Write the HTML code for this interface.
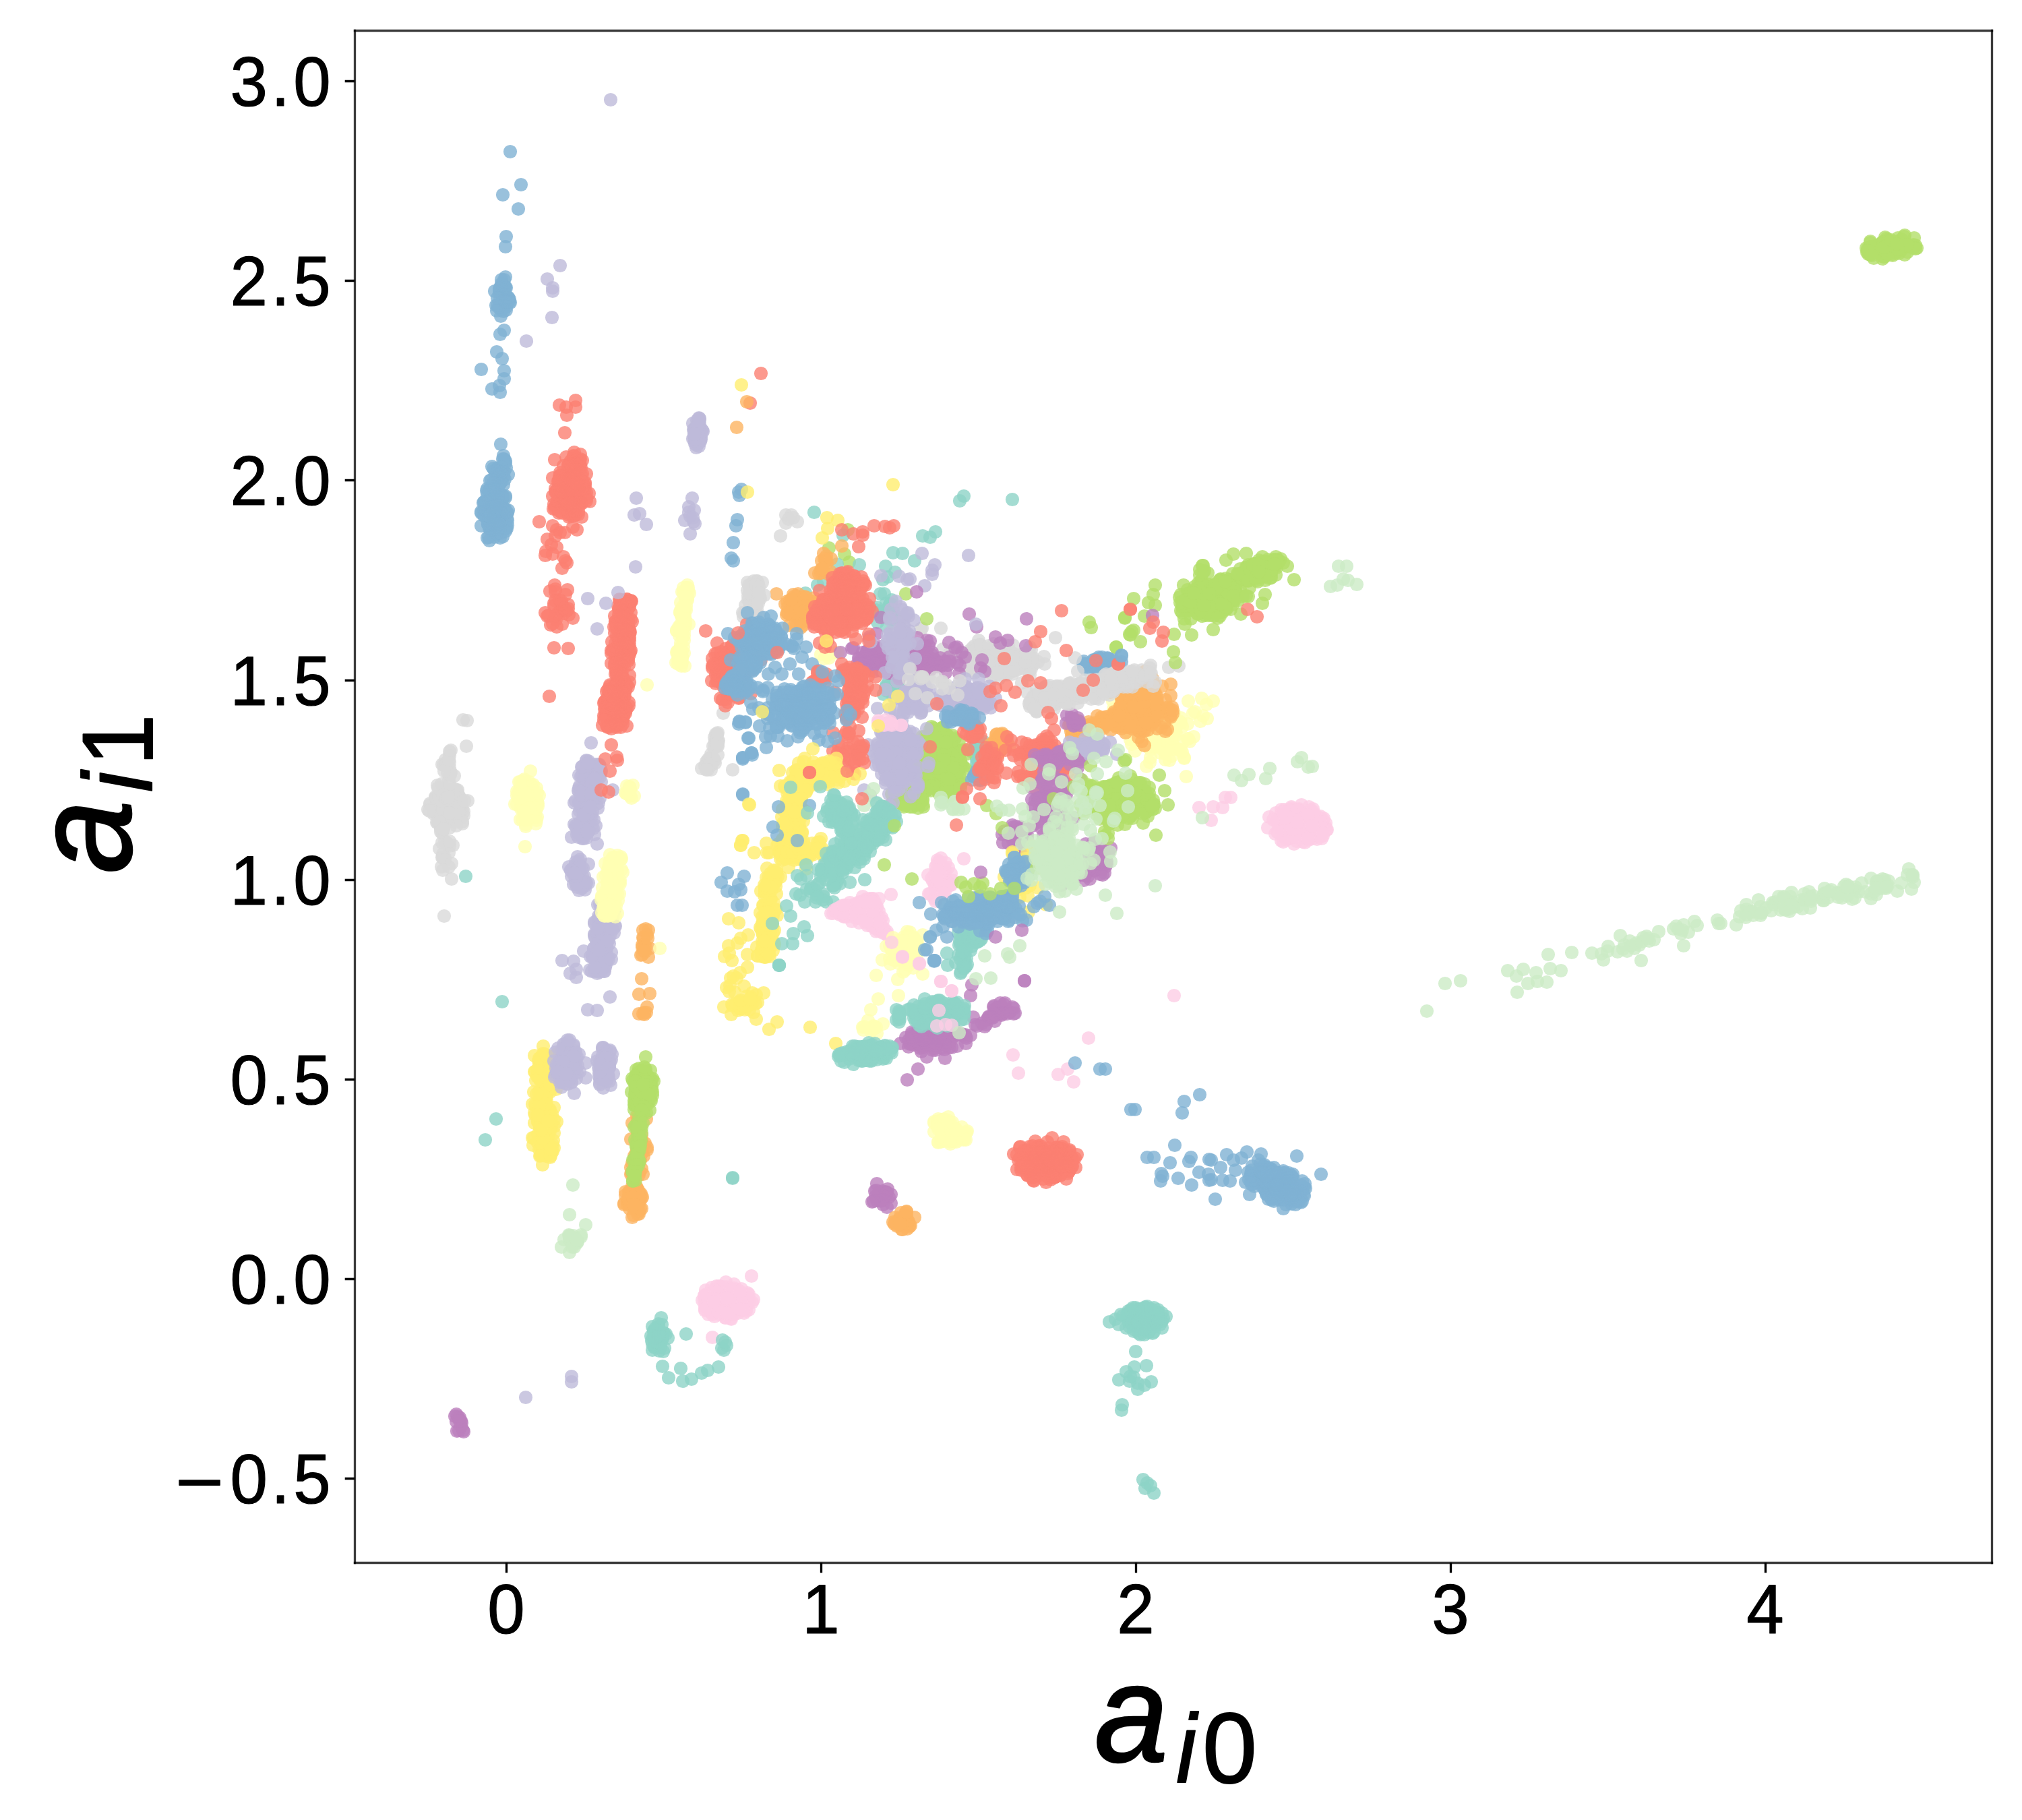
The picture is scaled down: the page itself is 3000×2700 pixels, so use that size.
<!DOCTYPE html>
<html lang="en"><head><meta charset="utf-8"><title>a_i0 vs a_i1 scatter</title>
<style>
html,body{margin:0;padding:0;background:#fff}
svg{display:block}
circle{r:10.1px}
text{font-family:"Liberation Sans",sans-serif;fill:#000}
.i{font-style:italic}
</style></head><body>
<svg width="3000" height="2700" viewBox="0 0 3000 2700">
<rect width="3000" height="2700" fill="#fff"/>
<g fill-opacity="0.8">
<g fill="#80b1d3"><circle cx="757" cy="225" r="10"/><circle cx="773" cy="274" r="10"/><circle cx="746" cy="289" r="10"/><circle cx="769" cy="310" r="10"/><circle cx="751" cy="351" r="10"/><circle cx="750" cy="366" r="10"/></g>
<g fill="#80b1d3"><circle cx="745" cy="447" r="10"/><circle cx="746" cy="432" r="10"/><circle cx="741" cy="434" r="10"/><circle cx="754" cy="446" r="10"/><circle cx="754" cy="442" r="10"/><circle cx="750" cy="441" r="10"/><circle cx="736" cy="453" r="10"/><circle cx="750" cy="447" r="10"/><circle cx="741" cy="430" r="10"/><circle cx="749" cy="437" r="10"/><circle cx="750" cy="426" r="10"/><circle cx="749" cy="445" r="10"/><circle cx="743" cy="469" r="10"/><circle cx="751" cy="460" r="10"/><circle cx="743" cy="425" r="10"/><circle cx="745" cy="436" r="10"/><circle cx="751" cy="442" r="10"/><circle cx="744" cy="421" r="10"/><circle cx="744" cy="460" r="10"/><circle cx="742" cy="442" r="10"/><circle cx="750" cy="411" r="10"/><circle cx="747" cy="462" r="10"/><circle cx="734" cy="432" r="10"/><circle cx="746" cy="423" r="10"/><circle cx="750" cy="437" r="10"/><circle cx="738" cy="453" r="10"/><circle cx="751" cy="455" r="10"/><circle cx="756" cy="444" r="10"/><circle cx="748" cy="415" r="10"/><circle cx="751" cy="427" r="10"/><circle cx="744" cy="415" r="10"/><circle cx="741" cy="428" r="10"/><circle cx="738" cy="442" r="10"/><circle cx="756" cy="448" r="10"/><circle cx="749" cy="425" r="10"/><circle cx="740" cy="456" r="10"/><circle cx="754" cy="441" r="10"/><circle cx="749" cy="446" r="10"/><circle cx="757" cy="449" r="10"/><circle cx="750" cy="448" r="10"/><circle cx="737" cy="461" r="10"/><circle cx="753" cy="448" r="10"/></g>
<g fill="#80b1d3"><circle cx="748" cy="490" r="10"/><circle cx="742" cy="496" r="10"/><circle cx="737" cy="522" r="10"/><circle cx="745" cy="532" r="10"/><circle cx="714" cy="548" r="10"/><circle cx="748" cy="550" r="10"/><circle cx="748" cy="562" r="10"/><circle cx="741" cy="572" r="10"/><circle cx="730" cy="577" r="10"/><circle cx="742" cy="582" r="10"/></g>
<g fill="#bebada"><circle cx="906" cy="148" r="10"/><circle cx="831" cy="394" r="10"/><circle cx="812" cy="414" r="10"/><circle cx="820" cy="427" r="10"/><circle cx="820" cy="432" r="10"/><circle cx="819" cy="471" r="10"/><circle cx="781" cy="506" r="10"/></g>
<g fill="#80b1d3"><circle cx="743" cy="659" r="10"/></g>
<g fill="#80b1d3"><circle cx="730" cy="692" r="10"/><circle cx="747" cy="676" r="10"/><circle cx="741" cy="713" r="10"/><circle cx="734" cy="721" r="10"/><circle cx="745" cy="698" r="10"/><circle cx="744" cy="708" r="10"/><circle cx="743" cy="715" r="10"/><circle cx="738" cy="695" r="10"/><circle cx="748" cy="700" r="10"/><circle cx="737" cy="712" r="10"/><circle cx="751" cy="694" r="10"/><circle cx="734" cy="698" r="10"/><circle cx="741" cy="696" r="10"/><circle cx="750" cy="687" r="10"/><circle cx="750" cy="684" r="10"/><circle cx="737" cy="708" r="10"/><circle cx="749" cy="711" r="10"/><circle cx="744" cy="702" r="10"/><circle cx="743" cy="708" r="10"/><circle cx="741" cy="704" r="10"/><circle cx="745" cy="700" r="10"/><circle cx="747" cy="707" r="10"/><circle cx="754" cy="704" r="10"/><circle cx="739" cy="695" r="10"/><circle cx="742" cy="712" r="10"/><circle cx="740" cy="705" r="10"/><circle cx="735" cy="703" r="10"/><circle cx="744" cy="703" r="10"/><circle cx="739" cy="708" r="10"/><circle cx="744" cy="693" r="10"/><circle cx="739" cy="699" r="10"/><circle cx="741" cy="699" r="10"/><circle cx="748" cy="685" r="10"/><circle cx="742" cy="712" r="10"/><circle cx="747" cy="719" r="10"/><circle cx="732" cy="695" r="10"/><circle cx="740" cy="708" r="10"/><circle cx="748" cy="681" r="10"/><circle cx="746" cy="681" r="10"/><circle cx="743" cy="716" r="10"/></g>
<g fill="#80b1d3"><circle cx="732" cy="765" r="10"/><circle cx="742" cy="763" r="10"/><circle cx="733" cy="797" r="10"/><circle cx="745" cy="753" r="10"/><circle cx="744" cy="754" r="10"/><circle cx="735" cy="777" r="10"/><circle cx="736" cy="775" r="10"/><circle cx="740" cy="737" r="10"/><circle cx="723" cy="725" r="10"/><circle cx="747" cy="778" r="10"/><circle cx="750" cy="738" r="10"/><circle cx="734" cy="733" r="10"/><circle cx="742" cy="798" r="10"/><circle cx="725" cy="797" r="10"/><circle cx="744" cy="756" r="10"/><circle cx="733" cy="746" r="10"/><circle cx="738" cy="770" r="10"/><circle cx="750" cy="736" r="10"/><circle cx="746" cy="796" r="10"/><circle cx="749" cy="756" r="10"/><circle cx="726" cy="784" r="10"/><circle cx="735" cy="763" r="10"/><circle cx="749" cy="754" r="10"/><circle cx="714" cy="780" r="10"/><circle cx="737" cy="745" r="10"/><circle cx="734" cy="780" r="10"/><circle cx="735" cy="792" r="10"/><circle cx="733" cy="785" r="10"/><circle cx="727" cy="781" r="10"/><circle cx="721" cy="760" r="10"/><circle cx="732" cy="759" r="10"/><circle cx="728" cy="766" r="10"/><circle cx="753" cy="761" r="10"/><circle cx="740" cy="784" r="10"/><circle cx="732" cy="730" r="10"/><circle cx="728" cy="786" r="10"/><circle cx="717" cy="746" r="10"/><circle cx="745" cy="779" r="10"/><circle cx="734" cy="779" r="10"/><circle cx="736" cy="732" r="10"/><circle cx="718" cy="745" r="10"/><circle cx="744" cy="746" r="10"/><circle cx="724" cy="742" r="10"/><circle cx="718" cy="757" r="10"/><circle cx="722" cy="769" r="10"/><circle cx="727" cy="713" r="10"/><circle cx="742" cy="753" r="10"/><circle cx="737" cy="749" r="10"/><circle cx="742" cy="778" r="10"/><circle cx="741" cy="768" r="10"/><circle cx="748" cy="776" r="10"/><circle cx="743" cy="791" r="10"/><circle cx="731" cy="749" r="10"/><circle cx="724" cy="777" r="10"/><circle cx="754" cy="757" r="10"/><circle cx="740" cy="782" r="10"/><circle cx="724" cy="758" r="10"/><circle cx="737" cy="780" r="10"/><circle cx="734" cy="755" r="10"/><circle cx="723" cy="751" r="10"/><circle cx="743" cy="762" r="10"/><circle cx="725" cy="740" r="10"/><circle cx="740" cy="772" r="10"/><circle cx="752" cy="770" r="10"/><circle cx="733" cy="772" r="10"/><circle cx="737" cy="743" r="10"/><circle cx="719" cy="744" r="10"/><circle cx="737" cy="764" r="10"/><circle cx="730" cy="737" r="10"/><circle cx="722" cy="728" r="10"/><circle cx="752" cy="784" r="10"/><circle cx="753" cy="779" r="10"/><circle cx="725" cy="766" r="10"/><circle cx="733" cy="772" r="10"/><circle cx="726" cy="757" r="10"/><circle cx="739" cy="769" r="10"/><circle cx="741" cy="765" r="10"/><circle cx="731" cy="779" r="10"/><circle cx="734" cy="740" r="10"/><circle cx="727" cy="760" r="10"/><circle cx="733" cy="764" r="10"/><circle cx="734" cy="764" r="10"/><circle cx="733" cy="730" r="10"/><circle cx="738" cy="785" r="10"/><circle cx="739" cy="756" r="10"/><circle cx="739" cy="737" r="10"/><circle cx="714" cy="761" r="10"/><circle cx="724" cy="778" r="10"/><circle cx="723" cy="798" r="10"/><circle cx="730" cy="727" r="10"/><circle cx="726" cy="772" r="10"/><circle cx="739" cy="764" r="10"/><circle cx="750" cy="777" r="10"/><circle cx="734" cy="774" r="10"/><circle cx="751" cy="783" r="10"/><circle cx="745" cy="734" r="10"/><circle cx="732" cy="778" r="10"/><circle cx="731" cy="786" r="10"/><circle cx="740" cy="782" r="10"/><circle cx="747" cy="755" r="10"/><circle cx="730" cy="781" r="10"/><circle cx="744" cy="760" r="10"/><circle cx="722" cy="764" r="10"/><circle cx="738" cy="787" r="10"/><circle cx="742" cy="761" r="10"/><circle cx="743" cy="773" r="10"/><circle cx="736" cy="761" r="10"/><circle cx="731" cy="776" r="10"/><circle cx="723" cy="745" r="10"/><circle cx="734" cy="725" r="10"/><circle cx="729" cy="712" r="10"/><circle cx="727" cy="774" r="10"/><circle cx="740" cy="759" r="10"/><circle cx="732" cy="726" r="10"/><circle cx="753" cy="772" r="10"/><circle cx="746" cy="739" r="10"/><circle cx="732" cy="716" r="10"/><circle cx="742" cy="782" r="10"/><circle cx="714" cy="759" r="10"/><circle cx="741" cy="718" r="10"/><circle cx="727" cy="726" r="10"/><circle cx="734" cy="766" r="10"/><circle cx="741" cy="777" r="10"/><circle cx="750" cy="788" r="10"/><circle cx="720" cy="748" r="10"/><circle cx="723" cy="734" r="10"/><circle cx="733" cy="760" r="10"/><circle cx="739" cy="722" r="10"/><circle cx="721" cy="759" r="10"/><circle cx="732" cy="752" r="10"/><circle cx="733" cy="742" r="10"/><circle cx="741" cy="768" r="10"/><circle cx="733" cy="744" r="10"/><circle cx="724" cy="761" r="10"/><circle cx="718" cy="765" r="10"/><circle cx="736" cy="727" r="10"/><circle cx="731" cy="752" r="10"/><circle cx="739" cy="775" r="10"/><circle cx="734" cy="740" r="10"/><circle cx="732" cy="758" r="10"/><circle cx="742" cy="767" r="10"/><circle cx="726" cy="728" r="10"/><circle cx="730" cy="742" r="10"/><circle cx="722" cy="757" r="10"/><circle cx="729" cy="762" r="10"/><circle cx="740" cy="750" r="10"/><circle cx="746" cy="763" r="10"/><circle cx="726" cy="766" r="10"/><circle cx="737" cy="791" r="10"/><circle cx="742" cy="783" r="10"/><circle cx="739" cy="756" r="10"/><circle cx="739" cy="734" r="10"/><circle cx="746" cy="736" r="10"/><circle cx="732" cy="760" r="10"/><circle cx="746" cy="761" r="10"/><circle cx="726" cy="766" r="10"/><circle cx="740" cy="777" r="10"/><circle cx="726" cy="802" r="10"/><circle cx="752" cy="760" r="10"/><circle cx="737" cy="750" r="10"/></g>
<g fill="#fb8072"><circle cx="830" cy="601" r="10"/><circle cx="840" cy="604" r="10"/><circle cx="854" cy="594" r="10"/><circle cx="854" cy="604" r="10"/><circle cx="841" cy="616" r="10"/><circle cx="838" cy="642" r="10"/></g>
<g fill="#fb8072"><circle cx="861" cy="681" r="10"/><circle cx="856" cy="684" r="10"/><circle cx="848" cy="699" r="10"/><circle cx="861" cy="690" r="10"/><circle cx="848" cy="700" r="10"/><circle cx="852" cy="694" r="10"/><circle cx="862" cy="705" r="10"/><circle cx="852" cy="700" r="10"/><circle cx="848" cy="689" r="10"/><circle cx="861" cy="674" r="10"/><circle cx="860" cy="684" r="10"/><circle cx="852" cy="686" r="10"/><circle cx="851" cy="676" r="10"/><circle cx="852" cy="671" r="10"/><circle cx="852" cy="694" r="10"/><circle cx="855" cy="687" r="10"/><circle cx="846" cy="692" r="10"/><circle cx="849" cy="710" r="10"/><circle cx="857" cy="688" r="10"/><circle cx="849" cy="681" r="10"/><circle cx="846" cy="685" r="10"/><circle cx="854" cy="697" r="10"/><circle cx="847" cy="690" r="10"/><circle cx="849" cy="692" r="10"/><circle cx="853" cy="695" r="10"/><circle cx="850" cy="695" r="10"/><circle cx="852" cy="700" r="10"/><circle cx="840" cy="678" r="10"/><circle cx="852" cy="677" r="10"/><circle cx="845" cy="698" r="10"/><circle cx="848" cy="698" r="10"/><circle cx="857" cy="694" r="10"/><circle cx="855" cy="689" r="10"/><circle cx="843" cy="690" r="10"/><circle cx="855" cy="683" r="10"/><circle cx="851" cy="700" r="10"/><circle cx="846" cy="698" r="10"/><circle cx="864" cy="683" r="10"/><circle cx="853" cy="688" r="10"/><circle cx="862" cy="694" r="10"/></g>
<g fill="#fb8072"><circle cx="859" cy="715" r="10"/><circle cx="846" cy="730" r="10"/><circle cx="859" cy="692" r="10"/><circle cx="857" cy="727" r="10"/><circle cx="852" cy="738" r="10"/><circle cx="824" cy="725" r="10"/><circle cx="868" cy="718" r="10"/><circle cx="831" cy="701" r="10"/><circle cx="828" cy="737" r="10"/><circle cx="870" cy="739" r="10"/><circle cx="838" cy="716" r="10"/><circle cx="854" cy="742" r="10"/><circle cx="831" cy="705" r="10"/><circle cx="850" cy="735" r="10"/><circle cx="827" cy="726" r="10"/><circle cx="838" cy="740" r="10"/><circle cx="844" cy="728" r="10"/><circle cx="841" cy="753" r="10"/><circle cx="866" cy="722" r="10"/><circle cx="858" cy="714" r="10"/><circle cx="847" cy="746" r="10"/><circle cx="868" cy="722" r="10"/><circle cx="845" cy="734" r="10"/><circle cx="824" cy="730" r="10"/><circle cx="836" cy="738" r="10"/><circle cx="847" cy="736" r="10"/><circle cx="838" cy="749" r="10"/><circle cx="842" cy="717" r="10"/><circle cx="853" cy="696" r="10"/><circle cx="836" cy="730" r="10"/><circle cx="858" cy="726" r="10"/><circle cx="850" cy="716" r="10"/><circle cx="850" cy="766" r="10"/><circle cx="837" cy="730" r="10"/><circle cx="848" cy="752" r="10"/><circle cx="855" cy="747" r="10"/><circle cx="849" cy="736" r="10"/><circle cx="860" cy="738" r="10"/><circle cx="870" cy="703" r="10"/><circle cx="858" cy="722" r="10"/><circle cx="846" cy="724" r="10"/><circle cx="839" cy="712" r="10"/><circle cx="837" cy="744" r="10"/><circle cx="846" cy="731" r="10"/><circle cx="844" cy="750" r="10"/><circle cx="853" cy="727" r="10"/><circle cx="856" cy="727" r="10"/><circle cx="829" cy="761" r="10"/><circle cx="853" cy="709" r="10"/><circle cx="862" cy="737" r="10"/><circle cx="851" cy="749" r="10"/><circle cx="849" cy="727" r="10"/><circle cx="824" cy="751" r="10"/><circle cx="846" cy="724" r="10"/><circle cx="851" cy="732" r="10"/><circle cx="856" cy="722" r="10"/><circle cx="840" cy="744" r="10"/><circle cx="865" cy="722" r="10"/><circle cx="844" cy="764" r="10"/><circle cx="841" cy="746" r="10"/><circle cx="870" cy="731" r="10"/><circle cx="864" cy="715" r="10"/><circle cx="849" cy="728" r="10"/><circle cx="848" cy="754" r="10"/><circle cx="838" cy="741" r="10"/><circle cx="831" cy="741" r="10"/><circle cx="854" cy="724" r="10"/><circle cx="854" cy="697" r="10"/><circle cx="857" cy="697" r="10"/><circle cx="836" cy="718" r="10"/><circle cx="840" cy="748" r="10"/><circle cx="847" cy="722" r="10"/><circle cx="854" cy="764" r="10"/><circle cx="846" cy="738" r="10"/><circle cx="864" cy="736" r="10"/><circle cx="845" cy="739" r="10"/><circle cx="860" cy="744" r="10"/><circle cx="842" cy="707" r="10"/><circle cx="848" cy="752" r="10"/><circle cx="830" cy="708" r="10"/><circle cx="846" cy="688" r="10"/><circle cx="842" cy="721" r="10"/><circle cx="852" cy="715" r="10"/><circle cx="833" cy="722" r="10"/><circle cx="845" cy="716" r="10"/><circle cx="846" cy="746" r="10"/><circle cx="863" cy="767" r="10"/><circle cx="835" cy="721" r="10"/><circle cx="836" cy="729" r="10"/><circle cx="854" cy="701" r="10"/><circle cx="853" cy="729" r="10"/><circle cx="820" cy="736" r="10"/><circle cx="858" cy="734" r="10"/><circle cx="853" cy="740" r="10"/><circle cx="865" cy="725" r="10"/><circle cx="859" cy="721" r="10"/><circle cx="857" cy="712" r="10"/><circle cx="844" cy="767" r="10"/><circle cx="852" cy="727" r="10"/><circle cx="829" cy="713" r="10"/><circle cx="849" cy="750" r="10"/><circle cx="852" cy="741" r="10"/><circle cx="845" cy="759" r="10"/><circle cx="840" cy="718" r="10"/><circle cx="859" cy="731" r="10"/><circle cx="842" cy="718" r="10"/><circle cx="842" cy="743" r="10"/><circle cx="851" cy="704" r="10"/><circle cx="852" cy="734" r="10"/><circle cx="832" cy="747" r="10"/><circle cx="842" cy="723" r="10"/><circle cx="858" cy="758" r="10"/><circle cx="836" cy="739" r="10"/><circle cx="839" cy="756" r="10"/><circle cx="837" cy="747" r="10"/><circle cx="840" cy="741" r="10"/><circle cx="845" cy="716" r="10"/><circle cx="822" cy="748" r="10"/><circle cx="821" cy="755" r="10"/><circle cx="838" cy="733" r="10"/><circle cx="864" cy="732" r="10"/><circle cx="863" cy="746" r="10"/><circle cx="834" cy="748" r="10"/><circle cx="853" cy="744" r="10"/><circle cx="859" cy="746" r="10"/><circle cx="848" cy="741" r="10"/><circle cx="841" cy="731" r="10"/><circle cx="859" cy="720" r="10"/><circle cx="863" cy="713" r="10"/><circle cx="850" cy="719" r="10"/><circle cx="848" cy="715" r="10"/><circle cx="823" cy="754" r="10"/><circle cx="850" cy="718" r="10"/><circle cx="849" cy="751" r="10"/><circle cx="832" cy="728" r="10"/><circle cx="854" cy="741" r="10"/><circle cx="864" cy="737" r="10"/><circle cx="846" cy="724" r="10"/><circle cx="850" cy="721" r="10"/><circle cx="831" cy="714" r="10"/><circle cx="837" cy="717" r="10"/><circle cx="829" cy="744" r="10"/><circle cx="827" cy="744" r="10"/><circle cx="831" cy="738" r="10"/><circle cx="866" cy="734" r="10"/><circle cx="835" cy="731" r="10"/><circle cx="848" cy="693" r="10"/><circle cx="837" cy="734" r="10"/><circle cx="839" cy="732" r="10"/><circle cx="857" cy="746" r="10"/><circle cx="859" cy="743" r="10"/><circle cx="842" cy="730" r="10"/><circle cx="842" cy="723" r="10"/><circle cx="843" cy="693" r="10"/><circle cx="841" cy="730" r="10"/><circle cx="832" cy="730" r="10"/><circle cx="854" cy="726" r="10"/><circle cx="843" cy="691" r="10"/><circle cx="854" cy="724" r="10"/><circle cx="858" cy="738" r="10"/><circle cx="846" cy="717" r="10"/><circle cx="855" cy="720" r="10"/><circle cx="849" cy="719" r="10"/><circle cx="849" cy="746" r="10"/><circle cx="833" cy="729" r="10"/><circle cx="855" cy="733" r="10"/><circle cx="858" cy="763" r="10"/><circle cx="859" cy="748" r="10"/><circle cx="837" cy="715" r="10"/><circle cx="859" cy="710" r="10"/><circle cx="820" cy="709" r="10"/><circle cx="836" cy="714" r="10"/><circle cx="849" cy="714" r="10"/><circle cx="865" cy="728" r="10"/><circle cx="830" cy="758" r="10"/><circle cx="838" cy="735" r="10"/><circle cx="846" cy="723" r="10"/><circle cx="851" cy="715" r="10"/><circle cx="828" cy="714" r="10"/><circle cx="846" cy="731" r="10"/><circle cx="854" cy="733" r="10"/><circle cx="834" cy="715" r="10"/><circle cx="853" cy="741" r="10"/><circle cx="844" cy="726" r="10"/><circle cx="860" cy="730" r="10"/><circle cx="857" cy="742" r="10"/><circle cx="849" cy="758" r="10"/><circle cx="838" cy="722" r="10"/><circle cx="834" cy="713" r="10"/><circle cx="846" cy="742" r="10"/><circle cx="863" cy="747" r="10"/><circle cx="864" cy="703" r="10"/><circle cx="837" cy="740" r="10"/><circle cx="867" cy="732" r="10"/><circle cx="834" cy="722" r="10"/><circle cx="836" cy="712" r="10"/><circle cx="868" cy="716" r="10"/><circle cx="863" cy="737" r="10"/><circle cx="837" cy="739" r="10"/><circle cx="870" cy="743" r="10"/><circle cx="864" cy="732" r="10"/><circle cx="854" cy="726" r="10"/><circle cx="852" cy="758" r="10"/><circle cx="825" cy="729" r="10"/><circle cx="850" cy="718" r="10"/><circle cx="842" cy="747" r="10"/><circle cx="875" cy="744" r="10"/><circle cx="851" cy="697" r="10"/><circle cx="874" cy="732" r="10"/><circle cx="846" cy="706" r="10"/><circle cx="845" cy="706" r="10"/><circle cx="847" cy="740" r="10"/><circle cx="846" cy="736" r="10"/><circle cx="834" cy="761" r="10"/><circle cx="836" cy="691" r="10"/><circle cx="843" cy="714" r="10"/><circle cx="831" cy="722" r="10"/><circle cx="850" cy="705" r="10"/><circle cx="844" cy="761" r="10"/><circle cx="856" cy="727" r="10"/><circle cx="848" cy="727" r="10"/><circle cx="845" cy="746" r="10"/><circle cx="846" cy="711" r="10"/><circle cx="855" cy="717" r="10"/><circle cx="831" cy="706" r="10"/></g>
<g fill="#fb8072"><circle cx="823" cy="682" r="10"/><circle cx="800" cy="774" r="10"/><circle cx="820" cy="780" r="10"/><circle cx="826" cy="786" r="10"/><circle cx="838" cy="790" r="10"/><circle cx="850" cy="782" r="10"/><circle cx="856" cy="786" r="10"/><circle cx="812" cy="800" r="10"/><circle cx="824" cy="795" r="10"/><circle cx="831" cy="790" r="10"/><circle cx="818" cy="808" r="10"/><circle cx="826" cy="812" r="10"/><circle cx="810" cy="818" r="10"/><circle cx="820" cy="822" r="10"/><circle cx="809" cy="824" r="10"/><circle cx="836" cy="826" r="10"/><circle cx="839" cy="832" r="10"/><circle cx="834" cy="843" r="10"/><circle cx="841" cy="835" r="10"/><circle cx="822" cy="961" r="10"/><circle cx="843" cy="962" r="10"/><circle cx="815" cy="1033" r="10"/></g>
<g fill="#fb8072"><circle cx="809" cy="909" r="10"/><circle cx="823" cy="868" r="10"/><circle cx="814" cy="913" r="10"/><circle cx="822" cy="895" r="10"/><circle cx="834" cy="926" r="10"/><circle cx="832" cy="905" r="10"/><circle cx="827" cy="910" r="10"/><circle cx="833" cy="903" r="10"/><circle cx="824" cy="878" r="10"/><circle cx="824" cy="874" r="10"/><circle cx="844" cy="912" r="10"/><circle cx="817" cy="927" r="10"/><circle cx="850" cy="917" r="10"/><circle cx="836" cy="910" r="10"/><circle cx="832" cy="905" r="10"/><circle cx="842" cy="875" r="10"/><circle cx="816" cy="877" r="10"/><circle cx="824" cy="891" r="10"/><circle cx="834" cy="907" r="10"/><circle cx="830" cy="890" r="10"/><circle cx="825" cy="919" r="10"/><circle cx="838" cy="904" r="10"/><circle cx="826" cy="930" r="10"/><circle cx="824" cy="914" r="10"/><circle cx="843" cy="897" r="10"/><circle cx="839" cy="882" r="10"/><circle cx="841" cy="906" r="10"/><circle cx="812" cy="914" r="10"/><circle cx="820" cy="925" r="10"/><circle cx="822" cy="899" r="10"/><circle cx="833" cy="896" r="10"/><circle cx="833" cy="892" r="10"/><circle cx="837" cy="902" r="10"/><circle cx="843" cy="903" r="10"/></g>
<g fill="#fb8072"><circle cx="919" cy="983" r="10"/><circle cx="925" cy="984" r="10"/><circle cx="920" cy="955" r="10"/><circle cx="919" cy="1072" r="10"/><circle cx="921" cy="943" r="10"/><circle cx="907" cy="984" r="10"/><circle cx="929" cy="910" r="10"/><circle cx="918" cy="1041" r="10"/><circle cx="914" cy="1023" r="10"/><circle cx="934" cy="958" r="10"/><circle cx="935" cy="967" r="10"/><circle cx="918" cy="904" r="10"/><circle cx="907" cy="1060" r="10"/><circle cx="923" cy="939" r="10"/><circle cx="922" cy="1064" r="10"/><circle cx="913" cy="1060" r="10"/><circle cx="934" cy="934" r="10"/><circle cx="913" cy="1034" r="10"/><circle cx="921" cy="1035" r="10"/><circle cx="929" cy="952" r="10"/><circle cx="920" cy="918" r="10"/><circle cx="927" cy="1033" r="10"/><circle cx="938" cy="922" r="10"/><circle cx="913" cy="1000" r="10"/><circle cx="921" cy="934" r="10"/><circle cx="929" cy="926" r="10"/><circle cx="900" cy="1050" r="10"/><circle cx="923" cy="918" r="10"/><circle cx="918" cy="951" r="10"/><circle cx="916" cy="989" r="10"/><circle cx="920" cy="924" r="10"/><circle cx="912" cy="1077" r="10"/><circle cx="916" cy="1075" r="10"/><circle cx="897" cy="1041" r="10"/><circle cx="921" cy="1031" r="10"/><circle cx="915" cy="1012" r="10"/><circle cx="925" cy="909" r="10"/><circle cx="922" cy="894" r="10"/><circle cx="919" cy="965" r="10"/><circle cx="933" cy="986" r="10"/><circle cx="922" cy="1011" r="10"/><circle cx="917" cy="1005" r="10"/><circle cx="923" cy="967" r="10"/><circle cx="919" cy="999" r="10"/><circle cx="933" cy="933" r="10"/><circle cx="904" cy="1027" r="10"/><circle cx="927" cy="1025" r="10"/><circle cx="920" cy="1054" r="10"/><circle cx="932" cy="977" r="10"/><circle cx="926" cy="949" r="10"/><circle cx="924" cy="970" r="10"/><circle cx="918" cy="1040" r="10"/><circle cx="935" cy="938" r="10"/><circle cx="932" cy="971" r="10"/><circle cx="918" cy="967" r="10"/><circle cx="912" cy="1018" r="10"/><circle cx="920" cy="1015" r="10"/><circle cx="923" cy="1040" r="10"/><circle cx="904" cy="1076" r="10"/><circle cx="932" cy="896" r="10"/><circle cx="916" cy="1040" r="10"/><circle cx="917" cy="1071" r="10"/><circle cx="919" cy="1000" r="10"/><circle cx="921" cy="993" r="10"/><circle cx="928" cy="1013" r="10"/><circle cx="924" cy="1050" r="10"/><circle cx="913" cy="1072" r="10"/><circle cx="928" cy="929" r="10"/><circle cx="924" cy="1037" r="10"/><circle cx="920" cy="911" r="10"/><circle cx="929" cy="899" r="10"/><circle cx="925" cy="941" r="10"/><circle cx="921" cy="969" r="10"/><circle cx="924" cy="970" r="10"/><circle cx="931" cy="940" r="10"/><circle cx="926" cy="932" r="10"/><circle cx="923" cy="930" r="10"/><circle cx="932" cy="930" r="10"/><circle cx="924" cy="913" r="10"/><circle cx="934" cy="1012" r="10"/><circle cx="926" cy="980" r="10"/><circle cx="914" cy="1075" r="10"/><circle cx="932" cy="957" r="10"/><circle cx="928" cy="1048" r="10"/><circle cx="924" cy="979" r="10"/><circle cx="918" cy="912" r="10"/><circle cx="925" cy="1051" r="10"/><circle cx="912" cy="939" r="10"/><circle cx="922" cy="961" r="10"/><circle cx="918" cy="923" r="10"/><circle cx="930" cy="889" r="10"/><circle cx="931" cy="936" r="10"/><circle cx="932" cy="947" r="10"/><circle cx="916" cy="1012" r="10"/><circle cx="930" cy="1017" r="10"/><circle cx="897" cy="1052" r="10"/><circle cx="921" cy="898" r="10"/><circle cx="933" cy="1042" r="10"/><circle cx="921" cy="915" r="10"/><circle cx="937" cy="892" r="10"/><circle cx="919" cy="889" r="10"/><circle cx="928" cy="937" r="10"/><circle cx="924" cy="907" r="10"/><circle cx="910" cy="1038" r="10"/><circle cx="913" cy="954" r="10"/><circle cx="898" cy="1040" r="10"/><circle cx="918" cy="920" r="10"/><circle cx="923" cy="1040" r="10"/><circle cx="905" cy="1016" r="10"/><circle cx="924" cy="1052" r="10"/><circle cx="929" cy="927" r="10"/><circle cx="926" cy="1033" r="10"/><circle cx="913" cy="972" r="10"/><circle cx="931" cy="940" r="10"/><circle cx="919" cy="933" r="10"/><circle cx="922" cy="899" r="10"/><circle cx="915" cy="978" r="10"/><circle cx="912" cy="984" r="10"/><circle cx="919" cy="993" r="10"/><circle cx="915" cy="1051" r="10"/><circle cx="932" cy="980" r="10"/><circle cx="919" cy="1052" r="10"/><circle cx="919" cy="902" r="10"/><circle cx="919" cy="1012" r="10"/><circle cx="920" cy="1006" r="10"/><circle cx="909" cy="1020" r="10"/><circle cx="915" cy="1079" r="10"/><circle cx="927" cy="894" r="10"/><circle cx="922" cy="1028" r="10"/><circle cx="920" cy="1056" r="10"/><circle cx="932" cy="960" r="10"/><circle cx="913" cy="1037" r="10"/><circle cx="932" cy="930" r="10"/><circle cx="915" cy="995" r="10"/><circle cx="919" cy="1049" r="10"/><circle cx="907" cy="965" r="10"/><circle cx="921" cy="986" r="10"/><circle cx="900" cy="1076" r="10"/><circle cx="915" cy="1015" r="10"/><circle cx="930" cy="950" r="10"/><circle cx="933" cy="947" r="10"/><circle cx="922" cy="1041" r="10"/><circle cx="931" cy="896" r="10"/><circle cx="928" cy="898" r="10"/><circle cx="925" cy="925" r="10"/><circle cx="924" cy="1068" r="10"/><circle cx="923" cy="1042" r="10"/><circle cx="923" cy="1066" r="10"/><circle cx="926" cy="1010" r="10"/><circle cx="928" cy="1024" r="10"/><circle cx="932" cy="930" r="10"/><circle cx="932" cy="1019" r="10"/><circle cx="924" cy="907" r="10"/><circle cx="913" cy="922" r="10"/><circle cx="909" cy="1065" r="10"/><circle cx="928" cy="1016" r="10"/><circle cx="902" cy="1039" r="10"/><circle cx="919" cy="997" r="10"/><circle cx="914" cy="969" r="10"/><circle cx="934" cy="951" r="10"/><circle cx="906" cy="1069" r="10"/><circle cx="930" cy="899" r="10"/><circle cx="928" cy="911" r="10"/><circle cx="933" cy="1047" r="10"/><circle cx="929" cy="975" r="10"/><circle cx="936" cy="891" r="10"/><circle cx="904" cy="1069" r="10"/><circle cx="921" cy="1079" r="10"/><circle cx="926" cy="908" r="10"/><circle cx="916" cy="1013" r="10"/><circle cx="925" cy="891" r="10"/><circle cx="930" cy="889" r="10"/><circle cx="916" cy="1076" r="10"/><circle cx="925" cy="905" r="10"/><circle cx="931" cy="892" r="10"/><circle cx="915" cy="1028" r="10"/><circle cx="913" cy="923" r="10"/><circle cx="926" cy="898" r="10"/><circle cx="928" cy="1055" r="10"/><circle cx="905" cy="1028" r="10"/><circle cx="910" cy="1025" r="10"/><circle cx="915" cy="977" r="10"/><circle cx="915" cy="1075" r="10"/><circle cx="914" cy="1027" r="10"/><circle cx="917" cy="1014" r="10"/><circle cx="907" cy="1046" r="10"/><circle cx="912" cy="1029" r="10"/><circle cx="920" cy="920" r="10"/><circle cx="934" cy="900" r="10"/><circle cx="930" cy="960" r="10"/><circle cx="921" cy="1020" r="10"/><circle cx="924" cy="916" r="10"/><circle cx="926" cy="1014" r="10"/><circle cx="925" cy="1011" r="10"/><circle cx="910" cy="1040" r="10"/><circle cx="909" cy="1071" r="10"/><circle cx="934" cy="946" r="10"/><circle cx="917" cy="899" r="10"/><circle cx="916" cy="1049" r="10"/><circle cx="930" cy="1051" r="10"/><circle cx="922" cy="1005" r="10"/><circle cx="904" cy="1059" r="10"/><circle cx="927" cy="962" r="10"/><circle cx="925" cy="1063" r="10"/><circle cx="915" cy="1045" r="10"/><circle cx="924" cy="939" r="10"/><circle cx="934" cy="971" r="10"/><circle cx="922" cy="1061" r="10"/><circle cx="922" cy="896" r="10"/><circle cx="928" cy="1058" r="10"/><circle cx="921" cy="999" r="10"/><circle cx="896" cy="1043" r="10"/><circle cx="910" cy="1020" r="10"/><circle cx="931" cy="905" r="10"/><circle cx="917" cy="995" r="10"/><circle cx="921" cy="1034" r="10"/><circle cx="911" cy="1069" r="10"/><circle cx="905" cy="1018" r="10"/><circle cx="919" cy="978" r="10"/><circle cx="909" cy="1033" r="10"/><circle cx="919" cy="1042" r="10"/><circle cx="914" cy="1044" r="10"/><circle cx="914" cy="1038" r="10"/><circle cx="900" cy="1061" r="10"/><circle cx="924" cy="1061" r="10"/><circle cx="920" cy="1002" r="10"/><circle cx="924" cy="924" r="10"/><circle cx="911" cy="1024" r="10"/><circle cx="930" cy="959" r="10"/><circle cx="923" cy="989" r="10"/><circle cx="915" cy="960" r="10"/><circle cx="936" cy="909" r="10"/><circle cx="936" cy="919" r="10"/><circle cx="924" cy="1004" r="10"/><circle cx="922" cy="891" r="10"/><circle cx="921" cy="982" r="10"/><circle cx="920" cy="998" r="10"/><circle cx="907" cy="969" r="10"/><circle cx="910" cy="1071" r="10"/><circle cx="930" cy="1077" r="10"/><circle cx="919" cy="937" r="10"/><circle cx="925" cy="923" r="10"/><circle cx="919" cy="903" r="10"/><circle cx="910" cy="1057" r="10"/><circle cx="933" cy="901" r="10"/><circle cx="922" cy="1004" r="10"/><circle cx="909" cy="1074" r="10"/><circle cx="934" cy="939" r="10"/><circle cx="917" cy="1074" r="10"/><circle cx="925" cy="1019" r="10"/><circle cx="921" cy="918" r="10"/><circle cx="905" cy="1075" r="10"/><circle cx="929" cy="896" r="10"/><circle cx="934" cy="939" r="10"/><circle cx="896" cy="1062" r="10"/><circle cx="898" cy="1049" r="10"/><circle cx="912" cy="1025" r="10"/><circle cx="914" cy="1013" r="10"/><circle cx="927" cy="916" r="10"/><circle cx="902" cy="1033" r="10"/><circle cx="928" cy="946" r="10"/><circle cx="918" cy="1003" r="10"/><circle cx="927" cy="951" r="10"/><circle cx="918" cy="937" r="10"/><circle cx="920" cy="920" r="10"/><circle cx="918" cy="934" r="10"/><circle cx="920" cy="890" r="10"/><circle cx="915" cy="1027" r="10"/><circle cx="910" cy="1068" r="10"/><circle cx="911" cy="930" r="10"/><circle cx="921" cy="1061" r="10"/><circle cx="930" cy="915" r="10"/><circle cx="911" cy="1068" r="10"/><circle cx="921" cy="1052" r="10"/><circle cx="929" cy="954" r="10"/><circle cx="927" cy="1049" r="10"/><circle cx="925" cy="916" r="10"/><circle cx="914" cy="930" r="10"/><circle cx="914" cy="995" r="10"/><circle cx="922" cy="916" r="10"/><circle cx="926" cy="968" r="10"/><circle cx="928" cy="918" r="10"/><circle cx="908" cy="952" r="10"/><circle cx="932" cy="921" r="10"/><circle cx="912" cy="1063" r="10"/><circle cx="924" cy="910" r="10"/><circle cx="913" cy="1062" r="10"/><circle cx="914" cy="1017" r="10"/><circle cx="915" cy="943" r="10"/><circle cx="922" cy="938" r="10"/><circle cx="902" cy="1079" r="10"/><circle cx="907" cy="1081" r="10"/><circle cx="925" cy="944" r="10"/><circle cx="898" cy="1060" r="10"/><circle cx="919" cy="944" r="10"/><circle cx="894" cy="1076" r="10"/><circle cx="921" cy="954" r="10"/><circle cx="912" cy="914" r="10"/><circle cx="919" cy="990" r="10"/><circle cx="918" cy="930" r="10"/><circle cx="915" cy="998" r="10"/><circle cx="911" cy="1037" r="10"/><circle cx="915" cy="1026" r="10"/><circle cx="925" cy="905" r="10"/><circle cx="925" cy="1007" r="10"/><circle cx="925" cy="928" r="10"/><circle cx="922" cy="1007" r="10"/><circle cx="934" cy="1002" r="10"/><circle cx="914" cy="926" r="10"/><circle cx="916" cy="967" r="10"/><circle cx="900" cy="1026" r="10"/><circle cx="918" cy="953" r="10"/><circle cx="907" cy="1051" r="10"/><circle cx="935" cy="892" r="10"/><circle cx="922" cy="939" r="10"/><circle cx="922" cy="924" r="10"/><circle cx="932" cy="920" r="10"/><circle cx="923" cy="960" r="10"/><circle cx="920" cy="989" r="10"/><circle cx="925" cy="975" r="10"/><circle cx="917" cy="1027" r="10"/><circle cx="909" cy="1046" r="10"/><circle cx="922" cy="1026" r="10"/><circle cx="922" cy="962" r="10"/><circle cx="917" cy="1058" r="10"/><circle cx="924" cy="1074" r="10"/><circle cx="919" cy="991" r="10"/><circle cx="922" cy="931" r="10"/><circle cx="921" cy="923" r="10"/><circle cx="910" cy="1046" r="10"/><circle cx="920" cy="893" r="10"/><circle cx="919" cy="925" r="10"/><circle cx="936" cy="892" r="10"/><circle cx="926" cy="990" r="10"/><circle cx="902" cy="1023" r="10"/><circle cx="905" cy="1026" r="10"/><circle cx="922" cy="896" r="10"/><circle cx="913" cy="984" r="10"/><circle cx="918" cy="942" r="10"/><circle cx="921" cy="914" r="10"/><circle cx="915" cy="1002" r="10"/><circle cx="922" cy="1000" r="10"/><circle cx="907" cy="1032" r="10"/><circle cx="896" cy="1068" r="10"/><circle cx="936" cy="965" r="10"/><circle cx="912" cy="989" r="10"/><circle cx="909" cy="964" r="10"/><circle cx="928" cy="954" r="10"/><circle cx="929" cy="935" r="10"/><circle cx="902" cy="1078" r="10"/></g>
<g fill="#bebada"><circle cx="1038" cy="623" r="10"/><circle cx="1040" cy="649" r="10"/><circle cx="1035" cy="657" r="10"/><circle cx="1032" cy="636" r="10"/><circle cx="1033" cy="643" r="10"/><circle cx="1030" cy="650" r="10"/><circle cx="1037" cy="645" r="10"/><circle cx="1043" cy="640" r="10"/><circle cx="1041" cy="637" r="10"/><circle cx="1038" cy="621" r="10"/><circle cx="1036" cy="642" r="10"/><circle cx="1033" cy="637" r="10"/><circle cx="1033" cy="635" r="10"/><circle cx="1032" cy="638" r="10"/><circle cx="1030" cy="642" r="10"/><circle cx="1038" cy="641" r="10"/><circle cx="1033" cy="660" r="10"/><circle cx="1039" cy="655" r="10"/><circle cx="1040" cy="640" r="10"/><circle cx="1034" cy="657" r="10"/><circle cx="1032" cy="643" r="10"/><circle cx="1037" cy="648" r="10"/><circle cx="1034" cy="656" r="10"/><circle cx="1034" cy="653" r="10"/><circle cx="1040" cy="652" r="10"/><circle cx="1038" cy="630" r="10"/><circle cx="1029" cy="637" r="10"/><circle cx="1037" cy="662" r="10"/><circle cx="1030" cy="648" r="10"/><circle cx="1031" cy="635" r="10"/><circle cx="1034" cy="652" r="10"/><circle cx="1036" cy="658" r="10"/><circle cx="1031" cy="655" r="10"/><circle cx="1039" cy="645" r="10"/><circle cx="1037" cy="637" r="10"/><circle cx="1030" cy="639" r="10"/><circle cx="1033" cy="664" r="10"/><circle cx="1036" cy="648" r="10"/><circle cx="1038" cy="635" r="10"/><circle cx="1039" cy="648" r="10"/><circle cx="1028" cy="651" r="10"/><circle cx="1038" cy="649" r="10"/><circle cx="1042" cy="639" r="10"/><circle cx="1037" cy="653" r="10"/><circle cx="1031" cy="658" r="10"/><circle cx="1028" cy="628" r="10"/><circle cx="1037" cy="631" r="10"/><circle cx="1034" cy="624" r="10"/><circle cx="1035" cy="630" r="10"/><circle cx="1036" cy="626" r="10"/><circle cx="1037" cy="641" r="10"/><circle cx="1035" cy="643" r="10"/><circle cx="1036" cy="628" r="10"/><circle cx="1031" cy="638" r="10"/><circle cx="1037" cy="620" r="10"/><circle cx="1032" cy="637" r="10"/><circle cx="1030" cy="648" r="10"/><circle cx="1034" cy="634" r="10"/><circle cx="1031" cy="654" r="10"/><circle cx="1032" cy="651" r="10"/><circle cx="1037" cy="621" r="10"/><circle cx="1030" cy="644" r="10"/></g>
<g fill="#bebada"><circle cx="944" cy="739" r="10"/><circle cx="941" cy="764" r="10"/><circle cx="949" cy="762" r="10"/><circle cx="959" cy="778" r="10"/><circle cx="943" cy="841" r="10"/></g>
<g fill="#bebada"><circle cx="1027" cy="739" r="10"/><circle cx="1022" cy="752" r="10"/><circle cx="1030" cy="757" r="10"/><circle cx="1024" cy="766" r="10"/><circle cx="1016" cy="772" r="10"/><circle cx="1029" cy="774" r="10"/><circle cx="1031" cy="777" r="10"/><circle cx="1024" cy="792" r="10"/><circle cx="1022" cy="760" r="10"/><circle cx="1028" cy="768" r="10"/></g>
<g fill="#bebada"><circle cx="872" cy="888" r="10"/><circle cx="899" cy="895" r="10"/><circle cx="917" cy="879" r="10"/><circle cx="886" cy="933" r="10"/></g>
<g fill="#ffffb3"><circle cx="1018" cy="888" r="10"/><circle cx="1010" cy="936" r="10"/><circle cx="1004" cy="936" r="10"/><circle cx="1010" cy="905" r="10"/><circle cx="1004" cy="968" r="10"/><circle cx="1014" cy="918" r="10"/><circle cx="1019" cy="872" r="10"/><circle cx="1010" cy="960" r="10"/><circle cx="1008" cy="931" r="10"/><circle cx="1013" cy="929" r="10"/><circle cx="1015" cy="950" r="10"/><circle cx="1010" cy="938" r="10"/><circle cx="1009" cy="908" r="10"/><circle cx="1015" cy="930" r="10"/><circle cx="1021" cy="878" r="10"/><circle cx="1010" cy="934" r="10"/><circle cx="1004" cy="935" r="10"/><circle cx="1022" cy="926" r="10"/><circle cx="1012" cy="931" r="10"/><circle cx="1018" cy="905" r="10"/><circle cx="1006" cy="985" r="10"/><circle cx="1023" cy="880" r="10"/><circle cx="1012" cy="975" r="10"/><circle cx="1016" cy="988" r="10"/><circle cx="1012" cy="975" r="10"/><circle cx="1015" cy="901" r="10"/><circle cx="1016" cy="929" r="10"/><circle cx="1017" cy="888" r="10"/><circle cx="1015" cy="943" r="10"/><circle cx="1011" cy="988" r="10"/><circle cx="1008" cy="943" r="10"/><circle cx="1009" cy="962" r="10"/><circle cx="1016" cy="903" r="10"/><circle cx="1016" cy="903" r="10"/><circle cx="1015" cy="969" r="10"/><circle cx="1020" cy="890" r="10"/><circle cx="1017" cy="927" r="10"/><circle cx="1013" cy="945" r="10"/><circle cx="1007" cy="930" r="10"/><circle cx="1015" cy="916" r="10"/><circle cx="1014" cy="880" r="10"/><circle cx="1012" cy="878" r="10"/><circle cx="1015" cy="878" r="10"/><circle cx="1005" cy="966" r="10"/><circle cx="1012" cy="941" r="10"/><circle cx="1020" cy="868" r="10"/><circle cx="1014" cy="960" r="10"/><circle cx="1009" cy="909" r="10"/><circle cx="1017" cy="887" r="10"/><circle cx="1007" cy="976" r="10"/><circle cx="1015" cy="937" r="10"/><circle cx="1011" cy="913" r="10"/><circle cx="1014" cy="872" r="10"/><circle cx="1012" cy="983" r="10"/><circle cx="1017" cy="920" r="10"/><circle cx="1021" cy="872" r="10"/><circle cx="1006" cy="979" r="10"/><circle cx="1012" cy="976" r="10"/><circle cx="1012" cy="966" r="10"/><circle cx="1003" cy="983" r="10"/><circle cx="1010" cy="926" r="10"/><circle cx="1016" cy="914" r="10"/><circle cx="1010" cy="954" r="10"/><circle cx="1006" cy="972" r="10"/><circle cx="1013" cy="925" r="10"/><circle cx="1020" cy="888" r="10"/><circle cx="1010" cy="909" r="10"/><circle cx="1009" cy="934" r="10"/><circle cx="1011" cy="913" r="10"/><circle cx="1012" cy="915" r="10"/><circle cx="1009" cy="967" r="10"/><circle cx="1015" cy="909" r="10"/><circle cx="1013" cy="900" r="10"/><circle cx="1010" cy="894" r="10"/><circle cx="1014" cy="908" r="10"/><circle cx="1018" cy="885" r="10"/><circle cx="1018" cy="899" r="10"/><circle cx="1006" cy="968" r="10"/><circle cx="1006" cy="968" r="10"/><circle cx="1008" cy="964" r="10"/></g>
<g fill="#ffffb3"><circle cx="960" cy="1016" r="10"/></g>
<g fill="#d9d9d9"><circle cx="679" cy="1192" r="10"/><circle cx="652" cy="1207" r="10"/><circle cx="664" cy="1215" r="10"/><circle cx="661" cy="1198" r="10"/><circle cx="684" cy="1214" r="10"/><circle cx="685" cy="1192" r="10"/><circle cx="659" cy="1196" r="10"/><circle cx="688" cy="1204" r="10"/><circle cx="680" cy="1181" r="10"/><circle cx="664" cy="1197" r="10"/><circle cx="652" cy="1182" r="10"/><circle cx="650" cy="1188" r="10"/><circle cx="681" cy="1205" r="10"/><circle cx="672" cy="1204" r="10"/><circle cx="656" cy="1190" r="10"/><circle cx="661" cy="1179" r="10"/><circle cx="661" cy="1180" r="10"/><circle cx="667" cy="1209" r="10"/><circle cx="672" cy="1196" r="10"/><circle cx="675" cy="1192" r="10"/><circle cx="655" cy="1163" r="10"/><circle cx="686" cy="1201" r="10"/><circle cx="635" cy="1201" r="10"/><circle cx="661" cy="1194" r="10"/><circle cx="671" cy="1184" r="10"/><circle cx="646" cy="1184" r="10"/><circle cx="680" cy="1180" r="10"/><circle cx="647" cy="1195" r="10"/><circle cx="684" cy="1199" r="10"/><circle cx="674" cy="1220" r="10"/><circle cx="654" cy="1194" r="10"/><circle cx="663" cy="1205" r="10"/><circle cx="669" cy="1200" r="10"/><circle cx="680" cy="1191" r="10"/><circle cx="670" cy="1185" r="10"/><circle cx="688" cy="1210" r="10"/><circle cx="656" cy="1194" r="10"/><circle cx="684" cy="1188" r="10"/><circle cx="654" cy="1229" r="10"/><circle cx="667" cy="1197" r="10"/><circle cx="654" cy="1229" r="10"/><circle cx="675" cy="1191" r="10"/><circle cx="664" cy="1195" r="10"/><circle cx="674" cy="1198" r="10"/><circle cx="657" cy="1221" r="10"/><circle cx="654" cy="1219" r="10"/><circle cx="679" cy="1172" r="10"/><circle cx="683" cy="1202" r="10"/><circle cx="683" cy="1184" r="10"/><circle cx="643" cy="1207" r="10"/><circle cx="648" cy="1189" r="10"/><circle cx="668" cy="1189" r="10"/><circle cx="664" cy="1216" r="10"/><circle cx="686" cy="1222" r="10"/><circle cx="674" cy="1200" r="10"/><circle cx="655" cy="1180" r="10"/><circle cx="652" cy="1195" r="10"/><circle cx="672" cy="1183" r="10"/><circle cx="679" cy="1200" r="10"/><circle cx="680" cy="1213" r="10"/><circle cx="685" cy="1189" r="10"/><circle cx="657" cy="1196" r="10"/><circle cx="679" cy="1186" r="10"/><circle cx="678" cy="1202" r="10"/><circle cx="661" cy="1180" r="10"/><circle cx="662" cy="1204" r="10"/><circle cx="649" cy="1196" r="10"/><circle cx="658" cy="1183" r="10"/><circle cx="649" cy="1165" r="10"/><circle cx="673" cy="1199" r="10"/><circle cx="660" cy="1191" r="10"/><circle cx="681" cy="1197" r="10"/><circle cx="672" cy="1193" r="10"/><circle cx="677" cy="1189" r="10"/><circle cx="651" cy="1207" r="10"/><circle cx="676" cy="1178" r="10"/><circle cx="670" cy="1198" r="10"/><circle cx="670" cy="1195" r="10"/><circle cx="660" cy="1185" r="10"/><circle cx="664" cy="1176" r="10"/><circle cx="668" cy="1203" r="10"/><circle cx="669" cy="1179" r="10"/><circle cx="650" cy="1219" r="10"/><circle cx="658" cy="1195" r="10"/><circle cx="679" cy="1198" r="10"/><circle cx="670" cy="1200" r="10"/><circle cx="638" cy="1192" r="10"/><circle cx="676" cy="1172" r="10"/><circle cx="644" cy="1205" r="10"/><circle cx="663" cy="1202" r="10"/><circle cx="638" cy="1194" r="10"/><circle cx="653" cy="1208" r="10"/><circle cx="694" cy="1188" r="10"/><circle cx="680" cy="1179" r="10"/><circle cx="662" cy="1202" r="10"/><circle cx="657" cy="1218" r="10"/><circle cx="672" cy="1172" r="10"/><circle cx="646" cy="1184" r="10"/><circle cx="661" cy="1184" r="10"/><circle cx="667" cy="1188" r="10"/><circle cx="686" cy="1219" r="10"/><circle cx="678" cy="1205" r="10"/><circle cx="681" cy="1203" r="10"/><circle cx="666" cy="1214" r="10"/><circle cx="671" cy="1206" r="10"/><circle cx="668" cy="1214" r="10"/><circle cx="646" cy="1182" r="10"/><circle cx="673" cy="1184" r="10"/><circle cx="651" cy="1181" r="10"/><circle cx="674" cy="1170" r="10"/><circle cx="676" cy="1213" r="10"/><circle cx="637" cy="1203" r="10"/><circle cx="678" cy="1173" r="10"/><circle cx="674" cy="1188" r="10"/><circle cx="675" cy="1209" r="10"/><circle cx="677" cy="1225" r="10"/><circle cx="661" cy="1171" r="10"/><circle cx="648" cy="1220" r="10"/><circle cx="676" cy="1183" r="10"/><circle cx="650" cy="1169" r="10"/><circle cx="670" cy="1190" r="10"/><circle cx="680" cy="1198" r="10"/><circle cx="665" cy="1205" r="10"/><circle cx="689" cy="1188" r="10"/><circle cx="669" cy="1186" r="10"/></g>
<g fill="#d9d9d9"><circle cx="667" cy="1228" r="10"/><circle cx="670" cy="1195" r="10"/><circle cx="664" cy="1191" r="10"/><circle cx="658" cy="1135" r="10"/><circle cx="650" cy="1221" r="10"/><circle cx="661" cy="1134" r="10"/><circle cx="667" cy="1131" r="10"/><circle cx="662" cy="1218" r="10"/><circle cx="655" cy="1223" r="10"/><circle cx="666" cy="1157" r="10"/><circle cx="663" cy="1215" r="10"/><circle cx="656" cy="1230" r="10"/><circle cx="661" cy="1127" r="10"/><circle cx="657" cy="1200" r="10"/><circle cx="667" cy="1255" r="10"/><circle cx="661" cy="1132" r="10"/><circle cx="669" cy="1146" r="10"/><circle cx="670" cy="1304" r="10"/><circle cx="667" cy="1139" r="10"/><circle cx="657" cy="1267" r="10"/><circle cx="661" cy="1186" r="10"/><circle cx="667" cy="1115" r="10"/><circle cx="665" cy="1172" r="10"/><circle cx="672" cy="1254" r="10"/><circle cx="656" cy="1236" r="10"/><circle cx="666" cy="1286" r="10"/><circle cx="664" cy="1146" r="10"/><circle cx="666" cy="1265" r="10"/><circle cx="660" cy="1248" r="10"/><circle cx="665" cy="1187" r="10"/><circle cx="652" cy="1259" r="10"/><circle cx="667" cy="1121" r="10"/><circle cx="656" cy="1233" r="10"/><circle cx="656" cy="1272" r="10"/><circle cx="656" cy="1134" r="10"/><circle cx="667" cy="1163" r="10"/><circle cx="674" cy="1151" r="10"/><circle cx="658" cy="1228" r="10"/><circle cx="661" cy="1135" r="10"/><circle cx="660" cy="1272" r="10"/><circle cx="668" cy="1149" r="10"/><circle cx="663" cy="1250" r="10"/><circle cx="655" cy="1188" r="10"/><circle cx="652" cy="1220" r="10"/><circle cx="656" cy="1250" r="10"/><circle cx="658" cy="1180" r="10"/><circle cx="655" cy="1286" r="10"/><circle cx="657" cy="1272" r="10"/><circle cx="660" cy="1276" r="10"/><circle cx="667" cy="1248" r="10"/><circle cx="659" cy="1144" r="10"/><circle cx="670" cy="1281" r="10"/><circle cx="654" cy="1234" r="10"/><circle cx="666" cy="1127" r="10"/><circle cx="657" cy="1291" r="10"/><circle cx="658" cy="1230" r="10"/><circle cx="662" cy="1184" r="10"/><circle cx="667" cy="1206" r="10"/><circle cx="665" cy="1183" r="10"/><circle cx="669" cy="1113" r="10"/></g>
<g fill="#d9d9d9"><circle cx="687" cy="1068" r="10"/><circle cx="693" cy="1069" r="10"/><circle cx="692" cy="1107" r="10"/><circle cx="659" cy="1359" r="10"/></g>
<g fill="#8dd3c7"><circle cx="691" cy="1300" r="10"/><circle cx="745" cy="1486" r="10"/><circle cx="736" cy="1660" r="10"/><circle cx="720" cy="1691" r="10"/><circle cx="1087" cy="1748" r="10"/></g>
<g fill="#ffffb3"><circle cx="779" cy="1212" r="10"/><circle cx="784" cy="1195" r="10"/><circle cx="782" cy="1208" r="10"/><circle cx="793" cy="1186" r="10"/><circle cx="790" cy="1171" r="10"/><circle cx="783" cy="1164" r="10"/><circle cx="775" cy="1216" r="10"/><circle cx="785" cy="1194" r="10"/><circle cx="764" cy="1193" r="10"/><circle cx="770" cy="1174" r="10"/><circle cx="776" cy="1180" r="10"/><circle cx="767" cy="1180" r="10"/><circle cx="776" cy="1191" r="10"/><circle cx="782" cy="1172" r="10"/><circle cx="792" cy="1182" r="10"/><circle cx="784" cy="1178" r="10"/><circle cx="789" cy="1213" r="10"/><circle cx="782" cy="1177" r="10"/><circle cx="788" cy="1190" r="10"/><circle cx="791" cy="1190" r="10"/><circle cx="783" cy="1205" r="10"/><circle cx="775" cy="1161" r="10"/><circle cx="786" cy="1184" r="10"/><circle cx="788" cy="1205" r="10"/><circle cx="786" cy="1175" r="10"/><circle cx="776" cy="1161" r="10"/><circle cx="800" cy="1180" r="10"/><circle cx="781" cy="1201" r="10"/><circle cx="793" cy="1209" r="10"/><circle cx="782" cy="1192" r="10"/><circle cx="773" cy="1194" r="10"/><circle cx="784" cy="1185" r="10"/><circle cx="790" cy="1201" r="10"/><circle cx="783" cy="1184" r="10"/><circle cx="797" cy="1192" r="10"/><circle cx="792" cy="1197" r="10"/><circle cx="794" cy="1209" r="10"/><circle cx="773" cy="1200" r="10"/><circle cx="796" cy="1217" r="10"/><circle cx="780" cy="1223" r="10"/><circle cx="790" cy="1202" r="10"/><circle cx="777" cy="1197" r="10"/><circle cx="787" cy="1144" r="10"/><circle cx="778" cy="1156" r="10"/><circle cx="767" cy="1193" r="10"/><circle cx="790" cy="1188" r="10"/><circle cx="770" cy="1160" r="10"/><circle cx="790" cy="1184" r="10"/><circle cx="785" cy="1182" r="10"/><circle cx="784" cy="1174" r="10"/><circle cx="777" cy="1158" r="10"/><circle cx="783" cy="1187" r="10"/><circle cx="772" cy="1216" r="10"/><circle cx="787" cy="1185" r="10"/><circle cx="775" cy="1199" r="10"/><circle cx="786" cy="1212" r="10"/><circle cx="795" cy="1222" r="10"/><circle cx="791" cy="1164" r="10"/><circle cx="788" cy="1164" r="10"/><circle cx="777" cy="1172" r="10"/><circle cx="772" cy="1170" r="10"/><circle cx="796" cy="1186" r="10"/><circle cx="797" cy="1191" r="10"/><circle cx="767" cy="1174" r="10"/><circle cx="797" cy="1212" r="10"/><circle cx="781" cy="1183" r="10"/><circle cx="793" cy="1199" r="10"/><circle cx="781" cy="1213" r="10"/><circle cx="783" cy="1167" r="10"/><circle cx="798" cy="1192" r="10"/><circle cx="784" cy="1193" r="10"/><circle cx="785" cy="1160" r="10"/><circle cx="782" cy="1210" r="10"/><circle cx="786" cy="1204" r="10"/><circle cx="796" cy="1200" r="10"/><circle cx="780" cy="1226" r="10"/><circle cx="785" cy="1191" r="10"/><circle cx="783" cy="1166" r="10"/><circle cx="796" cy="1169" r="10"/><circle cx="785" cy="1197" r="10"/><circle cx="780" cy="1187" r="10"/><circle cx="779" cy="1174" r="10"/><circle cx="775" cy="1193" r="10"/><circle cx="780" cy="1167" r="10"/><circle cx="772" cy="1177" r="10"/><circle cx="778" cy="1188" r="10"/><circle cx="790" cy="1173" r="10"/><circle cx="785" cy="1199" r="10"/><circle cx="797" cy="1176" r="10"/><circle cx="777" cy="1203" r="10"/><circle cx="782" cy="1176" r="10"/><circle cx="780" cy="1217" r="10"/><circle cx="769" cy="1184" r="10"/><circle cx="798" cy="1196" r="10"/><circle cx="776" cy="1176" r="10"/><circle cx="792" cy="1198" r="10"/><circle cx="779" cy="1176" r="10"/><circle cx="772" cy="1160" r="10"/><circle cx="786" cy="1199" r="10"/><circle cx="778" cy="1204" r="10"/></g>
<g fill="#ffffb3"><circle cx="779" cy="1256" r="10"/></g>
<g fill="#bebada"><circle cx="874" cy="1220" r="10"/><circle cx="859" cy="1228" r="10"/><circle cx="848" cy="1242" r="10"/><circle cx="870" cy="1162" r="10"/><circle cx="865" cy="1242" r="10"/><circle cx="873" cy="1129" r="10"/><circle cx="871" cy="1214" r="10"/><circle cx="870" cy="1139" r="10"/><circle cx="864" cy="1137" r="10"/><circle cx="860" cy="1166" r="10"/><circle cx="874" cy="1232" r="10"/><circle cx="858" cy="1242" r="10"/><circle cx="866" cy="1220" r="10"/><circle cx="858" cy="1208" r="10"/><circle cx="872" cy="1155" r="10"/><circle cx="871" cy="1178" r="10"/><circle cx="864" cy="1244" r="10"/><circle cx="870" cy="1165" r="10"/><circle cx="875" cy="1185" r="10"/><circle cx="882" cy="1144" r="10"/><circle cx="866" cy="1208" r="10"/><circle cx="877" cy="1145" r="10"/><circle cx="888" cy="1142" r="10"/><circle cx="873" cy="1169" r="10"/><circle cx="872" cy="1214" r="10"/><circle cx="871" cy="1160" r="10"/><circle cx="870" cy="1135" r="10"/><circle cx="887" cy="1134" r="10"/><circle cx="871" cy="1193" r="10"/><circle cx="859" cy="1169" r="10"/><circle cx="869" cy="1204" r="10"/><circle cx="885" cy="1193" r="10"/><circle cx="870" cy="1243" r="10"/><circle cx="869" cy="1230" r="10"/><circle cx="883" cy="1166" r="10"/><circle cx="863" cy="1176" r="10"/><circle cx="875" cy="1173" r="10"/><circle cx="864" cy="1198" r="10"/><circle cx="873" cy="1200" r="10"/><circle cx="873" cy="1172" r="10"/><circle cx="870" cy="1141" r="10"/><circle cx="863" cy="1226" r="10"/><circle cx="875" cy="1210" r="10"/><circle cx="859" cy="1191" r="10"/><circle cx="874" cy="1165" r="10"/><circle cx="868" cy="1215" r="10"/><circle cx="880" cy="1229" r="10"/><circle cx="866" cy="1244" r="10"/><circle cx="886" cy="1157" r="10"/><circle cx="884" cy="1174" r="10"/><circle cx="878" cy="1212" r="10"/><circle cx="863" cy="1199" r="10"/><circle cx="875" cy="1208" r="10"/><circle cx="859" cy="1190" r="10"/><circle cx="881" cy="1155" r="10"/><circle cx="871" cy="1235" r="10"/><circle cx="874" cy="1184" r="10"/><circle cx="883" cy="1185" r="10"/><circle cx="862" cy="1152" r="10"/><circle cx="854" cy="1188" r="10"/><circle cx="888" cy="1191" r="10"/><circle cx="878" cy="1156" r="10"/><circle cx="871" cy="1148" r="10"/><circle cx="879" cy="1204" r="10"/><circle cx="852" cy="1223" r="10"/><circle cx="889" cy="1134" r="10"/><circle cx="864" cy="1172" r="10"/><circle cx="892" cy="1144" r="10"/><circle cx="876" cy="1146" r="10"/><circle cx="869" cy="1169" r="10"/><circle cx="878" cy="1223" r="10"/><circle cx="878" cy="1138" r="10"/><circle cx="858" cy="1173" r="10"/><circle cx="872" cy="1181" r="10"/><circle cx="867" cy="1183" r="10"/><circle cx="891" cy="1147" r="10"/><circle cx="877" cy="1208" r="10"/><circle cx="866" cy="1155" r="10"/><circle cx="878" cy="1172" r="10"/><circle cx="870" cy="1129" r="10"/><circle cx="878" cy="1152" r="10"/><circle cx="877" cy="1149" r="10"/><circle cx="870" cy="1212" r="10"/><circle cx="867" cy="1155" r="10"/><circle cx="856" cy="1224" r="10"/><circle cx="860" cy="1228" r="10"/><circle cx="890" cy="1153" r="10"/><circle cx="862" cy="1199" r="10"/><circle cx="863" cy="1170" r="10"/><circle cx="870" cy="1171" r="10"/><circle cx="871" cy="1212" r="10"/><circle cx="860" cy="1203" r="10"/><circle cx="873" cy="1224" r="10"/><circle cx="863" cy="1195" r="10"/><circle cx="857" cy="1235" r="10"/><circle cx="877" cy="1172" r="10"/><circle cx="884" cy="1137" r="10"/><circle cx="876" cy="1217" r="10"/><circle cx="864" cy="1185" r="10"/><circle cx="866" cy="1233" r="10"/><circle cx="872" cy="1198" r="10"/><circle cx="890" cy="1184" r="10"/><circle cx="868" cy="1176" r="10"/><circle cx="864" cy="1182" r="10"/><circle cx="878" cy="1186" r="10"/><circle cx="865" cy="1187" r="10"/><circle cx="881" cy="1216" r="10"/><circle cx="859" cy="1174" r="10"/><circle cx="867" cy="1192" r="10"/><circle cx="867" cy="1218" r="10"/><circle cx="880" cy="1154" r="10"/><circle cx="875" cy="1137" r="10"/><circle cx="881" cy="1139" r="10"/><circle cx="871" cy="1216" r="10"/><circle cx="870" cy="1208" r="10"/><circle cx="872" cy="1212" r="10"/><circle cx="869" cy="1209" r="10"/><circle cx="884" cy="1225" r="10"/><circle cx="862" cy="1229" r="10"/><circle cx="864" cy="1188" r="10"/><circle cx="870" cy="1128" r="10"/><circle cx="875" cy="1159" r="10"/><circle cx="874" cy="1165" r="10"/><circle cx="852" cy="1191" r="10"/><circle cx="874" cy="1188" r="10"/><circle cx="873" cy="1164" r="10"/><circle cx="861" cy="1229" r="10"/><circle cx="892" cy="1160" r="10"/><circle cx="864" cy="1150" r="10"/><circle cx="869" cy="1171" r="10"/><circle cx="884" cy="1184" r="10"/><circle cx="872" cy="1171" r="10"/><circle cx="861" cy="1221" r="10"/><circle cx="882" cy="1134" r="10"/><circle cx="862" cy="1175" r="10"/><circle cx="874" cy="1194" r="10"/><circle cx="861" cy="1220" r="10"/><circle cx="878" cy="1163" r="10"/><circle cx="887" cy="1199" r="10"/><circle cx="863" cy="1180" r="10"/><circle cx="871" cy="1231" r="10"/><circle cx="890" cy="1136" r="10"/><circle cx="872" cy="1133" r="10"/><circle cx="855" cy="1228" r="10"/><circle cx="870" cy="1148" r="10"/><circle cx="882" cy="1238" r="10"/><circle cx="878" cy="1187" r="10"/><circle cx="873" cy="1207" r="10"/><circle cx="882" cy="1154" r="10"/><circle cx="854" cy="1225" r="10"/><circle cx="859" cy="1150" r="10"/><circle cx="863" cy="1138" r="10"/><circle cx="856" cy="1238" r="10"/><circle cx="877" cy="1177" r="10"/><circle cx="872" cy="1235" r="10"/><circle cx="867" cy="1208" r="10"/><circle cx="866" cy="1209" r="10"/><circle cx="873" cy="1132" r="10"/><circle cx="882" cy="1156" r="10"/><circle cx="876" cy="1197" r="10"/></g>
<g fill="#bebada"><circle cx="877" cy="1102" r="10"/><circle cx="886" cy="1252" r="10"/><circle cx="909" cy="1172" r="10"/></g>
<g fill="#bebada"><circle cx="868" cy="1314" r="10"/><circle cx="873" cy="1282" r="10"/><circle cx="873" cy="1310" r="10"/><circle cx="870" cy="1310" r="10"/><circle cx="857" cy="1309" r="10"/><circle cx="860" cy="1288" r="10"/><circle cx="853" cy="1289" r="10"/><circle cx="857" cy="1271" r="10"/><circle cx="861" cy="1275" r="10"/><circle cx="864" cy="1316" r="10"/><circle cx="868" cy="1320" r="10"/><circle cx="858" cy="1283" r="10"/><circle cx="857" cy="1281" r="10"/><circle cx="858" cy="1309" r="10"/><circle cx="863" cy="1308" r="10"/><circle cx="849" cy="1289" r="10"/><circle cx="857" cy="1303" r="10"/><circle cx="863" cy="1318" r="10"/><circle cx="848" cy="1300" r="10"/><circle cx="860" cy="1308" r="10"/><circle cx="856" cy="1316" r="10"/><circle cx="854" cy="1308" r="10"/><circle cx="860" cy="1284" r="10"/><circle cx="860" cy="1294" r="10"/><circle cx="853" cy="1298" r="10"/><circle cx="851" cy="1312" r="10"/><circle cx="863" cy="1311" r="10"/><circle cx="864" cy="1300" r="10"/><circle cx="847" cy="1291" r="10"/><circle cx="858" cy="1288" r="10"/><circle cx="858" cy="1290" r="10"/><circle cx="854" cy="1283" r="10"/><circle cx="854" cy="1279" r="10"/><circle cx="867" cy="1300" r="10"/><circle cx="862" cy="1308" r="10"/><circle cx="855" cy="1312" r="10"/><circle cx="844" cy="1286" r="10"/><circle cx="859" cy="1321" r="10"/><circle cx="868" cy="1308" r="10"/><circle cx="865" cy="1288" r="10"/><circle cx="857" cy="1286" r="10"/><circle cx="859" cy="1278" r="10"/><circle cx="856" cy="1288" r="10"/><circle cx="862" cy="1287" r="10"/><circle cx="861" cy="1303" r="10"/><circle cx="862" cy="1307" r="10"/><circle cx="851" cy="1297" r="10"/><circle cx="857" cy="1311" r="10"/><circle cx="855" cy="1300" r="10"/><circle cx="847" cy="1291" r="10"/><circle cx="852" cy="1295" r="10"/><circle cx="853" cy="1295" r="10"/></g>
<g fill="#bebada"><circle cx="893" cy="1382" r="10"/><circle cx="898" cy="1395" r="10"/><circle cx="892" cy="1401" r="10"/><circle cx="880" cy="1421" r="10"/><circle cx="886" cy="1414" r="10"/><circle cx="891" cy="1403" r="10"/><circle cx="878" cy="1441" r="10"/><circle cx="889" cy="1412" r="10"/><circle cx="899" cy="1426" r="10"/><circle cx="882" cy="1388" r="10"/><circle cx="894" cy="1384" r="10"/><circle cx="890" cy="1383" r="10"/><circle cx="888" cy="1416" r="10"/><circle cx="888" cy="1411" r="10"/><circle cx="891" cy="1356" r="10"/><circle cx="896" cy="1362" r="10"/><circle cx="882" cy="1441" r="10"/><circle cx="886" cy="1444" r="10"/><circle cx="903" cy="1394" r="10"/><circle cx="879" cy="1420" r="10"/><circle cx="900" cy="1408" r="10"/><circle cx="909" cy="1363" r="10"/><circle cx="903" cy="1423" r="10"/><circle cx="900" cy="1352" r="10"/><circle cx="905" cy="1359" r="10"/><circle cx="896" cy="1441" r="10"/><circle cx="910" cy="1357" r="10"/><circle cx="899" cy="1419" r="10"/><circle cx="887" cy="1427" r="10"/><circle cx="905" cy="1388" r="10"/><circle cx="887" cy="1426" r="10"/><circle cx="913" cy="1374" r="10"/><circle cx="902" cy="1354" r="10"/><circle cx="888" cy="1441" r="10"/><circle cx="897" cy="1428" r="10"/><circle cx="894" cy="1365" r="10"/><circle cx="888" cy="1365" r="10"/><circle cx="883" cy="1391" r="10"/><circle cx="899" cy="1415" r="10"/><circle cx="892" cy="1382" r="10"/><circle cx="907" cy="1413" r="10"/><circle cx="886" cy="1438" r="10"/><circle cx="906" cy="1352" r="10"/><circle cx="888" cy="1408" r="10"/><circle cx="900" cy="1403" r="10"/><circle cx="890" cy="1427" r="10"/><circle cx="895" cy="1392" r="10"/><circle cx="887" cy="1342" r="10"/><circle cx="885" cy="1384" r="10"/><circle cx="900" cy="1404" r="10"/><circle cx="895" cy="1364" r="10"/><circle cx="889" cy="1377" r="10"/><circle cx="906" cy="1373" r="10"/><circle cx="900" cy="1351" r="10"/><circle cx="882" cy="1386" r="10"/><circle cx="891" cy="1409" r="10"/><circle cx="896" cy="1412" r="10"/><circle cx="896" cy="1346" r="10"/><circle cx="901" cy="1370" r="10"/><circle cx="893" cy="1440" r="10"/><circle cx="886" cy="1432" r="10"/><circle cx="886" cy="1404" r="10"/><circle cx="899" cy="1394" r="10"/><circle cx="898" cy="1361" r="10"/><circle cx="885" cy="1426" r="10"/><circle cx="890" cy="1341" r="10"/><circle cx="888" cy="1359" r="10"/><circle cx="894" cy="1425" r="10"/><circle cx="899" cy="1368" r="10"/><circle cx="890" cy="1398" r="10"/><circle cx="899" cy="1431" r="10"/><circle cx="890" cy="1437" r="10"/><circle cx="892" cy="1433" r="10"/><circle cx="896" cy="1406" r="10"/><circle cx="887" cy="1386" r="10"/><circle cx="894" cy="1410" r="10"/><circle cx="900" cy="1407" r="10"/><circle cx="885" cy="1410" r="10"/><circle cx="898" cy="1435" r="10"/><circle cx="889" cy="1442" r="10"/><circle cx="892" cy="1347" r="10"/><circle cx="904" cy="1400" r="10"/><circle cx="894" cy="1388" r="10"/><circle cx="884" cy="1418" r="10"/><circle cx="896" cy="1356" r="10"/><circle cx="886" cy="1439" r="10"/><circle cx="896" cy="1402" r="10"/><circle cx="885" cy="1400" r="10"/><circle cx="889" cy="1418" r="10"/><circle cx="895" cy="1408" r="10"/><circle cx="882" cy="1370" r="10"/><circle cx="881" cy="1407" r="10"/><circle cx="895" cy="1424" r="10"/><circle cx="897" cy="1441" r="10"/><circle cx="894" cy="1415" r="10"/><circle cx="904" cy="1359" r="10"/><circle cx="886" cy="1400" r="10"/><circle cx="909" cy="1379" r="10"/><circle cx="899" cy="1359" r="10"/><circle cx="888" cy="1417" r="10"/><circle cx="892" cy="1347" r="10"/><circle cx="912" cy="1374" r="10"/><circle cx="875" cy="1439" r="10"/><circle cx="904" cy="1362" r="10"/><circle cx="900" cy="1375" r="10"/><circle cx="895" cy="1368" r="10"/><circle cx="911" cy="1384" r="10"/><circle cx="882" cy="1368" r="10"/><circle cx="889" cy="1362" r="10"/><circle cx="896" cy="1428" r="10"/><circle cx="891" cy="1407" r="10"/><circle cx="905" cy="1358" r="10"/><circle cx="902" cy="1420" r="10"/><circle cx="890" cy="1410" r="10"/><circle cx="893" cy="1419" r="10"/><circle cx="882" cy="1435" r="10"/><circle cx="897" cy="1396" r="10"/><circle cx="885" cy="1367" r="10"/><circle cx="876" cy="1419" r="10"/><circle cx="889" cy="1399" r="10"/><circle cx="889" cy="1378" r="10"/><circle cx="899" cy="1367" r="10"/><circle cx="912" cy="1350" r="10"/><circle cx="896" cy="1412" r="10"/><circle cx="893" cy="1384" r="10"/><circle cx="900" cy="1374" r="10"/><circle cx="881" cy="1407" r="10"/><circle cx="894" cy="1413" r="10"/><circle cx="907" cy="1423" r="10"/><circle cx="879" cy="1416" r="10"/><circle cx="908" cy="1378" r="10"/><circle cx="886" cy="1377" r="10"/><circle cx="890" cy="1360" r="10"/><circle cx="901" cy="1396" r="10"/><circle cx="889" cy="1410" r="10"/></g>
<g fill="#bebada"><circle cx="834" cy="1425" r="10"/><circle cx="851" cy="1426" r="10"/><circle cx="855" cy="1438" r="10"/><circle cx="846" cy="1444" r="10"/><circle cx="855" cy="1450" r="10"/><circle cx="866" cy="1411" r="10"/><circle cx="905" cy="1479" r="10"/><circle cx="872" cy="1498" r="10"/><circle cx="886" cy="1499" r="10"/></g>
<g fill="#fb8072"><circle cx="907" cy="1105" r="10"/><circle cx="898" cy="1126" r="10"/><circle cx="915" cy="1123" r="10"/><circle cx="916" cy="1128" r="10"/><circle cx="905" cy="1144" r="10"/><circle cx="892" cy="1172" r="10"/><circle cx="903" cy="1175" r="10"/></g>
<g fill="#ffffb3"><circle cx="935" cy="1172" r="10"/><circle cx="939" cy="1165" r="10"/><circle cx="941" cy="1181" r="10"/><circle cx="930" cy="1166" r="10"/><circle cx="934" cy="1168" r="10"/><circle cx="935" cy="1181" r="10"/><circle cx="928" cy="1176" r="10"/><circle cx="934" cy="1167" r="10"/><circle cx="937" cy="1184" r="10"/><circle cx="931" cy="1178" r="10"/><circle cx="929" cy="1177" r="10"/><circle cx="935" cy="1170" r="10"/></g>
<g fill="#ffffb3"><circle cx="919" cy="1326" r="10"/><circle cx="901" cy="1292" r="10"/><circle cx="901" cy="1343" r="10"/><circle cx="909" cy="1293" r="10"/><circle cx="907" cy="1276" r="10"/><circle cx="893" cy="1329" r="10"/><circle cx="912" cy="1301" r="10"/><circle cx="893" cy="1331" r="10"/><circle cx="903" cy="1297" r="10"/><circle cx="916" cy="1269" r="10"/><circle cx="914" cy="1294" r="10"/><circle cx="922" cy="1274" r="10"/><circle cx="902" cy="1342" r="10"/><circle cx="911" cy="1272" r="10"/><circle cx="914" cy="1289" r="10"/><circle cx="911" cy="1326" r="10"/><circle cx="902" cy="1320" r="10"/><circle cx="910" cy="1288" r="10"/><circle cx="911" cy="1346" r="10"/><circle cx="908" cy="1343" r="10"/><circle cx="906" cy="1340" r="10"/><circle cx="921" cy="1271" r="10"/><circle cx="913" cy="1274" r="10"/><circle cx="909" cy="1326" r="10"/><circle cx="920" cy="1306" r="10"/><circle cx="913" cy="1316" r="10"/><circle cx="908" cy="1348" r="10"/><circle cx="897" cy="1359" r="10"/><circle cx="896" cy="1358" r="10"/><circle cx="908" cy="1280" r="10"/><circle cx="914" cy="1310" r="10"/><circle cx="920" cy="1311" r="10"/><circle cx="907" cy="1299" r="10"/><circle cx="903" cy="1293" r="10"/><circle cx="912" cy="1286" r="10"/><circle cx="919" cy="1309" r="10"/><circle cx="913" cy="1286" r="10"/><circle cx="916" cy="1293" r="10"/><circle cx="914" cy="1320" r="10"/><circle cx="893" cy="1354" r="10"/><circle cx="913" cy="1335" r="10"/><circle cx="912" cy="1274" r="10"/><circle cx="904" cy="1347" r="10"/><circle cx="911" cy="1335" r="10"/><circle cx="914" cy="1301" r="10"/><circle cx="909" cy="1272" r="10"/><circle cx="898" cy="1350" r="10"/><circle cx="909" cy="1342" r="10"/><circle cx="911" cy="1278" r="10"/><circle cx="910" cy="1282" r="10"/><circle cx="913" cy="1360" r="10"/><circle cx="902" cy="1352" r="10"/><circle cx="914" cy="1344" r="10"/><circle cx="904" cy="1279" r="10"/><circle cx="902" cy="1314" r="10"/><circle cx="911" cy="1287" r="10"/><circle cx="903" cy="1352" r="10"/><circle cx="917" cy="1309" r="10"/><circle cx="917" cy="1336" r="10"/><circle cx="896" cy="1344" r="10"/><circle cx="906" cy="1280" r="10"/><circle cx="907" cy="1322" r="10"/><circle cx="895" cy="1301" r="10"/><circle cx="905" cy="1340" r="10"/><circle cx="904" cy="1317" r="10"/><circle cx="917" cy="1275" r="10"/><circle cx="895" cy="1348" r="10"/><circle cx="912" cy="1313" r="10"/><circle cx="915" cy="1291" r="10"/><circle cx="908" cy="1352" r="10"/><circle cx="905" cy="1322" r="10"/><circle cx="909" cy="1279" r="10"/><circle cx="899" cy="1321" r="10"/><circle cx="910" cy="1327" r="10"/><circle cx="921" cy="1275" r="10"/><circle cx="898" cy="1334" r="10"/><circle cx="906" cy="1304" r="10"/><circle cx="908" cy="1330" r="10"/><circle cx="913" cy="1328" r="10"/><circle cx="911" cy="1332" r="10"/><circle cx="904" cy="1352" r="10"/><circle cx="902" cy="1323" r="10"/><circle cx="902" cy="1359" r="10"/><circle cx="922" cy="1290" r="10"/><circle cx="897" cy="1343" r="10"/><circle cx="907" cy="1326" r="10"/><circle cx="914" cy="1277" r="10"/><circle cx="904" cy="1358" r="10"/><circle cx="915" cy="1273" r="10"/><circle cx="906" cy="1290" r="10"/><circle cx="909" cy="1330" r="10"/><circle cx="916" cy="1355" r="10"/><circle cx="924" cy="1294" r="10"/><circle cx="898" cy="1281" r="10"/><circle cx="910" cy="1277" r="10"/><circle cx="906" cy="1358" r="10"/><circle cx="911" cy="1343" r="10"/><circle cx="915" cy="1283" r="10"/><circle cx="906" cy="1340" r="10"/><circle cx="904" cy="1350" r="10"/><circle cx="906" cy="1346" r="10"/><circle cx="904" cy="1319" r="10"/><circle cx="916" cy="1326" r="10"/><circle cx="907" cy="1323" r="10"/><circle cx="916" cy="1273" r="10"/><circle cx="910" cy="1318" r="10"/><circle cx="905" cy="1268" r="10"/><circle cx="892" cy="1335" r="10"/><circle cx="903" cy="1342" r="10"/><circle cx="901" cy="1309" r="10"/><circle cx="903" cy="1286" r="10"/><circle cx="894" cy="1317" r="10"/><circle cx="899" cy="1299" r="10"/><circle cx="898" cy="1346" r="10"/><circle cx="899" cy="1345" r="10"/></g>
<g fill="#fdb462"><circle cx="960" cy="1387" r="10"/><circle cx="964" cy="1407" r="10"/><circle cx="962" cy="1420" r="10"/><circle cx="956" cy="1401" r="10"/><circle cx="957" cy="1412" r="10"/><circle cx="962" cy="1380" r="10"/><circle cx="954" cy="1380" r="10"/><circle cx="958" cy="1378" r="10"/><circle cx="953" cy="1416" r="10"/><circle cx="953" cy="1405" r="10"/><circle cx="951" cy="1417" r="10"/><circle cx="958" cy="1404" r="10"/><circle cx="953" cy="1402" r="10"/><circle cx="955" cy="1410" r="10"/><circle cx="955" cy="1392" r="10"/><circle cx="954" cy="1391" r="10"/><circle cx="961" cy="1392" r="10"/></g>
<g fill="#fdb462"><circle cx="952" cy="1452" r="10"/><circle cx="948" cy="1475" r="10"/><circle cx="964" cy="1474" r="10"/></g>
<g fill="#fdb462"><circle cx="960" cy="1494" r="10"/><circle cx="948" cy="1504" r="10"/><circle cx="956" cy="1502" r="10"/><circle cx="959" cy="1502" r="10"/><circle cx="956" cy="1505" r="10"/><circle cx="954" cy="1504" r="10"/></g>
<g fill="#ffffb3"><circle cx="979" cy="1407" r="10"/></g>
<g fill="#ffed6f"><circle cx="806" cy="1552" r="10"/><circle cx="805" cy="1728" r="10"/></g>
<g fill="#ffed6f"><circle cx="822" cy="1703" r="10"/><circle cx="812" cy="1688" r="10"/><circle cx="808" cy="1692" r="10"/><circle cx="816" cy="1612" r="10"/><circle cx="815" cy="1647" r="10"/><circle cx="802" cy="1714" r="10"/><circle cx="798" cy="1664" r="10"/><circle cx="799" cy="1647" r="10"/><circle cx="811" cy="1706" r="10"/><circle cx="804" cy="1671" r="10"/><circle cx="810" cy="1596" r="10"/><circle cx="808" cy="1607" r="10"/><circle cx="810" cy="1603" r="10"/><circle cx="802" cy="1675" r="10"/><circle cx="809" cy="1631" r="10"/><circle cx="813" cy="1671" r="10"/><circle cx="822" cy="1681" r="10"/><circle cx="809" cy="1601" r="10"/><circle cx="806" cy="1671" r="10"/><circle cx="811" cy="1595" r="10"/><circle cx="815" cy="1656" r="10"/><circle cx="818" cy="1672" r="10"/><circle cx="806" cy="1610" r="10"/><circle cx="808" cy="1564" r="10"/><circle cx="806" cy="1619" r="10"/><circle cx="805" cy="1640" r="10"/><circle cx="810" cy="1715" r="10"/><circle cx="814" cy="1684" r="10"/><circle cx="802" cy="1590" r="10"/><circle cx="804" cy="1626" r="10"/><circle cx="822" cy="1671" r="10"/><circle cx="804" cy="1577" r="10"/><circle cx="816" cy="1710" r="10"/><circle cx="793" cy="1566" r="10"/><circle cx="805" cy="1693" r="10"/><circle cx="790" cy="1688" r="10"/><circle cx="808" cy="1668" r="10"/><circle cx="808" cy="1592" r="10"/><circle cx="800" cy="1705" r="10"/><circle cx="797" cy="1654" r="10"/><circle cx="806" cy="1666" r="10"/><circle cx="804" cy="1577" r="10"/><circle cx="816" cy="1717" r="10"/><circle cx="799" cy="1652" r="10"/><circle cx="808" cy="1597" r="10"/><circle cx="807" cy="1697" r="10"/><circle cx="800" cy="1582" r="10"/><circle cx="810" cy="1676" r="10"/><circle cx="808" cy="1584" r="10"/><circle cx="816" cy="1620" r="10"/><circle cx="803" cy="1644" r="10"/><circle cx="803" cy="1688" r="10"/><circle cx="822" cy="1607" r="10"/><circle cx="797" cy="1597" r="10"/><circle cx="807" cy="1593" r="10"/><circle cx="799" cy="1620" r="10"/><circle cx="826" cy="1664" r="10"/><circle cx="806" cy="1570" r="10"/><circle cx="804" cy="1667" r="10"/><circle cx="817" cy="1567" r="10"/><circle cx="801" cy="1631" r="10"/><circle cx="801" cy="1674" r="10"/><circle cx="801" cy="1577" r="10"/><circle cx="801" cy="1589" r="10"/><circle cx="814" cy="1598" r="10"/><circle cx="808" cy="1573" r="10"/><circle cx="804" cy="1650" r="10"/><circle cx="807" cy="1573" r="10"/><circle cx="793" cy="1651" r="10"/><circle cx="791" cy="1699" r="10"/><circle cx="815" cy="1580" r="10"/><circle cx="813" cy="1711" r="10"/><circle cx="811" cy="1589" r="10"/><circle cx="807" cy="1699" r="10"/><circle cx="805" cy="1604" r="10"/><circle cx="820" cy="1708" r="10"/><circle cx="806" cy="1574" r="10"/><circle cx="811" cy="1634" r="10"/><circle cx="802" cy="1667" r="10"/><circle cx="790" cy="1638" r="10"/><circle cx="794" cy="1590" r="10"/><circle cx="808" cy="1643" r="10"/><circle cx="828" cy="1566" r="10"/><circle cx="806" cy="1647" r="10"/><circle cx="823" cy="1599" r="10"/><circle cx="808" cy="1665" r="10"/><circle cx="801" cy="1585" r="10"/><circle cx="820" cy="1698" r="10"/><circle cx="793" cy="1590" r="10"/><circle cx="828" cy="1598" r="10"/><circle cx="823" cy="1575" r="10"/><circle cx="798" cy="1596" r="10"/><circle cx="807" cy="1584" r="10"/><circle cx="810" cy="1592" r="10"/><circle cx="818" cy="1711" r="10"/><circle cx="810" cy="1626" r="10"/><circle cx="808" cy="1712" r="10"/><circle cx="822" cy="1599" r="10"/><circle cx="806" cy="1712" r="10"/><circle cx="795" cy="1640" r="10"/><circle cx="810" cy="1596" r="10"/><circle cx="797" cy="1694" r="10"/><circle cx="800" cy="1598" r="10"/><circle cx="811" cy="1626" r="10"/><circle cx="810" cy="1616" r="10"/><circle cx="811" cy="1621" r="10"/><circle cx="809" cy="1588" r="10"/><circle cx="808" cy="1658" r="10"/><circle cx="822" cy="1603" r="10"/><circle cx="805" cy="1674" r="10"/><circle cx="809" cy="1584" r="10"/><circle cx="803" cy="1714" r="10"/><circle cx="801" cy="1585" r="10"/><circle cx="800" cy="1654" r="10"/><circle cx="802" cy="1702" r="10"/><circle cx="807" cy="1588" r="10"/><circle cx="817" cy="1655" r="10"/><circle cx="805" cy="1702" r="10"/><circle cx="793" cy="1666" r="10"/><circle cx="829" cy="1605" r="10"/><circle cx="810" cy="1711" r="10"/><circle cx="806" cy="1706" r="10"/><circle cx="801" cy="1578" r="10"/><circle cx="808" cy="1608" r="10"/><circle cx="801" cy="1715" r="10"/><circle cx="816" cy="1646" r="10"/><circle cx="803" cy="1696" r="10"/><circle cx="822" cy="1643" r="10"/><circle cx="809" cy="1580" r="10"/><circle cx="794" cy="1654" r="10"/><circle cx="825" cy="1593" r="10"/><circle cx="799" cy="1574" r="10"/><circle cx="818" cy="1591" r="10"/><circle cx="808" cy="1671" r="10"/><circle cx="802" cy="1620" r="10"/><circle cx="810" cy="1645" r="10"/><circle cx="811" cy="1679" r="10"/><circle cx="822" cy="1661" r="10"/><circle cx="805" cy="1688" r="10"/><circle cx="826" cy="1564" r="10"/><circle cx="806" cy="1674" r="10"/><circle cx="798" cy="1664" r="10"/><circle cx="798" cy="1594" r="10"/><circle cx="815" cy="1599" r="10"/><circle cx="816" cy="1678" r="10"/><circle cx="798" cy="1683" r="10"/><circle cx="808" cy="1582" r="10"/><circle cx="802" cy="1604" r="10"/><circle cx="803" cy="1568" r="10"/><circle cx="801" cy="1628" r="10"/><circle cx="819" cy="1653" r="10"/><circle cx="812" cy="1618" r="10"/><circle cx="820" cy="1590" r="10"/><circle cx="794" cy="1638" r="10"/><circle cx="808" cy="1587" r="10"/><circle cx="792" cy="1620" r="10"/><circle cx="811" cy="1694" r="10"/><circle cx="818" cy="1664" r="10"/><circle cx="817" cy="1715" r="10"/><circle cx="808" cy="1593" r="10"/><circle cx="818" cy="1603" r="10"/><circle cx="821" cy="1692" r="10"/><circle cx="817" cy="1700" r="10"/><circle cx="808" cy="1655" r="10"/><circle cx="807" cy="1646" r="10"/><circle cx="808" cy="1677" r="10"/><circle cx="806" cy="1563" r="10"/><circle cx="810" cy="1589" r="10"/><circle cx="810" cy="1598" r="10"/><circle cx="816" cy="1604" r="10"/><circle cx="821" cy="1586" r="10"/><circle cx="818" cy="1615" r="10"/><circle cx="810" cy="1628" r="10"/><circle cx="809" cy="1638" r="10"/><circle cx="806" cy="1575" r="10"/><circle cx="797" cy="1587" r="10"/><circle cx="801" cy="1672" r="10"/><circle cx="805" cy="1604" r="10"/><circle cx="825" cy="1616" r="10"/><circle cx="800" cy="1640" r="10"/><circle cx="800" cy="1570" r="10"/><circle cx="796" cy="1623" r="10"/><circle cx="806" cy="1675" r="10"/><circle cx="792" cy="1688" r="10"/><circle cx="816" cy="1577" r="10"/><circle cx="811" cy="1674" r="10"/><circle cx="806" cy="1689" r="10"/><circle cx="817" cy="1577" r="10"/><circle cx="813" cy="1667" r="10"/><circle cx="812" cy="1592" r="10"/><circle cx="798" cy="1654" r="10"/><circle cx="800" cy="1600" r="10"/><circle cx="820" cy="1603" r="10"/><circle cx="803" cy="1676" r="10"/><circle cx="811" cy="1567" r="10"/><circle cx="816" cy="1608" r="10"/><circle cx="813" cy="1663" r="10"/><circle cx="818" cy="1705" r="10"/><circle cx="815" cy="1594" r="10"/><circle cx="795" cy="1603" r="10"/></g>
<g fill="#bebada"><circle cx="844" cy="1590" r="10"/><circle cx="843" cy="1546" r="10"/><circle cx="843" cy="1564" r="10"/><circle cx="834" cy="1605" r="10"/><circle cx="853" cy="1588" r="10"/><circle cx="843" cy="1582" r="10"/><circle cx="835" cy="1578" r="10"/><circle cx="859" cy="1564" r="10"/><circle cx="834" cy="1582" r="10"/><circle cx="849" cy="1594" r="10"/><circle cx="831" cy="1577" r="10"/><circle cx="838" cy="1557" r="10"/><circle cx="841" cy="1571" r="10"/><circle cx="850" cy="1587" r="10"/><circle cx="833" cy="1580" r="10"/><circle cx="837" cy="1568" r="10"/><circle cx="836" cy="1598" r="10"/><circle cx="836" cy="1549" r="10"/><circle cx="833" cy="1593" r="10"/><circle cx="837" cy="1573" r="10"/><circle cx="827" cy="1586" r="10"/><circle cx="840" cy="1584" r="10"/><circle cx="848" cy="1594" r="10"/><circle cx="834" cy="1569" r="10"/><circle cx="856" cy="1592" r="10"/><circle cx="842" cy="1560" r="10"/><circle cx="849" cy="1588" r="10"/><circle cx="848" cy="1584" r="10"/><circle cx="841" cy="1569" r="10"/><circle cx="844" cy="1583" r="10"/><circle cx="847" cy="1598" r="10"/><circle cx="844" cy="1570" r="10"/><circle cx="848" cy="1606" r="10"/><circle cx="832" cy="1586" r="10"/><circle cx="846" cy="1588" r="10"/><circle cx="845" cy="1577" r="10"/><circle cx="840" cy="1608" r="10"/><circle cx="834" cy="1570" r="10"/><circle cx="825" cy="1585" r="10"/><circle cx="840" cy="1570" r="10"/><circle cx="855" cy="1600" r="10"/><circle cx="836" cy="1590" r="10"/><circle cx="840" cy="1599" r="10"/><circle cx="846" cy="1578" r="10"/><circle cx="846" cy="1566" r="10"/><circle cx="848" cy="1605" r="10"/><circle cx="837" cy="1589" r="10"/><circle cx="824" cy="1595" r="10"/><circle cx="849" cy="1561" r="10"/><circle cx="857" cy="1581" r="10"/><circle cx="849" cy="1574" r="10"/><circle cx="851" cy="1552" r="10"/><circle cx="840" cy="1596" r="10"/><circle cx="834" cy="1591" r="10"/><circle cx="837" cy="1585" r="10"/><circle cx="828" cy="1593" r="10"/><circle cx="853" cy="1559" r="10"/><circle cx="838" cy="1549" r="10"/><circle cx="843" cy="1566" r="10"/><circle cx="835" cy="1564" r="10"/><circle cx="843" cy="1571" r="10"/><circle cx="832" cy="1575" r="10"/><circle cx="844" cy="1564" r="10"/><circle cx="851" cy="1550" r="10"/><circle cx="844" cy="1572" r="10"/><circle cx="856" cy="1568" r="10"/><circle cx="834" cy="1556" r="10"/><circle cx="860" cy="1590" r="10"/><circle cx="830" cy="1573" r="10"/><circle cx="831" cy="1606" r="10"/><circle cx="845" cy="1543" r="10"/><circle cx="842" cy="1595" r="10"/><circle cx="840" cy="1587" r="10"/><circle cx="839" cy="1583" r="10"/><circle cx="843" cy="1567" r="10"/><circle cx="844" cy="1582" r="10"/><circle cx="840" cy="1567" r="10"/><circle cx="831" cy="1583" r="10"/><circle cx="835" cy="1603" r="10"/><circle cx="849" cy="1566" r="10"/><circle cx="854" cy="1562" r="10"/><circle cx="833" cy="1613" r="10"/><circle cx="836" cy="1575" r="10"/><circle cx="824" cy="1561" r="10"/><circle cx="829" cy="1577" r="10"/><circle cx="823" cy="1598" r="10"/><circle cx="837" cy="1568" r="10"/><circle cx="834" cy="1592" r="10"/><circle cx="855" cy="1572" r="10"/><circle cx="854" cy="1584" r="10"/><circle cx="826" cy="1591" r="10"/><circle cx="836" cy="1582" r="10"/><circle cx="822" cy="1574" r="10"/><circle cx="843" cy="1563" r="10"/><circle cx="843" cy="1608" r="10"/><circle cx="843" cy="1567" r="10"/><circle cx="832" cy="1586" r="10"/><circle cx="843" cy="1594" r="10"/><circle cx="833" cy="1605" r="10"/><circle cx="845" cy="1600" r="10"/><circle cx="826" cy="1579" r="10"/><circle cx="853" cy="1579" r="10"/><circle cx="842" cy="1568" r="10"/><circle cx="851" cy="1567" r="10"/><circle cx="842" cy="1543" r="10"/><circle cx="841" cy="1583" r="10"/><circle cx="835" cy="1575" r="10"/><circle cx="828" cy="1555" r="10"/><circle cx="828" cy="1590" r="10"/><circle cx="840" cy="1593" r="10"/></g>
<g fill="#bebada"><circle cx="852" cy="1622" r="10"/><circle cx="869" cy="1577" r="10"/><circle cx="869" cy="1599" r="10"/></g>
<g fill="#bebada"><circle cx="889" cy="1592" r="10"/><circle cx="894" cy="1584" r="10"/><circle cx="904" cy="1583" r="10"/><circle cx="894" cy="1554" r="10"/><circle cx="898" cy="1595" r="10"/><circle cx="892" cy="1581" r="10"/><circle cx="900" cy="1604" r="10"/><circle cx="895" cy="1554" r="10"/><circle cx="894" cy="1556" r="10"/><circle cx="895" cy="1614" r="10"/><circle cx="899" cy="1580" r="10"/><circle cx="905" cy="1576" r="10"/><circle cx="900" cy="1585" r="10"/><circle cx="900" cy="1558" r="10"/><circle cx="903" cy="1597" r="10"/><circle cx="890" cy="1607" r="10"/><circle cx="897" cy="1593" r="10"/><circle cx="901" cy="1597" r="10"/><circle cx="892" cy="1572" r="10"/><circle cx="900" cy="1592" r="10"/><circle cx="902" cy="1588" r="10"/><circle cx="893" cy="1600" r="10"/><circle cx="901" cy="1600" r="10"/><circle cx="892" cy="1584" r="10"/><circle cx="893" cy="1577" r="10"/><circle cx="898" cy="1588" r="10"/><circle cx="891" cy="1591" r="10"/><circle cx="890" cy="1589" r="10"/><circle cx="894" cy="1566" r="10"/><circle cx="906" cy="1610" r="10"/><circle cx="896" cy="1581" r="10"/><circle cx="905" cy="1560" r="10"/><circle cx="890" cy="1601" r="10"/><circle cx="904" cy="1574" r="10"/><circle cx="891" cy="1588" r="10"/><circle cx="886" cy="1574" r="10"/><circle cx="902" cy="1595" r="10"/><circle cx="905" cy="1558" r="10"/><circle cx="887" cy="1568" r="10"/><circle cx="889" cy="1577" r="10"/><circle cx="899" cy="1590" r="10"/><circle cx="908" cy="1564" r="10"/><circle cx="904" cy="1584" r="10"/><circle cx="888" cy="1584" r="10"/><circle cx="891" cy="1599" r="10"/><circle cx="907" cy="1572" r="10"/><circle cx="890" cy="1584" r="10"/><circle cx="889" cy="1597" r="10"/><circle cx="898" cy="1569" r="10"/><circle cx="892" cy="1594" r="10"/><circle cx="891" cy="1579" r="10"/><circle cx="890" cy="1609" r="10"/><circle cx="904" cy="1604" r="10"/><circle cx="902" cy="1584" r="10"/><circle cx="910" cy="1593" r="10"/></g>
<g fill="#fdb462"><circle cx="948" cy="1668" r="10"/><circle cx="946" cy="1679" r="10"/><circle cx="950" cy="1721" r="10"/><circle cx="945" cy="1704" r="10"/><circle cx="949" cy="1738" r="10"/><circle cx="944" cy="1694" r="10"/><circle cx="936" cy="1732" r="10"/><circle cx="936" cy="1690" r="10"/><circle cx="940" cy="1723" r="10"/><circle cx="946" cy="1709" r="10"/><circle cx="949" cy="1660" r="10"/><circle cx="938" cy="1666" r="10"/><circle cx="946" cy="1712" r="10"/><circle cx="946" cy="1665" r="10"/><circle cx="944" cy="1710" r="10"/><circle cx="941" cy="1715" r="10"/><circle cx="948" cy="1743" r="10"/><circle cx="952" cy="1694" r="10"/><circle cx="945" cy="1676" r="10"/><circle cx="936" cy="1742" r="10"/><circle cx="949" cy="1671" r="10"/><circle cx="945" cy="1671" r="10"/><circle cx="942" cy="1721" r="10"/><circle cx="959" cy="1660" r="10"/><circle cx="951" cy="1658" r="10"/><circle cx="946" cy="1694" r="10"/><circle cx="957" cy="1696" r="10"/><circle cx="952" cy="1734" r="10"/><circle cx="952" cy="1691" r="10"/><circle cx="937" cy="1740" r="10"/><circle cx="960" cy="1706" r="10"/><circle cx="946" cy="1668" r="10"/><circle cx="942" cy="1717" r="10"/><circle cx="945" cy="1655" r="10"/><circle cx="960" cy="1702" r="10"/><circle cx="947" cy="1656" r="10"/><circle cx="955" cy="1715" r="10"/><circle cx="949" cy="1706" r="10"/><circle cx="954" cy="1742" r="10"/><circle cx="938" cy="1741" r="10"/><circle cx="952" cy="1684" r="10"/><circle cx="950" cy="1689" r="10"/><circle cx="938" cy="1726" r="10"/><circle cx="948" cy="1684" r="10"/><circle cx="953" cy="1710" r="10"/></g>
<g fill="#fdb462"><circle cx="948" cy="1801" r="10"/><circle cx="934" cy="1781" r="10"/><circle cx="943" cy="1778" r="10"/><circle cx="951" cy="1771" r="10"/><circle cx="948" cy="1797" r="10"/><circle cx="933" cy="1773" r="10"/><circle cx="943" cy="1778" r="10"/><circle cx="941" cy="1774" r="10"/><circle cx="939" cy="1786" r="10"/><circle cx="946" cy="1770" r="10"/><circle cx="939" cy="1770" r="10"/><circle cx="939" cy="1762" r="10"/><circle cx="947" cy="1788" r="10"/><circle cx="939" cy="1771" r="10"/><circle cx="937" cy="1772" r="10"/><circle cx="931" cy="1787" r="10"/><circle cx="944" cy="1760" r="10"/><circle cx="926" cy="1787" r="10"/><circle cx="936" cy="1781" r="10"/><circle cx="940" cy="1773" r="10"/><circle cx="939" cy="1776" r="10"/><circle cx="949" cy="1779" r="10"/><circle cx="940" cy="1773" r="10"/><circle cx="935" cy="1771" r="10"/><circle cx="940" cy="1803" r="10"/><circle cx="948" cy="1783" r="10"/><circle cx="952" cy="1793" r="10"/><circle cx="942" cy="1778" r="10"/><circle cx="932" cy="1783" r="10"/><circle cx="938" cy="1760" r="10"/><circle cx="942" cy="1786" r="10"/><circle cx="942" cy="1774" r="10"/><circle cx="944" cy="1794" r="10"/><circle cx="938" cy="1786" r="10"/><circle cx="948" cy="1774" r="10"/><circle cx="941" cy="1771" r="10"/><circle cx="944" cy="1775" r="10"/><circle cx="949" cy="1770" r="10"/><circle cx="953" cy="1776" r="10"/><circle cx="934" cy="1769" r="10"/><circle cx="945" cy="1769" r="10"/><circle cx="944" cy="1762" r="10"/><circle cx="940" cy="1771" r="10"/><circle cx="926" cy="1785" r="10"/><circle cx="946" cy="1796" r="10"/><circle cx="933" cy="1776" r="10"/><circle cx="942" cy="1786" r="10"/><circle cx="931" cy="1783" r="10"/><circle cx="939" cy="1792" r="10"/><circle cx="928" cy="1773" r="10"/><circle cx="936" cy="1776" r="10"/><circle cx="945" cy="1772" r="10"/><circle cx="946" cy="1793" r="10"/><circle cx="947" cy="1777" r="10"/><circle cx="934" cy="1777" r="10"/><circle cx="945" cy="1782" r="10"/><circle cx="944" cy="1787" r="10"/><circle cx="933" cy="1768" r="10"/><circle cx="951" cy="1774" r="10"/><circle cx="934" cy="1768" r="10"/><circle cx="947" cy="1766" r="10"/><circle cx="934" cy="1793" r="10"/><circle cx="941" cy="1781" r="10"/><circle cx="935" cy="1777" r="10"/><circle cx="936" cy="1780" r="10"/><circle cx="946" cy="1764" r="10"/><circle cx="951" cy="1779" r="10"/><circle cx="940" cy="1779" r="10"/><circle cx="948" cy="1784" r="10"/><circle cx="946" cy="1778" r="10"/><circle cx="939" cy="1779" r="10"/><circle cx="928" cy="1768" r="10"/><circle cx="945" cy="1781" r="10"/><circle cx="946" cy="1801" r="10"/><circle cx="938" cy="1806" r="10"/><circle cx="933" cy="1779" r="10"/><circle cx="948" cy="1777" r="10"/><circle cx="939" cy="1776" r="10"/><circle cx="950" cy="1793" r="10"/><circle cx="940" cy="1787" r="10"/></g>
<g fill="#b3de69"><circle cx="958" cy="1568" r="10"/></g>
<g fill="#b3de69"><circle cx="943" cy="1637" r="10"/><circle cx="967" cy="1616" r="10"/><circle cx="950" cy="1608" r="10"/><circle cx="951" cy="1594" r="10"/><circle cx="953" cy="1627" r="10"/><circle cx="956" cy="1626" r="10"/><circle cx="938" cy="1600" r="10"/><circle cx="959" cy="1635" r="10"/><circle cx="942" cy="1607" r="10"/><circle cx="942" cy="1629" r="10"/><circle cx="956" cy="1618" r="10"/><circle cx="946" cy="1623" r="10"/><circle cx="953" cy="1604" r="10"/><circle cx="956" cy="1605" r="10"/><circle cx="962" cy="1628" r="10"/><circle cx="946" cy="1628" r="10"/><circle cx="954" cy="1604" r="10"/><circle cx="944" cy="1587" r="10"/><circle cx="942" cy="1623" r="10"/><circle cx="965" cy="1606" r="10"/><circle cx="955" cy="1623" r="10"/><circle cx="961" cy="1625" r="10"/><circle cx="965" cy="1631" r="10"/><circle cx="945" cy="1624" r="10"/><circle cx="953" cy="1627" r="10"/><circle cx="950" cy="1632" r="10"/><circle cx="966" cy="1602" r="10"/><circle cx="948" cy="1622" r="10"/><circle cx="958" cy="1620" r="10"/><circle cx="961" cy="1596" r="10"/><circle cx="961" cy="1638" r="10"/><circle cx="964" cy="1625" r="10"/><circle cx="951" cy="1624" r="10"/><circle cx="952" cy="1588" r="10"/><circle cx="947" cy="1616" r="10"/><circle cx="948" cy="1600" r="10"/><circle cx="951" cy="1610" r="10"/><circle cx="954" cy="1616" r="10"/><circle cx="955" cy="1635" r="10"/><circle cx="954" cy="1624" r="10"/><circle cx="949" cy="1629" r="10"/><circle cx="950" cy="1606" r="10"/><circle cx="941" cy="1633" r="10"/><circle cx="948" cy="1621" r="10"/><circle cx="964" cy="1627" r="10"/><circle cx="963" cy="1630" r="10"/><circle cx="946" cy="1618" r="10"/><circle cx="947" cy="1599" r="10"/><circle cx="956" cy="1603" r="10"/><circle cx="970" cy="1604" r="10"/><circle cx="948" cy="1619" r="10"/><circle cx="948" cy="1618" r="10"/><circle cx="947" cy="1591" r="10"/><circle cx="968" cy="1625" r="10"/><circle cx="954" cy="1609" r="10"/><circle cx="952" cy="1622" r="10"/><circle cx="939" cy="1603" r="10"/><circle cx="944" cy="1640" r="10"/><circle cx="942" cy="1638" r="10"/><circle cx="952" cy="1618" r="10"/><circle cx="966" cy="1633" r="10"/><circle cx="962" cy="1598" r="10"/><circle cx="964" cy="1647" r="10"/><circle cx="952" cy="1608" r="10"/><circle cx="942" cy="1635" r="10"/><circle cx="956" cy="1617" r="10"/><circle cx="941" cy="1646" r="10"/><circle cx="962" cy="1617" r="10"/><circle cx="968" cy="1600" r="10"/><circle cx="962" cy="1599" r="10"/><circle cx="967" cy="1612" r="10"/><circle cx="965" cy="1610" r="10"/><circle cx="957" cy="1638" r="10"/><circle cx="944" cy="1619" r="10"/><circle cx="945" cy="1632" r="10"/><circle cx="947" cy="1610" r="10"/><circle cx="951" cy="1638" r="10"/><circle cx="943" cy="1616" r="10"/><circle cx="950" cy="1607" r="10"/><circle cx="945" cy="1614" r="10"/><circle cx="955" cy="1589" r="10"/><circle cx="955" cy="1596" r="10"/><circle cx="943" cy="1616" r="10"/><circle cx="950" cy="1635" r="10"/><circle cx="948" cy="1585" r="10"/><circle cx="937" cy="1620" r="10"/><circle cx="956" cy="1636" r="10"/><circle cx="948" cy="1629" r="10"/><circle cx="942" cy="1640" r="10"/><circle cx="952" cy="1605" r="10"/><circle cx="955" cy="1648" r="10"/><circle cx="944" cy="1595" r="10"/><circle cx="943" cy="1596" r="10"/><circle cx="952" cy="1623" r="10"/><circle cx="951" cy="1620" r="10"/><circle cx="965" cy="1612" r="10"/><circle cx="955" cy="1605" r="10"/><circle cx="950" cy="1624" r="10"/><circle cx="958" cy="1589" r="10"/><circle cx="943" cy="1618" r="10"/><circle cx="952" cy="1638" r="10"/><circle cx="965" cy="1588" r="10"/><circle cx="943" cy="1624" r="10"/><circle cx="955" cy="1627" r="10"/><circle cx="958" cy="1604" r="10"/><circle cx="947" cy="1622" r="10"/><circle cx="954" cy="1600" r="10"/><circle cx="944" cy="1624" r="10"/><circle cx="947" cy="1609" r="10"/><circle cx="963" cy="1619" r="10"/><circle cx="952" cy="1619" r="10"/><circle cx="941" cy="1639" r="10"/><circle cx="946" cy="1641" r="10"/><circle cx="948" cy="1609" r="10"/><circle cx="968" cy="1620" r="10"/><circle cx="947" cy="1607" r="10"/><circle cx="959" cy="1651" r="10"/><circle cx="959" cy="1610" r="10"/><circle cx="942" cy="1605" r="10"/><circle cx="952" cy="1621" r="10"/><circle cx="946" cy="1640" r="10"/><circle cx="943" cy="1604" r="10"/><circle cx="958" cy="1626" r="10"/><circle cx="949" cy="1634" r="10"/><circle cx="954" cy="1652" r="10"/><circle cx="954" cy="1641" r="10"/><circle cx="951" cy="1620" r="10"/><circle cx="958" cy="1586" r="10"/><circle cx="951" cy="1648" r="10"/><circle cx="962" cy="1623" r="10"/><circle cx="955" cy="1642" r="10"/><circle cx="956" cy="1583" r="10"/><circle cx="944" cy="1612" r="10"/><circle cx="954" cy="1609" r="10"/><circle cx="952" cy="1647" r="10"/></g>
<g fill="#b3de69"><circle cx="944" cy="1699" r="10"/><circle cx="946" cy="1701" r="10"/><circle cx="946" cy="1676" r="10"/><circle cx="949" cy="1664" r="10"/><circle cx="951" cy="1692" r="10"/><circle cx="946" cy="1684" r="10"/><circle cx="950" cy="1672" r="10"/><circle cx="949" cy="1706" r="10"/><circle cx="942" cy="1741" r="10"/><circle cx="946" cy="1676" r="10"/><circle cx="950" cy="1689" r="10"/><circle cx="947" cy="1717" r="10"/><circle cx="950" cy="1664" r="10"/><circle cx="943" cy="1751" r="10"/><circle cx="943" cy="1720" r="10"/><circle cx="947" cy="1708" r="10"/><circle cx="939" cy="1739" r="10"/><circle cx="942" cy="1691" r="10"/><circle cx="944" cy="1695" r="10"/><circle cx="939" cy="1721" r="10"/><circle cx="948" cy="1700" r="10"/><circle cx="941" cy="1734" r="10"/><circle cx="944" cy="1701" r="10"/><circle cx="947" cy="1729" r="10"/><circle cx="948" cy="1658" r="10"/><circle cx="948" cy="1723" r="10"/><circle cx="948" cy="1675" r="10"/><circle cx="952" cy="1673" r="10"/><circle cx="952" cy="1681" r="10"/><circle cx="941" cy="1719" r="10"/><circle cx="944" cy="1672" r="10"/><circle cx="947" cy="1706" r="10"/><circle cx="944" cy="1668" r="10"/><circle cx="947" cy="1704" r="10"/><circle cx="949" cy="1686" r="10"/><circle cx="949" cy="1723" r="10"/><circle cx="944" cy="1733" r="10"/><circle cx="944" cy="1712" r="10"/><circle cx="938" cy="1738" r="10"/><circle cx="945" cy="1712" r="10"/><circle cx="950" cy="1700" r="10"/><circle cx="939" cy="1752" r="10"/><circle cx="954" cy="1666" r="10"/><circle cx="939" cy="1752" r="10"/><circle cx="944" cy="1728" r="10"/><circle cx="941" cy="1672" r="10"/><circle cx="943" cy="1738" r="10"/><circle cx="942" cy="1744" r="10"/></g>
<g fill="#ccebc5"><circle cx="850" cy="1758" r="10"/><circle cx="845" cy="1802" r="10"/><circle cx="869" cy="1817" r="10"/></g>
<g fill="#ccebc5"><circle cx="833" cy="1850" r="10"/><circle cx="844" cy="1832" r="10"/><circle cx="852" cy="1838" r="10"/><circle cx="854" cy="1838" r="10"/><circle cx="856" cy="1844" r="10"/><circle cx="851" cy="1844" r="10"/><circle cx="845" cy="1840" r="10"/><circle cx="852" cy="1850" r="10"/><circle cx="862" cy="1832" r="10"/><circle cx="857" cy="1842" r="10"/><circle cx="850" cy="1836" r="10"/><circle cx="862" cy="1835" r="10"/><circle cx="847" cy="1836" r="10"/><circle cx="837" cy="1839" r="10"/><circle cx="851" cy="1839" r="10"/><circle cx="845" cy="1833" r="10"/><circle cx="850" cy="1833" r="10"/><circle cx="845" cy="1858" r="10"/><circle cx="851" cy="1837" r="10"/><circle cx="845" cy="1834" r="10"/><circle cx="849" cy="1850" r="10"/><circle cx="856" cy="1840" r="10"/></g>
<g fill="#fccde5"><circle cx="1056" cy="1929" r="10"/><circle cx="1109" cy="1934" r="10"/><circle cx="1077" cy="1902" r="10"/><circle cx="1070" cy="1937" r="10"/><circle cx="1060" cy="1948" r="10"/><circle cx="1067" cy="1918" r="10"/><circle cx="1067" cy="1929" r="10"/><circle cx="1097" cy="1922" r="10"/><circle cx="1045" cy="1929" r="10"/><circle cx="1088" cy="1950" r="10"/><circle cx="1057" cy="1950" r="10"/><circle cx="1091" cy="1936" r="10"/><circle cx="1064" cy="1918" r="10"/><circle cx="1060" cy="1942" r="10"/><circle cx="1082" cy="1944" r="10"/><circle cx="1112" cy="1930" r="10"/><circle cx="1077" cy="1955" r="10"/><circle cx="1054" cy="1924" r="10"/><circle cx="1071" cy="1925" r="10"/><circle cx="1081" cy="1919" r="10"/><circle cx="1100" cy="1912" r="10"/><circle cx="1063" cy="1908" r="10"/><circle cx="1052" cy="1938" r="10"/><circle cx="1090" cy="1927" r="10"/><circle cx="1094" cy="1938" r="10"/><circle cx="1067" cy="1930" r="10"/><circle cx="1085" cy="1957" r="10"/><circle cx="1070" cy="1935" r="10"/><circle cx="1088" cy="1946" r="10"/><circle cx="1086" cy="1944" r="10"/><circle cx="1058" cy="1927" r="10"/><circle cx="1042" cy="1929" r="10"/><circle cx="1080" cy="1934" r="10"/><circle cx="1081" cy="1913" r="10"/><circle cx="1065" cy="1928" r="10"/><circle cx="1081" cy="1919" r="10"/><circle cx="1076" cy="1920" r="10"/><circle cx="1053" cy="1921" r="10"/><circle cx="1063" cy="1941" r="10"/><circle cx="1103" cy="1938" r="10"/><circle cx="1074" cy="1923" r="10"/><circle cx="1049" cy="1923" r="10"/><circle cx="1107" cy="1945" r="10"/><circle cx="1082" cy="1927" r="10"/><circle cx="1078" cy="1936" r="10"/><circle cx="1078" cy="1936" r="10"/><circle cx="1064" cy="1931" r="10"/><circle cx="1072" cy="1944" r="10"/><circle cx="1055" cy="1947" r="10"/><circle cx="1076" cy="1924" r="10"/><circle cx="1078" cy="1932" r="10"/><circle cx="1074" cy="1936" r="10"/><circle cx="1067" cy="1908" r="10"/><circle cx="1091" cy="1930" r="10"/><circle cx="1109" cy="1935" r="10"/><circle cx="1065" cy="1937" r="10"/><circle cx="1058" cy="1929" r="10"/><circle cx="1048" cy="1939" r="10"/><circle cx="1088" cy="1917" r="10"/><circle cx="1086" cy="1942" r="10"/><circle cx="1093" cy="1921" r="10"/><circle cx="1065" cy="1915" r="10"/><circle cx="1054" cy="1934" r="10"/><circle cx="1079" cy="1947" r="10"/><circle cx="1083" cy="1926" r="10"/><circle cx="1051" cy="1950" r="10"/><circle cx="1081" cy="1930" r="10"/><circle cx="1059" cy="1916" r="10"/><circle cx="1090" cy="1917" r="10"/><circle cx="1089" cy="1938" r="10"/><circle cx="1071" cy="1909" r="10"/><circle cx="1086" cy="1949" r="10"/><circle cx="1063" cy="1914" r="10"/><circle cx="1098" cy="1932" r="10"/><circle cx="1066" cy="1946" r="10"/><circle cx="1073" cy="1936" r="10"/><circle cx="1070" cy="1920" r="10"/><circle cx="1082" cy="1919" r="10"/><circle cx="1045" cy="1923" r="10"/><circle cx="1101" cy="1944" r="10"/><circle cx="1108" cy="1933" r="10"/><circle cx="1070" cy="1936" r="10"/><circle cx="1060" cy="1940" r="10"/><circle cx="1070" cy="1934" r="10"/><circle cx="1062" cy="1928" r="10"/><circle cx="1096" cy="1927" r="10"/><circle cx="1065" cy="1934" r="10"/><circle cx="1094" cy="1928" r="10"/><circle cx="1056" cy="1910" r="10"/><circle cx="1053" cy="1944" r="10"/><circle cx="1076" cy="1936" r="10"/><circle cx="1098" cy="1934" r="10"/><circle cx="1087" cy="1924" r="10"/><circle cx="1048" cy="1938" r="10"/><circle cx="1076" cy="1938" r="10"/><circle cx="1058" cy="1928" r="10"/><circle cx="1080" cy="1947" r="10"/><circle cx="1074" cy="1932" r="10"/><circle cx="1070" cy="1947" r="10"/><circle cx="1076" cy="1925" r="10"/><circle cx="1086" cy="1927" r="10"/><circle cx="1068" cy="1950" r="10"/><circle cx="1096" cy="1932" r="10"/><circle cx="1093" cy="1941" r="10"/><circle cx="1089" cy="1931" r="10"/><circle cx="1079" cy="1936" r="10"/><circle cx="1088" cy="1935" r="10"/><circle cx="1068" cy="1929" r="10"/><circle cx="1086" cy="1917" r="10"/><circle cx="1078" cy="1940" r="10"/><circle cx="1081" cy="1926" r="10"/><circle cx="1078" cy="1924" r="10"/><circle cx="1096" cy="1925" r="10"/><circle cx="1047" cy="1914" r="10"/><circle cx="1084" cy="1933" r="10"/><circle cx="1069" cy="1913" r="10"/><circle cx="1075" cy="1919" r="10"/><circle cx="1066" cy="1930" r="10"/><circle cx="1064" cy="1934" r="10"/><circle cx="1064" cy="1924" r="10"/><circle cx="1074" cy="1949" r="10"/><circle cx="1107" cy="1942" r="10"/><circle cx="1064" cy="1930" r="10"/><circle cx="1095" cy="1941" r="10"/><circle cx="1048" cy="1930" r="10"/><circle cx="1064" cy="1940" r="10"/><circle cx="1090" cy="1923" r="10"/><circle cx="1076" cy="1955" r="10"/><circle cx="1068" cy="1924" r="10"/><circle cx="1105" cy="1930" r="10"/><circle cx="1087" cy="1914" r="10"/><circle cx="1111" cy="1943" r="10"/><circle cx="1085" cy="1939" r="10"/><circle cx="1069" cy="1924" r="10"/><circle cx="1049" cy="1935" r="10"/><circle cx="1101" cy="1941" r="10"/><circle cx="1095" cy="1939" r="10"/><circle cx="1061" cy="1913" r="10"/><circle cx="1090" cy="1932" r="10"/><circle cx="1096" cy="1927" r="10"/><circle cx="1062" cy="1936" r="10"/><circle cx="1068" cy="1909" r="10"/><circle cx="1067" cy="1919" r="10"/><circle cx="1057" cy="1923" r="10"/><circle cx="1110" cy="1925" r="10"/><circle cx="1099" cy="1929" r="10"/><circle cx="1086" cy="1922" r="10"/><circle cx="1077" cy="1909" r="10"/><circle cx="1111" cy="1920" r="10"/><circle cx="1089" cy="1923" r="10"/><circle cx="1083" cy="1915" r="10"/><circle cx="1071" cy="1942" r="10"/><circle cx="1089" cy="1905" r="10"/><circle cx="1094" cy="1913" r="10"/><circle cx="1083" cy="1937" r="10"/><circle cx="1066" cy="1926" r="10"/><circle cx="1073" cy="1935" r="10"/><circle cx="1095" cy="1948" r="10"/><circle cx="1084" cy="1956" r="10"/><circle cx="1060" cy="1953" r="10"/><circle cx="1073" cy="1940" r="10"/><circle cx="1076" cy="1931" r="10"/><circle cx="1061" cy="1935" r="10"/><circle cx="1116" cy="1932" r="10"/><circle cx="1078" cy="1930" r="10"/><circle cx="1091" cy="1928" r="10"/><circle cx="1078" cy="1933" r="10"/><circle cx="1102" cy="1942" r="10"/><circle cx="1058" cy="1922" r="10"/><circle cx="1078" cy="1941" r="10"/><circle cx="1096" cy="1928" r="10"/><circle cx="1118" cy="1928" r="10"/><circle cx="1104" cy="1948" r="10"/><circle cx="1108" cy="1933" r="10"/><circle cx="1089" cy="1911" r="10"/><circle cx="1045" cy="1922" r="10"/><circle cx="1091" cy="1944" r="10"/><circle cx="1076" cy="1944" r="10"/><circle cx="1089" cy="1950" r="10"/><circle cx="1048" cy="1920" r="10"/><circle cx="1060" cy="1917" r="10"/><circle cx="1109" cy="1918" r="10"/><circle cx="1063" cy="1925" r="10"/><circle cx="1094" cy="1924" r="10"/><circle cx="1092" cy="1937" r="10"/><circle cx="1061" cy="1914" r="10"/><circle cx="1108" cy="1921" r="10"/><circle cx="1058" cy="1935" r="10"/><circle cx="1079" cy="1918" r="10"/><circle cx="1098" cy="1942" r="10"/><circle cx="1083" cy="1920" r="10"/><circle cx="1085" cy="1935" r="10"/><circle cx="1061" cy="1930" r="10"/><circle cx="1046" cy="1938" r="10"/><circle cx="1070" cy="1924" r="10"/><circle cx="1090" cy="1928" r="10"/><circle cx="1096" cy="1937" r="10"/><circle cx="1100" cy="1932" r="10"/><circle cx="1046" cy="1944" r="10"/><circle cx="1083" cy="1912" r="10"/><circle cx="1079" cy="1942" r="10"/><circle cx="1059" cy="1931" r="10"/><circle cx="1064" cy="1917" r="10"/><circle cx="1066" cy="1946" r="10"/><circle cx="1091" cy="1930" r="10"/><circle cx="1076" cy="1932" r="10"/><circle cx="1083" cy="1932" r="10"/><circle cx="1046" cy="1942" r="10"/><circle cx="1091" cy="1915" r="10"/><circle cx="1075" cy="1929" r="10"/><circle cx="1067" cy="1937" r="10"/><circle cx="1073" cy="1927" r="10"/><circle cx="1060" cy="1927" r="10"/><circle cx="1059" cy="1931" r="10"/><circle cx="1103" cy="1943" r="10"/><circle cx="1086" cy="1913" r="10"/><circle cx="1097" cy="1942" r="10"/><circle cx="1078" cy="1926" r="10"/><circle cx="1098" cy="1916" r="10"/><circle cx="1078" cy="1948" r="10"/></g>
<g fill="#fccde5"><circle cx="1057" cy="1984" r="10"/><circle cx="1115" cy="1893" r="10"/></g>
<g fill="#8dd3c7"><circle cx="971" cy="1992" r="10"/><circle cx="977" cy="1968" r="10"/><circle cx="971" cy="1998" r="10"/><circle cx="985" cy="1978" r="10"/><circle cx="984" cy="1977" r="10"/><circle cx="978" cy="1985" r="10"/><circle cx="967" cy="1989" r="10"/><circle cx="970" cy="1975" r="10"/><circle cx="970" cy="1974" r="10"/><circle cx="983" cy="1986" r="10"/><circle cx="978" cy="1982" r="10"/><circle cx="976" cy="1982" r="10"/><circle cx="968" cy="1968" r="10"/><circle cx="976" cy="1997" r="10"/><circle cx="978" cy="2004" r="10"/><circle cx="966" cy="1982" r="10"/><circle cx="971" cy="1999" r="10"/><circle cx="988" cy="1979" r="10"/><circle cx="981" cy="1982" r="10"/><circle cx="969" cy="1984" r="10"/><circle cx="968" cy="2003" r="10"/><circle cx="980" cy="1999" r="10"/><circle cx="982" cy="1986" r="10"/><circle cx="984" cy="2005" r="10"/><circle cx="968" cy="1994" r="10"/><circle cx="978" cy="1983" r="10"/><circle cx="974" cy="1991" r="10"/><circle cx="980" cy="1993" r="10"/><circle cx="973" cy="1970" r="10"/><circle cx="986" cy="2000" r="10"/><circle cx="972" cy="1985" r="10"/><circle cx="982" cy="1965" r="10"/><circle cx="978" cy="1977" r="10"/><circle cx="991" cy="1985" r="10"/><circle cx="978" cy="1980" r="10"/><circle cx="977" cy="1964" r="10"/></g>
<g fill="#8dd3c7"><circle cx="981" cy="1955" r="10"/><circle cx="1018" cy="1979" r="10"/><circle cx="983" cy="2027" r="10"/><circle cx="992" cy="2044" r="10"/><circle cx="1010" cy="2030" r="10"/><circle cx="1013" cy="2049" r="10"/><circle cx="1026" cy="2046" r="10"/><circle cx="1041" cy="2037" r="10"/><circle cx="1050" cy="2033" r="10"/><circle cx="1066" cy="2028" r="10"/><circle cx="1072" cy="1988" r="10"/><circle cx="1078" cy="1996" r="10"/><circle cx="1074" cy="2003" r="10"/><circle cx="1071" cy="2000" r="10"/><circle cx="1076" cy="1991" r="10"/></g>
<g fill="#bebada"><circle cx="848" cy="2042" r="10"/><circle cx="848" cy="2050" r="10"/><circle cx="780" cy="2073" r="10"/></g>
<g fill="#bc80bd"><circle cx="675" cy="2101" r="10"/><circle cx="685" cy="2111" r="10"/><circle cx="678" cy="2123" r="10"/><circle cx="677" cy="2098" r="10"/><circle cx="677" cy="2109" r="10"/><circle cx="681" cy="2122" r="10"/><circle cx="688" cy="2124" r="10"/><circle cx="684" cy="2108" r="10"/><circle cx="679" cy="2101" r="10"/><circle cx="687" cy="2122" r="10"/><circle cx="681" cy="2105" r="10"/><circle cx="684" cy="2116" r="10"/><circle cx="682" cy="2103" r="10"/><circle cx="682" cy="2108" r="10"/></g>
<g fill="#fb8072"><circle cx="1129" cy="554" r="10"/><circle cx="1113" cy="598" r="10"/></g>
<g fill="#ffed6f"><circle cx="1100" cy="571" r="10"/></g>
<g fill="#fdb462"><circle cx="1108" cy="596" r="10"/><circle cx="1093" cy="634" r="10"/></g>
<g fill="#80b1d3"><circle cx="1096" cy="730" r="10"/><circle cx="1100" cy="726" r="10"/><circle cx="1097" cy="735" r="10"/><circle cx="1094" cy="771" r="10"/><circle cx="1092" cy="780" r="10"/><circle cx="1088" cy="805" r="10"/><circle cx="1085" cy="828" r="10"/><circle cx="1088" cy="832" r="10"/></g>
<g fill="#ffed6f"><circle cx="1109" cy="730" r="10"/></g>
<g fill="#d9d9d9"><circle cx="1166" cy="764" r="10"/><circle cx="1174" cy="764" r="10"/><circle cx="1183" cy="774" r="10"/><circle cx="1166" cy="776" r="10"/><circle cx="1158" cy="795" r="10"/><circle cx="1170" cy="770" r="10"/><circle cx="1177" cy="768" r="10"/><circle cx="1073" cy="1058" r="10"/></g>
<g fill="#b3de69"><circle cx="1258" cy="786" r="10"/><circle cx="1230" cy="813" r="10"/><circle cx="1253" cy="822" r="10"/><circle cx="1260" cy="834" r="10"/></g>
<g fill="#8dd3c7"><circle cx="1208" cy="760" r="10"/><circle cx="1430" cy="736" r="10"/><circle cx="1424" cy="743" r="10"/><circle cx="1502" cy="741" r="10"/><circle cx="1369" cy="795" r="10"/><circle cx="1380" cy="797" r="10"/><circle cx="1388" cy="789" r="10"/><circle cx="1325" cy="820" r="10"/><circle cx="1339" cy="821" r="10"/><circle cx="1357" cy="832" r="10"/><circle cx="1314" cy="840" r="10"/><circle cx="1328" cy="849" r="10"/><circle cx="1317" cy="856" r="10"/><circle cx="1310" cy="860" r="10"/><circle cx="1251" cy="794" r="10"/><circle cx="1242" cy="837" r="10"/><circle cx="1275" cy="838" r="10"/></g>
<g fill="#ffed6f"><circle cx="1325" cy="719" r="10"/><circle cx="1227" cy="768" r="10"/><circle cx="1243" cy="772" r="10"/><circle cx="1228" cy="784" r="10"/><circle cx="1220" cy="798" r="10"/></g>
<g fill="#fb8072"><circle cx="1249" cy="786" r="10"/><circle cx="1266" cy="792" r="10"/><circle cx="1280" cy="789" r="10"/><circle cx="1280" cy="794" r="10"/><circle cx="1297" cy="780" r="10"/><circle cx="1313" cy="781" r="10"/><circle cx="1320" cy="783" r="10"/><circle cx="1326" cy="780" r="10"/><circle cx="1274" cy="811" r="10"/></g>
<g fill="#fdb462"><circle cx="1249" cy="810" r="10"/></g>
<g fill="#bebada"><circle cx="1368" cy="821" r="10"/><circle cx="1437" cy="824" r="10"/><circle cx="1387" cy="838" r="10"/><circle cx="1383" cy="846" r="10"/><circle cx="1383" cy="852" r="10"/><circle cx="1346" cy="860" r="10"/><circle cx="1372" cy="869" r="10"/><circle cx="1307" cy="854" r="10"/></g>
<g fill="#b3de69"><circle cx="1344" cy="881" r="10"/></g>
<g fill="#bc80bd"><circle cx="1360" cy="878" r="10"/></g>
<g fill="#8dd3c7"><circle cx="1322" cy="913" r="10"/><circle cx="1319" cy="899" r="10"/><circle cx="1328" cy="915" r="10"/><circle cx="1326" cy="916" r="10"/><circle cx="1321" cy="910" r="10"/><circle cx="1306" cy="881" r="10"/><circle cx="1307" cy="913" r="10"/><circle cx="1323" cy="908" r="10"/><circle cx="1316" cy="930" r="10"/><circle cx="1312" cy="881" r="10"/><circle cx="1301" cy="901" r="10"/><circle cx="1321" cy="915" r="10"/><circle cx="1313" cy="916" r="10"/><circle cx="1315" cy="895" r="10"/><circle cx="1312" cy="915" r="10"/><circle cx="1323" cy="890" r="10"/><circle cx="1306" cy="907" r="10"/><circle cx="1304" cy="911" r="10"/><circle cx="1320" cy="897" r="10"/><circle cx="1315" cy="912" r="10"/><circle cx="1300" cy="905" r="10"/><circle cx="1320" cy="917" r="10"/><circle cx="1325" cy="904" r="10"/><circle cx="1302" cy="923" r="10"/><circle cx="1322" cy="896" r="10"/><circle cx="1324" cy="919" r="10"/></g>
<g fill="#8dd3c7"><circle cx="1213" cy="868" r="10"/><circle cx="1195" cy="880" r="10"/><circle cx="1222" cy="862" r="10"/></g>
<g fill="#8dd3c7"><circle cx="1318" cy="1012" r="10"/><circle cx="1315" cy="1017" r="10"/><circle cx="1314" cy="1021" r="10"/><circle cx="1330" cy="1013" r="10"/><circle cx="1326" cy="1017" r="10"/><circle cx="1332" cy="1012" r="10"/><circle cx="1328" cy="1011" r="10"/><circle cx="1324" cy="1018" r="10"/><circle cx="1330" cy="1004" r="10"/><circle cx="1311" cy="1030" r="10"/><circle cx="1325" cy="1033" r="10"/><circle cx="1314" cy="1020" r="10"/><circle cx="1327" cy="1033" r="10"/><circle cx="1322" cy="1014" r="10"/><circle cx="1328" cy="1017" r="10"/><circle cx="1316" cy="1025" r="10"/><circle cx="1333" cy="1014" r="10"/><circle cx="1320" cy="1021" r="10"/></g>
<g fill="#8dd3c7"><circle cx="1465" cy="1128" r="10"/><circle cx="1446" cy="1111" r="10"/><circle cx="1464" cy="1118" r="10"/><circle cx="1449" cy="1133" r="10"/><circle cx="1446" cy="1109" r="10"/><circle cx="1449" cy="1126" r="10"/><circle cx="1451" cy="1137" r="10"/><circle cx="1449" cy="1116" r="10"/><circle cx="1460" cy="1123" r="10"/><circle cx="1446" cy="1143" r="10"/><circle cx="1460" cy="1112" r="10"/><circle cx="1457" cy="1103" r="10"/><circle cx="1444" cy="1115" r="10"/><circle cx="1458" cy="1122" r="10"/><circle cx="1448" cy="1099" r="10"/><circle cx="1458" cy="1108" r="10"/><circle cx="1465" cy="1128" r="10"/><circle cx="1451" cy="1111" r="10"/><circle cx="1465" cy="1125" r="10"/><circle cx="1469" cy="1126" r="10"/><circle cx="1450" cy="1111" r="10"/><circle cx="1449" cy="1124" r="10"/><circle cx="1457" cy="1129" r="10"/><circle cx="1459" cy="1104" r="10"/><circle cx="1453" cy="1106" r="10"/><circle cx="1459" cy="1100" r="10"/><circle cx="1450" cy="1107" r="10"/><circle cx="1450" cy="1116" r="10"/><circle cx="1468" cy="1116" r="10"/><circle cx="1442" cy="1115" r="10"/></g>
<g fill="#ffffb3"><circle cx="1740" cy="1103" r="10"/><circle cx="1722" cy="1089" r="10"/><circle cx="1752" cy="1065" r="10"/><circle cx="1714" cy="1106" r="10"/><circle cx="1707" cy="1124" r="10"/><circle cx="1722" cy="1065" r="10"/><circle cx="1746" cy="1090" r="10"/><circle cx="1694" cy="1086" r="10"/><circle cx="1713" cy="1105" r="10"/><circle cx="1677" cy="1081" r="10"/><circle cx="1765" cy="1100" r="10"/><circle cx="1719" cy="1092" r="10"/><circle cx="1697" cy="1061" r="10"/><circle cx="1679" cy="1104" r="10"/><circle cx="1729" cy="1117" r="10"/><circle cx="1718" cy="1078" r="10"/><circle cx="1713" cy="1100" r="10"/><circle cx="1716" cy="1065" r="10"/><circle cx="1718" cy="1082" r="10"/><circle cx="1727" cy="1100" r="10"/><circle cx="1699" cy="1090" r="10"/><circle cx="1740" cy="1086" r="10"/><circle cx="1708" cy="1067" r="10"/><circle cx="1708" cy="1108" r="10"/><circle cx="1741" cy="1064" r="10"/><circle cx="1737" cy="1082" r="10"/><circle cx="1754" cy="1116" r="10"/><circle cx="1729" cy="1106" r="10"/><circle cx="1698" cy="1098" r="10"/><circle cx="1726" cy="1059" r="10"/><circle cx="1762" cy="1074" r="10"/><circle cx="1677" cy="1097" r="10"/><circle cx="1770" cy="1058" r="10"/><circle cx="1714" cy="1077" r="10"/><circle cx="1733" cy="1075" r="10"/><circle cx="1711" cy="1080" r="10"/><circle cx="1718" cy="1086" r="10"/><circle cx="1731" cy="1100" r="10"/><circle cx="1760" cy="1152" r="10"/><circle cx="1651" cy="1040" r="10"/><circle cx="1729" cy="1127" r="10"/><circle cx="1742" cy="1084" r="10"/><circle cx="1744" cy="1087" r="10"/><circle cx="1734" cy="1083" r="10"/><circle cx="1733" cy="1088" r="10"/><circle cx="1727" cy="1058" r="10"/><circle cx="1729" cy="1059" r="10"/><circle cx="1709" cy="1072" r="10"/><circle cx="1730" cy="1070" r="10"/><circle cx="1701" cy="1137" r="10"/><circle cx="1709" cy="1093" r="10"/><circle cx="1708" cy="1072" r="10"/><circle cx="1708" cy="1060" r="10"/><circle cx="1679" cy="1070" r="10"/><circle cx="1734" cy="1095" r="10"/><circle cx="1718" cy="1066" r="10"/><circle cx="1752" cy="1073" r="10"/><circle cx="1739" cy="1108" r="10"/><circle cx="1771" cy="1093" r="10"/><circle cx="1733" cy="1092" r="10"/><circle cx="1763" cy="1040" r="10"/><circle cx="1709" cy="1069" r="10"/><circle cx="1740" cy="1112" r="10"/><circle cx="1757" cy="1124" r="10"/><circle cx="1718" cy="1107" r="10"/><circle cx="1699" cy="1070" r="10"/><circle cx="1688" cy="1090" r="10"/><circle cx="1721" cy="1096" r="10"/><circle cx="1715" cy="1102" r="10"/><circle cx="1750" cy="1070" r="10"/><circle cx="1721" cy="1074" r="10"/><circle cx="1729" cy="1118" r="10"/><circle cx="1723" cy="1079" r="10"/><circle cx="1742" cy="1058" r="10"/><circle cx="1745" cy="1110" r="10"/><circle cx="1713" cy="1058" r="10"/><circle cx="1726" cy="1067" r="10"/><circle cx="1754" cy="1078" r="10"/><circle cx="1693" cy="1079" r="10"/><circle cx="1707" cy="1087" r="10"/><circle cx="1695" cy="1103" r="10"/><circle cx="1703" cy="1108" r="10"/><circle cx="1763" cy="1096" r="10"/><circle cx="1686" cy="1101" r="10"/><circle cx="1720" cy="1096" r="10"/><circle cx="1741" cy="1086" r="10"/><circle cx="1716" cy="1098" r="10"/><circle cx="1730" cy="1079" r="10"/><circle cx="1705" cy="1056" r="10"/><circle cx="1705" cy="1102" r="10"/><circle cx="1783" cy="1036" r="10"/><circle cx="1694" cy="1097" r="10"/><circle cx="1719" cy="1084" r="10"/><circle cx="1704" cy="1072" r="10"/><circle cx="1781" cy="1070" r="10"/><circle cx="1696" cy="1080" r="10"/><circle cx="1791" cy="1066" r="10"/><circle cx="1723" cy="1111" r="10"/><circle cx="1707" cy="1112" r="10"/><circle cx="1738" cy="1122" r="10"/><circle cx="1710" cy="1086" r="10"/><circle cx="1692" cy="1071" r="10"/><circle cx="1734" cy="1094" r="10"/><circle cx="1731" cy="1108" r="10"/><circle cx="1746" cy="1077" r="10"/><circle cx="1701" cy="1083" r="10"/><circle cx="1732" cy="1106" r="10"/><circle cx="1734" cy="1085" r="10"/><circle cx="1733" cy="1103" r="10"/><circle cx="1684" cy="1114" r="10"/><circle cx="1693" cy="1095" r="10"/><circle cx="1743" cy="1079" r="10"/><circle cx="1709" cy="1073" r="10"/><circle cx="1757" cy="1125" r="10"/><circle cx="1710" cy="1070" r="10"/><circle cx="1724" cy="1105" r="10"/><circle cx="1695" cy="1049" r="10"/><circle cx="1707" cy="1053" r="10"/><circle cx="1719" cy="1106" r="10"/><circle cx="1697" cy="1086" r="10"/><circle cx="1714" cy="1108" r="10"/><circle cx="1732" cy="1056" r="10"/><circle cx="1773" cy="1056" r="10"/><circle cx="1736" cy="1096" r="10"/><circle cx="1671" cy="1085" r="10"/><circle cx="1702" cy="1099" r="10"/><circle cx="1721" cy="1058" r="10"/><circle cx="1741" cy="1090" r="10"/><circle cx="1749" cy="1112" r="10"/><circle cx="1751" cy="1072" r="10"/><circle cx="1735" cy="1128" r="10"/><circle cx="1694" cy="1067" r="10"/><circle cx="1718" cy="1101" r="10"/><circle cx="1756" cy="1100" r="10"/><circle cx="1731" cy="1113" r="10"/><circle cx="1720" cy="1105" r="10"/><circle cx="1702" cy="1071" r="10"/><circle cx="1729" cy="1085" r="10"/><circle cx="1722" cy="1117" r="10"/><circle cx="1679" cy="1081" r="10"/><circle cx="1712" cy="1093" r="10"/><circle cx="1762" cy="1096" r="10"/><circle cx="1652" cy="1052" r="10"/><circle cx="1706" cy="1131" r="10"/><circle cx="1752" cy="1112" r="10"/><circle cx="1707" cy="1099" r="10"/><circle cx="1714" cy="1102" r="10"/><circle cx="1708" cy="1098" r="10"/><circle cx="1688" cy="1084" r="10"/><circle cx="1724" cy="1083" r="10"/></g>
<g fill="#ffffb3"><circle cx="1790" cy="1045" r="10"/><circle cx="1800" cy="1040" r="10"/><circle cx="1785" cy="1062" r="10"/></g>
<g fill="#ffffb3"><circle cx="1243" cy="968" r="10"/><circle cx="1240" cy="968" r="10"/><circle cx="1218" cy="971" r="10"/><circle cx="1227" cy="972" r="10"/><circle cx="1230" cy="976" r="10"/><circle cx="1234" cy="969" r="10"/><circle cx="1223" cy="977" r="10"/></g>
<g fill="#fdb462"><circle cx="1232" cy="848" r="10"/><circle cx="1226" cy="825" r="10"/><circle cx="1227" cy="835" r="10"/><circle cx="1230" cy="852" r="10"/><circle cx="1219" cy="832" r="10"/><circle cx="1219" cy="844" r="10"/><circle cx="1226" cy="831" r="10"/><circle cx="1225" cy="832" r="10"/><circle cx="1218" cy="850" r="10"/><circle cx="1222" cy="821" r="10"/><circle cx="1215" cy="851" r="10"/><circle cx="1209" cy="850" r="10"/><circle cx="1223" cy="829" r="10"/><circle cx="1218" cy="846" r="10"/><circle cx="1233" cy="829" r="10"/><circle cx="1221" cy="844" r="10"/></g>
<g fill="#fdb462"><circle cx="1195" cy="890" r="10"/><circle cx="1176" cy="902" r="10"/><circle cx="1202" cy="922" r="10"/><circle cx="1196" cy="886" r="10"/><circle cx="1191" cy="907" r="10"/><circle cx="1190" cy="898" r="10"/><circle cx="1190" cy="898" r="10"/><circle cx="1206" cy="892" r="10"/><circle cx="1179" cy="908" r="10"/><circle cx="1193" cy="885" r="10"/><circle cx="1187" cy="890" r="10"/><circle cx="1171" cy="928" r="10"/><circle cx="1173" cy="912" r="10"/><circle cx="1205" cy="893" r="10"/><circle cx="1193" cy="900" r="10"/><circle cx="1184" cy="881" r="10"/><circle cx="1223" cy="905" r="10"/><circle cx="1193" cy="910" r="10"/><circle cx="1185" cy="916" r="10"/><circle cx="1176" cy="900" r="10"/><circle cx="1179" cy="898" r="10"/><circle cx="1209" cy="900" r="10"/><circle cx="1195" cy="909" r="10"/><circle cx="1199" cy="916" r="10"/><circle cx="1190" cy="909" r="10"/><circle cx="1204" cy="912" r="10"/><circle cx="1181" cy="890" r="10"/><circle cx="1182" cy="928" r="10"/><circle cx="1186" cy="891" r="10"/><circle cx="1188" cy="910" r="10"/><circle cx="1183" cy="900" r="10"/><circle cx="1208" cy="887" r="10"/><circle cx="1181" cy="907" r="10"/><circle cx="1201" cy="906" r="10"/><circle cx="1184" cy="902" r="10"/><circle cx="1186" cy="914" r="10"/><circle cx="1152" cy="881" r="10"/><circle cx="1169" cy="900" r="10"/><circle cx="1195" cy="904" r="10"/><circle cx="1205" cy="906" r="10"/><circle cx="1189" cy="909" r="10"/><circle cx="1188" cy="924" r="10"/><circle cx="1196" cy="898" r="10"/><circle cx="1202" cy="908" r="10"/><circle cx="1189" cy="919" r="10"/><circle cx="1191" cy="928" r="10"/><circle cx="1182" cy="884" r="10"/><circle cx="1167" cy="912" r="10"/><circle cx="1203" cy="898" r="10"/><circle cx="1177" cy="882" r="10"/><circle cx="1165" cy="896" r="10"/><circle cx="1191" cy="904" r="10"/><circle cx="1182" cy="902" r="10"/><circle cx="1181" cy="909" r="10"/><circle cx="1168" cy="892" r="10"/><circle cx="1220" cy="928" r="10"/><circle cx="1188" cy="931" r="10"/><circle cx="1200" cy="895" r="10"/><circle cx="1190" cy="887" r="10"/><circle cx="1203" cy="908" r="10"/><circle cx="1221" cy="924" r="10"/><circle cx="1191" cy="921" r="10"/><circle cx="1184" cy="917" r="10"/><circle cx="1196" cy="918" r="10"/><circle cx="1179" cy="928" r="10"/><circle cx="1204" cy="918" r="10"/><circle cx="1194" cy="903" r="10"/><circle cx="1178" cy="885" r="10"/><circle cx="1172" cy="891" r="10"/><circle cx="1170" cy="910" r="10"/><circle cx="1182" cy="910" r="10"/><circle cx="1178" cy="902" r="10"/><circle cx="1174" cy="889" r="10"/><circle cx="1202" cy="900" r="10"/><circle cx="1195" cy="899" r="10"/><circle cx="1194" cy="906" r="10"/><circle cx="1168" cy="909" r="10"/><circle cx="1220" cy="890" r="10"/><circle cx="1192" cy="908" r="10"/><circle cx="1205" cy="909" r="10"/></g>
<g fill="#d9d9d9"><circle cx="1060" cy="1094" r="10"/><circle cx="1055" cy="1142" r="10"/><circle cx="1065" cy="1105" r="10"/><circle cx="1066" cy="1099" r="10"/><circle cx="1050" cy="1129" r="10"/><circle cx="1061" cy="1102" r="10"/><circle cx="1053" cy="1136" r="10"/><circle cx="1061" cy="1100" r="10"/><circle cx="1055" cy="1119" r="10"/><circle cx="1056" cy="1130" r="10"/><circle cx="1065" cy="1107" r="10"/><circle cx="1060" cy="1109" r="10"/><circle cx="1041" cy="1140" r="10"/><circle cx="1060" cy="1128" r="10"/><circle cx="1054" cy="1124" r="10"/><circle cx="1052" cy="1132" r="10"/><circle cx="1058" cy="1124" r="10"/><circle cx="1065" cy="1099" r="10"/><circle cx="1052" cy="1138" r="10"/><circle cx="1061" cy="1103" r="10"/><circle cx="1046" cy="1136" r="10"/><circle cx="1048" cy="1130" r="10"/><circle cx="1064" cy="1089" r="10"/><circle cx="1051" cy="1126" r="10"/><circle cx="1061" cy="1132" r="10"/><circle cx="1062" cy="1089" r="10"/><circle cx="1052" cy="1133" r="10"/><circle cx="1056" cy="1134" r="10"/><circle cx="1053" cy="1134" r="10"/><circle cx="1064" cy="1089" r="10"/><circle cx="1050" cy="1142" r="10"/><circle cx="1058" cy="1107" r="10"/><circle cx="1065" cy="1120" r="10"/><circle cx="1048" cy="1142" r="10"/><circle cx="1065" cy="1087" r="10"/><circle cx="1064" cy="1103" r="10"/></g>
<g fill="#d9d9d9"><circle cx="1087" cy="1142" r="10"/></g>
<g fill="#d9d9d9"><circle cx="1117" cy="882" r="10"/><circle cx="1119" cy="888" r="10"/><circle cx="1114" cy="868" r="10"/><circle cx="1116" cy="904" r="10"/><circle cx="1117" cy="893" r="10"/><circle cx="1125" cy="888" r="10"/><circle cx="1120" cy="907" r="10"/><circle cx="1134" cy="883" r="10"/><circle cx="1115" cy="913" r="10"/><circle cx="1128" cy="888" r="10"/><circle cx="1115" cy="896" r="10"/><circle cx="1118" cy="880" r="10"/><circle cx="1111" cy="868" r="10"/><circle cx="1112" cy="905" r="10"/><circle cx="1114" cy="898" r="10"/><circle cx="1104" cy="910" r="10"/><circle cx="1116" cy="899" r="10"/><circle cx="1110" cy="884" r="10"/><circle cx="1112" cy="877" r="10"/><circle cx="1106" cy="898" r="10"/><circle cx="1111" cy="918" r="10"/><circle cx="1113" cy="892" r="10"/><circle cx="1125" cy="866" r="10"/><circle cx="1110" cy="890" r="10"/><circle cx="1123" cy="918" r="10"/><circle cx="1122" cy="898" r="10"/><circle cx="1115" cy="909" r="10"/><circle cx="1113" cy="921" r="10"/><circle cx="1113" cy="909" r="10"/><circle cx="1118" cy="875" r="10"/><circle cx="1116" cy="901" r="10"/><circle cx="1117" cy="892" r="10"/><circle cx="1123" cy="862" r="10"/><circle cx="1114" cy="873" r="10"/><circle cx="1123" cy="862" r="10"/><circle cx="1115" cy="881" r="10"/><circle cx="1123" cy="888" r="10"/><circle cx="1118" cy="862" r="10"/><circle cx="1115" cy="912" r="10"/><circle cx="1131" cy="864" r="10"/><circle cx="1114" cy="875" r="10"/><circle cx="1125" cy="875" r="10"/><circle cx="1112" cy="911" r="10"/><circle cx="1120" cy="892" r="10"/><circle cx="1113" cy="895" r="10"/><circle cx="1113" cy="898" r="10"/><circle cx="1123" cy="904" r="10"/><circle cx="1126" cy="886" r="10"/><circle cx="1109" cy="864" r="10"/><circle cx="1113" cy="914" r="10"/><circle cx="1103" cy="915" r="10"/><circle cx="1116" cy="871" r="10"/><circle cx="1115" cy="882" r="10"/><circle cx="1102" cy="909" r="10"/><circle cx="1127" cy="914" r="10"/><circle cx="1109" cy="876" r="10"/><circle cx="1120" cy="897" r="10"/><circle cx="1124" cy="886" r="10"/><circle cx="1121" cy="868" r="10"/><circle cx="1126" cy="871" r="10"/><circle cx="1126" cy="880" r="10"/><circle cx="1125" cy="895" r="10"/></g>
<g fill="#fb8072"><circle cx="1095" cy="964" r="10"/><circle cx="1073" cy="993" r="10"/><circle cx="1084" cy="1004" r="10"/><circle cx="1108" cy="955" r="10"/><circle cx="1084" cy="1028" r="10"/><circle cx="1087" cy="998" r="10"/><circle cx="1077" cy="990" r="10"/><circle cx="1082" cy="1028" r="10"/><circle cx="1066" cy="1010" r="10"/><circle cx="1104" cy="993" r="10"/><circle cx="1077" cy="962" r="10"/><circle cx="1103" cy="989" r="10"/><circle cx="1068" cy="985" r="10"/><circle cx="1083" cy="979" r="10"/><circle cx="1067" cy="998" r="10"/><circle cx="1084" cy="978" r="10"/><circle cx="1079" cy="1000" r="10"/><circle cx="1061" cy="988" r="10"/><circle cx="1072" cy="998" r="10"/><circle cx="1069" cy="1004" r="10"/><circle cx="1057" cy="988" r="10"/><circle cx="1098" cy="1000" r="10"/><circle cx="1078" cy="1018" r="10"/><circle cx="1080" cy="968" r="10"/><circle cx="1088" cy="996" r="10"/><circle cx="1072" cy="1014" r="10"/><circle cx="1095" cy="990" r="10"/><circle cx="1100" cy="988" r="10"/><circle cx="1091" cy="962" r="10"/><circle cx="1097" cy="988" r="10"/><circle cx="1101" cy="1012" r="10"/><circle cx="1074" cy="981" r="10"/><circle cx="1074" cy="1010" r="10"/><circle cx="1083" cy="1015" r="10"/><circle cx="1088" cy="995" r="10"/><circle cx="1082" cy="987" r="10"/><circle cx="1085" cy="959" r="10"/><circle cx="1087" cy="971" r="10"/><circle cx="1062" cy="1001" r="10"/><circle cx="1073" cy="996" r="10"/><circle cx="1093" cy="974" r="10"/><circle cx="1090" cy="1018" r="10"/><circle cx="1089" cy="1008" r="10"/><circle cx="1078" cy="968" r="10"/><circle cx="1082" cy="1009" r="10"/><circle cx="1068" cy="983" r="10"/><circle cx="1095" cy="1026" r="10"/><circle cx="1072" cy="1038" r="10"/><circle cx="1070" cy="1013" r="10"/><circle cx="1075" cy="999" r="10"/><circle cx="1057" cy="991" r="10"/><circle cx="1076" cy="989" r="10"/><circle cx="1094" cy="974" r="10"/><circle cx="1086" cy="1001" r="10"/><circle cx="1093" cy="992" r="10"/><circle cx="1097" cy="1002" r="10"/><circle cx="1096" cy="1014" r="10"/><circle cx="1069" cy="1036" r="10"/><circle cx="1089" cy="1010" r="10"/><circle cx="1079" cy="1030" r="10"/><circle cx="1129" cy="979" r="10"/><circle cx="1087" cy="957" r="10"/><circle cx="1114" cy="994" r="10"/><circle cx="1082" cy="1008" r="10"/><circle cx="1047" cy="936" r="10"/><circle cx="1080" cy="994" r="10"/><circle cx="1064" cy="969" r="10"/><circle cx="1088" cy="1007" r="10"/><circle cx="1087" cy="1002" r="10"/><circle cx="1086" cy="967" r="10"/><circle cx="1098" cy="989" r="10"/><circle cx="1057" cy="977" r="10"/><circle cx="1065" cy="1009" r="10"/><circle cx="1076" cy="984" r="10"/><circle cx="1074" cy="1020" r="10"/><circle cx="1097" cy="1000" r="10"/><circle cx="1061" cy="970" r="10"/><circle cx="1073" cy="982" r="10"/><circle cx="1064" cy="994" r="10"/><circle cx="1082" cy="968" r="10"/><circle cx="1080" cy="1042" r="10"/><circle cx="1098" cy="984" r="10"/><circle cx="1079" cy="992" r="10"/><circle cx="1076" cy="976" r="10"/><circle cx="1078" cy="983" r="10"/><circle cx="1086" cy="961" r="10"/><circle cx="1088" cy="1006" r="10"/><circle cx="1100" cy="1003" r="10"/><circle cx="1096" cy="982" r="10"/><circle cx="1065" cy="1002" r="10"/><circle cx="1094" cy="996" r="10"/><circle cx="1070" cy="976" r="10"/><circle cx="1118" cy="964" r="10"/><circle cx="1102" cy="1003" r="10"/><circle cx="1064" cy="954" r="10"/><circle cx="1056" cy="1010" r="10"/><circle cx="1088" cy="999" r="10"/><circle cx="1073" cy="992" r="10"/><circle cx="1105" cy="974" r="10"/><circle cx="1083" cy="986" r="10"/><circle cx="1089" cy="959" r="10"/><circle cx="1106" cy="946" r="10"/><circle cx="1097" cy="1008" r="10"/><circle cx="1073" cy="989" r="10"/><circle cx="1097" cy="1035" r="10"/><circle cx="1070" cy="967" r="10"/><circle cx="1082" cy="986" r="10"/><circle cx="1114" cy="1029" r="10"/><circle cx="1098" cy="993" r="10"/><circle cx="1069" cy="997" r="10"/><circle cx="1077" cy="970" r="10"/><circle cx="1062" cy="1014" r="10"/><circle cx="1090" cy="1019" r="10"/><circle cx="1091" cy="1004" r="10"/><circle cx="1078" cy="1037" r="10"/><circle cx="1094" cy="1010" r="10"/><circle cx="1082" cy="989" r="10"/><circle cx="1070" cy="977" r="10"/><circle cx="1072" cy="994" r="10"/><circle cx="1089" cy="1011" r="10"/><circle cx="1066" cy="984" r="10"/><circle cx="1068" cy="997" r="10"/><circle cx="1103" cy="1002" r="10"/><circle cx="1096" cy="1036" r="10"/><circle cx="1088" cy="963" r="10"/><circle cx="1080" cy="977" r="10"/><circle cx="1059" cy="985" r="10"/><circle cx="1081" cy="1021" r="10"/><circle cx="1105" cy="1019" r="10"/><circle cx="1064" cy="998" r="10"/><circle cx="1092" cy="1006" r="10"/><circle cx="1066" cy="990" r="10"/><circle cx="1084" cy="1031" r="10"/><circle cx="1076" cy="1047" r="10"/><circle cx="1078" cy="1003" r="10"/><circle cx="1103" cy="985" r="10"/><circle cx="1108" cy="926" r="10"/><circle cx="1100" cy="986" r="10"/><circle cx="1064" cy="1011" r="10"/><circle cx="1104" cy="998" r="10"/></g>
<g fill="#80b1d3"><circle cx="1118" cy="942" r="10"/><circle cx="1138" cy="943" r="10"/><circle cx="1136" cy="949" r="10"/><circle cx="1145" cy="956" r="10"/><circle cx="1141" cy="968" r="10"/><circle cx="1139" cy="930" r="10"/><circle cx="1121" cy="934" r="10"/><circle cx="1133" cy="933" r="10"/><circle cx="1132" cy="961" r="10"/><circle cx="1144" cy="932" r="10"/><circle cx="1136" cy="950" r="10"/><circle cx="1122" cy="955" r="10"/><circle cx="1114" cy="960" r="10"/><circle cx="1102" cy="946" r="10"/><circle cx="1090" cy="946" r="10"/><circle cx="1137" cy="962" r="10"/><circle cx="1120" cy="952" r="10"/><circle cx="1119" cy="944" r="10"/><circle cx="1100" cy="960" r="10"/><circle cx="1110" cy="956" r="10"/><circle cx="1139" cy="962" r="10"/><circle cx="1124" cy="946" r="10"/><circle cx="1111" cy="955" r="10"/><circle cx="1120" cy="969" r="10"/><circle cx="1121" cy="940" r="10"/><circle cx="1100" cy="943" r="10"/><circle cx="1113" cy="954" r="10"/><circle cx="1132" cy="957" r="10"/><circle cx="1117" cy="940" r="10"/><circle cx="1126" cy="960" r="10"/><circle cx="1141" cy="966" r="10"/><circle cx="1125" cy="974" r="10"/><circle cx="1104" cy="958" r="10"/><circle cx="1118" cy="952" r="10"/><circle cx="1140" cy="946" r="10"/><circle cx="1150" cy="962" r="10"/><circle cx="1114" cy="959" r="10"/><circle cx="1125" cy="966" r="10"/><circle cx="1117" cy="936" r="10"/><circle cx="1159" cy="944" r="10"/><circle cx="1129" cy="946" r="10"/><circle cx="1159" cy="946" r="10"/><circle cx="1112" cy="940" r="10"/><circle cx="1138" cy="963" r="10"/><circle cx="1150" cy="968" r="10"/><circle cx="1135" cy="942" r="10"/><circle cx="1120" cy="974" r="10"/><circle cx="1112" cy="937" r="10"/><circle cx="1142" cy="957" r="10"/><circle cx="1130" cy="942" r="10"/><circle cx="1114" cy="972" r="10"/><circle cx="1120" cy="946" r="10"/><circle cx="1116" cy="924" r="10"/><circle cx="1108" cy="945" r="10"/><circle cx="1159" cy="957" r="10"/><circle cx="1117" cy="959" r="10"/><circle cx="1155" cy="940" r="10"/><circle cx="1108" cy="940" r="10"/><circle cx="1174" cy="958" r="10"/><circle cx="1120" cy="948" r="10"/><circle cx="1138" cy="966" r="10"/><circle cx="1150" cy="949" r="10"/><circle cx="1128" cy="947" r="10"/><circle cx="1113" cy="951" r="10"/><circle cx="1145" cy="958" r="10"/><circle cx="1122" cy="942" r="10"/><circle cx="1105" cy="936" r="10"/><circle cx="1118" cy="969" r="10"/><circle cx="1150" cy="935" r="10"/><circle cx="1114" cy="944" r="10"/><circle cx="1136" cy="932" r="10"/><circle cx="1131" cy="936" r="10"/><circle cx="1132" cy="932" r="10"/><circle cx="1130" cy="946" r="10"/><circle cx="1118" cy="951" r="10"/><circle cx="1155" cy="964" r="10"/><circle cx="1144" cy="966" r="10"/><circle cx="1106" cy="959" r="10"/><circle cx="1144" cy="945" r="10"/><circle cx="1108" cy="953" r="10"/><circle cx="1145" cy="963" r="10"/><circle cx="1126" cy="934" r="10"/><circle cx="1131" cy="953" r="10"/><circle cx="1150" cy="932" r="10"/><circle cx="1125" cy="926" r="10"/><circle cx="1132" cy="944" r="10"/><circle cx="1098" cy="948" r="10"/><circle cx="1114" cy="975" r="10"/><circle cx="1114" cy="954" r="10"/><circle cx="1121" cy="938" r="10"/><circle cx="1122" cy="950" r="10"/><circle cx="1120" cy="966" r="10"/><circle cx="1127" cy="955" r="10"/><circle cx="1144" cy="971" r="10"/><circle cx="1138" cy="953" r="10"/><circle cx="1132" cy="960" r="10"/><circle cx="1113" cy="953" r="10"/><circle cx="1141" cy="960" r="10"/><circle cx="1143" cy="959" r="10"/><circle cx="1124" cy="932" r="10"/><circle cx="1117" cy="945" r="10"/><circle cx="1109" cy="909" r="10"/><circle cx="1113" cy="955" r="10"/><circle cx="1140" cy="938" r="10"/><circle cx="1126" cy="940" r="10"/><circle cx="1111" cy="960" r="10"/><circle cx="1120" cy="943" r="10"/><circle cx="1133" cy="960" r="10"/><circle cx="1141" cy="949" r="10"/><circle cx="1176" cy="959" r="10"/><circle cx="1125" cy="947" r="10"/><circle cx="1120" cy="954" r="10"/><circle cx="1109" cy="968" r="10"/><circle cx="1182" cy="940" r="10"/><circle cx="1115" cy="949" r="10"/><circle cx="1127" cy="958" r="10"/><circle cx="1112" cy="970" r="10"/><circle cx="1128" cy="945" r="10"/><circle cx="1101" cy="949" r="10"/><circle cx="1119" cy="938" r="10"/><circle cx="1117" cy="946" r="10"/><circle cx="1125" cy="948" r="10"/><circle cx="1099" cy="944" r="10"/><circle cx="1106" cy="952" r="10"/><circle cx="1143" cy="957" r="10"/><circle cx="1114" cy="945" r="10"/><circle cx="1145" cy="936" r="10"/><circle cx="1123" cy="949" r="10"/><circle cx="1119" cy="945" r="10"/><circle cx="1100" cy="951" r="10"/><circle cx="1161" cy="932" r="10"/><circle cx="1140" cy="926" r="10"/><circle cx="1117" cy="925" r="10"/><circle cx="1154" cy="961" r="10"/><circle cx="1133" cy="931" r="10"/><circle cx="1150" cy="936" r="10"/><circle cx="1146" cy="946" r="10"/><circle cx="1117" cy="938" r="10"/><circle cx="1113" cy="950" r="10"/><circle cx="1143" cy="929" r="10"/><circle cx="1117" cy="936" r="10"/><circle cx="1124" cy="949" r="10"/><circle cx="1136" cy="948" r="10"/><circle cx="1136" cy="955" r="10"/><circle cx="1155" cy="955" r="10"/><circle cx="1134" cy="943" r="10"/><circle cx="1112" cy="960" r="10"/><circle cx="1080" cy="940" r="10"/><circle cx="1149" cy="950" r="10"/><circle cx="1131" cy="941" r="10"/><circle cx="1120" cy="942" r="10"/><circle cx="1110" cy="976" r="10"/><circle cx="1140" cy="930" r="10"/><circle cx="1115" cy="930" r="10"/><circle cx="1112" cy="969" r="10"/><circle cx="1133" cy="957" r="10"/><circle cx="1130" cy="950" r="10"/><circle cx="1125" cy="927" r="10"/><circle cx="1139" cy="947" r="10"/><circle cx="1115" cy="967" r="10"/><circle cx="1121" cy="942" r="10"/><circle cx="1122" cy="935" r="10"/><circle cx="1143" cy="961" r="10"/><circle cx="1133" cy="916" r="10"/><circle cx="1112" cy="951" r="10"/><circle cx="1110" cy="959" r="10"/><circle cx="1122" cy="965" r="10"/><circle cx="1137" cy="954" r="10"/><circle cx="1138" cy="951" r="10"/><circle cx="1118" cy="938" r="10"/><circle cx="1118" cy="959" r="10"/><circle cx="1149" cy="964" r="10"/><circle cx="1155" cy="956" r="10"/><circle cx="1117" cy="941" r="10"/><circle cx="1130" cy="952" r="10"/><circle cx="1132" cy="952" r="10"/><circle cx="1140" cy="965" r="10"/><circle cx="1127" cy="965" r="10"/><circle cx="1142" cy="937" r="10"/><circle cx="1121" cy="947" r="10"/><circle cx="1129" cy="935" r="10"/><circle cx="1096" cy="951" r="10"/><circle cx="1121" cy="965" r="10"/><circle cx="1146" cy="950" r="10"/><circle cx="1123" cy="941" r="10"/><circle cx="1106" cy="941" r="10"/><circle cx="1099" cy="949" r="10"/><circle cx="1095" cy="948" r="10"/><circle cx="1135" cy="957" r="10"/><circle cx="1113" cy="962" r="10"/><circle cx="1153" cy="950" r="10"/><circle cx="1147" cy="934" r="10"/><circle cx="1144" cy="969" r="10"/><circle cx="1114" cy="962" r="10"/><circle cx="1138" cy="970" r="10"/><circle cx="1134" cy="970" r="10"/><circle cx="1116" cy="951" r="10"/><circle cx="1114" cy="955" r="10"/><circle cx="1123" cy="952" r="10"/><circle cx="1126" cy="923" r="10"/><circle cx="1121" cy="986" r="10"/><circle cx="1149" cy="946" r="10"/><circle cx="1138" cy="953" r="10"/><circle cx="1134" cy="949" r="10"/><circle cx="1144" cy="914" r="10"/><circle cx="1125" cy="954" r="10"/><circle cx="1142" cy="957" r="10"/><circle cx="1151" cy="939" r="10"/><circle cx="1143" cy="948" r="10"/><circle cx="1084" cy="979" r="10"/></g>
<g fill="#80b1d3"><circle cx="1098" cy="1005" r="10"/><circle cx="1098" cy="1008" r="10"/><circle cx="1099" cy="1017" r="10"/><circle cx="1093" cy="1005" r="10"/><circle cx="1096" cy="1010" r="10"/><circle cx="1094" cy="1022" r="10"/><circle cx="1104" cy="1005" r="10"/><circle cx="1104" cy="1028" r="10"/><circle cx="1106" cy="1018" r="10"/><circle cx="1094" cy="1031" r="10"/><circle cx="1092" cy="1003" r="10"/><circle cx="1096" cy="1018" r="10"/><circle cx="1085" cy="1005" r="10"/><circle cx="1114" cy="1017" r="10"/><circle cx="1103" cy="1011" r="10"/><circle cx="1081" cy="1014" r="10"/><circle cx="1108" cy="1010" r="10"/><circle cx="1078" cy="1014" r="10"/><circle cx="1092" cy="1016" r="10"/><circle cx="1085" cy="1013" r="10"/><circle cx="1090" cy="1024" r="10"/><circle cx="1097" cy="1024" r="10"/><circle cx="1095" cy="997" r="10"/><circle cx="1076" cy="1021" r="10"/><circle cx="1104" cy="1024" r="10"/><circle cx="1094" cy="1000" r="10"/><circle cx="1090" cy="1020" r="10"/><circle cx="1108" cy="1013" r="10"/><circle cx="1090" cy="1009" r="10"/><circle cx="1105" cy="1024" r="10"/><circle cx="1086" cy="1003" r="10"/><circle cx="1080" cy="1010" r="10"/><circle cx="1083" cy="1010" r="10"/><circle cx="1097" cy="1020" r="10"/><circle cx="1090" cy="1002" r="10"/><circle cx="1091" cy="1010" r="10"/><circle cx="1078" cy="1017" r="10"/><circle cx="1110" cy="1024" r="10"/><circle cx="1109" cy="1017" r="10"/><circle cx="1091" cy="1015" r="10"/><circle cx="1082" cy="1022" r="10"/><circle cx="1098" cy="1013" r="10"/><circle cx="1077" cy="1015" r="10"/><circle cx="1104" cy="1013" r="10"/><circle cx="1096" cy="1021" r="10"/><circle cx="1097" cy="1025" r="10"/><circle cx="1082" cy="1022" r="10"/><circle cx="1105" cy="1016" r="10"/><circle cx="1100" cy="1017" r="10"/><circle cx="1097" cy="1012" r="10"/><circle cx="1091" cy="1026" r="10"/><circle cx="1092" cy="1016" r="10"/><circle cx="1107" cy="1025" r="10"/><circle cx="1091" cy="1018" r="10"/><circle cx="1085" cy="1017" r="10"/></g>
<g fill="#80b1d3"><circle cx="1115" cy="985" r="10"/><circle cx="1114" cy="988" r="10"/><circle cx="1113" cy="981" r="10"/><circle cx="1103" cy="983" r="10"/><circle cx="1128" cy="983" r="10"/><circle cx="1106" cy="981" r="10"/><circle cx="1101" cy="989" r="10"/><circle cx="1103" cy="992" r="10"/><circle cx="1121" cy="990" r="10"/><circle cx="1122" cy="984" r="10"/><circle cx="1095" cy="984" r="10"/><circle cx="1118" cy="973" r="10"/><circle cx="1100" cy="994" r="10"/><circle cx="1116" cy="996" r="10"/><circle cx="1118" cy="986" r="10"/><circle cx="1116" cy="992" r="10"/><circle cx="1112" cy="983" r="10"/><circle cx="1115" cy="982" r="10"/><circle cx="1098" cy="975" r="10"/><circle cx="1122" cy="982" r="10"/><circle cx="1114" cy="983" r="10"/><circle cx="1115" cy="974" r="10"/><circle cx="1113" cy="980" r="10"/><circle cx="1122" cy="990" r="10"/><circle cx="1100" cy="977" r="10"/><circle cx="1118" cy="994" r="10"/><circle cx="1120" cy="984" r="10"/><circle cx="1107" cy="977" r="10"/><circle cx="1102" cy="989" r="10"/><circle cx="1115" cy="987" r="10"/></g>
<g fill="#80b1d3"><circle cx="1165" cy="955" r="10"/><circle cx="1178" cy="962" r="10"/><circle cx="1190" cy="975" r="10"/><circle cx="1205" cy="985" r="10"/><circle cx="1215" cy="995" r="10"/><circle cx="1172" cy="985" r="10"/><circle cx="1160" cy="1000" r="10"/><circle cx="1185" cy="1000" r="10"/><circle cx="1140" cy="1000" r="10"/><circle cx="1150" cy="990" r="10"/><circle cx="1196" cy="960" r="10"/><circle cx="1182" cy="948" r="10"/></g>
<g fill="#fb8072"><circle cx="1249" cy="918" r="10"/><circle cx="1225" cy="938" r="10"/><circle cx="1234" cy="916" r="10"/><circle cx="1232" cy="959" r="10"/><circle cx="1233" cy="903" r="10"/><circle cx="1220" cy="914" r="10"/><circle cx="1251" cy="892" r="10"/><circle cx="1274" cy="893" r="10"/><circle cx="1237" cy="910" r="10"/><circle cx="1263" cy="909" r="10"/><circle cx="1242" cy="916" r="10"/><circle cx="1279" cy="908" r="10"/><circle cx="1260" cy="926" r="10"/><circle cx="1285" cy="901" r="10"/><circle cx="1208" cy="922" r="10"/><circle cx="1236" cy="926" r="10"/><circle cx="1269" cy="903" r="10"/><circle cx="1258" cy="883" r="10"/><circle cx="1206" cy="921" r="10"/><circle cx="1250" cy="911" r="10"/><circle cx="1230" cy="924" r="10"/><circle cx="1245" cy="892" r="10"/><circle cx="1253" cy="905" r="10"/><circle cx="1251" cy="934" r="10"/><circle cx="1253" cy="907" r="10"/><circle cx="1240" cy="938" r="10"/><circle cx="1221" cy="890" r="10"/><circle cx="1250" cy="904" r="10"/><circle cx="1253" cy="915" r="10"/><circle cx="1242" cy="892" r="10"/><circle cx="1248" cy="914" r="10"/><circle cx="1246" cy="894" r="10"/><circle cx="1264" cy="904" r="10"/><circle cx="1265" cy="924" r="10"/><circle cx="1210" cy="916" r="10"/><circle cx="1241" cy="931" r="10"/><circle cx="1275" cy="907" r="10"/><circle cx="1245" cy="895" r="10"/><circle cx="1245" cy="916" r="10"/><circle cx="1243" cy="891" r="10"/><circle cx="1284" cy="911" r="10"/><circle cx="1272" cy="916" r="10"/><circle cx="1253" cy="938" r="10"/><circle cx="1242" cy="884" r="10"/><circle cx="1228" cy="919" r="10"/><circle cx="1250" cy="879" r="10"/><circle cx="1238" cy="894" r="10"/><circle cx="1228" cy="892" r="10"/><circle cx="1284" cy="899" r="10"/><circle cx="1245" cy="882" r="10"/><circle cx="1267" cy="896" r="10"/><circle cx="1232" cy="926" r="10"/><circle cx="1248" cy="914" r="10"/><circle cx="1237" cy="890" r="10"/><circle cx="1251" cy="906" r="10"/><circle cx="1278" cy="904" r="10"/><circle cx="1264" cy="937" r="10"/><circle cx="1281" cy="910" r="10"/><circle cx="1206" cy="914" r="10"/><circle cx="1278" cy="893" r="10"/><circle cx="1284" cy="918" r="10"/><circle cx="1280" cy="888" r="10"/><circle cx="1246" cy="895" r="10"/><circle cx="1249" cy="904" r="10"/><circle cx="1214" cy="909" r="10"/><circle cx="1217" cy="903" r="10"/><circle cx="1223" cy="913" r="10"/><circle cx="1250" cy="921" r="10"/><circle cx="1240" cy="905" r="10"/><circle cx="1213" cy="918" r="10"/><circle cx="1271" cy="906" r="10"/><circle cx="1244" cy="911" r="10"/><circle cx="1237" cy="930" r="10"/><circle cx="1232" cy="915" r="10"/><circle cx="1235" cy="897" r="10"/><circle cx="1241" cy="907" r="10"/><circle cx="1212" cy="921" r="10"/><circle cx="1229" cy="937" r="10"/><circle cx="1247" cy="908" r="10"/><circle cx="1227" cy="920" r="10"/><circle cx="1240" cy="919" r="10"/><circle cx="1243" cy="907" r="10"/><circle cx="1264" cy="900" r="10"/><circle cx="1228" cy="908" r="10"/><circle cx="1260" cy="905" r="10"/><circle cx="1264" cy="919" r="10"/><circle cx="1260" cy="907" r="10"/><circle cx="1268" cy="916" r="10"/><circle cx="1224" cy="926" r="10"/><circle cx="1209" cy="900" r="10"/><circle cx="1259" cy="913" r="10"/><circle cx="1216" cy="876" r="10"/><circle cx="1245" cy="908" r="10"/><circle cx="1253" cy="886" r="10"/><circle cx="1238" cy="922" r="10"/><circle cx="1269" cy="901" r="10"/><circle cx="1272" cy="902" r="10"/><circle cx="1241" cy="933" r="10"/><circle cx="1208" cy="926" r="10"/><circle cx="1217" cy="930" r="10"/><circle cx="1244" cy="888" r="10"/><circle cx="1247" cy="911" r="10"/><circle cx="1249" cy="909" r="10"/><circle cx="1229" cy="934" r="10"/><circle cx="1233" cy="898" r="10"/><circle cx="1262" cy="884" r="10"/><circle cx="1209" cy="910" r="10"/><circle cx="1224" cy="918" r="10"/><circle cx="1244" cy="897" r="10"/><circle cx="1229" cy="930" r="10"/><circle cx="1236" cy="922" r="10"/><circle cx="1244" cy="908" r="10"/><circle cx="1256" cy="905" r="10"/><circle cx="1236" cy="889" r="10"/><circle cx="1286" cy="918" r="10"/><circle cx="1244" cy="900" r="10"/><circle cx="1228" cy="914" r="10"/><circle cx="1248" cy="895" r="10"/><circle cx="1213" cy="909" r="10"/><circle cx="1236" cy="900" r="10"/><circle cx="1217" cy="918" r="10"/><circle cx="1249" cy="910" r="10"/><circle cx="1217" cy="914" r="10"/><circle cx="1264" cy="896" r="10"/><circle cx="1225" cy="930" r="10"/><circle cx="1237" cy="924" r="10"/><circle cx="1240" cy="924" r="10"/><circle cx="1217" cy="910" r="10"/><circle cx="1246" cy="880" r="10"/><circle cx="1233" cy="913" r="10"/><circle cx="1264" cy="888" r="10"/><circle cx="1230" cy="901" r="10"/><circle cx="1235" cy="928" r="10"/><circle cx="1229" cy="911" r="10"/><circle cx="1244" cy="897" r="10"/><circle cx="1242" cy="885" r="10"/><circle cx="1261" cy="891" r="10"/><circle cx="1234" cy="896" r="10"/><circle cx="1246" cy="909" r="10"/><circle cx="1227" cy="925" r="10"/><circle cx="1283" cy="920" r="10"/><circle cx="1250" cy="913" r="10"/><circle cx="1250" cy="926" r="10"/><circle cx="1260" cy="916" r="10"/><circle cx="1233" cy="903" r="10"/><circle cx="1254" cy="911" r="10"/><circle cx="1242" cy="897" r="10"/><circle cx="1244" cy="906" r="10"/><circle cx="1242" cy="903" r="10"/><circle cx="1258" cy="909" r="10"/><circle cx="1226" cy="900" r="10"/><circle cx="1231" cy="900" r="10"/><circle cx="1256" cy="897" r="10"/><circle cx="1230" cy="920" r="10"/><circle cx="1230" cy="934" r="10"/><circle cx="1231" cy="915" r="10"/><circle cx="1249" cy="902" r="10"/><circle cx="1266" cy="924" r="10"/><circle cx="1254" cy="918" r="10"/><circle cx="1251" cy="894" r="10"/><circle cx="1260" cy="921" r="10"/><circle cx="1270" cy="911" r="10"/><circle cx="1257" cy="897" r="10"/><circle cx="1283" cy="907" r="10"/><circle cx="1255" cy="886" r="10"/><circle cx="1250" cy="920" r="10"/><circle cx="1211" cy="920" r="10"/><circle cx="1211" cy="911" r="10"/><circle cx="1280" cy="914" r="10"/><circle cx="1251" cy="894" r="10"/><circle cx="1260" cy="897" r="10"/><circle cx="1226" cy="907" r="10"/><circle cx="1231" cy="888" r="10"/><circle cx="1221" cy="916" r="10"/><circle cx="1290" cy="901" r="10"/><circle cx="1279" cy="925" r="10"/><circle cx="1241" cy="887" r="10"/><circle cx="1255" cy="905" r="10"/><circle cx="1270" cy="921" r="10"/><circle cx="1261" cy="907" r="10"/><circle cx="1224" cy="912" r="10"/><circle cx="1276" cy="903" r="10"/><circle cx="1256" cy="910" r="10"/><circle cx="1239" cy="917" r="10"/><circle cx="1273" cy="923" r="10"/><circle cx="1246" cy="915" r="10"/><circle cx="1279" cy="911" r="10"/><circle cx="1260" cy="894" r="10"/><circle cx="1259" cy="895" r="10"/><circle cx="1264" cy="907" r="10"/><circle cx="1265" cy="899" r="10"/><circle cx="1282" cy="897" r="10"/><circle cx="1268" cy="912" r="10"/><circle cx="1270" cy="899" r="10"/><circle cx="1249" cy="913" r="10"/><circle cx="1287" cy="910" r="10"/><circle cx="1247" cy="936" r="10"/><circle cx="1277" cy="900" r="10"/><circle cx="1267" cy="898" r="10"/><circle cx="1232" cy="876" r="10"/><circle cx="1229" cy="892" r="10"/><circle cx="1257" cy="910" r="10"/><circle cx="1287" cy="916" r="10"/><circle cx="1285" cy="899" r="10"/><circle cx="1262" cy="919" r="10"/><circle cx="1282" cy="903" r="10"/><circle cx="1220" cy="896" r="10"/><circle cx="1215" cy="899" r="10"/><circle cx="1278" cy="894" r="10"/><circle cx="1269" cy="922" r="10"/><circle cx="1264" cy="900" r="10"/><circle cx="1273" cy="888" r="10"/><circle cx="1290" cy="888" r="10"/><circle cx="1242" cy="910" r="10"/><circle cx="1241" cy="905" r="10"/><circle cx="1239" cy="923" r="10"/><circle cx="1264" cy="885" r="10"/><circle cx="1241" cy="908" r="10"/><circle cx="1260" cy="908" r="10"/><circle cx="1267" cy="927" r="10"/><circle cx="1209" cy="924" r="10"/><circle cx="1244" cy="904" r="10"/><circle cx="1240" cy="898" r="10"/><circle cx="1238" cy="914" r="10"/><circle cx="1282" cy="914" r="10"/><circle cx="1258" cy="904" r="10"/><circle cx="1238" cy="904" r="10"/><circle cx="1218" cy="911" r="10"/><circle cx="1208" cy="924" r="10"/><circle cx="1253" cy="921" r="10"/><circle cx="1274" cy="908" r="10"/><circle cx="1248" cy="910" r="10"/><circle cx="1259" cy="893" r="10"/><circle cx="1242" cy="912" r="10"/><circle cx="1261" cy="884" r="10"/><circle cx="1247" cy="915" r="10"/><circle cx="1211" cy="916" r="10"/><circle cx="1261" cy="908" r="10"/><circle cx="1219" cy="910" r="10"/><circle cx="1241" cy="923" r="10"/><circle cx="1250" cy="887" r="10"/><circle cx="1235" cy="929" r="10"/><circle cx="1284" cy="903" r="10"/><circle cx="1206" cy="916" r="10"/><circle cx="1231" cy="906" r="10"/><circle cx="1240" cy="897" r="10"/><circle cx="1247" cy="887" r="10"/><circle cx="1228" cy="890" r="10"/><circle cx="1263" cy="898" r="10"/><circle cx="1250" cy="895" r="10"/><circle cx="1211" cy="906" r="10"/><circle cx="1260" cy="900" r="10"/><circle cx="1259" cy="913" r="10"/><circle cx="1278" cy="907" r="10"/><circle cx="1222" cy="932" r="10"/><circle cx="1244" cy="905" r="10"/><circle cx="1262" cy="907" r="10"/><circle cx="1272" cy="917" r="10"/><circle cx="1222" cy="890" r="10"/><circle cx="1286" cy="897" r="10"/><circle cx="1240" cy="927" r="10"/><circle cx="1228" cy="906" r="10"/><circle cx="1223" cy="929" r="10"/><circle cx="1232" cy="885" r="10"/><circle cx="1254" cy="894" r="10"/><circle cx="1273" cy="904" r="10"/><circle cx="1252" cy="909" r="10"/><circle cx="1272" cy="886" r="10"/><circle cx="1232" cy="922" r="10"/><circle cx="1248" cy="923" r="10"/><circle cx="1255" cy="923" r="10"/><circle cx="1241" cy="911" r="10"/><circle cx="1233" cy="909" r="10"/><circle cx="1228" cy="910" r="10"/><circle cx="1254" cy="904" r="10"/><circle cx="1275" cy="912" r="10"/><circle cx="1226" cy="926" r="10"/><circle cx="1247" cy="914" r="10"/><circle cx="1267" cy="890" r="10"/><circle cx="1236" cy="921" r="10"/><circle cx="1235" cy="931" r="10"/><circle cx="1212" cy="924" r="10"/><circle cx="1234" cy="903" r="10"/><circle cx="1247" cy="918" r="10"/><circle cx="1238" cy="890" r="10"/><circle cx="1243" cy="913" r="10"/><circle cx="1253" cy="931" r="10"/><circle cx="1244" cy="912" r="10"/><circle cx="1245" cy="894" r="10"/><circle cx="1254" cy="891" r="10"/><circle cx="1272" cy="903" r="10"/><circle cx="1294" cy="907" r="10"/><circle cx="1232" cy="908" r="10"/><circle cx="1232" cy="916" r="10"/><circle cx="1229" cy="897" r="10"/><circle cx="1259" cy="905" r="10"/><circle cx="1248" cy="923" r="10"/><circle cx="1256" cy="903" r="10"/><circle cx="1235" cy="905" r="10"/><circle cx="1208" cy="930" r="10"/></g>
<g fill="#fb8072"><circle cx="1253" cy="868" r="10"/><circle cx="1242" cy="881" r="10"/><circle cx="1245" cy="871" r="10"/><circle cx="1255" cy="865" r="10"/><circle cx="1245" cy="855" r="10"/><circle cx="1269" cy="873" r="10"/><circle cx="1265" cy="861" r="10"/><circle cx="1245" cy="865" r="10"/><circle cx="1245" cy="864" r="10"/><circle cx="1250" cy="876" r="10"/><circle cx="1239" cy="881" r="10"/><circle cx="1244" cy="878" r="10"/><circle cx="1266" cy="878" r="10"/><circle cx="1246" cy="864" r="10"/><circle cx="1249" cy="850" r="10"/><circle cx="1240" cy="862" r="10"/><circle cx="1275" cy="881" r="10"/><circle cx="1245" cy="856" r="10"/><circle cx="1250" cy="882" r="10"/><circle cx="1246" cy="866" r="10"/><circle cx="1282" cy="866" r="10"/><circle cx="1246" cy="851" r="10"/><circle cx="1253" cy="858" r="10"/><circle cx="1251" cy="858" r="10"/><circle cx="1254" cy="867" r="10"/><circle cx="1278" cy="856" r="10"/><circle cx="1245" cy="861" r="10"/><circle cx="1259" cy="865" r="10"/><circle cx="1249" cy="871" r="10"/><circle cx="1248" cy="861" r="10"/><circle cx="1252" cy="870" r="10"/><circle cx="1284" cy="868" r="10"/><circle cx="1243" cy="869" r="10"/><circle cx="1264" cy="868" r="10"/><circle cx="1270" cy="870" r="10"/><circle cx="1240" cy="869" r="10"/><circle cx="1262" cy="880" r="10"/><circle cx="1268" cy="871" r="10"/><circle cx="1267" cy="872" r="10"/><circle cx="1259" cy="869" r="10"/><circle cx="1262" cy="860" r="10"/><circle cx="1257" cy="850" r="10"/><circle cx="1259" cy="865" r="10"/><circle cx="1235" cy="857" r="10"/><circle cx="1245" cy="857" r="10"/><circle cx="1235" cy="875" r="10"/><circle cx="1245" cy="865" r="10"/><circle cx="1242" cy="867" r="10"/><circle cx="1266" cy="880" r="10"/><circle cx="1268" cy="855" r="10"/><circle cx="1272" cy="868" r="10"/><circle cx="1259" cy="862" r="10"/><circle cx="1237" cy="866" r="10"/><circle cx="1246" cy="865" r="10"/><circle cx="1280" cy="869" r="10"/><circle cx="1268" cy="878" r="10"/><circle cx="1236" cy="865" r="10"/><circle cx="1258" cy="848" r="10"/><circle cx="1267" cy="881" r="10"/><circle cx="1242" cy="877" r="10"/><circle cx="1253" cy="858" r="10"/><circle cx="1272" cy="864" r="10"/><circle cx="1236" cy="870" r="10"/><circle cx="1244" cy="884" r="10"/><circle cx="1262" cy="871" r="10"/><circle cx="1249" cy="863" r="10"/><circle cx="1249" cy="869" r="10"/><circle cx="1254" cy="852" r="10"/><circle cx="1255" cy="862" r="10"/><circle cx="1276" cy="871" r="10"/><circle cx="1277" cy="874" r="10"/><circle cx="1266" cy="854" r="10"/><circle cx="1266" cy="857" r="10"/><circle cx="1257" cy="870" r="10"/><circle cx="1252" cy="854" r="10"/><circle cx="1247" cy="859" r="10"/><circle cx="1252" cy="871" r="10"/><circle cx="1281" cy="862" r="10"/><circle cx="1250" cy="869" r="10"/><circle cx="1242" cy="868" r="10"/><circle cx="1239" cy="878" r="10"/><circle cx="1261" cy="874" r="10"/><circle cx="1263" cy="861" r="10"/><circle cx="1256" cy="860" r="10"/><circle cx="1245" cy="873" r="10"/><circle cx="1259" cy="885" r="10"/><circle cx="1260" cy="869" r="10"/><circle cx="1237" cy="873" r="10"/><circle cx="1279" cy="866" r="10"/><circle cx="1257" cy="877" r="10"/></g>
<g fill="#fb8072"><circle cx="1224" cy="960" r="10"/><circle cx="1216" cy="954" r="10"/><circle cx="1228" cy="950" r="10"/></g>
<g fill="#80b1d3"><circle cx="1648" cy="988" r="10"/><circle cx="1633" cy="978" r="10"/><circle cx="1641" cy="994" r="10"/><circle cx="1651" cy="978" r="10"/><circle cx="1646" cy="990" r="10"/><circle cx="1637" cy="1000" r="10"/><circle cx="1618" cy="989" r="10"/><circle cx="1643" cy="980" r="10"/><circle cx="1626" cy="994" r="10"/><circle cx="1624" cy="979" r="10"/><circle cx="1622" cy="979" r="10"/><circle cx="1643" cy="976" r="10"/><circle cx="1630" cy="975" r="10"/><circle cx="1628" cy="978" r="10"/><circle cx="1642" cy="991" r="10"/><circle cx="1632" cy="986" r="10"/><circle cx="1635" cy="975" r="10"/><circle cx="1608" cy="987" r="10"/><circle cx="1641" cy="987" r="10"/><circle cx="1632" cy="983" r="10"/><circle cx="1646" cy="978" r="10"/><circle cx="1664" cy="982" r="10"/><circle cx="1621" cy="989" r="10"/><circle cx="1608" cy="990" r="10"/><circle cx="1608" cy="988" r="10"/><circle cx="1660" cy="984" r="10"/><circle cx="1607" cy="984" r="10"/><circle cx="1612" cy="985" r="10"/><circle cx="1654" cy="984" r="10"/><circle cx="1626" cy="984" r="10"/><circle cx="1634" cy="999" r="10"/><circle cx="1632" cy="998" r="10"/><circle cx="1629" cy="996" r="10"/><circle cx="1634" cy="983" r="10"/><circle cx="1644" cy="977" r="10"/><circle cx="1634" cy="992" r="10"/><circle cx="1608" cy="981" r="10"/><circle cx="1636" cy="988" r="10"/><circle cx="1636" cy="996" r="10"/><circle cx="1611" cy="993" r="10"/><circle cx="1631" cy="977" r="10"/><circle cx="1625" cy="983" r="10"/></g>
<g fill="#fdb462"><circle cx="1674" cy="1032" r="10"/><circle cx="1687" cy="1040" r="10"/><circle cx="1696" cy="1076" r="10"/><circle cx="1674" cy="1067" r="10"/><circle cx="1686" cy="1037" r="10"/><circle cx="1704" cy="1038" r="10"/><circle cx="1705" cy="1047" r="10"/><circle cx="1692" cy="1086" r="10"/><circle cx="1694" cy="1100" r="10"/><circle cx="1679" cy="1036" r="10"/><circle cx="1690" cy="1068" r="10"/><circle cx="1721" cy="1052" r="10"/><circle cx="1683" cy="1046" r="10"/><circle cx="1711" cy="1024" r="10"/><circle cx="1708" cy="1036" r="10"/><circle cx="1706" cy="1067" r="10"/><circle cx="1675" cy="1069" r="10"/><circle cx="1669" cy="1027" r="10"/><circle cx="1692" cy="1037" r="10"/><circle cx="1692" cy="1029" r="10"/><circle cx="1693" cy="1058" r="10"/><circle cx="1678" cy="1065" r="10"/><circle cx="1690" cy="1059" r="10"/><circle cx="1683" cy="1052" r="10"/><circle cx="1702" cy="1067" r="10"/><circle cx="1647" cy="1027" r="10"/><circle cx="1712" cy="1035" r="10"/><circle cx="1666" cy="1064" r="10"/><circle cx="1689" cy="1084" r="10"/><circle cx="1714" cy="1028" r="10"/><circle cx="1701" cy="1063" r="10"/><circle cx="1683" cy="1070" r="10"/><circle cx="1672" cy="1043" r="10"/><circle cx="1689" cy="1094" r="10"/><circle cx="1698" cy="1012" r="10"/><circle cx="1704" cy="1065" r="10"/><circle cx="1710" cy="1065" r="10"/><circle cx="1690" cy="1061" r="10"/><circle cx="1703" cy="1040" r="10"/><circle cx="1694" cy="1068" r="10"/><circle cx="1684" cy="1071" r="10"/><circle cx="1698" cy="1050" r="10"/><circle cx="1702" cy="1066" r="10"/><circle cx="1669" cy="1022" r="10"/><circle cx="1692" cy="1039" r="10"/><circle cx="1709" cy="1038" r="10"/><circle cx="1664" cy="1037" r="10"/><circle cx="1668" cy="1052" r="10"/><circle cx="1705" cy="1034" r="10"/><circle cx="1689" cy="1050" r="10"/><circle cx="1666" cy="1040" r="10"/><circle cx="1715" cy="1053" r="10"/><circle cx="1712" cy="1014" r="10"/><circle cx="1665" cy="1044" r="10"/><circle cx="1700" cy="1045" r="10"/><circle cx="1672" cy="1033" r="10"/><circle cx="1707" cy="1038" r="10"/><circle cx="1677" cy="1044" r="10"/><circle cx="1666" cy="1071" r="10"/><circle cx="1684" cy="1026" r="10"/><circle cx="1701" cy="1041" r="10"/><circle cx="1699" cy="1074" r="10"/><circle cx="1686" cy="1055" r="10"/><circle cx="1681" cy="1067" r="10"/><circle cx="1696" cy="1048" r="10"/><circle cx="1695" cy="1042" r="10"/><circle cx="1666" cy="1063" r="10"/><circle cx="1697" cy="1046" r="10"/><circle cx="1710" cy="1057" r="10"/><circle cx="1671" cy="1068" r="10"/><circle cx="1705" cy="1038" r="10"/><circle cx="1697" cy="1060" r="10"/><circle cx="1670" cy="1036" r="10"/><circle cx="1712" cy="1071" r="10"/><circle cx="1703" cy="1045" r="10"/><circle cx="1678" cy="1054" r="10"/><circle cx="1701" cy="1023" r="10"/><circle cx="1698" cy="1055" r="10"/><circle cx="1698" cy="1070" r="10"/><circle cx="1698" cy="1084" r="10"/><circle cx="1693" cy="1048" r="10"/><circle cx="1725" cy="1056" r="10"/><circle cx="1671" cy="1053" r="10"/><circle cx="1697" cy="1082" r="10"/><circle cx="1678" cy="1065" r="10"/><circle cx="1693" cy="1037" r="10"/><circle cx="1673" cy="1055" r="10"/><circle cx="1690" cy="1049" r="10"/><circle cx="1696" cy="1042" r="10"/><circle cx="1668" cy="1028" r="10"/><circle cx="1678" cy="1042" r="10"/><circle cx="1688" cy="1021" r="10"/><circle cx="1673" cy="1067" r="10"/><circle cx="1692" cy="1056" r="10"/><circle cx="1697" cy="1061" r="10"/><circle cx="1680" cy="1062" r="10"/><circle cx="1672" cy="1044" r="10"/><circle cx="1665" cy="1038" r="10"/><circle cx="1677" cy="1047" r="10"/><circle cx="1692" cy="1056" r="10"/><circle cx="1706" cy="1053" r="10"/><circle cx="1710" cy="1068" r="10"/><circle cx="1680" cy="1035" r="10"/><circle cx="1688" cy="1040" r="10"/><circle cx="1689" cy="1078" r="10"/><circle cx="1692" cy="1053" r="10"/><circle cx="1699" cy="1057" r="10"/><circle cx="1706" cy="1054" r="10"/><circle cx="1680" cy="1020" r="10"/><circle cx="1688" cy="1055" r="10"/><circle cx="1703" cy="1048" r="10"/><circle cx="1696" cy="1043" r="10"/><circle cx="1706" cy="1033" r="10"/><circle cx="1696" cy="1051" r="10"/><circle cx="1687" cy="1044" r="10"/><circle cx="1691" cy="1047" r="10"/><circle cx="1673" cy="1061" r="10"/><circle cx="1684" cy="1031" r="10"/><circle cx="1679" cy="1034" r="10"/><circle cx="1671" cy="1044" r="10"/><circle cx="1674" cy="1050" r="10"/><circle cx="1669" cy="1039" r="10"/><circle cx="1677" cy="1058" r="10"/><circle cx="1690" cy="1069" r="10"/><circle cx="1709" cy="1064" r="10"/><circle cx="1698" cy="1071" r="10"/><circle cx="1669" cy="1053" r="10"/><circle cx="1660" cy="1025" r="10"/><circle cx="1708" cy="1055" r="10"/><circle cx="1687" cy="1029" r="10"/><circle cx="1706" cy="1067" r="10"/><circle cx="1686" cy="1053" r="10"/><circle cx="1684" cy="1018" r="10"/><circle cx="1711" cy="1027" r="10"/><circle cx="1702" cy="1056" r="10"/><circle cx="1688" cy="1048" r="10"/><circle cx="1670" cy="1043" r="10"/><circle cx="1710" cy="1020" r="10"/><circle cx="1703" cy="1054" r="10"/><circle cx="1675" cy="1059" r="10"/><circle cx="1706" cy="1028" r="10"/><circle cx="1684" cy="1038" r="10"/><circle cx="1678" cy="1047" r="10"/><circle cx="1706" cy="1037" r="10"/><circle cx="1704" cy="1038" r="10"/><circle cx="1695" cy="1034" r="10"/><circle cx="1688" cy="1038" r="10"/><circle cx="1694" cy="1056" r="10"/><circle cx="1719" cy="1048" r="10"/><circle cx="1690" cy="1021" r="10"/><circle cx="1683" cy="1047" r="10"/><circle cx="1683" cy="1062" r="10"/><circle cx="1692" cy="1061" r="10"/><circle cx="1697" cy="1068" r="10"/><circle cx="1695" cy="1036" r="10"/><circle cx="1689" cy="1047" r="10"/><circle cx="1690" cy="1021" r="10"/><circle cx="1674" cy="1038" r="10"/><circle cx="1712" cy="1063" r="10"/><circle cx="1667" cy="1060" r="10"/><circle cx="1681" cy="1018" r="10"/><circle cx="1699" cy="996" r="10"/><circle cx="1686" cy="1044" r="10"/><circle cx="1683" cy="1063" r="10"/><circle cx="1699" cy="1024" r="10"/><circle cx="1690" cy="1036" r="10"/><circle cx="1671" cy="1029" r="10"/><circle cx="1714" cy="1046" r="10"/><circle cx="1675" cy="1036" r="10"/><circle cx="1682" cy="1078" r="10"/><circle cx="1713" cy="1042" r="10"/><circle cx="1672" cy="1065" r="10"/><circle cx="1714" cy="1038" r="10"/><circle cx="1690" cy="1053" r="10"/><circle cx="1667" cy="1062" r="10"/><circle cx="1690" cy="1018" r="10"/><circle cx="1682" cy="1040" r="10"/><circle cx="1670" cy="1087" r="10"/><circle cx="1703" cy="1083" r="10"/><circle cx="1694" cy="1036" r="10"/><circle cx="1693" cy="1080" r="10"/><circle cx="1679" cy="1059" r="10"/><circle cx="1697" cy="1075" r="10"/><circle cx="1703" cy="1059" r="10"/><circle cx="1706" cy="1047" r="10"/><circle cx="1715" cy="1043" r="10"/><circle cx="1676" cy="1062" r="10"/><circle cx="1653" cy="1056" r="10"/><circle cx="1682" cy="1050" r="10"/><circle cx="1679" cy="1070" r="10"/><circle cx="1669" cy="1066" r="10"/><circle cx="1696" cy="1072" r="10"/><circle cx="1679" cy="1065" r="10"/><circle cx="1684" cy="1063" r="10"/><circle cx="1675" cy="1050" r="10"/><circle cx="1704" cy="1062" r="10"/><circle cx="1700" cy="1067" r="10"/><circle cx="1674" cy="1045" r="10"/><circle cx="1710" cy="1049" r="10"/><circle cx="1680" cy="1060" r="10"/><circle cx="1692" cy="1080" r="10"/><circle cx="1688" cy="1071" r="10"/><circle cx="1708" cy="1070" r="10"/><circle cx="1690" cy="1057" r="10"/><circle cx="1723" cy="1079" r="10"/><circle cx="1688" cy="1038" r="10"/><circle cx="1703" cy="1032" r="10"/><circle cx="1717" cy="1042" r="10"/><circle cx="1687" cy="1031" r="10"/><circle cx="1687" cy="1060" r="10"/><circle cx="1690" cy="1060" r="10"/><circle cx="1677" cy="1064" r="10"/><circle cx="1687" cy="1038" r="10"/><circle cx="1717" cy="1034" r="10"/><circle cx="1710" cy="1007" r="10"/><circle cx="1674" cy="1067" r="10"/><circle cx="1716" cy="1038" r="10"/><circle cx="1705" cy="1046" r="10"/><circle cx="1739" cy="1049" r="10"/><circle cx="1662" cy="1048" r="10"/><circle cx="1674" cy="1024" r="10"/><circle cx="1692" cy="1079" r="10"/><circle cx="1704" cy="1050" r="10"/><circle cx="1689" cy="1063" r="10"/><circle cx="1712" cy="1027" r="10"/><circle cx="1688" cy="1041" r="10"/><circle cx="1664" cy="1081" r="10"/><circle cx="1719" cy="1057" r="10"/><circle cx="1702" cy="1053" r="10"/><circle cx="1687" cy="1071" r="10"/><circle cx="1687" cy="1069" r="10"/><circle cx="1685" cy="1044" r="10"/><circle cx="1682" cy="1044" r="10"/><circle cx="1689" cy="1074" r="10"/><circle cx="1678" cy="1043" r="10"/><circle cx="1691" cy="1032" r="10"/><circle cx="1689" cy="1076" r="10"/><circle cx="1680" cy="1081" r="10"/><circle cx="1659" cy="1077" r="10"/><circle cx="1700" cy="1043" r="10"/><circle cx="1673" cy="1058" r="10"/><circle cx="1706" cy="1059" r="10"/><circle cx="1697" cy="1020" r="10"/><circle cx="1702" cy="1061" r="10"/><circle cx="1736" cy="1062" r="10"/><circle cx="1671" cy="1038" r="10"/><circle cx="1711" cy="1041" r="10"/><circle cx="1676" cy="1034" r="10"/><circle cx="1704" cy="1055" r="10"/><circle cx="1679" cy="1038" r="10"/><circle cx="1692" cy="1062" r="10"/><circle cx="1688" cy="1029" r="10"/><circle cx="1690" cy="1038" r="10"/><circle cx="1698" cy="1106" r="10"/><circle cx="1737" cy="1015" r="10"/><circle cx="1684" cy="1079" r="10"/><circle cx="1691" cy="1076" r="10"/><circle cx="1709" cy="1075" r="10"/><circle cx="1692" cy="1067" r="10"/><circle cx="1683" cy="1058" r="10"/><circle cx="1697" cy="1046" r="10"/><circle cx="1730" cy="1050" r="10"/><circle cx="1693" cy="1057" r="10"/><circle cx="1724" cy="1018" r="10"/><circle cx="1701" cy="1040" r="10"/><circle cx="1682" cy="1047" r="10"/><circle cx="1692" cy="1025" r="10"/><circle cx="1689" cy="1024" r="10"/><circle cx="1682" cy="1065" r="10"/><circle cx="1690" cy="1065" r="10"/><circle cx="1672" cy="1018" r="10"/><circle cx="1692" cy="1029" r="10"/><circle cx="1685" cy="1054" r="10"/><circle cx="1699" cy="1064" r="10"/><circle cx="1716" cy="1048" r="10"/><circle cx="1697" cy="1061" r="10"/><circle cx="1718" cy="1063" r="10"/><circle cx="1694" cy="1055" r="10"/><circle cx="1672" cy="1079" r="10"/><circle cx="1671" cy="1078" r="10"/><circle cx="1662" cy="1048" r="10"/><circle cx="1717" cy="1081" r="10"/><circle cx="1692" cy="1050" r="10"/><circle cx="1701" cy="1072" r="10"/><circle cx="1698" cy="1042" r="10"/><circle cx="1697" cy="1030" r="10"/><circle cx="1677" cy="1077" r="10"/><circle cx="1728" cy="1072" r="10"/><circle cx="1682" cy="1049" r="10"/><circle cx="1677" cy="1024" r="10"/></g>
<g fill="#fdb462"><circle cx="1630" cy="1078" r="10"/><circle cx="1635" cy="1073" r="10"/><circle cx="1659" cy="1057" r="10"/><circle cx="1661" cy="1066" r="10"/><circle cx="1594" cy="1067" r="10"/><circle cx="1606" cy="1076" r="10"/><circle cx="1652" cy="1059" r="10"/><circle cx="1646" cy="1068" r="10"/><circle cx="1638" cy="1075" r="10"/><circle cx="1593" cy="1075" r="10"/><circle cx="1617" cy="1076" r="10"/><circle cx="1636" cy="1065" r="10"/><circle cx="1588" cy="1074" r="10"/><circle cx="1656" cy="1064" r="10"/><circle cx="1638" cy="1080" r="10"/><circle cx="1634" cy="1064" r="10"/><circle cx="1590" cy="1092" r="10"/><circle cx="1653" cy="1070" r="10"/><circle cx="1616" cy="1078" r="10"/><circle cx="1654" cy="1076" r="10"/><circle cx="1646" cy="1073" r="10"/><circle cx="1602" cy="1082" r="10"/><circle cx="1645" cy="1070" r="10"/><circle cx="1600" cy="1076" r="10"/><circle cx="1656" cy="1070" r="10"/><circle cx="1586" cy="1076" r="10"/><circle cx="1589" cy="1085" r="10"/><circle cx="1606" cy="1092" r="10"/><circle cx="1618" cy="1074" r="10"/><circle cx="1657" cy="1079" r="10"/><circle cx="1642" cy="1063" r="10"/><circle cx="1628" cy="1062" r="10"/><circle cx="1633" cy="1072" r="10"/><circle cx="1664" cy="1073" r="10"/><circle cx="1648" cy="1083" r="10"/><circle cx="1621" cy="1078" r="10"/><circle cx="1615" cy="1071" r="10"/><circle cx="1632" cy="1078" r="10"/><circle cx="1653" cy="1068" r="10"/><circle cx="1639" cy="1077" r="10"/><circle cx="1638" cy="1069" r="10"/><circle cx="1658" cy="1076" r="10"/><circle cx="1651" cy="1062" r="10"/><circle cx="1635" cy="1068" r="10"/><circle cx="1626" cy="1072" r="10"/><circle cx="1664" cy="1068" r="10"/><circle cx="1609" cy="1076" r="10"/><circle cx="1605" cy="1080" r="10"/><circle cx="1646" cy="1066" r="10"/><circle cx="1599" cy="1069" r="10"/><circle cx="1631" cy="1071" r="10"/><circle cx="1593" cy="1092" r="10"/><circle cx="1639" cy="1070" r="10"/><circle cx="1636" cy="1075" r="10"/><circle cx="1658" cy="1067" r="10"/><circle cx="1644" cy="1068" r="10"/><circle cx="1616" cy="1080" r="10"/><circle cx="1615" cy="1085" r="10"/><circle cx="1591" cy="1085" r="10"/><circle cx="1605" cy="1082" r="10"/><circle cx="1645" cy="1071" r="10"/><circle cx="1608" cy="1083" r="10"/><circle cx="1649" cy="1069" r="10"/><circle cx="1643" cy="1064" r="10"/><circle cx="1595" cy="1072" r="10"/><circle cx="1653" cy="1076" r="10"/><circle cx="1599" cy="1075" r="10"/><circle cx="1592" cy="1080" r="10"/><circle cx="1607" cy="1076" r="10"/><circle cx="1648" cy="1069" r="10"/><circle cx="1647" cy="1069" r="10"/><circle cx="1657" cy="1069" r="10"/><circle cx="1650" cy="1070" r="10"/><circle cx="1660" cy="1062" r="10"/><circle cx="1642" cy="1075" r="10"/></g>
<g fill="#fdb462"><circle cx="1729" cy="1038" r="10"/><circle cx="1740" cy="1059" r="10"/><circle cx="1736" cy="1052" r="10"/><circle cx="1737" cy="1064" r="10"/><circle cx="1733" cy="1050" r="10"/><circle cx="1737" cy="1032" r="10"/><circle cx="1740" cy="1054" r="10"/><circle cx="1729" cy="1085" r="10"/><circle cx="1732" cy="1082" r="10"/></g>
<g fill="#bc80bd"><circle cx="1594" cy="1076" r="10"/><circle cx="1592" cy="1073" r="10"/><circle cx="1590" cy="1059" r="10"/><circle cx="1601" cy="1070" r="10"/><circle cx="1602" cy="1076" r="10"/><circle cx="1583" cy="1061" r="10"/><circle cx="1599" cy="1065" r="10"/><circle cx="1593" cy="1068" r="10"/><circle cx="1582" cy="1073" r="10"/><circle cx="1593" cy="1077" r="10"/><circle cx="1599" cy="1073" r="10"/><circle cx="1590" cy="1065" r="10"/></g>
<g fill="#d9d9d9"><circle cx="1443" cy="961" r="10"/><circle cx="1520" cy="993" r="10"/><circle cx="1446" cy="958" r="10"/><circle cx="1491" cy="957" r="10"/><circle cx="1456" cy="980" r="10"/><circle cx="1493" cy="984" r="10"/><circle cx="1466" cy="997" r="10"/><circle cx="1496" cy="997" r="10"/><circle cx="1502" cy="985" r="10"/><circle cx="1486" cy="981" r="10"/><circle cx="1566" cy="946" r="10"/><circle cx="1550" cy="985" r="10"/><circle cx="1446" cy="998" r="10"/><circle cx="1460" cy="993" r="10"/><circle cx="1486" cy="997" r="10"/><circle cx="1434" cy="982" r="10"/><circle cx="1507" cy="990" r="10"/><circle cx="1508" cy="993" r="10"/><circle cx="1447" cy="976" r="10"/><circle cx="1438" cy="982" r="10"/><circle cx="1444" cy="970" r="10"/><circle cx="1526" cy="967" r="10"/><circle cx="1500" cy="997" r="10"/><circle cx="1525" cy="979" r="10"/><circle cx="1435" cy="986" r="10"/><circle cx="1508" cy="972" r="10"/><circle cx="1474" cy="955" r="10"/><circle cx="1439" cy="983" r="10"/><circle cx="1456" cy="985" r="10"/><circle cx="1468" cy="990" r="10"/><circle cx="1448" cy="996" r="10"/><circle cx="1527" cy="996" r="10"/><circle cx="1452" cy="950" r="10"/><circle cx="1408" cy="981" r="10"/><circle cx="1399" cy="963" r="10"/><circle cx="1599" cy="996" r="10"/><circle cx="1477" cy="994" r="10"/><circle cx="1454" cy="956" r="10"/><circle cx="1471" cy="998" r="10"/><circle cx="1470" cy="986" r="10"/><circle cx="1409" cy="969" r="10"/><circle cx="1502" cy="976" r="10"/><circle cx="1493" cy="999" r="10"/><circle cx="1448" cy="979" r="10"/><circle cx="1468" cy="965" r="10"/><circle cx="1441" cy="980" r="10"/><circle cx="1451" cy="991" r="10"/><circle cx="1470" cy="963" r="10"/><circle cx="1449" cy="969" r="10"/><circle cx="1517" cy="973" r="10"/><circle cx="1476" cy="994" r="10"/><circle cx="1378" cy="1004" r="10"/><circle cx="1454" cy="975" r="10"/><circle cx="1466" cy="993" r="10"/><circle cx="1367" cy="1006" r="10"/><circle cx="1502" cy="970" r="10"/><circle cx="1456" cy="987" r="10"/><circle cx="1439" cy="965" r="10"/><circle cx="1512" cy="979" r="10"/><circle cx="1530" cy="964" r="10"/><circle cx="1443" cy="986" r="10"/><circle cx="1490" cy="994" r="10"/><circle cx="1466" cy="994" r="10"/><circle cx="1468" cy="982" r="10"/><circle cx="1466" cy="981" r="10"/><circle cx="1523" cy="970" r="10"/><circle cx="1528" cy="960" r="10"/><circle cx="1523" cy="987" r="10"/><circle cx="1468" cy="987" r="10"/><circle cx="1405" cy="975" r="10"/><circle cx="1432" cy="975" r="10"/><circle cx="1490" cy="978" r="10"/><circle cx="1461" cy="993" r="10"/><circle cx="1503" cy="957" r="10"/><circle cx="1441" cy="983" r="10"/><circle cx="1512" cy="985" r="10"/><circle cx="1498" cy="981" r="10"/><circle cx="1532" cy="975" r="10"/><circle cx="1498" cy="983" r="10"/><circle cx="1449" cy="964" r="10"/><circle cx="1524" cy="981" r="10"/><circle cx="1502" cy="1000" r="10"/><circle cx="1492" cy="998" r="10"/><circle cx="1485" cy="990" r="10"/><circle cx="1482" cy="1000" r="10"/><circle cx="1471" cy="1005" r="10"/><circle cx="1506" cy="984" r="10"/><circle cx="1473" cy="977" r="10"/><circle cx="1517" cy="970" r="10"/><circle cx="1446" cy="989" r="10"/><circle cx="1515" cy="986" r="10"/><circle cx="1494" cy="1001" r="10"/><circle cx="1460" cy="975" r="10"/><circle cx="1463" cy="967" r="10"/><circle cx="1486" cy="967" r="10"/><circle cx="1533" cy="986" r="10"/><circle cx="1474" cy="986" r="10"/><circle cx="1510" cy="972" r="10"/><circle cx="1494" cy="973" r="10"/><circle cx="1499" cy="975" r="10"/><circle cx="1516" cy="975" r="10"/><circle cx="1549" cy="974" r="10"/><circle cx="1465" cy="965" r="10"/><circle cx="1530" cy="978" r="10"/><circle cx="1452" cy="993" r="10"/><circle cx="1483" cy="996" r="10"/><circle cx="1421" cy="964" r="10"/><circle cx="1496" cy="958" r="10"/><circle cx="1457" cy="962" r="10"/><circle cx="1411" cy="978" r="10"/><circle cx="1513" cy="980" r="10"/><circle cx="1409" cy="973" r="10"/><circle cx="1450" cy="983" r="10"/><circle cx="1476" cy="978" r="10"/><circle cx="1509" cy="994" r="10"/><circle cx="1470" cy="985" r="10"/><circle cx="1448" cy="972" r="10"/><circle cx="1463" cy="989" r="10"/><circle cx="1435" cy="995" r="10"/><circle cx="1482" cy="991" r="10"/><circle cx="1477" cy="987" r="10"/><circle cx="1434" cy="994" r="10"/><circle cx="1460" cy="977" r="10"/><circle cx="1497" cy="989" r="10"/><circle cx="1455" cy="981" r="10"/><circle cx="1520" cy="970" r="10"/><circle cx="1464" cy="991" r="10"/><circle cx="1532" cy="983" r="10"/><circle cx="1464" cy="976" r="10"/><circle cx="1483" cy="973" r="10"/><circle cx="1446" cy="965" r="10"/><circle cx="1433" cy="993" r="10"/><circle cx="1505" cy="978" r="10"/><circle cx="1483" cy="987" r="10"/><circle cx="1507" cy="977" r="10"/><circle cx="1404" cy="1016" r="10"/><circle cx="1491" cy="981" r="10"/><circle cx="1482" cy="1007" r="10"/><circle cx="1503" cy="969" r="10"/><circle cx="1472" cy="984" r="10"/><circle cx="1511" cy="989" r="10"/><circle cx="1486" cy="985" r="10"/><circle cx="1530" cy="992" r="10"/><circle cx="1490" cy="981" r="10"/><circle cx="1489" cy="967" r="10"/><circle cx="1595" cy="976" r="10"/><circle cx="1516" cy="1013" r="10"/><circle cx="1443" cy="986" r="10"/><circle cx="1432" cy="983" r="10"/><circle cx="1540" cy="982" r="10"/><circle cx="1457" cy="978" r="10"/><circle cx="1531" cy="977" r="10"/><circle cx="1458" cy="976" r="10"/><circle cx="1494" cy="980" r="10"/><circle cx="1464" cy="988" r="10"/><circle cx="1491" cy="975" r="10"/><circle cx="1453" cy="981" r="10"/><circle cx="1486" cy="981" r="10"/><circle cx="1485" cy="988" r="10"/><circle cx="1517" cy="976" r="10"/><circle cx="1455" cy="957" r="10"/><circle cx="1466" cy="988" r="10"/><circle cx="1486" cy="970" r="10"/><circle cx="1503" cy="990" r="10"/><circle cx="1444" cy="975" r="10"/><circle cx="1478" cy="982" r="10"/><circle cx="1467" cy="958" r="10"/><circle cx="1442" cy="986" r="10"/><circle cx="1440" cy="990" r="10"/><circle cx="1468" cy="994" r="10"/><circle cx="1453" cy="984" r="10"/><circle cx="1528" cy="1001" r="10"/><circle cx="1406" cy="987" r="10"/><circle cx="1503" cy="994" r="10"/><circle cx="1474" cy="985" r="10"/><circle cx="1468" cy="986" r="10"/><circle cx="1486" cy="997" r="10"/><circle cx="1521" cy="982" r="10"/><circle cx="1523" cy="969" r="10"/><circle cx="1464" cy="973" r="10"/><circle cx="1480" cy="966" r="10"/><circle cx="1363" cy="970" r="10"/><circle cx="1466" cy="981" r="10"/><circle cx="1503" cy="978" r="10"/><circle cx="1496" cy="973" r="10"/><circle cx="1479" cy="998" r="10"/><circle cx="1434" cy="973" r="10"/><circle cx="1491" cy="980" r="10"/><circle cx="1430" cy="973" r="10"/><circle cx="1503" cy="974" r="10"/></g>
<g fill="#d9d9d9"><circle cx="1552" cy="1025" r="10"/><circle cx="1705" cy="1001" r="10"/><circle cx="1524" cy="1027" r="10"/><circle cx="1548" cy="1047" r="10"/><circle cx="1628" cy="1026" r="10"/><circle cx="1641" cy="1020" r="10"/><circle cx="1532" cy="1046" r="10"/><circle cx="1617" cy="1021" r="10"/><circle cx="1562" cy="1027" r="10"/><circle cx="1654" cy="1014" r="10"/><circle cx="1593" cy="1031" r="10"/><circle cx="1672" cy="1000" r="10"/><circle cx="1566" cy="1045" r="10"/><circle cx="1582" cy="1022" r="10"/><circle cx="1658" cy="1013" r="10"/><circle cx="1561" cy="1046" r="10"/><circle cx="1538" cy="1048" r="10"/><circle cx="1575" cy="1035" r="10"/><circle cx="1630" cy="1023" r="10"/><circle cx="1611" cy="1019" r="10"/><circle cx="1593" cy="1017" r="10"/><circle cx="1562" cy="1041" r="10"/><circle cx="1621" cy="1011" r="10"/><circle cx="1531" cy="1040" r="10"/><circle cx="1586" cy="1014" r="10"/><circle cx="1590" cy="1029" r="10"/><circle cx="1645" cy="1026" r="10"/><circle cx="1638" cy="1020" r="10"/><circle cx="1567" cy="1030" r="10"/><circle cx="1621" cy="1010" r="10"/><circle cx="1646" cy="1031" r="10"/><circle cx="1612" cy="1022" r="10"/><circle cx="1656" cy="1010" r="10"/><circle cx="1639" cy="1020" r="10"/><circle cx="1669" cy="1013" r="10"/><circle cx="1551" cy="1048" r="10"/><circle cx="1573" cy="1031" r="10"/><circle cx="1644" cy="1006" r="10"/><circle cx="1652" cy="1023" r="10"/><circle cx="1652" cy="1005" r="10"/><circle cx="1545" cy="1041" r="10"/><circle cx="1585" cy="1020" r="10"/><circle cx="1542" cy="1033" r="10"/><circle cx="1543" cy="1028" r="10"/><circle cx="1650" cy="1012" r="10"/><circle cx="1574" cy="1037" r="10"/><circle cx="1530" cy="1041" r="10"/><circle cx="1626" cy="1023" r="10"/><circle cx="1693" cy="1004" r="10"/><circle cx="1653" cy="998" r="10"/><circle cx="1580" cy="1042" r="10"/><circle cx="1537" cy="1032" r="10"/><circle cx="1624" cy="1018" r="10"/><circle cx="1582" cy="1035" r="10"/><circle cx="1551" cy="1045" r="10"/><circle cx="1574" cy="1018" r="10"/><circle cx="1537" cy="1037" r="10"/><circle cx="1550" cy="1033" r="10"/><circle cx="1590" cy="1029" r="10"/><circle cx="1674" cy="1000" r="10"/><circle cx="1630" cy="1037" r="10"/><circle cx="1650" cy="1024" r="10"/><circle cx="1646" cy="1022" r="10"/><circle cx="1646" cy="1022" r="10"/><circle cx="1592" cy="1028" r="10"/><circle cx="1542" cy="1043" r="10"/><circle cx="1656" cy="1017" r="10"/><circle cx="1599" cy="1043" r="10"/><circle cx="1567" cy="1025" r="10"/><circle cx="1572" cy="1029" r="10"/><circle cx="1644" cy="1002" r="10"/><circle cx="1636" cy="1019" r="10"/><circle cx="1628" cy="1008" r="10"/><circle cx="1530" cy="1041" r="10"/><circle cx="1614" cy="1017" r="10"/><circle cx="1575" cy="1032" r="10"/><circle cx="1694" cy="994" r="10"/><circle cx="1533" cy="1033" r="10"/><circle cx="1624" cy="1016" r="10"/><circle cx="1639" cy="1014" r="10"/><circle cx="1564" cy="1051" r="10"/><circle cx="1638" cy="1008" r="10"/><circle cx="1654" cy="998" r="10"/><circle cx="1633" cy="1012" r="10"/><circle cx="1595" cy="1020" r="10"/><circle cx="1605" cy="1015" r="10"/><circle cx="1580" cy="1034" r="10"/><circle cx="1645" cy="1010" r="10"/><circle cx="1644" cy="1014" r="10"/><circle cx="1592" cy="1027" r="10"/><circle cx="1641" cy="1008" r="10"/><circle cx="1587" cy="1015" r="10"/><circle cx="1546" cy="1026" r="10"/><circle cx="1654" cy="1013" r="10"/><circle cx="1714" cy="1012" r="10"/><circle cx="1568" cy="1037" r="10"/><circle cx="1579" cy="1030" r="10"/><circle cx="1551" cy="1042" r="10"/><circle cx="1545" cy="1040" r="10"/><circle cx="1605" cy="1020" r="10"/><circle cx="1633" cy="1022" r="10"/><circle cx="1689" cy="1000" r="10"/><circle cx="1592" cy="1027" r="10"/><circle cx="1581" cy="1033" r="10"/><circle cx="1676" cy="996" r="10"/><circle cx="1554" cy="1034" r="10"/><circle cx="1565" cy="1042" r="10"/><circle cx="1586" cy="1045" r="10"/><circle cx="1554" cy="1040" r="10"/><circle cx="1599" cy="1031" r="10"/><circle cx="1539" cy="1044" r="10"/><circle cx="1556" cy="1028" r="10"/><circle cx="1598" cy="1019" r="10"/><circle cx="1584" cy="1030" r="10"/><circle cx="1573" cy="1038" r="10"/><circle cx="1663" cy="1016" r="10"/><circle cx="1648" cy="1019" r="10"/><circle cx="1711" cy="1018" r="10"/><circle cx="1680" cy="1019" r="10"/><circle cx="1543" cy="1043" r="10"/><circle cx="1684" cy="1013" r="10"/><circle cx="1667" cy="1019" r="10"/><circle cx="1656" cy="1008" r="10"/><circle cx="1540" cy="1042" r="10"/><circle cx="1583" cy="1041" r="10"/><circle cx="1618" cy="1012" r="10"/><circle cx="1584" cy="1018" r="10"/><circle cx="1607" cy="1020" r="10"/><circle cx="1687" cy="1012" r="10"/><circle cx="1619" cy="1024" r="10"/><circle cx="1673" cy="1019" r="10"/><circle cx="1587" cy="1031" r="10"/><circle cx="1625" cy="1036" r="10"/><circle cx="1630" cy="1013" r="10"/><circle cx="1550" cy="1027" r="10"/><circle cx="1547" cy="1033" r="10"/><circle cx="1557" cy="1017" r="10"/><circle cx="1616" cy="1026" r="10"/><circle cx="1619" cy="1026" r="10"/><circle cx="1605" cy="1027" r="10"/><circle cx="1647" cy="1014" r="10"/><circle cx="1706" cy="997" r="10"/><circle cx="1560" cy="1020" r="10"/><circle cx="1603" cy="1021" r="10"/><circle cx="1658" cy="1014" r="10"/><circle cx="1625" cy="1014" r="10"/><circle cx="1543" cy="1036" r="10"/><circle cx="1537" cy="1040" r="10"/><circle cx="1559" cy="1028" r="10"/><circle cx="1660" cy="1017" r="10"/><circle cx="1702" cy="1012" r="10"/><circle cx="1657" cy="1020" r="10"/><circle cx="1569" cy="1024" r="10"/><circle cx="1544" cy="1036" r="10"/><circle cx="1556" cy="1037" r="10"/><circle cx="1556" cy="1047" r="10"/><circle cx="1538" cy="1056" r="10"/><circle cx="1626" cy="1025" r="10"/><circle cx="1675" cy="1005" r="10"/><circle cx="1614" cy="1030" r="10"/><circle cx="1554" cy="1026" r="10"/><circle cx="1659" cy="1016" r="10"/><circle cx="1566" cy="1034" r="10"/><circle cx="1594" cy="1030" r="10"/><circle cx="1608" cy="1028" r="10"/><circle cx="1662" cy="1003" r="10"/><circle cx="1626" cy="1015" r="10"/><circle cx="1554" cy="1041" r="10"/><circle cx="1538" cy="1022" r="10"/><circle cx="1639" cy="1010" r="10"/><circle cx="1614" cy="1024" r="10"/><circle cx="1594" cy="1019" r="10"/><circle cx="1638" cy="1030" r="10"/><circle cx="1618" cy="1009" r="10"/><circle cx="1641" cy="1000" r="10"/><circle cx="1532" cy="1044" r="10"/><circle cx="1582" cy="1044" r="10"/><circle cx="1646" cy="1008" r="10"/><circle cx="1570" cy="1025" r="10"/><circle cx="1643" cy="1014" r="10"/><circle cx="1534" cy="1035" r="10"/><circle cx="1561" cy="1028" r="10"/><circle cx="1606" cy="1035" r="10"/><circle cx="1538" cy="1032" r="10"/><circle cx="1550" cy="1042" r="10"/><circle cx="1609" cy="1009" r="10"/><circle cx="1615" cy="1017" r="10"/><circle cx="1597" cy="1016" r="10"/><circle cx="1574" cy="1023" r="10"/><circle cx="1603" cy="1014" r="10"/><circle cx="1618" cy="1019" r="10"/><circle cx="1652" cy="1026" r="10"/><circle cx="1569" cy="1018" r="10"/><circle cx="1567" cy="1018" r="10"/><circle cx="1683" cy="994" r="10"/><circle cx="1528" cy="1041" r="10"/><circle cx="1562" cy="1034" r="10"/><circle cx="1554" cy="1030" r="10"/><circle cx="1552" cy="1018" r="10"/><circle cx="1660" cy="1001" r="10"/><circle cx="1531" cy="1037" r="10"/><circle cx="1625" cy="1030" r="10"/><circle cx="1633" cy="1024" r="10"/><circle cx="1541" cy="1028" r="10"/><circle cx="1559" cy="1030" r="10"/><circle cx="1551" cy="1019" r="10"/><circle cx="1559" cy="1033" r="10"/><circle cx="1648" cy="1018" r="10"/><circle cx="1551" cy="1039" r="10"/><circle cx="1665" cy="1010" r="10"/><circle cx="1538" cy="1054" r="10"/><circle cx="1695" cy="1006" r="10"/><circle cx="1551" cy="1028" r="10"/><circle cx="1561" cy="1038" r="10"/><circle cx="1546" cy="1045" r="10"/><circle cx="1551" cy="1046" r="10"/><circle cx="1707" cy="987" r="10"/><circle cx="1547" cy="1040" r="10"/><circle cx="1650" cy="1000" r="10"/><circle cx="1538" cy="1050" r="10"/><circle cx="1626" cy="1020" r="10"/><circle cx="1594" cy="1018" r="10"/><circle cx="1598" cy="1036" r="10"/><circle cx="1550" cy="1035" r="10"/><circle cx="1528" cy="1048" r="10"/><circle cx="1637" cy="1026" r="10"/><circle cx="1651" cy="1015" r="10"/><circle cx="1603" cy="1031" r="10"/><circle cx="1575" cy="1033" r="10"/><circle cx="1527" cy="1044" r="10"/><circle cx="1632" cy="1012" r="10"/><circle cx="1563" cy="1030" r="10"/><circle cx="1602" cy="1033" r="10"/><circle cx="1663" cy="1005" r="10"/><circle cx="1617" cy="1023" r="10"/><circle cx="1598" cy="1031" r="10"/><circle cx="1699" cy="1002" r="10"/><circle cx="1594" cy="1029" r="10"/><circle cx="1624" cy="1009" r="10"/><circle cx="1602" cy="1014" r="10"/><circle cx="1609" cy="1025" r="10"/><circle cx="1538" cy="1055" r="10"/><circle cx="1639" cy="1002" r="10"/><circle cx="1604" cy="1027" r="10"/><circle cx="1534" cy="1051" r="10"/><circle cx="1588" cy="1025" r="10"/><circle cx="1603" cy="1028" r="10"/><circle cx="1648" cy="1008" r="10"/><circle cx="1588" cy="1013" r="10"/><circle cx="1619" cy="1037" r="10"/></g>
<g fill="#d9d9d9"><circle cx="1706" cy="991" r="10"/><circle cx="1708" cy="999" r="10"/><circle cx="1680" cy="996" r="10"/><circle cx="1734" cy="990" r="10"/><circle cx="1749" cy="988" r="10"/><circle cx="1396" cy="932" r="10"/><circle cx="1368" cy="932" r="10"/><circle cx="1366" cy="933" r="10"/></g>
<g fill="#bc80bd"><circle cx="1377" cy="992" r="10"/><circle cx="1378" cy="958" r="10"/><circle cx="1329" cy="983" r="10"/><circle cx="1348" cy="964" r="10"/><circle cx="1380" cy="951" r="10"/><circle cx="1295" cy="958" r="10"/><circle cx="1292" cy="984" r="10"/><circle cx="1343" cy="994" r="10"/><circle cx="1372" cy="988" r="10"/><circle cx="1354" cy="979" r="10"/><circle cx="1329" cy="971" r="10"/><circle cx="1295" cy="964" r="10"/><circle cx="1346" cy="971" r="10"/><circle cx="1302" cy="968" r="10"/><circle cx="1317" cy="983" r="10"/><circle cx="1370" cy="965" r="10"/><circle cx="1359" cy="975" r="10"/><circle cx="1375" cy="950" r="10"/><circle cx="1274" cy="976" r="10"/><circle cx="1292" cy="973" r="10"/><circle cx="1298" cy="986" r="10"/><circle cx="1400" cy="985" r="10"/><circle cx="1316" cy="998" r="10"/><circle cx="1341" cy="984" r="10"/><circle cx="1318" cy="979" r="10"/><circle cx="1358" cy="989" r="10"/><circle cx="1325" cy="972" r="10"/><circle cx="1338" cy="975" r="10"/><circle cx="1391" cy="987" r="10"/><circle cx="1282" cy="978" r="10"/><circle cx="1344" cy="978" r="10"/><circle cx="1380" cy="982" r="10"/><circle cx="1345" cy="957" r="10"/><circle cx="1266" cy="1000" r="10"/><circle cx="1323" cy="965" r="10"/><circle cx="1343" cy="965" r="10"/><circle cx="1264" cy="962" r="10"/><circle cx="1339" cy="986" r="10"/><circle cx="1375" cy="969" r="10"/><circle cx="1323" cy="972" r="10"/><circle cx="1287" cy="968" r="10"/><circle cx="1325" cy="967" r="10"/><circle cx="1352" cy="987" r="10"/><circle cx="1331" cy="966" r="10"/><circle cx="1333" cy="980" r="10"/><circle cx="1291" cy="992" r="10"/><circle cx="1290" cy="983" r="10"/><circle cx="1325" cy="984" r="10"/><circle cx="1318" cy="974" r="10"/><circle cx="1322" cy="979" r="10"/><circle cx="1313" cy="983" r="10"/><circle cx="1334" cy="973" r="10"/><circle cx="1380" cy="976" r="10"/><circle cx="1338" cy="985" r="10"/><circle cx="1337" cy="984" r="10"/><circle cx="1275" cy="977" r="10"/><circle cx="1390" cy="982" r="10"/><circle cx="1335" cy="978" r="10"/><circle cx="1352" cy="984" r="10"/><circle cx="1372" cy="959" r="10"/><circle cx="1376" cy="982" r="10"/><circle cx="1348" cy="981" r="10"/><circle cx="1361" cy="980" r="10"/><circle cx="1337" cy="991" r="10"/><circle cx="1388" cy="979" r="10"/><circle cx="1308" cy="966" r="10"/><circle cx="1320" cy="960" r="10"/><circle cx="1377" cy="980" r="10"/><circle cx="1298" cy="996" r="10"/><circle cx="1373" cy="989" r="10"/><circle cx="1328" cy="974" r="10"/><circle cx="1324" cy="989" r="10"/><circle cx="1403" cy="998" r="10"/><circle cx="1334" cy="1004" r="10"/><circle cx="1306" cy="995" r="10"/><circle cx="1321" cy="982" r="10"/><circle cx="1344" cy="974" r="10"/><circle cx="1286" cy="972" r="10"/><circle cx="1355" cy="963" r="10"/><circle cx="1382" cy="971" r="10"/><circle cx="1327" cy="986" r="10"/><circle cx="1352" cy="963" r="10"/><circle cx="1368" cy="969" r="10"/><circle cx="1304" cy="962" r="10"/><circle cx="1373" cy="976" r="10"/><circle cx="1276" cy="991" r="10"/><circle cx="1312" cy="986" r="10"/><circle cx="1347" cy="983" r="10"/><circle cx="1277" cy="985" r="10"/><circle cx="1311" cy="988" r="10"/><circle cx="1349" cy="977" r="10"/><circle cx="1350" cy="972" r="10"/><circle cx="1287" cy="971" r="10"/><circle cx="1315" cy="995" r="10"/><circle cx="1344" cy="966" r="10"/><circle cx="1353" cy="1000" r="10"/><circle cx="1328" cy="982" r="10"/><circle cx="1283" cy="974" r="10"/><circle cx="1343" cy="974" r="10"/><circle cx="1332" cy="981" r="10"/><circle cx="1288" cy="983" r="10"/><circle cx="1314" cy="980" r="10"/><circle cx="1357" cy="973" r="10"/><circle cx="1287" cy="994" r="10"/><circle cx="1336" cy="986" r="10"/><circle cx="1344" cy="968" r="10"/><circle cx="1286" cy="966" r="10"/><circle cx="1283" cy="978" r="10"/><circle cx="1291" cy="969" r="10"/><circle cx="1356" cy="978" r="10"/><circle cx="1389" cy="986" r="10"/><circle cx="1300" cy="964" r="10"/><circle cx="1322" cy="956" r="10"/><circle cx="1348" cy="962" r="10"/><circle cx="1314" cy="991" r="10"/><circle cx="1341" cy="945" r="10"/><circle cx="1351" cy="985" r="10"/><circle cx="1420" cy="983" r="10"/><circle cx="1344" cy="986" r="10"/><circle cx="1391" cy="989" r="10"/><circle cx="1417" cy="961" r="10"/><circle cx="1320" cy="983" r="10"/><circle cx="1320" cy="999" r="10"/><circle cx="1284" cy="992" r="10"/><circle cx="1332" cy="966" r="10"/><circle cx="1338" cy="967" r="10"/><circle cx="1351" cy="981" r="10"/><circle cx="1316" cy="994" r="10"/><circle cx="1323" cy="960" r="10"/><circle cx="1322" cy="969" r="10"/><circle cx="1297" cy="980" r="10"/><circle cx="1324" cy="965" r="10"/><circle cx="1321" cy="973" r="10"/><circle cx="1345" cy="997" r="10"/><circle cx="1337" cy="969" r="10"/><circle cx="1324" cy="958" r="10"/><circle cx="1335" cy="980" r="10"/><circle cx="1375" cy="978" r="10"/><circle cx="1358" cy="986" r="10"/><circle cx="1348" cy="983" r="10"/><circle cx="1344" cy="983" r="10"/><circle cx="1280" cy="968" r="10"/><circle cx="1334" cy="1007" r="10"/><circle cx="1361" cy="975" r="10"/><circle cx="1366" cy="973" r="10"/><circle cx="1307" cy="979" r="10"/><circle cx="1366" cy="980" r="10"/><circle cx="1324" cy="979" r="10"/><circle cx="1340" cy="988" r="10"/><circle cx="1290" cy="948" r="10"/><circle cx="1372" cy="994" r="10"/><circle cx="1340" cy="970" r="10"/><circle cx="1379" cy="985" r="10"/><circle cx="1369" cy="958" r="10"/><circle cx="1308" cy="964" r="10"/><circle cx="1328" cy="971" r="10"/><circle cx="1348" cy="980" r="10"/><circle cx="1315" cy="980" r="10"/><circle cx="1325" cy="991" r="10"/><circle cx="1357" cy="971" r="10"/><circle cx="1349" cy="984" r="10"/><circle cx="1332" cy="974" r="10"/><circle cx="1276" cy="1003" r="10"/><circle cx="1290" cy="988" r="10"/><circle cx="1317" cy="978" r="10"/><circle cx="1395" cy="976" r="10"/><circle cx="1270" cy="998" r="10"/><circle cx="1353" cy="989" r="10"/><circle cx="1303" cy="966" r="10"/><circle cx="1361" cy="968" r="10"/><circle cx="1287" cy="966" r="10"/><circle cx="1393" cy="983" r="10"/><circle cx="1335" cy="956" r="10"/><circle cx="1369" cy="966" r="10"/><circle cx="1356" cy="990" r="10"/><circle cx="1325" cy="980" r="10"/><circle cx="1397" cy="988" r="10"/><circle cx="1323" cy="962" r="10"/><circle cx="1323" cy="984" r="10"/><circle cx="1328" cy="991" r="10"/><circle cx="1372" cy="989" r="10"/><circle cx="1367" cy="973" r="10"/><circle cx="1332" cy="967" r="10"/><circle cx="1330" cy="982" r="10"/><circle cx="1290" cy="973" r="10"/><circle cx="1306" cy="983" r="10"/><circle cx="1350" cy="990" r="10"/><circle cx="1402" cy="981" r="10"/><circle cx="1312" cy="978" r="10"/><circle cx="1299" cy="985" r="10"/><circle cx="1321" cy="977" r="10"/><circle cx="1309" cy="982" r="10"/><circle cx="1319" cy="997" r="10"/><circle cx="1367" cy="987" r="10"/><circle cx="1276" cy="981" r="10"/><circle cx="1329" cy="983" r="10"/><circle cx="1355" cy="995" r="10"/><circle cx="1346" cy="997" r="10"/><circle cx="1372" cy="978" r="10"/><circle cx="1370" cy="970" r="10"/><circle cx="1366" cy="994" r="10"/><circle cx="1424" cy="987" r="10"/><circle cx="1341" cy="989" r="10"/><circle cx="1335" cy="978" r="10"/><circle cx="1329" cy="971" r="10"/><circle cx="1247" cy="968" r="10"/><circle cx="1316" cy="968" r="10"/><circle cx="1330" cy="981" r="10"/><circle cx="1335" cy="975" r="10"/><circle cx="1409" cy="981" r="10"/><circle cx="1363" cy="974" r="10"/><circle cx="1327" cy="985" r="10"/><circle cx="1290" cy="994" r="10"/><circle cx="1381" cy="993" r="10"/><circle cx="1358" cy="988" r="10"/><circle cx="1340" cy="984" r="10"/><circle cx="1299" cy="981" r="10"/><circle cx="1341" cy="980" r="10"/><circle cx="1361" cy="946" r="10"/><circle cx="1321" cy="986" r="10"/><circle cx="1255" cy="994" r="10"/><circle cx="1358" cy="979" r="10"/><circle cx="1272" cy="985" r="10"/><circle cx="1346" cy="974" r="10"/><circle cx="1363" cy="990" r="10"/><circle cx="1346" cy="980" r="10"/><circle cx="1311" cy="969" r="10"/><circle cx="1301" cy="964" r="10"/><circle cx="1318" cy="981" r="10"/><circle cx="1357" cy="979" r="10"/><circle cx="1266" cy="961" r="10"/><circle cx="1292" cy="976" r="10"/><circle cx="1383" cy="985" r="10"/><circle cx="1322" cy="981" r="10"/><circle cx="1290" cy="963" r="10"/><circle cx="1381" cy="990" r="10"/><circle cx="1423" cy="999" r="10"/><circle cx="1328" cy="979" r="10"/><circle cx="1344" cy="977" r="10"/><circle cx="1360" cy="976" r="10"/><circle cx="1307" cy="959" r="10"/><circle cx="1367" cy="977" r="10"/><circle cx="1370" cy="974" r="10"/><circle cx="1276" cy="996" r="10"/><circle cx="1386" cy="978" r="10"/><circle cx="1343" cy="954" r="10"/><circle cx="1357" cy="974" r="10"/><circle cx="1308" cy="985" r="10"/><circle cx="1383" cy="968" r="10"/><circle cx="1339" cy="986" r="10"/></g>
<g fill="#bc80bd"><circle cx="1438" cy="911" r="10"/><circle cx="1449" cy="930" r="10"/><circle cx="1523" cy="918" r="10"/><circle cx="1477" cy="945" r="10"/><circle cx="1495" cy="950" r="10"/><circle cx="1484" cy="954" r="10"/><circle cx="1522" cy="958" r="10"/><circle cx="1457" cy="979" r="10"/><circle cx="1455" cy="991" r="10"/><circle cx="1461" cy="996" r="10"/><circle cx="1427" cy="968" r="10"/><circle cx="1408" cy="953" r="10"/><circle cx="1408" cy="975" r="10"/><circle cx="1406" cy="987" r="10"/><circle cx="1307" cy="916" r="10"/><circle cx="1290" cy="945" r="10"/><circle cx="1300" cy="940" r="10"/><circle cx="1420" cy="960" r="10"/><circle cx="1432" cy="975" r="10"/></g>
<g fill="#bebada"><circle cx="1322" cy="904" r="10"/><circle cx="1342" cy="954" r="10"/><circle cx="1349" cy="936" r="10"/><circle cx="1342" cy="917" r="10"/><circle cx="1338" cy="904" r="10"/><circle cx="1348" cy="914" r="10"/><circle cx="1341" cy="928" r="10"/><circle cx="1292" cy="952" r="10"/><circle cx="1336" cy="933" r="10"/><circle cx="1315" cy="955" r="10"/><circle cx="1347" cy="909" r="10"/><circle cx="1322" cy="941" r="10"/><circle cx="1330" cy="976" r="10"/><circle cx="1335" cy="998" r="10"/><circle cx="1335" cy="975" r="10"/><circle cx="1344" cy="940" r="10"/><circle cx="1338" cy="943" r="10"/><circle cx="1356" cy="920" r="10"/><circle cx="1340" cy="963" r="10"/><circle cx="1341" cy="930" r="10"/><circle cx="1320" cy="916" r="10"/><circle cx="1339" cy="935" r="10"/><circle cx="1323" cy="963" r="10"/><circle cx="1334" cy="855" r="10"/><circle cx="1350" cy="859" r="10"/><circle cx="1338" cy="991" r="10"/><circle cx="1334" cy="999" r="10"/><circle cx="1338" cy="982" r="10"/><circle cx="1334" cy="916" r="10"/><circle cx="1336" cy="900" r="10"/><circle cx="1333" cy="923" r="10"/><circle cx="1340" cy="970" r="10"/><circle cx="1344" cy="958" r="10"/><circle cx="1328" cy="976" r="10"/><circle cx="1346" cy="910" r="10"/><circle cx="1358" cy="977" r="10"/><circle cx="1338" cy="956" r="10"/><circle cx="1336" cy="933" r="10"/><circle cx="1343" cy="955" r="10"/><circle cx="1336" cy="964" r="10"/><circle cx="1336" cy="946" r="10"/><circle cx="1321" cy="938" r="10"/><circle cx="1325" cy="947" r="10"/><circle cx="1336" cy="972" r="10"/><circle cx="1318" cy="962" r="10"/><circle cx="1361" cy="955" r="10"/><circle cx="1348" cy="941" r="10"/><circle cx="1338" cy="970" r="10"/><circle cx="1323" cy="990" r="10"/><circle cx="1336" cy="978" r="10"/><circle cx="1340" cy="975" r="10"/><circle cx="1327" cy="952" r="10"/><circle cx="1344" cy="999" r="10"/><circle cx="1317" cy="942" r="10"/><circle cx="1320" cy="919" r="10"/><circle cx="1324" cy="947" r="10"/><circle cx="1350" cy="955" r="10"/><circle cx="1345" cy="940" r="10"/><circle cx="1317" cy="950" r="10"/><circle cx="1340" cy="954" r="10"/><circle cx="1336" cy="938" r="10"/><circle cx="1329" cy="892" r="10"/></g>
<g fill="#bebada"><circle cx="1448" cy="926" r="10"/></g>
<g fill="#b3de69"><circle cx="1424" cy="1151" r="10"/><circle cx="1371" cy="1129" r="10"/><circle cx="1382" cy="1089" r="10"/><circle cx="1380" cy="1146" r="10"/><circle cx="1402" cy="1126" r="10"/><circle cx="1398" cy="1101" r="10"/><circle cx="1381" cy="1127" r="10"/><circle cx="1410" cy="1123" r="10"/><circle cx="1392" cy="1140" r="10"/><circle cx="1423" cy="1099" r="10"/><circle cx="1405" cy="1136" r="10"/><circle cx="1394" cy="1137" r="10"/><circle cx="1358" cy="1132" r="10"/><circle cx="1391" cy="1100" r="10"/><circle cx="1411" cy="1128" r="10"/><circle cx="1389" cy="1150" r="10"/><circle cx="1378" cy="1113" r="10"/><circle cx="1411" cy="1153" r="10"/><circle cx="1433" cy="1119" r="10"/><circle cx="1368" cy="1093" r="10"/><circle cx="1373" cy="1134" r="10"/><circle cx="1391" cy="1114" r="10"/><circle cx="1376" cy="1113" r="10"/><circle cx="1388" cy="1161" r="10"/><circle cx="1407" cy="1166" r="10"/><circle cx="1410" cy="1150" r="10"/><circle cx="1417" cy="1142" r="10"/><circle cx="1424" cy="1160" r="10"/><circle cx="1429" cy="1137" r="10"/><circle cx="1390" cy="1144" r="10"/><circle cx="1388" cy="1113" r="10"/><circle cx="1403" cy="1103" r="10"/><circle cx="1392" cy="1167" r="10"/><circle cx="1398" cy="1152" r="10"/><circle cx="1407" cy="1141" r="10"/><circle cx="1397" cy="1147" r="10"/><circle cx="1377" cy="1146" r="10"/><circle cx="1375" cy="1112" r="10"/><circle cx="1384" cy="1097" r="10"/><circle cx="1358" cy="1141" r="10"/><circle cx="1405" cy="1148" r="10"/><circle cx="1409" cy="1112" r="10"/><circle cx="1408" cy="1102" r="10"/><circle cx="1388" cy="1150" r="10"/><circle cx="1377" cy="1136" r="10"/><circle cx="1414" cy="1135" r="10"/><circle cx="1413" cy="1118" r="10"/><circle cx="1424" cy="1114" r="10"/><circle cx="1379" cy="1132" r="10"/><circle cx="1427" cy="1113" r="10"/><circle cx="1395" cy="1122" r="10"/><circle cx="1378" cy="1098" r="10"/><circle cx="1406" cy="1149" r="10"/><circle cx="1381" cy="1137" r="10"/><circle cx="1404" cy="1141" r="10"/><circle cx="1392" cy="1132" r="10"/><circle cx="1400" cy="1104" r="10"/><circle cx="1392" cy="1151" r="10"/><circle cx="1385" cy="1164" r="10"/><circle cx="1391" cy="1103" r="10"/><circle cx="1390" cy="1097" r="10"/><circle cx="1406" cy="1091" r="10"/><circle cx="1395" cy="1125" r="10"/><circle cx="1389" cy="1142" r="10"/><circle cx="1400" cy="1117" r="10"/><circle cx="1410" cy="1120" r="10"/><circle cx="1412" cy="1165" r="10"/><circle cx="1402" cy="1155" r="10"/><circle cx="1370" cy="1145" r="10"/><circle cx="1367" cy="1127" r="10"/><circle cx="1380" cy="1111" r="10"/><circle cx="1377" cy="1132" r="10"/><circle cx="1407" cy="1102" r="10"/><circle cx="1383" cy="1084" r="10"/><circle cx="1382" cy="1078" r="10"/><circle cx="1367" cy="1143" r="10"/><circle cx="1412" cy="1110" r="10"/><circle cx="1402" cy="1111" r="10"/><circle cx="1415" cy="1176" r="10"/><circle cx="1383" cy="1119" r="10"/><circle cx="1395" cy="1147" r="10"/><circle cx="1365" cy="1124" r="10"/><circle cx="1390" cy="1127" r="10"/><circle cx="1401" cy="1091" r="10"/><circle cx="1363" cy="1132" r="10"/><circle cx="1409" cy="1144" r="10"/><circle cx="1396" cy="1090" r="10"/><circle cx="1386" cy="1091" r="10"/><circle cx="1432" cy="1140" r="10"/><circle cx="1409" cy="1136" r="10"/><circle cx="1388" cy="1161" r="10"/><circle cx="1412" cy="1147" r="10"/><circle cx="1406" cy="1150" r="10"/><circle cx="1390" cy="1142" r="10"/><circle cx="1396" cy="1125" r="10"/><circle cx="1387" cy="1162" r="10"/><circle cx="1376" cy="1126" r="10"/><circle cx="1414" cy="1129" r="10"/><circle cx="1402" cy="1100" r="10"/><circle cx="1374" cy="1173" r="10"/><circle cx="1398" cy="1129" r="10"/><circle cx="1369" cy="1105" r="10"/><circle cx="1376" cy="1130" r="10"/><circle cx="1393" cy="1116" r="10"/><circle cx="1382" cy="1134" r="10"/><circle cx="1417" cy="1095" r="10"/><circle cx="1368" cy="1160" r="10"/><circle cx="1368" cy="1121" r="10"/><circle cx="1397" cy="1177" r="10"/><circle cx="1394" cy="1158" r="10"/><circle cx="1398" cy="1110" r="10"/><circle cx="1399" cy="1079" r="10"/><circle cx="1410" cy="1169" r="10"/><circle cx="1391" cy="1152" r="10"/><circle cx="1375" cy="1169" r="10"/><circle cx="1383" cy="1111" r="10"/><circle cx="1381" cy="1086" r="10"/><circle cx="1408" cy="1182" r="10"/><circle cx="1368" cy="1126" r="10"/><circle cx="1403" cy="1117" r="10"/><circle cx="1366" cy="1140" r="10"/><circle cx="1414" cy="1134" r="10"/><circle cx="1375" cy="1123" r="10"/><circle cx="1359" cy="1130" r="10"/><circle cx="1418" cy="1159" r="10"/><circle cx="1393" cy="1142" r="10"/><circle cx="1385" cy="1134" r="10"/><circle cx="1384" cy="1135" r="10"/><circle cx="1385" cy="1136" r="10"/><circle cx="1408" cy="1130" r="10"/><circle cx="1371" cy="1144" r="10"/><circle cx="1390" cy="1118" r="10"/><circle cx="1406" cy="1110" r="10"/><circle cx="1412" cy="1145" r="10"/><circle cx="1382" cy="1113" r="10"/><circle cx="1393" cy="1108" r="10"/><circle cx="1398" cy="1122" r="10"/><circle cx="1374" cy="1147" r="10"/><circle cx="1386" cy="1143" r="10"/><circle cx="1387" cy="1124" r="10"/><circle cx="1405" cy="1155" r="10"/><circle cx="1414" cy="1130" r="10"/><circle cx="1423" cy="1122" r="10"/><circle cx="1368" cy="1109" r="10"/><circle cx="1362" cy="1139" r="10"/><circle cx="1396" cy="1130" r="10"/><circle cx="1400" cy="1128" r="10"/><circle cx="1390" cy="1123" r="10"/><circle cx="1396" cy="1102" r="10"/><circle cx="1419" cy="1170" r="10"/><circle cx="1377" cy="1154" r="10"/><circle cx="1365" cy="1146" r="10"/><circle cx="1381" cy="1157" r="10"/><circle cx="1397" cy="1155" r="10"/><circle cx="1406" cy="1144" r="10"/><circle cx="1390" cy="1172" r="10"/><circle cx="1402" cy="1143" r="10"/><circle cx="1422" cy="1124" r="10"/><circle cx="1428" cy="1159" r="10"/><circle cx="1396" cy="1094" r="10"/><circle cx="1418" cy="1123" r="10"/><circle cx="1397" cy="1134" r="10"/><circle cx="1413" cy="1147" r="10"/><circle cx="1361" cy="1114" r="10"/><circle cx="1402" cy="1135" r="10"/><circle cx="1410" cy="1146" r="10"/><circle cx="1426" cy="1113" r="10"/><circle cx="1420" cy="1141" r="10"/><circle cx="1401" cy="1148" r="10"/><circle cx="1389" cy="1149" r="10"/><circle cx="1391" cy="1149" r="10"/><circle cx="1381" cy="1161" r="10"/><circle cx="1367" cy="1114" r="10"/><circle cx="1394" cy="1137" r="10"/><circle cx="1380" cy="1121" r="10"/><circle cx="1400" cy="1158" r="10"/><circle cx="1419" cy="1119" r="10"/><circle cx="1394" cy="1123" r="10"/><circle cx="1367" cy="1120" r="10"/><circle cx="1416" cy="1097" r="10"/><circle cx="1427" cy="1136" r="10"/><circle cx="1425" cy="1116" r="10"/><circle cx="1419" cy="1150" r="10"/><circle cx="1410" cy="1150" r="10"/><circle cx="1406" cy="1148" r="10"/><circle cx="1417" cy="1142" r="10"/><circle cx="1407" cy="1142" r="10"/><circle cx="1398" cy="1109" r="10"/><circle cx="1362" cy="1105" r="10"/><circle cx="1372" cy="1093" r="10"/><circle cx="1408" cy="1123" r="10"/><circle cx="1410" cy="1119" r="10"/><circle cx="1402" cy="1126" r="10"/><circle cx="1400" cy="1184" r="10"/><circle cx="1425" cy="1164" r="10"/><circle cx="1400" cy="1177" r="10"/><circle cx="1411" cy="1154" r="10"/><circle cx="1373" cy="1115" r="10"/><circle cx="1398" cy="1126" r="10"/><circle cx="1385" cy="1080" r="10"/><circle cx="1381" cy="1128" r="10"/><circle cx="1401" cy="1104" r="10"/><circle cx="1393" cy="1177" r="10"/><circle cx="1398" cy="1081" r="10"/><circle cx="1392" cy="1131" r="10"/><circle cx="1419" cy="1136" r="10"/><circle cx="1421" cy="1140" r="10"/><circle cx="1417" cy="1166" r="10"/><circle cx="1424" cy="1136" r="10"/><circle cx="1372" cy="1136" r="10"/><circle cx="1404" cy="1113" r="10"/><circle cx="1411" cy="1127" r="10"/><circle cx="1410" cy="1136" r="10"/><circle cx="1378" cy="1158" r="10"/><circle cx="1400" cy="1087" r="10"/><circle cx="1401" cy="1130" r="10"/><circle cx="1380" cy="1082" r="10"/><circle cx="1404" cy="1156" r="10"/><circle cx="1360" cy="1140" r="10"/><circle cx="1395" cy="1168" r="10"/><circle cx="1395" cy="1106" r="10"/><circle cx="1394" cy="1142" r="10"/><circle cx="1382" cy="1111" r="10"/><circle cx="1400" cy="1154" r="10"/><circle cx="1391" cy="1144" r="10"/><circle cx="1386" cy="1122" r="10"/><circle cx="1399" cy="1156" r="10"/><circle cx="1425" cy="1128" r="10"/><circle cx="1404" cy="1182" r="10"/><circle cx="1411" cy="1122" r="10"/><circle cx="1403" cy="1095" r="10"/><circle cx="1382" cy="1097" r="10"/><circle cx="1414" cy="1120" r="10"/><circle cx="1397" cy="1133" r="10"/><circle cx="1391" cy="1101" r="10"/><circle cx="1395" cy="1149" r="10"/><circle cx="1392" cy="1128" r="10"/><circle cx="1401" cy="1137" r="10"/><circle cx="1389" cy="1159" r="10"/><circle cx="1405" cy="1170" r="10"/><circle cx="1397" cy="1080" r="10"/><circle cx="1364" cy="1118" r="10"/><circle cx="1404" cy="1089" r="10"/><circle cx="1385" cy="1163" r="10"/><circle cx="1402" cy="1113" r="10"/><circle cx="1393" cy="1134" r="10"/><circle cx="1388" cy="1123" r="10"/><circle cx="1384" cy="1137" r="10"/><circle cx="1425" cy="1169" r="10"/><circle cx="1393" cy="1095" r="10"/><circle cx="1368" cy="1135" r="10"/><circle cx="1400" cy="1115" r="10"/><circle cx="1380" cy="1126" r="10"/><circle cx="1400" cy="1148" r="10"/><circle cx="1384" cy="1138" r="10"/><circle cx="1402" cy="1152" r="10"/><circle cx="1368" cy="1172" r="10"/><circle cx="1373" cy="1126" r="10"/><circle cx="1387" cy="1119" r="10"/><circle cx="1381" cy="1152" r="10"/><circle cx="1410" cy="1140" r="10"/><circle cx="1372" cy="1115" r="10"/><circle cx="1394" cy="1141" r="10"/><circle cx="1385" cy="1124" r="10"/><circle cx="1381" cy="1173" r="10"/><circle cx="1411" cy="1100" r="10"/><circle cx="1410" cy="1136" r="10"/><circle cx="1381" cy="1152" r="10"/><circle cx="1384" cy="1123" r="10"/><circle cx="1396" cy="1137" r="10"/><circle cx="1387" cy="1139" r="10"/><circle cx="1395" cy="1136" r="10"/><circle cx="1402" cy="1115" r="10"/><circle cx="1370" cy="1129" r="10"/><circle cx="1418" cy="1140" r="10"/><circle cx="1400" cy="1112" r="10"/><circle cx="1374" cy="1099" r="10"/><circle cx="1378" cy="1122" r="10"/><circle cx="1367" cy="1128" r="10"/><circle cx="1366" cy="1148" r="10"/><circle cx="1395" cy="1086" r="10"/><circle cx="1385" cy="1137" r="10"/><circle cx="1402" cy="1151" r="10"/><circle cx="1389" cy="1127" r="10"/><circle cx="1391" cy="1145" r="10"/><circle cx="1383" cy="1127" r="10"/><circle cx="1398" cy="1122" r="10"/><circle cx="1375" cy="1166" r="10"/><circle cx="1404" cy="1108" r="10"/><circle cx="1432" cy="1112" r="10"/><circle cx="1379" cy="1122" r="10"/><circle cx="1405" cy="1170" r="10"/><circle cx="1421" cy="1145" r="10"/><circle cx="1397" cy="1148" r="10"/><circle cx="1381" cy="1113" r="10"/><circle cx="1405" cy="1136" r="10"/><circle cx="1400" cy="1105" r="10"/><circle cx="1400" cy="1094" r="10"/><circle cx="1412" cy="1132" r="10"/><circle cx="1384" cy="1119" r="10"/><circle cx="1382" cy="1166" r="10"/><circle cx="1396" cy="1138" r="10"/><circle cx="1378" cy="1098" r="10"/><circle cx="1400" cy="1120" r="10"/><circle cx="1405" cy="1158" r="10"/><circle cx="1393" cy="1145" r="10"/><circle cx="1399" cy="1137" r="10"/><circle cx="1386" cy="1137" r="10"/><circle cx="1403" cy="1133" r="10"/><circle cx="1387" cy="1094" r="10"/><circle cx="1376" cy="1171" r="10"/><circle cx="1414" cy="1139" r="10"/><circle cx="1401" cy="1127" r="10"/><circle cx="1408" cy="1156" r="10"/><circle cx="1391" cy="1139" r="10"/><circle cx="1413" cy="1091" r="10"/><circle cx="1378" cy="1116" r="10"/><circle cx="1374" cy="1120" r="10"/><circle cx="1380" cy="1121" r="10"/><circle cx="1404" cy="1101" r="10"/></g>
<g fill="#b3de69"><circle cx="1354" cy="1197" r="10"/><circle cx="1355" cy="1177" r="10"/><circle cx="1343" cy="1195" r="10"/><circle cx="1348" cy="1181" r="10"/><circle cx="1364" cy="1181" r="10"/><circle cx="1335" cy="1191" r="10"/><circle cx="1353" cy="1181" r="10"/><circle cx="1360" cy="1194" r="10"/><circle cx="1369" cy="1187" r="10"/><circle cx="1359" cy="1190" r="10"/><circle cx="1342" cy="1182" r="10"/><circle cx="1340" cy="1179" r="10"/><circle cx="1369" cy="1186" r="10"/><circle cx="1343" cy="1172" r="10"/><circle cx="1355" cy="1186" r="10"/><circle cx="1336" cy="1185" r="10"/><circle cx="1324" cy="1191" r="10"/><circle cx="1334" cy="1190" r="10"/><circle cx="1354" cy="1170" r="10"/><circle cx="1335" cy="1181" r="10"/><circle cx="1364" cy="1191" r="10"/><circle cx="1362" cy="1199" r="10"/><circle cx="1348" cy="1182" r="10"/><circle cx="1323" cy="1178" r="10"/><circle cx="1361" cy="1180" r="10"/><circle cx="1339" cy="1193" r="10"/><circle cx="1360" cy="1186" r="10"/><circle cx="1366" cy="1184" r="10"/><circle cx="1350" cy="1197" r="10"/><circle cx="1343" cy="1189" r="10"/><circle cx="1362" cy="1185" r="10"/><circle cx="1366" cy="1190" r="10"/><circle cx="1365" cy="1173" r="10"/><circle cx="1336" cy="1188" r="10"/><circle cx="1370" cy="1197" r="10"/><circle cx="1352" cy="1180" r="10"/><circle cx="1345" cy="1190" r="10"/><circle cx="1351" cy="1175" r="10"/><circle cx="1351" cy="1186" r="10"/><circle cx="1341" cy="1197" r="10"/><circle cx="1359" cy="1194" r="10"/><circle cx="1354" cy="1179" r="10"/><circle cx="1369" cy="1194" r="10"/><circle cx="1343" cy="1176" r="10"/><circle cx="1365" cy="1182" r="10"/></g>
<g fill="#bebada"><circle cx="1345" cy="1035" r="10"/><circle cx="1365" cy="1027" r="10"/><circle cx="1359" cy="1048" r="10"/><circle cx="1367" cy="1017" r="10"/><circle cx="1366" cy="1058" r="10"/><circle cx="1369" cy="1035" r="10"/><circle cx="1362" cy="1017" r="10"/><circle cx="1352" cy="1030" r="10"/><circle cx="1382" cy="1036" r="10"/><circle cx="1347" cy="1057" r="10"/><circle cx="1372" cy="1016" r="10"/><circle cx="1356" cy="1015" r="10"/><circle cx="1380" cy="1023" r="10"/><circle cx="1364" cy="1040" r="10"/><circle cx="1368" cy="1024" r="10"/><circle cx="1368" cy="1033" r="10"/><circle cx="1364" cy="1039" r="10"/><circle cx="1374" cy="1020" r="10"/><circle cx="1342" cy="1044" r="10"/><circle cx="1356" cy="1044" r="10"/><circle cx="1344" cy="1037" r="10"/><circle cx="1339" cy="1038" r="10"/><circle cx="1367" cy="1057" r="10"/><circle cx="1352" cy="1048" r="10"/><circle cx="1374" cy="1023" r="10"/><circle cx="1355" cy="1013" r="10"/><circle cx="1348" cy="1042" r="10"/><circle cx="1335" cy="1032" r="10"/><circle cx="1367" cy="1054" r="10"/><circle cx="1347" cy="1044" r="10"/><circle cx="1358" cy="1045" r="10"/><circle cx="1355" cy="1044" r="10"/><circle cx="1347" cy="1024" r="10"/><circle cx="1356" cy="1014" r="10"/><circle cx="1372" cy="1033" r="10"/><circle cx="1347" cy="1025" r="10"/><circle cx="1347" cy="1038" r="10"/><circle cx="1354" cy="1047" r="10"/><circle cx="1345" cy="1035" r="10"/><circle cx="1341" cy="1030" r="10"/><circle cx="1374" cy="1035" r="10"/><circle cx="1368" cy="1035" r="10"/><circle cx="1346" cy="1025" r="10"/><circle cx="1345" cy="1040" r="10"/><circle cx="1377" cy="1047" r="10"/><circle cx="1347" cy="1038" r="10"/><circle cx="1350" cy="1051" r="10"/><circle cx="1343" cy="1046" r="10"/><circle cx="1344" cy="1030" r="10"/><circle cx="1360" cy="1038" r="10"/></g>
<g fill="#bebada"><circle cx="1328" cy="1119" r="10"/><circle cx="1324" cy="1160" r="10"/><circle cx="1338" cy="1124" r="10"/><circle cx="1313" cy="1089" r="10"/><circle cx="1365" cy="1104" r="10"/><circle cx="1321" cy="1100" r="10"/><circle cx="1337" cy="1142" r="10"/><circle cx="1306" cy="1119" r="10"/><circle cx="1321" cy="1135" r="10"/><circle cx="1322" cy="1147" r="10"/><circle cx="1333" cy="1145" r="10"/><circle cx="1335" cy="1108" r="10"/><circle cx="1332" cy="1163" r="10"/><circle cx="1344" cy="1158" r="10"/><circle cx="1335" cy="1099" r="10"/><circle cx="1318" cy="1133" r="10"/><circle cx="1331" cy="1089" r="10"/><circle cx="1319" cy="1178" r="10"/><circle cx="1308" cy="1128" r="10"/><circle cx="1339" cy="1112" r="10"/><circle cx="1319" cy="1081" r="10"/><circle cx="1362" cy="1168" r="10"/><circle cx="1330" cy="1116" r="10"/><circle cx="1337" cy="1093" r="10"/><circle cx="1334" cy="1083" r="10"/><circle cx="1342" cy="1132" r="10"/><circle cx="1317" cy="1085" r="10"/><circle cx="1317" cy="1136" r="10"/><circle cx="1345" cy="1113" r="10"/><circle cx="1334" cy="1150" r="10"/><circle cx="1320" cy="1052" r="10"/><circle cx="1334" cy="1116" r="10"/><circle cx="1308" cy="1106" r="10"/><circle cx="1336" cy="1079" r="10"/><circle cx="1344" cy="1109" r="10"/><circle cx="1331" cy="1144" r="10"/><circle cx="1345" cy="1125" r="10"/><circle cx="1295" cy="1114" r="10"/><circle cx="1349" cy="1102" r="10"/><circle cx="1326" cy="1146" r="10"/><circle cx="1312" cy="1134" r="10"/><circle cx="1282" cy="1172" r="10"/><circle cx="1327" cy="1108" r="10"/><circle cx="1358" cy="1146" r="10"/><circle cx="1338" cy="1069" r="10"/><circle cx="1326" cy="1117" r="10"/><circle cx="1328" cy="1118" r="10"/><circle cx="1335" cy="1121" r="10"/><circle cx="1332" cy="1080" r="10"/><circle cx="1327" cy="1138" r="10"/><circle cx="1332" cy="1155" r="10"/><circle cx="1343" cy="1132" r="10"/><circle cx="1333" cy="1102" r="10"/><circle cx="1315" cy="1078" r="10"/><circle cx="1321" cy="1117" r="10"/><circle cx="1338" cy="1113" r="10"/><circle cx="1333" cy="1130" r="10"/><circle cx="1320" cy="1139" r="10"/><circle cx="1323" cy="1146" r="10"/><circle cx="1328" cy="1133" r="10"/><circle cx="1328" cy="1118" r="10"/><circle cx="1342" cy="1092" r="10"/><circle cx="1340" cy="1118" r="10"/><circle cx="1346" cy="1094" r="10"/><circle cx="1326" cy="1101" r="10"/><circle cx="1309" cy="1089" r="10"/><circle cx="1330" cy="1089" r="10"/><circle cx="1359" cy="1151" r="10"/><circle cx="1309" cy="1088" r="10"/><circle cx="1308" cy="1134" r="10"/><circle cx="1360" cy="1114" r="10"/><circle cx="1326" cy="1127" r="10"/><circle cx="1333" cy="1158" r="10"/><circle cx="1333" cy="1113" r="10"/><circle cx="1321" cy="1139" r="10"/><circle cx="1338" cy="1096" r="10"/><circle cx="1344" cy="1142" r="10"/><circle cx="1340" cy="1136" r="10"/><circle cx="1323" cy="1117" r="10"/><circle cx="1313" cy="1145" r="10"/><circle cx="1311" cy="1120" r="10"/><circle cx="1328" cy="1100" r="10"/><circle cx="1324" cy="1124" r="10"/><circle cx="1347" cy="1144" r="10"/><circle cx="1324" cy="1136" r="10"/><circle cx="1333" cy="1172" r="10"/><circle cx="1315" cy="1114" r="10"/><circle cx="1321" cy="1111" r="10"/><circle cx="1333" cy="1146" r="10"/><circle cx="1333" cy="1077" r="10"/><circle cx="1337" cy="1154" r="10"/><circle cx="1332" cy="1127" r="10"/><circle cx="1342" cy="1109" r="10"/><circle cx="1356" cy="1151" r="10"/><circle cx="1321" cy="1158" r="10"/><circle cx="1327" cy="1132" r="10"/><circle cx="1328" cy="1102" r="10"/><circle cx="1308" cy="1118" r="10"/><circle cx="1310" cy="1107" r="10"/><circle cx="1322" cy="1131" r="10"/><circle cx="1334" cy="1104" r="10"/><circle cx="1314" cy="1138" r="10"/><circle cx="1377" cy="1137" r="10"/><circle cx="1325" cy="1149" r="10"/><circle cx="1313" cy="1106" r="10"/><circle cx="1319" cy="1088" r="10"/><circle cx="1314" cy="1157" r="10"/><circle cx="1325" cy="1117" r="10"/><circle cx="1321" cy="1126" r="10"/><circle cx="1333" cy="1109" r="10"/><circle cx="1330" cy="1150" r="10"/><circle cx="1327" cy="1148" r="10"/><circle cx="1360" cy="1103" r="10"/><circle cx="1328" cy="1105" r="10"/><circle cx="1328" cy="1076" r="10"/><circle cx="1317" cy="1136" r="10"/><circle cx="1343" cy="1109" r="10"/><circle cx="1336" cy="1083" r="10"/><circle cx="1327" cy="1140" r="10"/><circle cx="1308" cy="1127" r="10"/><circle cx="1336" cy="1093" r="10"/><circle cx="1324" cy="1118" r="10"/><circle cx="1338" cy="1167" r="10"/><circle cx="1296" cy="1122" r="10"/><circle cx="1302" cy="1103" r="10"/><circle cx="1308" cy="1080" r="10"/><circle cx="1322" cy="1125" r="10"/><circle cx="1355" cy="1118" r="10"/><circle cx="1324" cy="1136" r="10"/><circle cx="1324" cy="1148" r="10"/><circle cx="1311" cy="1139" r="10"/><circle cx="1310" cy="1120" r="10"/><circle cx="1346" cy="1100" r="10"/><circle cx="1326" cy="1134" r="10"/><circle cx="1347" cy="1153" r="10"/><circle cx="1316" cy="1095" r="10"/><circle cx="1334" cy="1062" r="10"/><circle cx="1357" cy="1118" r="10"/><circle cx="1358" cy="1115" r="10"/><circle cx="1338" cy="1115" r="10"/><circle cx="1288" cy="1105" r="10"/><circle cx="1325" cy="1163" r="10"/><circle cx="1338" cy="1111" r="10"/><circle cx="1313" cy="1081" r="10"/><circle cx="1362" cy="1166" r="10"/><circle cx="1327" cy="1128" r="10"/><circle cx="1346" cy="1146" r="10"/><circle cx="1334" cy="1099" r="10"/><circle cx="1334" cy="1127" r="10"/><circle cx="1272" cy="1119" r="10"/><circle cx="1334" cy="1137" r="10"/><circle cx="1340" cy="1087" r="10"/><circle cx="1308" cy="1148" r="10"/><circle cx="1351" cy="1147" r="10"/><circle cx="1318" cy="1125" r="10"/><circle cx="1336" cy="1127" r="10"/><circle cx="1328" cy="1133" r="10"/><circle cx="1335" cy="1104" r="10"/><circle cx="1343" cy="1160" r="10"/><circle cx="1314" cy="1140" r="10"/><circle cx="1308" cy="1124" r="10"/><circle cx="1378" cy="1132" r="10"/><circle cx="1331" cy="1118" r="10"/><circle cx="1328" cy="1158" r="10"/><circle cx="1328" cy="1074" r="10"/><circle cx="1338" cy="1132" r="10"/><circle cx="1344" cy="1109" r="10"/><circle cx="1303" cy="1114" r="10"/><circle cx="1335" cy="1094" r="10"/><circle cx="1350" cy="1145" r="10"/><circle cx="1339" cy="1098" r="10"/><circle cx="1346" cy="1128" r="10"/><circle cx="1326" cy="1102" r="10"/><circle cx="1320" cy="1146" r="10"/><circle cx="1323" cy="1133" r="10"/><circle cx="1336" cy="1132" r="10"/><circle cx="1344" cy="1125" r="10"/><circle cx="1314" cy="1162" r="10"/><circle cx="1354" cy="1120" r="10"/><circle cx="1331" cy="1080" r="10"/><circle cx="1291" cy="1180" r="10"/><circle cx="1324" cy="1082" r="10"/><circle cx="1315" cy="1102" r="10"/><circle cx="1307" cy="1125" r="10"/><circle cx="1318" cy="1147" r="10"/><circle cx="1351" cy="1182" r="10"/><circle cx="1336" cy="1110" r="10"/><circle cx="1328" cy="1093" r="10"/><circle cx="1351" cy="1143" r="10"/><circle cx="1334" cy="1096" r="10"/><circle cx="1332" cy="1139" r="10"/><circle cx="1325" cy="1097" r="10"/><circle cx="1354" cy="1102" r="10"/><circle cx="1339" cy="1141" r="10"/><circle cx="1356" cy="1100" r="10"/><circle cx="1325" cy="1191" r="10"/><circle cx="1326" cy="1121" r="10"/><circle cx="1335" cy="1144" r="10"/><circle cx="1314" cy="1074" r="10"/><circle cx="1324" cy="1141" r="10"/><circle cx="1328" cy="1168" r="10"/><circle cx="1317" cy="1089" r="10"/><circle cx="1320" cy="1195" r="10"/><circle cx="1338" cy="1119" r="10"/><circle cx="1362" cy="1100" r="10"/><circle cx="1318" cy="1115" r="10"/><circle cx="1307" cy="1086" r="10"/><circle cx="1345" cy="1092" r="10"/><circle cx="1350" cy="1085" r="10"/><circle cx="1334" cy="1154" r="10"/><circle cx="1312" cy="1134" r="10"/><circle cx="1310" cy="1137" r="10"/><circle cx="1327" cy="1109" r="10"/><circle cx="1301" cy="1125" r="10"/><circle cx="1328" cy="1102" r="10"/><circle cx="1335" cy="1107" r="10"/><circle cx="1325" cy="1118" r="10"/><circle cx="1321" cy="1117" r="10"/><circle cx="1310" cy="1123" r="10"/><circle cx="1329" cy="1106" r="10"/><circle cx="1328" cy="1036" r="10"/><circle cx="1329" cy="1106" r="10"/><circle cx="1309" cy="1203" r="10"/><circle cx="1349" cy="1117" r="10"/><circle cx="1354" cy="1098" r="10"/><circle cx="1318" cy="1128" r="10"/><circle cx="1345" cy="1087" r="10"/><circle cx="1346" cy="1131" r="10"/><circle cx="1305" cy="1112" r="10"/><circle cx="1343" cy="1120" r="10"/><circle cx="1317" cy="1130" r="10"/><circle cx="1332" cy="1149" r="10"/><circle cx="1356" cy="1088" r="10"/><circle cx="1338" cy="1112" r="10"/><circle cx="1323" cy="1132" r="10"/><circle cx="1319" cy="1101" r="10"/><circle cx="1360" cy="1052" r="10"/><circle cx="1329" cy="1122" r="10"/><circle cx="1338" cy="1119" r="10"/><circle cx="1304" cy="1135" r="10"/><circle cx="1328" cy="1108" r="10"/><circle cx="1332" cy="1099" r="10"/><circle cx="1340" cy="1080" r="10"/><circle cx="1350" cy="1105" r="10"/><circle cx="1347" cy="1127" r="10"/><circle cx="1315" cy="1129" r="10"/><circle cx="1324" cy="1128" r="10"/><circle cx="1339" cy="1094" r="10"/><circle cx="1346" cy="1150" r="10"/><circle cx="1347" cy="1092" r="10"/><circle cx="1310" cy="1081" r="10"/><circle cx="1337" cy="1145" r="10"/><circle cx="1310" cy="1131" r="10"/><circle cx="1311" cy="1138" r="10"/><circle cx="1324" cy="1145" r="10"/><circle cx="1340" cy="1143" r="10"/><circle cx="1331" cy="1119" r="10"/><circle cx="1354" cy="1111" r="10"/><circle cx="1326" cy="1067" r="10"/><circle cx="1333" cy="1125" r="10"/><circle cx="1306" cy="1108" r="10"/><circle cx="1335" cy="1098" r="10"/><circle cx="1331" cy="1138" r="10"/><circle cx="1318" cy="1132" r="10"/><circle cx="1343" cy="1125" r="10"/><circle cx="1337" cy="1078" r="10"/><circle cx="1326" cy="1116" r="10"/><circle cx="1302" cy="1051" r="10"/><circle cx="1317" cy="1131" r="10"/><circle cx="1330" cy="1105" r="10"/><circle cx="1331" cy="1133" r="10"/><circle cx="1351" cy="1098" r="10"/><circle cx="1356" cy="1177" r="10"/><circle cx="1327" cy="1130" r="10"/><circle cx="1361" cy="1118" r="10"/><circle cx="1315" cy="1092" r="10"/><circle cx="1362" cy="1163" r="10"/><circle cx="1327" cy="1175" r="10"/><circle cx="1300" cy="1135" r="10"/><circle cx="1338" cy="1140" r="10"/><circle cx="1316" cy="1154" r="10"/><circle cx="1317" cy="1097" r="10"/><circle cx="1314" cy="1112" r="10"/><circle cx="1313" cy="1130" r="10"/><circle cx="1362" cy="1138" r="10"/><circle cx="1375" cy="1081" r="10"/><circle cx="1335" cy="1156" r="10"/><circle cx="1315" cy="1134" r="10"/><circle cx="1321" cy="1128" r="10"/><circle cx="1329" cy="1126" r="10"/><circle cx="1334" cy="1142" r="10"/><circle cx="1355" cy="1118" r="10"/><circle cx="1303" cy="1105" r="10"/><circle cx="1357" cy="1122" r="10"/><circle cx="1323" cy="1098" r="10"/><circle cx="1339" cy="1138" r="10"/><circle cx="1338" cy="1156" r="10"/><circle cx="1329" cy="1117" r="10"/><circle cx="1341" cy="1053" r="10"/><circle cx="1328" cy="1130" r="10"/><circle cx="1319" cy="1102" r="10"/><circle cx="1316" cy="1120" r="10"/><circle cx="1355" cy="1122" r="10"/><circle cx="1338" cy="1143" r="10"/><circle cx="1318" cy="1081" r="10"/><circle cx="1329" cy="1096" r="10"/><circle cx="1308" cy="1118" r="10"/><circle cx="1338" cy="1146" r="10"/><circle cx="1356" cy="1136" r="10"/><circle cx="1334" cy="1132" r="10"/></g>
<g fill="#bebada"><circle cx="1427" cy="1030" r="10"/><circle cx="1407" cy="1060" r="10"/><circle cx="1424" cy="1024" r="10"/><circle cx="1411" cy="1027" r="10"/><circle cx="1436" cy="1030" r="10"/><circle cx="1400" cy="1045" r="10"/><circle cx="1453" cy="1040" r="10"/><circle cx="1444" cy="1054" r="10"/><circle cx="1401" cy="1035" r="10"/><circle cx="1442" cy="1052" r="10"/><circle cx="1448" cy="1042" r="10"/><circle cx="1399" cy="1044" r="10"/><circle cx="1420" cy="1036" r="10"/><circle cx="1432" cy="1021" r="10"/><circle cx="1454" cy="1037" r="10"/><circle cx="1408" cy="1027" r="10"/><circle cx="1461" cy="1032" r="10"/><circle cx="1448" cy="1041" r="10"/><circle cx="1450" cy="1047" r="10"/><circle cx="1439" cy="1054" r="10"/><circle cx="1457" cy="1024" r="10"/><circle cx="1434" cy="1054" r="10"/><circle cx="1434" cy="1045" r="10"/><circle cx="1455" cy="1041" r="10"/><circle cx="1430" cy="1039" r="10"/><circle cx="1432" cy="1007" r="10"/><circle cx="1394" cy="1046" r="10"/><circle cx="1443" cy="1048" r="10"/><circle cx="1448" cy="1037" r="10"/><circle cx="1470" cy="1043" r="10"/><circle cx="1447" cy="1044" r="10"/><circle cx="1420" cy="1034" r="10"/><circle cx="1421" cy="1017" r="10"/><circle cx="1460" cy="1051" r="10"/><circle cx="1468" cy="1018" r="10"/><circle cx="1447" cy="1030" r="10"/><circle cx="1453" cy="1033" r="10"/><circle cx="1396" cy="1046" r="10"/><circle cx="1424" cy="1045" r="10"/><circle cx="1419" cy="1035" r="10"/><circle cx="1451" cy="1033" r="10"/><circle cx="1438" cy="1058" r="10"/><circle cx="1436" cy="1059" r="10"/><circle cx="1442" cy="1033" r="10"/><circle cx="1449" cy="1049" r="10"/><circle cx="1421" cy="1064" r="10"/><circle cx="1404" cy="1043" r="10"/><circle cx="1449" cy="1036" r="10"/><circle cx="1434" cy="1019" r="10"/><circle cx="1428" cy="1064" r="10"/><circle cx="1418" cy="1034" r="10"/><circle cx="1460" cy="1048" r="10"/><circle cx="1434" cy="1024" r="10"/><circle cx="1416" cy="1063" r="10"/><circle cx="1430" cy="1057" r="10"/><circle cx="1452" cy="1033" r="10"/><circle cx="1439" cy="1049" r="10"/><circle cx="1443" cy="1048" r="10"/><circle cx="1422" cy="1044" r="10"/><circle cx="1405" cy="1046" r="10"/><circle cx="1426" cy="1017" r="10"/><circle cx="1396" cy="1032" r="10"/><circle cx="1441" cy="1029" r="10"/><circle cx="1448" cy="1021" r="10"/><circle cx="1417" cy="1042" r="10"/><circle cx="1418" cy="1025" r="10"/><circle cx="1465" cy="1044" r="10"/><circle cx="1436" cy="1043" r="10"/><circle cx="1430" cy="1055" r="10"/><circle cx="1446" cy="1064" r="10"/><circle cx="1458" cy="1023" r="10"/><circle cx="1435" cy="1033" r="10"/><circle cx="1452" cy="1007" r="10"/><circle cx="1424" cy="1057" r="10"/><circle cx="1403" cy="1041" r="10"/><circle cx="1418" cy="1035" r="10"/><circle cx="1449" cy="1029" r="10"/><circle cx="1427" cy="1050" r="10"/><circle cx="1443" cy="1051" r="10"/><circle cx="1407" cy="1053" r="10"/><circle cx="1444" cy="1033" r="10"/><circle cx="1450" cy="1036" r="10"/><circle cx="1426" cy="1035" r="10"/><circle cx="1406" cy="1045" r="10"/><circle cx="1429" cy="1017" r="10"/><circle cx="1423" cy="1039" r="10"/><circle cx="1400" cy="1029" r="10"/><circle cx="1441" cy="1023" r="10"/><circle cx="1470" cy="1050" r="10"/><circle cx="1436" cy="1022" r="10"/><circle cx="1439" cy="1060" r="10"/><circle cx="1442" cy="1033" r="10"/><circle cx="1417" cy="1053" r="10"/><circle cx="1427" cy="1037" r="10"/><circle cx="1417" cy="1053" r="10"/><circle cx="1430" cy="1028" r="10"/><circle cx="1423" cy="1050" r="10"/><circle cx="1398" cy="1041" r="10"/><circle cx="1406" cy="1052" r="10"/><circle cx="1467" cy="1045" r="10"/><circle cx="1418" cy="1029" r="10"/><circle cx="1477" cy="1036" r="10"/><circle cx="1419" cy="1039" r="10"/><circle cx="1413" cy="1031" r="10"/><circle cx="1403" cy="1041" r="10"/><circle cx="1421" cy="1051" r="10"/><circle cx="1450" cy="1037" r="10"/><circle cx="1423" cy="1039" r="10"/><circle cx="1420" cy="1052" r="10"/><circle cx="1431" cy="1047" r="10"/><circle cx="1458" cy="1046" r="10"/><circle cx="1452" cy="1028" r="10"/><circle cx="1420" cy="1056" r="10"/><circle cx="1451" cy="1020" r="10"/><circle cx="1414" cy="1039" r="10"/></g>
<g fill="#fb8072"><circle cx="1443" cy="1087" r="10"/><circle cx="1434" cy="1077" r="10"/><circle cx="1430" cy="1086" r="10"/><circle cx="1434" cy="1089" r="10"/><circle cx="1435" cy="1075" r="10"/><circle cx="1454" cy="1081" r="10"/><circle cx="1445" cy="1081" r="10"/><circle cx="1451" cy="1088" r="10"/><circle cx="1443" cy="1094" r="10"/><circle cx="1455" cy="1093" r="10"/><circle cx="1451" cy="1083" r="10"/><circle cx="1447" cy="1076" r="10"/><circle cx="1444" cy="1093" r="10"/><circle cx="1448" cy="1089" r="10"/><circle cx="1448" cy="1087" r="10"/><circle cx="1450" cy="1080" r="10"/><circle cx="1449" cy="1079" r="10"/><circle cx="1440" cy="1093" r="10"/><circle cx="1448" cy="1086" r="10"/><circle cx="1445" cy="1093" r="10"/></g>
<g fill="#80b1d3"><circle cx="1423" cy="1066" r="10"/><circle cx="1407" cy="1056" r="10"/><circle cx="1417" cy="1062" r="10"/><circle cx="1418" cy="1064" r="10"/><circle cx="1439" cy="1065" r="10"/><circle cx="1411" cy="1071" r="10"/><circle cx="1406" cy="1071" r="10"/><circle cx="1436" cy="1068" r="10"/><circle cx="1438" cy="1074" r="10"/><circle cx="1436" cy="1071" r="10"/><circle cx="1407" cy="1064" r="10"/><circle cx="1417" cy="1063" r="10"/><circle cx="1442" cy="1062" r="10"/><circle cx="1436" cy="1070" r="10"/><circle cx="1422" cy="1064" r="10"/><circle cx="1443" cy="1066" r="10"/><circle cx="1426" cy="1058" r="10"/><circle cx="1422" cy="1060" r="10"/><circle cx="1425" cy="1053" r="10"/><circle cx="1417" cy="1067" r="10"/><circle cx="1441" cy="1064" r="10"/><circle cx="1430" cy="1054" r="10"/><circle cx="1415" cy="1067" r="10"/><circle cx="1425" cy="1063" r="10"/><circle cx="1403" cy="1062" r="10"/><circle cx="1432" cy="1066" r="10"/><circle cx="1410" cy="1064" r="10"/><circle cx="1418" cy="1068" r="10"/><circle cx="1436" cy="1064" r="10"/><circle cx="1424" cy="1068" r="10"/><circle cx="1443" cy="1059" r="10"/><circle cx="1423" cy="1063" r="10"/><circle cx="1429" cy="1069" r="10"/><circle cx="1453" cy="1065" r="10"/><circle cx="1429" cy="1068" r="10"/><circle cx="1441" cy="1058" r="10"/><circle cx="1419" cy="1066" r="10"/><circle cx="1440" cy="1062" r="10"/><circle cx="1427" cy="1055" r="10"/><circle cx="1419" cy="1066" r="10"/><circle cx="1428" cy="1066" r="10"/><circle cx="1426" cy="1058" r="10"/></g>
<g fill="#bebada"><circle cx="1327" cy="1053" r="10"/><circle cx="1347" cy="998" r="10"/><circle cx="1339" cy="1032" r="10"/><circle cx="1348" cy="992" r="10"/><circle cx="1325" cy="986" r="10"/><circle cx="1347" cy="989" r="10"/><circle cx="1368" cy="1020" r="10"/><circle cx="1341" cy="1058" r="10"/><circle cx="1313" cy="998" r="10"/><circle cx="1324" cy="975" r="10"/><circle cx="1346" cy="1000" r="10"/><circle cx="1338" cy="994" r="10"/><circle cx="1340" cy="987" r="10"/><circle cx="1331" cy="1011" r="10"/><circle cx="1343" cy="1026" r="10"/><circle cx="1372" cy="1041" r="10"/><circle cx="1355" cy="1004" r="10"/><circle cx="1314" cy="1023" r="10"/></g>
<g fill="#d9d9d9"><circle cx="1389" cy="1005" r="10"/><circle cx="1398" cy="1011" r="10"/><circle cx="1421" cy="1031" r="10"/><circle cx="1376" cy="1035" r="10"/><circle cx="1366" cy="1004" r="10"/><circle cx="1348" cy="1008" r="10"/><circle cx="1358" cy="1029" r="10"/><circle cx="1350" cy="992" r="10"/><circle cx="1408" cy="1021" r="10"/><circle cx="1398" cy="1013" r="10"/><circle cx="1366" cy="1007" r="10"/><circle cx="1398" cy="1022" r="10"/><circle cx="1369" cy="1005" r="10"/><circle cx="1369" cy="1004" r="10"/><circle cx="1383" cy="1012" r="10"/><circle cx="1424" cy="1010" r="10"/></g>
<g fill="#fb8072"><circle cx="1260" cy="1048" r="10"/><circle cx="1257" cy="1064" r="10"/><circle cx="1261" cy="1078" r="10"/><circle cx="1267" cy="993" r="10"/><circle cx="1251" cy="994" r="10"/><circle cx="1288" cy="1003" r="10"/><circle cx="1274" cy="1084" r="10"/><circle cx="1287" cy="1018" r="10"/><circle cx="1238" cy="1027" r="10"/><circle cx="1267" cy="1057" r="10"/><circle cx="1261" cy="1048" r="10"/><circle cx="1259" cy="993" r="10"/><circle cx="1236" cy="1087" r="10"/><circle cx="1256" cy="1066" r="10"/><circle cx="1264" cy="1022" r="10"/><circle cx="1259" cy="1036" r="10"/><circle cx="1249" cy="998" r="10"/><circle cx="1258" cy="1093" r="10"/><circle cx="1259" cy="1088" r="10"/><circle cx="1254" cy="998" r="10"/><circle cx="1260" cy="1065" r="10"/><circle cx="1272" cy="1043" r="10"/></g>
<g fill="#fccde5"><circle cx="1322" cy="1074" r="10"/><circle cx="1323" cy="1076" r="10"/><circle cx="1314" cy="1068" r="10"/><circle cx="1303" cy="1072" r="10"/><circle cx="1337" cy="1076" r="10"/><circle cx="1323" cy="1074" r="10"/><circle cx="1311" cy="1075" r="10"/><circle cx="1312" cy="1076" r="10"/><circle cx="1321" cy="1070" r="10"/><circle cx="1303" cy="1069" r="10"/><circle cx="1304" cy="1072" r="10"/><circle cx="1337" cy="1076" r="10"/></g>
<g fill="#fb8072"><circle cx="1270" cy="948" r="10"/><circle cx="1289" cy="941" r="10"/><circle cx="1289" cy="951" r="10"/><circle cx="1249" cy="985" r="10"/><circle cx="1299" cy="1004" r="10"/><circle cx="1299" cy="1024" r="10"/></g>
<g fill="#fb8072"><circle cx="1279" cy="1064" r="10"/><circle cx="1259" cy="1058" r="10"/><circle cx="1269" cy="1014" r="10"/><circle cx="1280" cy="1042" r="10"/><circle cx="1264" cy="1007" r="10"/><circle cx="1268" cy="1010" r="10"/><circle cx="1273" cy="1030" r="10"/><circle cx="1264" cy="1014" r="10"/><circle cx="1272" cy="1001" r="10"/><circle cx="1259" cy="1011" r="10"/><circle cx="1261" cy="1058" r="10"/><circle cx="1275" cy="1013" r="10"/><circle cx="1258" cy="1039" r="10"/><circle cx="1278" cy="1007" r="10"/><circle cx="1265" cy="1011" r="10"/><circle cx="1268" cy="1020" r="10"/><circle cx="1273" cy="1045" r="10"/><circle cx="1272" cy="991" r="10"/><circle cx="1266" cy="1052" r="10"/><circle cx="1265" cy="1011" r="10"/><circle cx="1281" cy="999" r="10"/><circle cx="1267" cy="1013" r="10"/><circle cx="1279" cy="1023" r="10"/><circle cx="1267" cy="1000" r="10"/><circle cx="1263" cy="1027" r="10"/><circle cx="1260" cy="1039" r="10"/><circle cx="1276" cy="1033" r="10"/><circle cx="1270" cy="1030" r="10"/><circle cx="1272" cy="993" r="10"/><circle cx="1281" cy="1032" r="10"/><circle cx="1264" cy="1007" r="10"/><circle cx="1269" cy="1016" r="10"/><circle cx="1257" cy="1050" r="10"/><circle cx="1278" cy="998" r="10"/><circle cx="1260" cy="1046" r="10"/><circle cx="1261" cy="1048" r="10"/><circle cx="1259" cy="1024" r="10"/><circle cx="1262" cy="1057" r="10"/><circle cx="1254" cy="1059" r="10"/><circle cx="1265" cy="1036" r="10"/><circle cx="1264" cy="1018" r="10"/><circle cx="1263" cy="1057" r="10"/><circle cx="1263" cy="1018" r="10"/><circle cx="1269" cy="1030" r="10"/><circle cx="1272" cy="1008" r="10"/><circle cx="1281" cy="997" r="10"/><circle cx="1267" cy="1050" r="10"/><circle cx="1256" cy="1044" r="10"/><circle cx="1277" cy="1005" r="10"/><circle cx="1276" cy="1020" r="10"/><circle cx="1273" cy="1042" r="10"/><circle cx="1268" cy="1014" r="10"/><circle cx="1260" cy="1022" r="10"/><circle cx="1263" cy="1002" r="10"/><circle cx="1257" cy="1033" r="10"/><circle cx="1273" cy="1052" r="10"/><circle cx="1270" cy="1004" r="10"/><circle cx="1271" cy="1007" r="10"/><circle cx="1278" cy="1012" r="10"/><circle cx="1271" cy="1028" r="10"/><circle cx="1260" cy="990" r="10"/><circle cx="1268" cy="1059" r="10"/><circle cx="1263" cy="1052" r="10"/><circle cx="1264" cy="1045" r="10"/><circle cx="1283" cy="1025" r="10"/><circle cx="1267" cy="1022" r="10"/><circle cx="1278" cy="1009" r="10"/><circle cx="1279" cy="1037" r="10"/><circle cx="1262" cy="1056" r="10"/><circle cx="1259" cy="1050" r="10"/><circle cx="1265" cy="1024" r="10"/><circle cx="1271" cy="994" r="10"/><circle cx="1267" cy="1044" r="10"/><circle cx="1264" cy="1006" r="10"/><circle cx="1257" cy="1010" r="10"/></g>
<g fill="#fb8072"><circle cx="1253" cy="1090" r="10"/><circle cx="1258" cy="1110" r="10"/><circle cx="1268" cy="1148" r="10"/><circle cx="1252" cy="1125" r="10"/><circle cx="1258" cy="1115" r="10"/><circle cx="1256" cy="1085" r="10"/><circle cx="1275" cy="1112" r="10"/><circle cx="1273" cy="1100" r="10"/><circle cx="1280" cy="1109" r="10"/><circle cx="1244" cy="1106" r="10"/><circle cx="1268" cy="1132" r="10"/><circle cx="1236" cy="1114" r="10"/><circle cx="1249" cy="1109" r="10"/><circle cx="1268" cy="1114" r="10"/><circle cx="1268" cy="1130" r="10"/><circle cx="1279" cy="1112" r="10"/><circle cx="1239" cy="1135" r="10"/><circle cx="1265" cy="1147" r="10"/><circle cx="1280" cy="1126" r="10"/><circle cx="1281" cy="1106" r="10"/><circle cx="1262" cy="1127" r="10"/><circle cx="1266" cy="1102" r="10"/><circle cx="1276" cy="1107" r="10"/><circle cx="1282" cy="1132" r="10"/><circle cx="1260" cy="1088" r="10"/><circle cx="1276" cy="1116" r="10"/><circle cx="1275" cy="1126" r="10"/><circle cx="1250" cy="1135" r="10"/><circle cx="1250" cy="1120" r="10"/><circle cx="1243" cy="1117" r="10"/></g>
<g fill="#fb8072"><circle cx="1224" cy="1006" r="10"/><circle cx="1215" cy="1010" r="10"/><circle cx="1210" cy="1009" r="10"/><circle cx="1205" cy="1012" r="10"/><circle cx="1222" cy="1007" r="10"/><circle cx="1213" cy="996" r="10"/><circle cx="1212" cy="1010" r="10"/><circle cx="1213" cy="999" r="10"/><circle cx="1224" cy="1012" r="10"/><circle cx="1216" cy="1013" r="10"/><circle cx="1226" cy="1000" r="10"/><circle cx="1222" cy="1001" r="10"/><circle cx="1212" cy="1012" r="10"/><circle cx="1207" cy="1011" r="10"/><circle cx="1215" cy="1009" r="10"/></g>
<g fill="#80b1d3"><circle cx="1179" cy="1046" r="10"/><circle cx="1256" cy="1068" r="10"/><circle cx="1187" cy="1087" r="10"/><circle cx="1167" cy="1057" r="10"/><circle cx="1193" cy="1018" r="10"/><circle cx="1210" cy="1074" r="10"/><circle cx="1206" cy="1042" r="10"/><circle cx="1175" cy="1062" r="10"/><circle cx="1184" cy="1063" r="10"/><circle cx="1180" cy="1055" r="10"/><circle cx="1156" cy="1074" r="10"/><circle cx="1211" cy="1064" r="10"/><circle cx="1152" cy="1047" r="10"/><circle cx="1191" cy="1084" r="10"/><circle cx="1207" cy="1052" r="10"/><circle cx="1239" cy="1003" r="10"/><circle cx="1192" cy="1061" r="10"/><circle cx="1187" cy="1065" r="10"/><circle cx="1153" cy="1074" r="10"/><circle cx="1211" cy="1028" r="10"/><circle cx="1214" cy="1043" r="10"/><circle cx="1148" cy="1067" r="10"/><circle cx="1184" cy="1070" r="10"/><circle cx="1192" cy="1034" r="10"/><circle cx="1212" cy="1059" r="10"/><circle cx="1189" cy="1053" r="10"/><circle cx="1132" cy="1026" r="10"/><circle cx="1198" cy="1051" r="10"/><circle cx="1208" cy="1050" r="10"/><circle cx="1143" cy="1092" r="10"/><circle cx="1162" cy="1052" r="10"/><circle cx="1190" cy="1054" r="10"/><circle cx="1209" cy="1037" r="10"/><circle cx="1199" cy="1026" r="10"/><circle cx="1179" cy="1030" r="10"/><circle cx="1114" cy="1042" r="10"/><circle cx="1175" cy="1031" r="10"/><circle cx="1226" cy="1058" r="10"/><circle cx="1187" cy="1064" r="10"/><circle cx="1183" cy="1037" r="10"/><circle cx="1161" cy="1061" r="10"/><circle cx="1178" cy="1054" r="10"/><circle cx="1211" cy="1044" r="10"/><circle cx="1231" cy="1040" r="10"/><circle cx="1207" cy="1034" r="10"/><circle cx="1187" cy="1060" r="10"/><circle cx="1190" cy="1027" r="10"/><circle cx="1182" cy="1027" r="10"/><circle cx="1198" cy="1060" r="10"/><circle cx="1199" cy="1038" r="10"/><circle cx="1220" cy="997" r="10"/><circle cx="1227" cy="1069" r="10"/><circle cx="1226" cy="1049" r="10"/><circle cx="1205" cy="1021" r="10"/><circle cx="1178" cy="1054" r="10"/><circle cx="1175" cy="1031" r="10"/><circle cx="1257" cy="1054" r="10"/><circle cx="1188" cy="1024" r="10"/><circle cx="1162" cy="1027" r="10"/><circle cx="1222" cy="1036" r="10"/><circle cx="1155" cy="1079" r="10"/><circle cx="1154" cy="1046" r="10"/><circle cx="1208" cy="1047" r="10"/><circle cx="1187" cy="1070" r="10"/><circle cx="1197" cy="1033" r="10"/><circle cx="1159" cy="1050" r="10"/><circle cx="1189" cy="1053" r="10"/><circle cx="1204" cy="1056" r="10"/><circle cx="1195" cy="1058" r="10"/><circle cx="1175" cy="1053" r="10"/><circle cx="1164" cy="1022" r="10"/><circle cx="1192" cy="1055" r="10"/><circle cx="1222" cy="1053" r="10"/><circle cx="1194" cy="1064" r="10"/><circle cx="1207" cy="1027" r="10"/><circle cx="1169" cy="1073" r="10"/><circle cx="1208" cy="1020" r="10"/><circle cx="1193" cy="1034" r="10"/><circle cx="1202" cy="1058" r="10"/><circle cx="1176" cy="1069" r="10"/><circle cx="1202" cy="1060" r="10"/><circle cx="1196" cy="1070" r="10"/><circle cx="1139" cy="1020" r="10"/><circle cx="1193" cy="1034" r="10"/><circle cx="1229" cy="1036" r="10"/><circle cx="1182" cy="1061" r="10"/><circle cx="1226" cy="1033" r="10"/><circle cx="1185" cy="1057" r="10"/><circle cx="1226" cy="1045" r="10"/><circle cx="1172" cy="1037" r="10"/><circle cx="1194" cy="1068" r="10"/><circle cx="1221" cy="1033" r="10"/><circle cx="1176" cy="1076" r="10"/><circle cx="1196" cy="1050" r="10"/><circle cx="1187" cy="1037" r="10"/><circle cx="1190" cy="1040" r="10"/><circle cx="1215" cy="1098" r="10"/><circle cx="1195" cy="1033" r="10"/><circle cx="1220" cy="1055" r="10"/><circle cx="1209" cy="1063" r="10"/><circle cx="1202" cy="1016" r="10"/><circle cx="1198" cy="1029" r="10"/><circle cx="1205" cy="1048" r="10"/><circle cx="1188" cy="1039" r="10"/><circle cx="1232" cy="1051" r="10"/><circle cx="1180" cy="1060" r="10"/><circle cx="1202" cy="1047" r="10"/><circle cx="1168" cy="1042" r="10"/><circle cx="1190" cy="1055" r="10"/><circle cx="1166" cy="1049" r="10"/><circle cx="1210" cy="1057" r="10"/><circle cx="1210" cy="1028" r="10"/><circle cx="1218" cy="1085" r="10"/><circle cx="1195" cy="1077" r="10"/><circle cx="1191" cy="1051" r="10"/><circle cx="1208" cy="1025" r="10"/><circle cx="1225" cy="1036" r="10"/><circle cx="1206" cy="1042" r="10"/><circle cx="1168" cy="1046" r="10"/><circle cx="1142" cy="1080" r="10"/><circle cx="1196" cy="1050" r="10"/><circle cx="1217" cy="1023" r="10"/><circle cx="1178" cy="1045" r="10"/><circle cx="1117" cy="1052" r="10"/><circle cx="1220" cy="1035" r="10"/><circle cx="1228" cy="1061" r="10"/><circle cx="1210" cy="1047" r="10"/><circle cx="1244" cy="1010" r="10"/><circle cx="1171" cy="1043" r="10"/><circle cx="1226" cy="1063" r="10"/><circle cx="1203" cy="1060" r="10"/><circle cx="1215" cy="1029" r="10"/><circle cx="1232" cy="1051" r="10"/><circle cx="1208" cy="1088" r="10"/><circle cx="1237" cy="1031" r="10"/><circle cx="1207" cy="1047" r="10"/><circle cx="1216" cy="1060" r="10"/><circle cx="1168" cy="1050" r="10"/><circle cx="1185" cy="1064" r="10"/><circle cx="1200" cy="1060" r="10"/><circle cx="1195" cy="1053" r="10"/><circle cx="1152" cy="1046" r="10"/><circle cx="1194" cy="1048" r="10"/><circle cx="1200" cy="1074" r="10"/><circle cx="1216" cy="1062" r="10"/><circle cx="1160" cy="1069" r="10"/><circle cx="1182" cy="1058" r="10"/><circle cx="1176" cy="1049" r="10"/><circle cx="1127" cy="1077" r="10"/><circle cx="1185" cy="1073" r="10"/><circle cx="1186" cy="1047" r="10"/><circle cx="1162" cy="1070" r="10"/><circle cx="1201" cy="1033" r="10"/><circle cx="1133" cy="1056" r="10"/><circle cx="1113" cy="1020" r="10"/><circle cx="1163" cy="1038" r="10"/><circle cx="1198" cy="1041" r="10"/><circle cx="1173" cy="1026" r="10"/><circle cx="1191" cy="1035" r="10"/><circle cx="1152" cy="1039" r="10"/><circle cx="1154" cy="1092" r="10"/><circle cx="1163" cy="1049" r="10"/><circle cx="1186" cy="1056" r="10"/><circle cx="1184" cy="1062" r="10"/><circle cx="1242" cy="1030" r="10"/><circle cx="1223" cy="1055" r="10"/><circle cx="1223" cy="1052" r="10"/><circle cx="1169" cy="1045" r="10"/><circle cx="1189" cy="1049" r="10"/><circle cx="1152" cy="1079" r="10"/><circle cx="1200" cy="1057" r="10"/><circle cx="1198" cy="1074" r="10"/><circle cx="1184" cy="1068" r="10"/><circle cx="1176" cy="1065" r="10"/><circle cx="1189" cy="1032" r="10"/><circle cx="1222" cy="1046" r="10"/><circle cx="1153" cy="1027" r="10"/><circle cx="1136" cy="1093" r="10"/><circle cx="1176" cy="1052" r="10"/><circle cx="1181" cy="1050" r="10"/><circle cx="1138" cy="1059" r="10"/><circle cx="1164" cy="1043" r="10"/><circle cx="1160" cy="1054" r="10"/><circle cx="1139" cy="1050" r="10"/><circle cx="1186" cy="1083" r="10"/><circle cx="1158" cy="1046" r="10"/><circle cx="1154" cy="1078" r="10"/><circle cx="1146" cy="1038" r="10"/><circle cx="1173" cy="1023" r="10"/><circle cx="1206" cy="1066" r="10"/><circle cx="1197" cy="1044" r="10"/><circle cx="1228" cy="1100" r="10"/><circle cx="1167" cy="1050" r="10"/><circle cx="1172" cy="1059" r="10"/><circle cx="1228" cy="1021" r="10"/><circle cx="1124" cy="1020" r="10"/><circle cx="1170" cy="1046" r="10"/><circle cx="1210" cy="1055" r="10"/><circle cx="1152" cy="1032" r="10"/><circle cx="1208" cy="1058" r="10"/><circle cx="1177" cy="1048" r="10"/><circle cx="1172" cy="1032" r="10"/><circle cx="1187" cy="1056" r="10"/><circle cx="1184" cy="1043" r="10"/><circle cx="1139" cy="1066" r="10"/><circle cx="1223" cy="1073" r="10"/><circle cx="1159" cy="1045" r="10"/><circle cx="1190" cy="1082" r="10"/><circle cx="1192" cy="1040" r="10"/><circle cx="1184" cy="1052" r="10"/><circle cx="1209" cy="1066" r="10"/><circle cx="1183" cy="1057" r="10"/><circle cx="1154" cy="1035" r="10"/><circle cx="1175" cy="1059" r="10"/><circle cx="1194" cy="1079" r="10"/><circle cx="1169" cy="1028" r="10"/><circle cx="1188" cy="1031" r="10"/><circle cx="1219" cy="1064" r="10"/><circle cx="1183" cy="1068" r="10"/><circle cx="1191" cy="1048" r="10"/><circle cx="1140" cy="1060" r="10"/><circle cx="1196" cy="1070" r="10"/><circle cx="1178" cy="1070" r="10"/><circle cx="1205" cy="1049" r="10"/><circle cx="1207" cy="1024" r="10"/><circle cx="1212" cy="1054" r="10"/><circle cx="1176" cy="1040" r="10"/><circle cx="1126" cy="1050" r="10"/><circle cx="1194" cy="1064" r="10"/><circle cx="1183" cy="1068" r="10"/><circle cx="1166" cy="1047" r="10"/><circle cx="1155" cy="1043" r="10"/><circle cx="1180" cy="1045" r="10"/><circle cx="1160" cy="1032" r="10"/><circle cx="1182" cy="1026" r="10"/><circle cx="1189" cy="1074" r="10"/><circle cx="1182" cy="1063" r="10"/><circle cx="1212" cy="1044" r="10"/><circle cx="1238" cy="1058" r="10"/><circle cx="1200" cy="1038" r="10"/><circle cx="1174" cy="1029" r="10"/><circle cx="1184" cy="1030" r="10"/><circle cx="1168" cy="1066" r="10"/><circle cx="1213" cy="1050" r="10"/><circle cx="1230" cy="1066" r="10"/><circle cx="1203" cy="1039" r="10"/><circle cx="1203" cy="1035" r="10"/><circle cx="1201" cy="1068" r="10"/><circle cx="1180" cy="1046" r="10"/><circle cx="1218" cy="1035" r="10"/><circle cx="1210" cy="1055" r="10"/><circle cx="1208" cy="1066" r="10"/><circle cx="1177" cy="1039" r="10"/><circle cx="1174" cy="1055" r="10"/><circle cx="1152" cy="1078" r="10"/><circle cx="1151" cy="1050" r="10"/><circle cx="1215" cy="1064" r="10"/><circle cx="1132" cy="1024" r="10"/><circle cx="1239" cy="1095" r="10"/><circle cx="1174" cy="1040" r="10"/><circle cx="1231" cy="1073" r="10"/><circle cx="1222" cy="1067" r="10"/><circle cx="1186" cy="1064" r="10"/><circle cx="1186" cy="1049" r="10"/><circle cx="1220" cy="1066" r="10"/><circle cx="1222" cy="1035" r="10"/><circle cx="1191" cy="1019" r="10"/><circle cx="1203" cy="1064" r="10"/><circle cx="1164" cy="1040" r="10"/><circle cx="1168" cy="1099" r="10"/><circle cx="1194" cy="1042" r="10"/><circle cx="1201" cy="1040" r="10"/><circle cx="1195" cy="1058" r="10"/><circle cx="1211" cy="1036" r="10"/><circle cx="1175" cy="1077" r="10"/><circle cx="1213" cy="1074" r="10"/><circle cx="1179" cy="1058" r="10"/><circle cx="1186" cy="1069" r="10"/><circle cx="1163" cy="1067" r="10"/><circle cx="1194" cy="1030" r="10"/><circle cx="1200" cy="1028" r="10"/><circle cx="1197" cy="1056" r="10"/><circle cx="1173" cy="1060" r="10"/><circle cx="1174" cy="1045" r="10"/><circle cx="1183" cy="1048" r="10"/><circle cx="1175" cy="1045" r="10"/><circle cx="1168" cy="1070" r="10"/><circle cx="1170" cy="1056" r="10"/><circle cx="1222" cy="1071" r="10"/><circle cx="1228" cy="1028" r="10"/><circle cx="1149" cy="1063" r="10"/><circle cx="1193" cy="1054" r="10"/><circle cx="1204" cy="1048" r="10"/><circle cx="1262" cy="1060" r="10"/><circle cx="1217" cy="1061" r="10"/><circle cx="1179" cy="1033" r="10"/><circle cx="1199" cy="1062" r="10"/><circle cx="1184" cy="1093" r="10"/><circle cx="1160" cy="1046" r="10"/><circle cx="1215" cy="1056" r="10"/></g>
<g fill="#80b1d3"><circle cx="1097" cy="1071" r="10"/><circle cx="1106" cy="1072" r="10"/><circle cx="1111" cy="1095" r="10"/><circle cx="1137" cy="1109" r="10"/><circle cx="1115" cy="1117" r="10"/><circle cx="1102" cy="1124" r="10"/><circle cx="1102" cy="1178" r="10"/><circle cx="1102" cy="1179" r="10"/></g>
<g fill="#fdb462"><circle cx="1484" cy="1090" r="10"/><circle cx="1483" cy="1109" r="10"/><circle cx="1485" cy="1100" r="10"/><circle cx="1478" cy="1106" r="10"/><circle cx="1486" cy="1107" r="10"/><circle cx="1482" cy="1115" r="10"/><circle cx="1470" cy="1104" r="10"/><circle cx="1486" cy="1112" r="10"/><circle cx="1482" cy="1108" r="10"/><circle cx="1483" cy="1114" r="10"/><circle cx="1480" cy="1109" r="10"/><circle cx="1487" cy="1090" r="10"/><circle cx="1494" cy="1099" r="10"/><circle cx="1476" cy="1098" r="10"/><circle cx="1491" cy="1100" r="10"/><circle cx="1491" cy="1096" r="10"/><circle cx="1487" cy="1088" r="10"/><circle cx="1482" cy="1116" r="10"/><circle cx="1480" cy="1106" r="10"/><circle cx="1483" cy="1108" r="10"/><circle cx="1482" cy="1095" r="10"/><circle cx="1482" cy="1101" r="10"/><circle cx="1476" cy="1102" r="10"/><circle cx="1477" cy="1100" r="10"/><circle cx="1487" cy="1106" r="10"/><circle cx="1483" cy="1108" r="10"/><circle cx="1498" cy="1107" r="10"/><circle cx="1485" cy="1103" r="10"/><circle cx="1487" cy="1110" r="10"/><circle cx="1492" cy="1108" r="10"/><circle cx="1480" cy="1103" r="10"/><circle cx="1478" cy="1116" r="10"/><circle cx="1479" cy="1089" r="10"/><circle cx="1483" cy="1096" r="10"/><circle cx="1486" cy="1105" r="10"/><circle cx="1478" cy="1090" r="10"/><circle cx="1482" cy="1092" r="10"/><circle cx="1483" cy="1106" r="10"/><circle cx="1481" cy="1105" r="10"/><circle cx="1481" cy="1119" r="10"/><circle cx="1493" cy="1093" r="10"/><circle cx="1489" cy="1102" r="10"/></g>
<g fill="#80b1d3"><circle cx="1457" cy="1142" r="10"/><circle cx="1453" cy="1149" r="10"/><circle cx="1459" cy="1148" r="10"/><circle cx="1442" cy="1157" r="10"/><circle cx="1456" cy="1143" r="10"/><circle cx="1448" cy="1152" r="10"/><circle cx="1452" cy="1154" r="10"/><circle cx="1445" cy="1152" r="10"/><circle cx="1462" cy="1153" r="10"/><circle cx="1449" cy="1144" r="10"/><circle cx="1446" cy="1150" r="10"/><circle cx="1454" cy="1157" r="10"/><circle cx="1454" cy="1158" r="10"/><circle cx="1454" cy="1156" r="10"/><circle cx="1467" cy="1152" r="10"/><circle cx="1445" cy="1152" r="10"/><circle cx="1458" cy="1148" r="10"/><circle cx="1455" cy="1154" r="10"/></g>
<g fill="#fb8072"><circle cx="1480" cy="1124" r="10"/><circle cx="1477" cy="1128" r="10"/><circle cx="1465" cy="1129" r="10"/><circle cx="1467" cy="1123" r="10"/><circle cx="1462" cy="1131" r="10"/><circle cx="1460" cy="1134" r="10"/><circle cx="1475" cy="1122" r="10"/><circle cx="1469" cy="1123" r="10"/><circle cx="1458" cy="1134" r="10"/><circle cx="1465" cy="1150" r="10"/><circle cx="1472" cy="1136" r="10"/><circle cx="1462" cy="1156" r="10"/><circle cx="1457" cy="1123" r="10"/><circle cx="1473" cy="1141" r="10"/><circle cx="1472" cy="1131" r="10"/><circle cx="1473" cy="1153" r="10"/><circle cx="1452" cy="1143" r="10"/><circle cx="1475" cy="1118" r="10"/><circle cx="1460" cy="1140" r="10"/><circle cx="1472" cy="1134" r="10"/><circle cx="1454" cy="1138" r="10"/><circle cx="1466" cy="1129" r="10"/><circle cx="1468" cy="1125" r="10"/><circle cx="1472" cy="1130" r="10"/><circle cx="1480" cy="1138" r="10"/><circle cx="1463" cy="1109" r="10"/><circle cx="1465" cy="1134" r="10"/><circle cx="1479" cy="1140" r="10"/><circle cx="1468" cy="1120" r="10"/><circle cx="1469" cy="1120" r="10"/><circle cx="1456" cy="1142" r="10"/><circle cx="1464" cy="1114" r="10"/><circle cx="1476" cy="1154" r="10"/><circle cx="1471" cy="1109" r="10"/><circle cx="1461" cy="1119" r="10"/><circle cx="1474" cy="1133" r="10"/></g>
<g fill="#fb8072"><circle cx="1523" cy="1103" r="10"/><circle cx="1533" cy="1157" r="10"/><circle cx="1550" cy="1107" r="10"/><circle cx="1525" cy="1123" r="10"/><circle cx="1531" cy="1128" r="10"/><circle cx="1582" cy="1139" r="10"/><circle cx="1546" cy="1145" r="10"/><circle cx="1559" cy="1117" r="10"/><circle cx="1546" cy="1122" r="10"/><circle cx="1554" cy="1115" r="10"/><circle cx="1519" cy="1156" r="10"/><circle cx="1492" cy="1113" r="10"/><circle cx="1559" cy="1136" r="10"/><circle cx="1584" cy="1164" r="10"/><circle cx="1551" cy="1131" r="10"/><circle cx="1536" cy="1107" r="10"/><circle cx="1535" cy="1122" r="10"/><circle cx="1546" cy="1126" r="10"/><circle cx="1584" cy="1146" r="10"/><circle cx="1549" cy="1131" r="10"/><circle cx="1554" cy="1126" r="10"/><circle cx="1535" cy="1144" r="10"/><circle cx="1560" cy="1100" r="10"/><circle cx="1532" cy="1107" r="10"/><circle cx="1575" cy="1138" r="10"/><circle cx="1494" cy="1093" r="10"/><circle cx="1504" cy="1121" r="10"/><circle cx="1514" cy="1151" r="10"/><circle cx="1544" cy="1142" r="10"/><circle cx="1543" cy="1109" r="10"/><circle cx="1570" cy="1124" r="10"/><circle cx="1545" cy="1130" r="10"/><circle cx="1534" cy="1131" r="10"/><circle cx="1565" cy="1106" r="10"/><circle cx="1545" cy="1101" r="10"/><circle cx="1536" cy="1169" r="10"/><circle cx="1532" cy="1147" r="10"/><circle cx="1538" cy="1109" r="10"/><circle cx="1548" cy="1103" r="10"/><circle cx="1553" cy="1121" r="10"/><circle cx="1573" cy="1141" r="10"/><circle cx="1576" cy="1134" r="10"/><circle cx="1554" cy="1106" r="10"/><circle cx="1539" cy="1130" r="10"/><circle cx="1539" cy="1156" r="10"/><circle cx="1552" cy="1116" r="10"/><circle cx="1585" cy="1110" r="10"/><circle cx="1560" cy="1066" r="10"/><circle cx="1541" cy="1120" r="10"/><circle cx="1539" cy="1138" r="10"/><circle cx="1567" cy="1126" r="10"/><circle cx="1541" cy="1137" r="10"/><circle cx="1550" cy="1114" r="10"/><circle cx="1562" cy="1110" r="10"/><circle cx="1550" cy="1121" r="10"/><circle cx="1524" cy="1114" r="10"/><circle cx="1564" cy="1083" r="10"/><circle cx="1537" cy="1105" r="10"/><circle cx="1536" cy="1145" r="10"/><circle cx="1564" cy="1145" r="10"/><circle cx="1566" cy="1127" r="10"/><circle cx="1552" cy="1105" r="10"/><circle cx="1550" cy="1124" r="10"/><circle cx="1537" cy="1138" r="10"/><circle cx="1565" cy="1142" r="10"/><circle cx="1522" cy="1157" r="10"/><circle cx="1504" cy="1112" r="10"/><circle cx="1500" cy="1098" r="10"/><circle cx="1558" cy="1127" r="10"/><circle cx="1553" cy="1092" r="10"/><circle cx="1584" cy="1126" r="10"/><circle cx="1541" cy="1130" r="10"/><circle cx="1605" cy="1121" r="10"/><circle cx="1537" cy="1122" r="10"/><circle cx="1547" cy="1127" r="10"/><circle cx="1551" cy="1126" r="10"/><circle cx="1555" cy="1095" r="10"/><circle cx="1519" cy="1117" r="10"/><circle cx="1573" cy="1124" r="10"/><circle cx="1545" cy="1149" r="10"/><circle cx="1547" cy="1114" r="10"/><circle cx="1596" cy="1157" r="10"/><circle cx="1565" cy="1129" r="10"/><circle cx="1558" cy="1126" r="10"/><circle cx="1551" cy="1134" r="10"/><circle cx="1551" cy="1101" r="10"/><circle cx="1544" cy="1116" r="10"/><circle cx="1526" cy="1125" r="10"/><circle cx="1542" cy="1131" r="10"/><circle cx="1526" cy="1124" r="10"/><circle cx="1529" cy="1118" r="10"/><circle cx="1536" cy="1143" r="10"/><circle cx="1516" cy="1116" r="10"/><circle cx="1568" cy="1137" r="10"/><circle cx="1538" cy="1149" r="10"/><circle cx="1537" cy="1111" r="10"/><circle cx="1511" cy="1145" r="10"/><circle cx="1510" cy="1152" r="10"/><circle cx="1562" cy="1127" r="10"/><circle cx="1524" cy="1152" r="10"/><circle cx="1512" cy="1119" r="10"/><circle cx="1524" cy="1120" r="10"/><circle cx="1522" cy="1157" r="10"/><circle cx="1532" cy="1138" r="10"/><circle cx="1562" cy="1134" r="10"/><circle cx="1540" cy="1123" r="10"/><circle cx="1556" cy="1131" r="10"/><circle cx="1543" cy="1116" r="10"/><circle cx="1554" cy="1130" r="10"/><circle cx="1576" cy="1143" r="10"/><circle cx="1553" cy="1110" r="10"/><circle cx="1516" cy="1101" r="10"/><circle cx="1522" cy="1153" r="10"/><circle cx="1560" cy="1118" r="10"/><circle cx="1514" cy="1127" r="10"/><circle cx="1556" cy="1106" r="10"/><circle cx="1547" cy="1097" r="10"/><circle cx="1559" cy="1139" r="10"/><circle cx="1525" cy="1140" r="10"/><circle cx="1540" cy="1124" r="10"/><circle cx="1530" cy="1131" r="10"/><circle cx="1541" cy="1121" r="10"/><circle cx="1528" cy="1106" r="10"/><circle cx="1538" cy="1144" r="10"/><circle cx="1525" cy="1130" r="10"/></g>
<g fill="#bc80bd"><circle cx="1594" cy="1128" r="10"/><circle cx="1602" cy="1120" r="10"/><circle cx="1614" cy="1123" r="10"/><circle cx="1577" cy="1124" r="10"/><circle cx="1571" cy="1130" r="10"/><circle cx="1573" cy="1124" r="10"/><circle cx="1587" cy="1124" r="10"/><circle cx="1589" cy="1127" r="10"/><circle cx="1571" cy="1124" r="10"/><circle cx="1608" cy="1121" r="10"/><circle cx="1569" cy="1131" r="10"/><circle cx="1539" cy="1124" r="10"/><circle cx="1572" cy="1115" r="10"/><circle cx="1548" cy="1120" r="10"/><circle cx="1562" cy="1123" r="10"/><circle cx="1555" cy="1130" r="10"/><circle cx="1578" cy="1119" r="10"/><circle cx="1593" cy="1125" r="10"/><circle cx="1606" cy="1120" r="10"/><circle cx="1553" cy="1122" r="10"/><circle cx="1605" cy="1127" r="10"/><circle cx="1571" cy="1125" r="10"/><circle cx="1583" cy="1122" r="10"/><circle cx="1545" cy="1125" r="10"/><circle cx="1556" cy="1121" r="10"/><circle cx="1574" cy="1118" r="10"/><circle cx="1569" cy="1117" r="10"/><circle cx="1613" cy="1120" r="10"/><circle cx="1558" cy="1125" r="10"/><circle cx="1582" cy="1126" r="10"/><circle cx="1589" cy="1124" r="10"/><circle cx="1552" cy="1129" r="10"/><circle cx="1600" cy="1118" r="10"/><circle cx="1586" cy="1119" r="10"/><circle cx="1601" cy="1125" r="10"/><circle cx="1569" cy="1132" r="10"/><circle cx="1572" cy="1116" r="10"/><circle cx="1580" cy="1112" r="10"/><circle cx="1601" cy="1131" r="10"/><circle cx="1612" cy="1122" r="10"/><circle cx="1552" cy="1119" r="10"/><circle cx="1596" cy="1127" r="10"/><circle cx="1571" cy="1127" r="10"/><circle cx="1589" cy="1121" r="10"/><circle cx="1588" cy="1134" r="10"/><circle cx="1535" cy="1120" r="10"/></g>
<g fill="#bc80bd"><circle cx="1572" cy="1173" r="10"/><circle cx="1552" cy="1207" r="10"/><circle cx="1551" cy="1220" r="10"/><circle cx="1562" cy="1192" r="10"/><circle cx="1540" cy="1189" r="10"/><circle cx="1536" cy="1187" r="10"/><circle cx="1546" cy="1217" r="10"/><circle cx="1578" cy="1231" r="10"/><circle cx="1534" cy="1221" r="10"/><circle cx="1546" cy="1156" r="10"/><circle cx="1561" cy="1208" r="10"/><circle cx="1546" cy="1181" r="10"/><circle cx="1562" cy="1225" r="10"/><circle cx="1546" cy="1185" r="10"/><circle cx="1563" cy="1204" r="10"/><circle cx="1566" cy="1137" r="10"/><circle cx="1584" cy="1252" r="10"/><circle cx="1566" cy="1180" r="10"/><circle cx="1571" cy="1182" r="10"/><circle cx="1578" cy="1210" r="10"/><circle cx="1554" cy="1187" r="10"/><circle cx="1554" cy="1224" r="10"/><circle cx="1561" cy="1248" r="10"/><circle cx="1547" cy="1182" r="10"/><circle cx="1569" cy="1182" r="10"/><circle cx="1568" cy="1190" r="10"/><circle cx="1555" cy="1208" r="10"/><circle cx="1576" cy="1157" r="10"/><circle cx="1541" cy="1192" r="10"/><circle cx="1582" cy="1179" r="10"/><circle cx="1544" cy="1184" r="10"/><circle cx="1578" cy="1184" r="10"/><circle cx="1572" cy="1183" r="10"/><circle cx="1564" cy="1195" r="10"/><circle cx="1555" cy="1209" r="10"/><circle cx="1554" cy="1174" r="10"/><circle cx="1552" cy="1154" r="10"/><circle cx="1571" cy="1203" r="10"/><circle cx="1548" cy="1239" r="10"/><circle cx="1564" cy="1254" r="10"/><circle cx="1566" cy="1228" r="10"/><circle cx="1570" cy="1217" r="10"/><circle cx="1550" cy="1169" r="10"/><circle cx="1573" cy="1179" r="10"/><circle cx="1560" cy="1178" r="10"/><circle cx="1553" cy="1227" r="10"/><circle cx="1572" cy="1222" r="10"/><circle cx="1543" cy="1183" r="10"/><circle cx="1557" cy="1198" r="10"/><circle cx="1544" cy="1200" r="10"/><circle cx="1566" cy="1218" r="10"/><circle cx="1561" cy="1182" r="10"/><circle cx="1571" cy="1242" r="10"/><circle cx="1547" cy="1156" r="10"/><circle cx="1552" cy="1180" r="10"/><circle cx="1552" cy="1163" r="10"/><circle cx="1559" cy="1200" r="10"/><circle cx="1569" cy="1194" r="10"/><circle cx="1534" cy="1221" r="10"/><circle cx="1551" cy="1184" r="10"/><circle cx="1561" cy="1192" r="10"/><circle cx="1577" cy="1186" r="10"/><circle cx="1550" cy="1153" r="10"/><circle cx="1567" cy="1212" r="10"/><circle cx="1560" cy="1221" r="10"/><circle cx="1545" cy="1228" r="10"/><circle cx="1531" cy="1186" r="10"/><circle cx="1599" cy="1139" r="10"/><circle cx="1572" cy="1200" r="10"/><circle cx="1566" cy="1198" r="10"/><circle cx="1536" cy="1199" r="10"/><circle cx="1550" cy="1203" r="10"/><circle cx="1572" cy="1203" r="10"/><circle cx="1554" cy="1151" r="10"/><circle cx="1554" cy="1201" r="10"/><circle cx="1577" cy="1182" r="10"/><circle cx="1539" cy="1184" r="10"/><circle cx="1570" cy="1200" r="10"/><circle cx="1573" cy="1211" r="10"/><circle cx="1540" cy="1218" r="10"/><circle cx="1572" cy="1219" r="10"/><circle cx="1549" cy="1185" r="10"/><circle cx="1558" cy="1229" r="10"/><circle cx="1566" cy="1226" r="10"/><circle cx="1603" cy="1156" r="10"/><circle cx="1570" cy="1226" r="10"/><circle cx="1569" cy="1217" r="10"/><circle cx="1567" cy="1178" r="10"/><circle cx="1556" cy="1203" r="10"/><circle cx="1559" cy="1165" r="10"/><circle cx="1588" cy="1168" r="10"/><circle cx="1557" cy="1194" r="10"/><circle cx="1566" cy="1129" r="10"/><circle cx="1566" cy="1154" r="10"/><circle cx="1544" cy="1208" r="10"/><circle cx="1537" cy="1215" r="10"/><circle cx="1562" cy="1229" r="10"/><circle cx="1568" cy="1195" r="10"/><circle cx="1541" cy="1204" r="10"/><circle cx="1544" cy="1161" r="10"/><circle cx="1575" cy="1233" r="10"/><circle cx="1553" cy="1190" r="10"/><circle cx="1574" cy="1207" r="10"/><circle cx="1551" cy="1175" r="10"/><circle cx="1554" cy="1187" r="10"/><circle cx="1564" cy="1200" r="10"/><circle cx="1538" cy="1221" r="10"/><circle cx="1555" cy="1164" r="10"/><circle cx="1569" cy="1212" r="10"/><circle cx="1573" cy="1198" r="10"/><circle cx="1533" cy="1197" r="10"/><circle cx="1548" cy="1200" r="10"/><circle cx="1559" cy="1224" r="10"/><circle cx="1546" cy="1199" r="10"/><circle cx="1576" cy="1234" r="10"/><circle cx="1560" cy="1213" r="10"/><circle cx="1574" cy="1204" r="10"/><circle cx="1559" cy="1181" r="10"/><circle cx="1573" cy="1212" r="10"/><circle cx="1545" cy="1218" r="10"/><circle cx="1546" cy="1130" r="10"/><circle cx="1546" cy="1207" r="10"/><circle cx="1570" cy="1157" r="10"/><circle cx="1587" cy="1170" r="10"/><circle cx="1549" cy="1145" r="10"/><circle cx="1550" cy="1203" r="10"/><circle cx="1564" cy="1215" r="10"/><circle cx="1531" cy="1169" r="10"/><circle cx="1544" cy="1209" r="10"/><circle cx="1567" cy="1242" r="10"/><circle cx="1532" cy="1225" r="10"/><circle cx="1593" cy="1213" r="10"/><circle cx="1546" cy="1197" r="10"/><circle cx="1542" cy="1185" r="10"/><circle cx="1570" cy="1182" r="10"/></g>
<g fill="#bc80bd"><circle cx="1520" cy="1252" r="10"/><circle cx="1504" cy="1245" r="10"/><circle cx="1514" cy="1252" r="10"/><circle cx="1514" cy="1257" r="10"/><circle cx="1524" cy="1239" r="10"/><circle cx="1515" cy="1227" r="10"/><circle cx="1508" cy="1244" r="10"/><circle cx="1498" cy="1233" r="10"/><circle cx="1503" cy="1227" r="10"/><circle cx="1504" cy="1264" r="10"/><circle cx="1516" cy="1230" r="10"/><circle cx="1507" cy="1236" r="10"/><circle cx="1487" cy="1238" r="10"/><circle cx="1524" cy="1245" r="10"/><circle cx="1503" cy="1243" r="10"/><circle cx="1503" cy="1247" r="10"/><circle cx="1504" cy="1239" r="10"/><circle cx="1521" cy="1236" r="10"/><circle cx="1503" cy="1241" r="10"/><circle cx="1507" cy="1240" r="10"/><circle cx="1515" cy="1255" r="10"/><circle cx="1504" cy="1258" r="10"/><circle cx="1506" cy="1235" r="10"/><circle cx="1520" cy="1231" r="10"/><circle cx="1504" cy="1238" r="10"/><circle cx="1516" cy="1235" r="10"/><circle cx="1508" cy="1266" r="10"/><circle cx="1500" cy="1241" r="10"/><circle cx="1523" cy="1261" r="10"/><circle cx="1502" cy="1224" r="10"/><circle cx="1510" cy="1237" r="10"/><circle cx="1488" cy="1250" r="10"/><circle cx="1490" cy="1233" r="10"/><circle cx="1508" cy="1226" r="10"/><circle cx="1509" cy="1239" r="10"/><circle cx="1507" cy="1237" r="10"/><circle cx="1509" cy="1243" r="10"/><circle cx="1512" cy="1260" r="10"/><circle cx="1496" cy="1251" r="10"/><circle cx="1514" cy="1231" r="10"/><circle cx="1518" cy="1228" r="10"/><circle cx="1516" cy="1235" r="10"/></g>
<g fill="#bc80bd"><circle cx="1630" cy="1283" r="10"/><circle cx="1621" cy="1285" r="10"/><circle cx="1622" cy="1291" r="10"/><circle cx="1632" cy="1261" r="10"/><circle cx="1636" cy="1298" r="10"/><circle cx="1623" cy="1279" r="10"/><circle cx="1618" cy="1281" r="10"/><circle cx="1642" cy="1278" r="10"/><circle cx="1638" cy="1267" r="10"/><circle cx="1637" cy="1263" r="10"/><circle cx="1624" cy="1292" r="10"/><circle cx="1648" cy="1258" r="10"/><circle cx="1628" cy="1282" r="10"/><circle cx="1622" cy="1257" r="10"/><circle cx="1623" cy="1289" r="10"/><circle cx="1625" cy="1249" r="10"/><circle cx="1634" cy="1290" r="10"/><circle cx="1624" cy="1290" r="10"/><circle cx="1628" cy="1275" r="10"/><circle cx="1617" cy="1304" r="10"/><circle cx="1640" cy="1286" r="10"/><circle cx="1622" cy="1250" r="10"/><circle cx="1619" cy="1266" r="10"/><circle cx="1642" cy="1282" r="10"/><circle cx="1633" cy="1278" r="10"/><circle cx="1616" cy="1290" r="10"/><circle cx="1639" cy="1295" r="10"/><circle cx="1636" cy="1282" r="10"/><circle cx="1615" cy="1282" r="10"/><circle cx="1645" cy="1264" r="10"/><circle cx="1622" cy="1272" r="10"/><circle cx="1622" cy="1260" r="10"/><circle cx="1628" cy="1278" r="10"/><circle cx="1620" cy="1288" r="10"/><circle cx="1616" cy="1289" r="10"/><circle cx="1632" cy="1258" r="10"/><circle cx="1632" cy="1297" r="10"/><circle cx="1625" cy="1276" r="10"/><circle cx="1615" cy="1267" r="10"/><circle cx="1617" cy="1258" r="10"/><circle cx="1628" cy="1271" r="10"/><circle cx="1624" cy="1290" r="10"/><circle cx="1611" cy="1252" r="10"/><circle cx="1614" cy="1300" r="10"/><circle cx="1637" cy="1279" r="10"/><circle cx="1637" cy="1275" r="10"/><circle cx="1635" cy="1274" r="10"/><circle cx="1621" cy="1273" r="10"/></g>
<g fill="#bc80bd"><circle cx="1594" cy="1304" r="10"/><circle cx="1579" cy="1288" r="10"/><circle cx="1592" cy="1306" r="10"/><circle cx="1603" cy="1298" r="10"/><circle cx="1588" cy="1302" r="10"/><circle cx="1597" cy="1287" r="10"/><circle cx="1575" cy="1313" r="10"/><circle cx="1581" cy="1293" r="10"/><circle cx="1576" cy="1287" r="10"/><circle cx="1568" cy="1299" r="10"/><circle cx="1587" cy="1303" r="10"/><circle cx="1608" cy="1306" r="10"/><circle cx="1610" cy="1299" r="10"/><circle cx="1595" cy="1293" r="10"/><circle cx="1567" cy="1297" r="10"/></g>
<g fill="#bebada"><circle cx="1616" cy="1102" r="10"/><circle cx="1638" cy="1104" r="10"/><circle cx="1606" cy="1103" r="10"/><circle cx="1624" cy="1113" r="10"/><circle cx="1610" cy="1096" r="10"/><circle cx="1590" cy="1109" r="10"/><circle cx="1607" cy="1107" r="10"/><circle cx="1613" cy="1114" r="10"/><circle cx="1611" cy="1111" r="10"/><circle cx="1631" cy="1104" r="10"/><circle cx="1621" cy="1112" r="10"/><circle cx="1612" cy="1108" r="10"/><circle cx="1609" cy="1110" r="10"/><circle cx="1609" cy="1109" r="10"/><circle cx="1637" cy="1111" r="10"/><circle cx="1630" cy="1096" r="10"/><circle cx="1627" cy="1113" r="10"/><circle cx="1593" cy="1103" r="10"/><circle cx="1636" cy="1103" r="10"/><circle cx="1621" cy="1110" r="10"/><circle cx="1587" cy="1101" r="10"/><circle cx="1617" cy="1120" r="10"/><circle cx="1618" cy="1107" r="10"/><circle cx="1625" cy="1117" r="10"/><circle cx="1619" cy="1112" r="10"/><circle cx="1612" cy="1104" r="10"/><circle cx="1630" cy="1109" r="10"/><circle cx="1634" cy="1113" r="10"/><circle cx="1624" cy="1095" r="10"/><circle cx="1612" cy="1114" r="10"/><circle cx="1598" cy="1105" r="10"/><circle cx="1627" cy="1096" r="10"/><circle cx="1637" cy="1113" r="10"/><circle cx="1621" cy="1111" r="10"/><circle cx="1598" cy="1107" r="10"/><circle cx="1592" cy="1112" r="10"/><circle cx="1602" cy="1105" r="10"/><circle cx="1626" cy="1104" r="10"/><circle cx="1612" cy="1108" r="10"/><circle cx="1621" cy="1103" r="10"/><circle cx="1594" cy="1103" r="10"/><circle cx="1624" cy="1110" r="10"/></g>
<g fill="#bebada"><circle cx="1647" cy="1101" r="10"/><circle cx="1657" cy="1119" r="10"/></g>
<g fill="#b3de69"><circle cx="1621" cy="1188" r="10"/><circle cx="1677" cy="1211" r="10"/><circle cx="1663" cy="1188" r="10"/><circle cx="1679" cy="1185" r="10"/><circle cx="1661" cy="1177" r="10"/><circle cx="1666" cy="1184" r="10"/><circle cx="1655" cy="1169" r="10"/><circle cx="1615" cy="1198" r="10"/><circle cx="1682" cy="1187" r="10"/><circle cx="1666" cy="1165" r="10"/><circle cx="1705" cy="1184" r="10"/><circle cx="1653" cy="1209" r="10"/><circle cx="1608" cy="1207" r="10"/><circle cx="1656" cy="1166" r="10"/><circle cx="1671" cy="1174" r="10"/><circle cx="1690" cy="1161" r="10"/><circle cx="1634" cy="1195" r="10"/><circle cx="1634" cy="1209" r="10"/><circle cx="1627" cy="1208" r="10"/><circle cx="1657" cy="1172" r="10"/><circle cx="1704" cy="1201" r="10"/><circle cx="1647" cy="1181" r="10"/><circle cx="1634" cy="1178" r="10"/><circle cx="1698" cy="1163" r="10"/><circle cx="1681" cy="1168" r="10"/><circle cx="1665" cy="1191" r="10"/><circle cx="1648" cy="1212" r="10"/><circle cx="1636" cy="1187" r="10"/><circle cx="1636" cy="1202" r="10"/><circle cx="1693" cy="1193" r="10"/><circle cx="1680" cy="1214" r="10"/><circle cx="1705" cy="1177" r="10"/><circle cx="1679" cy="1181" r="10"/><circle cx="1645" cy="1173" r="10"/><circle cx="1677" cy="1151" r="10"/><circle cx="1656" cy="1196" r="10"/><circle cx="1655" cy="1203" r="10"/><circle cx="1678" cy="1186" r="10"/><circle cx="1626" cy="1199" r="10"/><circle cx="1669" cy="1202" r="10"/><circle cx="1644" cy="1182" r="10"/><circle cx="1603" cy="1194" r="10"/><circle cx="1678" cy="1189" r="10"/><circle cx="1666" cy="1166" r="10"/><circle cx="1656" cy="1193" r="10"/><circle cx="1674" cy="1173" r="10"/><circle cx="1700" cy="1180" r="10"/><circle cx="1646" cy="1192" r="10"/><circle cx="1654" cy="1192" r="10"/><circle cx="1633" cy="1188" r="10"/><circle cx="1636" cy="1193" r="10"/><circle cx="1637" cy="1194" r="10"/><circle cx="1605" cy="1196" r="10"/><circle cx="1680" cy="1172" r="10"/><circle cx="1710" cy="1201" r="10"/><circle cx="1712" cy="1194" r="10"/><circle cx="1652" cy="1184" r="10"/><circle cx="1645" cy="1173" r="10"/><circle cx="1649" cy="1210" r="10"/><circle cx="1642" cy="1210" r="10"/><circle cx="1668" cy="1170" r="10"/><circle cx="1675" cy="1186" r="10"/><circle cx="1672" cy="1187" r="10"/><circle cx="1711" cy="1187" r="10"/><circle cx="1662" cy="1174" r="10"/><circle cx="1697" cy="1178" r="10"/><circle cx="1645" cy="1186" r="10"/><circle cx="1668" cy="1202" r="10"/><circle cx="1618" cy="1136" r="10"/><circle cx="1679" cy="1156" r="10"/><circle cx="1682" cy="1186" r="10"/><circle cx="1671" cy="1195" r="10"/><circle cx="1649" cy="1181" r="10"/><circle cx="1651" cy="1164" r="10"/><circle cx="1687" cy="1195" r="10"/><circle cx="1646" cy="1166" r="10"/><circle cx="1645" cy="1168" r="10"/><circle cx="1660" cy="1175" r="10"/><circle cx="1705" cy="1200" r="10"/><circle cx="1677" cy="1166" r="10"/><circle cx="1653" cy="1177" r="10"/><circle cx="1670" cy="1169" r="10"/><circle cx="1654" cy="1196" r="10"/><circle cx="1683" cy="1196" r="10"/><circle cx="1688" cy="1163" r="10"/><circle cx="1696" cy="1221" r="10"/><circle cx="1670" cy="1127" r="10"/><circle cx="1645" cy="1209" r="10"/><circle cx="1656" cy="1183" r="10"/><circle cx="1640" cy="1167" r="10"/><circle cx="1670" cy="1196" r="10"/><circle cx="1662" cy="1190" r="10"/><circle cx="1665" cy="1189" r="10"/><circle cx="1641" cy="1179" r="10"/><circle cx="1634" cy="1198" r="10"/><circle cx="1677" cy="1211" r="10"/><circle cx="1692" cy="1161" r="10"/><circle cx="1651" cy="1185" r="10"/><circle cx="1637" cy="1167" r="10"/><circle cx="1671" cy="1193" r="10"/><circle cx="1632" cy="1192" r="10"/><circle cx="1634" cy="1190" r="10"/><circle cx="1620" cy="1189" r="10"/><circle cx="1704" cy="1196" r="10"/><circle cx="1682" cy="1180" r="10"/><circle cx="1682" cy="1186" r="10"/><circle cx="1699" cy="1173" r="10"/><circle cx="1623" cy="1186" r="10"/><circle cx="1634" cy="1176" r="10"/><circle cx="1666" cy="1181" r="10"/><circle cx="1728" cy="1173" r="10"/><circle cx="1652" cy="1197" r="10"/><circle cx="1608" cy="1202" r="10"/><circle cx="1638" cy="1210" r="10"/><circle cx="1666" cy="1212" r="10"/><circle cx="1593" cy="1167" r="10"/><circle cx="1681" cy="1203" r="10"/><circle cx="1714" cy="1199" r="10"/><circle cx="1630" cy="1170" r="10"/><circle cx="1636" cy="1177" r="10"/><circle cx="1650" cy="1188" r="10"/><circle cx="1616" cy="1199" r="10"/><circle cx="1678" cy="1190" r="10"/><circle cx="1658" cy="1224" r="10"/><circle cx="1699" cy="1179" r="10"/><circle cx="1626" cy="1200" r="10"/><circle cx="1672" cy="1182" r="10"/><circle cx="1563" cy="1185" r="10"/><circle cx="1682" cy="1207" r="10"/><circle cx="1659" cy="1205" r="10"/><circle cx="1644" cy="1186" r="10"/><circle cx="1660" cy="1189" r="10"/><circle cx="1634" cy="1202" r="10"/><circle cx="1715" cy="1239" r="10"/><circle cx="1609" cy="1183" r="10"/><circle cx="1647" cy="1175" r="10"/><circle cx="1700" cy="1181" r="10"/><circle cx="1622" cy="1165" r="10"/><circle cx="1634" cy="1189" r="10"/><circle cx="1639" cy="1240" r="10"/><circle cx="1652" cy="1184" r="10"/><circle cx="1664" cy="1208" r="10"/><circle cx="1659" cy="1178" r="10"/><circle cx="1636" cy="1174" r="10"/><circle cx="1640" cy="1173" r="10"/><circle cx="1644" cy="1178" r="10"/><circle cx="1638" cy="1168" r="10"/><circle cx="1639" cy="1234" r="10"/><circle cx="1676" cy="1201" r="10"/><circle cx="1692" cy="1194" r="10"/><circle cx="1703" cy="1192" r="10"/><circle cx="1645" cy="1178" r="10"/><circle cx="1685" cy="1190" r="10"/><circle cx="1626" cy="1202" r="10"/><circle cx="1641" cy="1193" r="10"/><circle cx="1626" cy="1192" r="10"/><circle cx="1622" cy="1181" r="10"/><circle cx="1648" cy="1165" r="10"/><circle cx="1668" cy="1129" r="10"/><circle cx="1686" cy="1179" r="10"/><circle cx="1659" cy="1176" r="10"/><circle cx="1698" cy="1198" r="10"/><circle cx="1654" cy="1165" r="10"/><circle cx="1667" cy="1209" r="10"/><circle cx="1654" cy="1187" r="10"/><circle cx="1654" cy="1165" r="10"/><circle cx="1613" cy="1176" r="10"/><circle cx="1690" cy="1181" r="10"/><circle cx="1669" cy="1175" r="10"/><circle cx="1703" cy="1211" r="10"/><circle cx="1720" cy="1150" r="10"/><circle cx="1637" cy="1213" r="10"/><circle cx="1668" cy="1203" r="10"/><circle cx="1638" cy="1188" r="10"/><circle cx="1667" cy="1185" r="10"/><circle cx="1668" cy="1210" r="10"/><circle cx="1670" cy="1194" r="10"/><circle cx="1699" cy="1206" r="10"/><circle cx="1649" cy="1196" r="10"/><circle cx="1646" cy="1222" r="10"/><circle cx="1630" cy="1189" r="10"/><circle cx="1638" cy="1198" r="10"/><circle cx="1634" cy="1196" r="10"/><circle cx="1656" cy="1171" r="10"/><circle cx="1662" cy="1190" r="10"/><circle cx="1649" cy="1172" r="10"/><circle cx="1671" cy="1192" r="10"/><circle cx="1662" cy="1197" r="10"/><circle cx="1683" cy="1186" r="10"/><circle cx="1684" cy="1176" r="10"/><circle cx="1658" cy="1161" r="10"/><circle cx="1650" cy="1183" r="10"/><circle cx="1613" cy="1164" r="10"/><circle cx="1620" cy="1189" r="10"/><circle cx="1660" cy="1199" r="10"/><circle cx="1653" cy="1201" r="10"/><circle cx="1670" cy="1182" r="10"/><circle cx="1641" cy="1204" r="10"/><circle cx="1705" cy="1168" r="10"/><circle cx="1605" cy="1157" r="10"/><circle cx="1649" cy="1186" r="10"/><circle cx="1644" cy="1236" r="10"/><circle cx="1673" cy="1168" r="10"/><circle cx="1646" cy="1215" r="10"/><circle cx="1646" cy="1222" r="10"/><circle cx="1664" cy="1196" r="10"/><circle cx="1674" cy="1214" r="10"/><circle cx="1701" cy="1204" r="10"/><circle cx="1661" cy="1172" r="10"/><circle cx="1733" cy="1194" r="10"/><circle cx="1667" cy="1206" r="10"/><circle cx="1647" cy="1200" r="10"/><circle cx="1632" cy="1215" r="10"/><circle cx="1644" cy="1244" r="10"/><circle cx="1636" cy="1186" r="10"/><circle cx="1660" cy="1210" r="10"/><circle cx="1673" cy="1184" r="10"/><circle cx="1655" cy="1185" r="10"/><circle cx="1669" cy="1223" r="10"/><circle cx="1666" cy="1208" r="10"/><circle cx="1689" cy="1202" r="10"/><circle cx="1682" cy="1204" r="10"/><circle cx="1629" cy="1191" r="10"/><circle cx="1635" cy="1212" r="10"/><circle cx="1619" cy="1166" r="10"/><circle cx="1662" cy="1159" r="10"/><circle cx="1646" cy="1198" r="10"/><circle cx="1712" cy="1193" r="10"/><circle cx="1695" cy="1207" r="10"/><circle cx="1640" cy="1179" r="10"/><circle cx="1640" cy="1210" r="10"/><circle cx="1642" cy="1169" r="10"/><circle cx="1660" cy="1154" r="10"/><circle cx="1670" cy="1180" r="10"/><circle cx="1644" cy="1216" r="10"/><circle cx="1645" cy="1194" r="10"/><circle cx="1656" cy="1161" r="10"/><circle cx="1709" cy="1196" r="10"/><circle cx="1632" cy="1191" r="10"/><circle cx="1658" cy="1161" r="10"/></g>
<g fill="#b3de69"><circle cx="1464" cy="1195" r="10"/><circle cx="1478" cy="1207" r="10"/><circle cx="1487" cy="1228" r="10"/><circle cx="1375" cy="918" r="10"/></g>
<g fill="#ffed6f"><circle cx="1156" cy="1143" r="10"/><circle cx="1200" cy="1142" r="10"/><circle cx="1224" cy="1154" r="10"/><circle cx="1190" cy="1148" r="10"/><circle cx="1196" cy="1150" r="10"/><circle cx="1235" cy="1151" r="10"/><circle cx="1206" cy="1150" r="10"/><circle cx="1229" cy="1144" r="10"/><circle cx="1232" cy="1131" r="10"/><circle cx="1180" cy="1153" r="10"/><circle cx="1201" cy="1145" r="10"/><circle cx="1227" cy="1159" r="10"/><circle cx="1197" cy="1142" r="10"/><circle cx="1242" cy="1139" r="10"/><circle cx="1220" cy="1151" r="10"/><circle cx="1246" cy="1153" r="10"/><circle cx="1223" cy="1146" r="10"/><circle cx="1244" cy="1144" r="10"/><circle cx="1229" cy="1146" r="10"/><circle cx="1190" cy="1150" r="10"/><circle cx="1199" cy="1151" r="10"/><circle cx="1206" cy="1111" r="10"/><circle cx="1244" cy="1143" r="10"/><circle cx="1240" cy="1132" r="10"/><circle cx="1206" cy="1151" r="10"/><circle cx="1242" cy="1157" r="10"/><circle cx="1190" cy="1148" r="10"/><circle cx="1231" cy="1140" r="10"/><circle cx="1229" cy="1160" r="10"/><circle cx="1232" cy="1152" r="10"/><circle cx="1210" cy="1143" r="10"/><circle cx="1203" cy="1155" r="10"/><circle cx="1220" cy="1161" r="10"/><circle cx="1197" cy="1155" r="10"/><circle cx="1191" cy="1162" r="10"/><circle cx="1208" cy="1164" r="10"/><circle cx="1205" cy="1146" r="10"/><circle cx="1253" cy="1159" r="10"/><circle cx="1194" cy="1125" r="10"/><circle cx="1176" cy="1146" r="10"/><circle cx="1206" cy="1159" r="10"/><circle cx="1217" cy="1156" r="10"/><circle cx="1200" cy="1162" r="10"/><circle cx="1199" cy="1151" r="10"/><circle cx="1222" cy="1151" r="10"/><circle cx="1192" cy="1130" r="10"/><circle cx="1158" cy="1166" r="10"/><circle cx="1215" cy="1155" r="10"/><circle cx="1199" cy="1145" r="10"/><circle cx="1220" cy="1156" r="10"/><circle cx="1216" cy="1135" r="10"/><circle cx="1207" cy="1131" r="10"/><circle cx="1209" cy="1137" r="10"/><circle cx="1208" cy="1137" r="10"/><circle cx="1188" cy="1151" r="10"/><circle cx="1241" cy="1125" r="10"/><circle cx="1191" cy="1157" r="10"/><circle cx="1199" cy="1166" r="10"/><circle cx="1232" cy="1152" r="10"/><circle cx="1204" cy="1149" r="10"/><circle cx="1218" cy="1144" r="10"/><circle cx="1208" cy="1145" r="10"/><circle cx="1214" cy="1164" r="10"/><circle cx="1223" cy="1132" r="10"/><circle cx="1244" cy="1161" r="10"/><circle cx="1199" cy="1169" r="10"/><circle cx="1202" cy="1161" r="10"/><circle cx="1276" cy="1148" r="10"/><circle cx="1230" cy="1129" r="10"/><circle cx="1229" cy="1164" r="10"/><circle cx="1254" cy="1148" r="10"/><circle cx="1203" cy="1144" r="10"/><circle cx="1181" cy="1143" r="10"/><circle cx="1225" cy="1140" r="10"/><circle cx="1185" cy="1155" r="10"/><circle cx="1185" cy="1132" r="10"/><circle cx="1195" cy="1154" r="10"/><circle cx="1234" cy="1153" r="10"/><circle cx="1218" cy="1141" r="10"/><circle cx="1182" cy="1142" r="10"/><circle cx="1220" cy="1146" r="10"/><circle cx="1266" cy="1156" r="10"/><circle cx="1194" cy="1155" r="10"/><circle cx="1182" cy="1149" r="10"/><circle cx="1212" cy="1152" r="10"/><circle cx="1220" cy="1132" r="10"/><circle cx="1199" cy="1149" r="10"/><circle cx="1207" cy="1144" r="10"/><circle cx="1202" cy="1154" r="10"/><circle cx="1206" cy="1148" r="10"/><circle cx="1223" cy="1158" r="10"/><circle cx="1220" cy="1148" r="10"/><circle cx="1214" cy="1144" r="10"/><circle cx="1207" cy="1147" r="10"/><circle cx="1182" cy="1149" r="10"/></g>
<g fill="#ffed6f"><circle cx="1166" cy="1206" r="10"/><circle cx="1174" cy="1219" r="10"/><circle cx="1177" cy="1214" r="10"/><circle cx="1184" cy="1205" r="10"/><circle cx="1196" cy="1175" r="10"/><circle cx="1153" cy="1254" r="10"/><circle cx="1189" cy="1183" r="10"/><circle cx="1176" cy="1263" r="10"/><circle cx="1168" cy="1192" r="10"/><circle cx="1176" cy="1251" r="10"/><circle cx="1180" cy="1195" r="10"/><circle cx="1167" cy="1226" r="10"/><circle cx="1185" cy="1237" r="10"/><circle cx="1167" cy="1195" r="10"/><circle cx="1184" cy="1230" r="10"/><circle cx="1184" cy="1193" r="10"/><circle cx="1179" cy="1206" r="10"/><circle cx="1176" cy="1269" r="10"/><circle cx="1172" cy="1207" r="10"/><circle cx="1178" cy="1186" r="10"/><circle cx="1179" cy="1242" r="10"/><circle cx="1186" cy="1214" r="10"/><circle cx="1164" cy="1272" r="10"/><circle cx="1171" cy="1228" r="10"/><circle cx="1168" cy="1176" r="10"/><circle cx="1170" cy="1233" r="10"/><circle cx="1178" cy="1191" r="10"/><circle cx="1196" cy="1174" r="10"/><circle cx="1180" cy="1178" r="10"/><circle cx="1181" cy="1256" r="10"/><circle cx="1166" cy="1229" r="10"/><circle cx="1183" cy="1228" r="10"/><circle cx="1167" cy="1270" r="10"/><circle cx="1186" cy="1229" r="10"/><circle cx="1169" cy="1195" r="10"/><circle cx="1167" cy="1188" r="10"/><circle cx="1172" cy="1160" r="10"/><circle cx="1173" cy="1271" r="10"/><circle cx="1174" cy="1218" r="10"/><circle cx="1167" cy="1170" r="10"/><circle cx="1174" cy="1224" r="10"/><circle cx="1176" cy="1185" r="10"/><circle cx="1169" cy="1208" r="10"/><circle cx="1175" cy="1255" r="10"/><circle cx="1180" cy="1211" r="10"/><circle cx="1166" cy="1218" r="10"/><circle cx="1188" cy="1198" r="10"/><circle cx="1182" cy="1263" r="10"/><circle cx="1180" cy="1209" r="10"/><circle cx="1177" cy="1220" r="10"/><circle cx="1170" cy="1261" r="10"/><circle cx="1174" cy="1160" r="10"/><circle cx="1185" cy="1190" r="10"/><circle cx="1166" cy="1204" r="10"/><circle cx="1189" cy="1274" r="10"/><circle cx="1184" cy="1188" r="10"/><circle cx="1177" cy="1188" r="10"/><circle cx="1173" cy="1241" r="10"/><circle cx="1178" cy="1197" r="10"/><circle cx="1183" cy="1258" r="10"/><circle cx="1185" cy="1208" r="10"/><circle cx="1161" cy="1226" r="10"/><circle cx="1174" cy="1208" r="10"/><circle cx="1173" cy="1250" r="10"/><circle cx="1186" cy="1275" r="10"/><circle cx="1185" cy="1163" r="10"/><circle cx="1159" cy="1264" r="10"/><circle cx="1172" cy="1196" r="10"/><circle cx="1192" cy="1218" r="10"/><circle cx="1173" cy="1240" r="10"/><circle cx="1186" cy="1258" r="10"/><circle cx="1176" cy="1167" r="10"/><circle cx="1176" cy="1228" r="10"/><circle cx="1194" cy="1203" r="10"/><circle cx="1179" cy="1193" r="10"/><circle cx="1174" cy="1218" r="10"/><circle cx="1186" cy="1225" r="10"/><circle cx="1169" cy="1230" r="10"/><circle cx="1175" cy="1210" r="10"/><circle cx="1155" cy="1252" r="10"/><circle cx="1171" cy="1201" r="10"/><circle cx="1176" cy="1180" r="10"/><circle cx="1187" cy="1245" r="10"/><circle cx="1172" cy="1246" r="10"/><circle cx="1165" cy="1167" r="10"/><circle cx="1168" cy="1198" r="10"/><circle cx="1169" cy="1198" r="10"/><circle cx="1179" cy="1208" r="10"/><circle cx="1176" cy="1272" r="10"/><circle cx="1188" cy="1184" r="10"/><circle cx="1161" cy="1201" r="10"/><circle cx="1194" cy="1206" r="10"/><circle cx="1161" cy="1245" r="10"/><circle cx="1168" cy="1229" r="10"/><circle cx="1174" cy="1198" r="10"/><circle cx="1177" cy="1244" r="10"/><circle cx="1167" cy="1208" r="10"/><circle cx="1175" cy="1162" r="10"/><circle cx="1178" cy="1271" r="10"/><circle cx="1182" cy="1265" r="10"/><circle cx="1179" cy="1243" r="10"/><circle cx="1164" cy="1166" r="10"/><circle cx="1174" cy="1224" r="10"/><circle cx="1188" cy="1242" r="10"/><circle cx="1183" cy="1220" r="10"/><circle cx="1172" cy="1197" r="10"/><circle cx="1168" cy="1204" r="10"/><circle cx="1189" cy="1198" r="10"/><circle cx="1179" cy="1199" r="10"/><circle cx="1187" cy="1215" r="10"/><circle cx="1184" cy="1168" r="10"/><circle cx="1188" cy="1247" r="10"/><circle cx="1167" cy="1198" r="10"/><circle cx="1167" cy="1255" r="10"/><circle cx="1181" cy="1185" r="10"/><circle cx="1179" cy="1264" r="10"/><circle cx="1184" cy="1162" r="10"/><circle cx="1177" cy="1244" r="10"/><circle cx="1160" cy="1212" r="10"/><circle cx="1178" cy="1235" r="10"/><circle cx="1180" cy="1228" r="10"/><circle cx="1160" cy="1268" r="10"/><circle cx="1174" cy="1232" r="10"/><circle cx="1166" cy="1238" r="10"/><circle cx="1168" cy="1226" r="10"/><circle cx="1188" cy="1262" r="10"/><circle cx="1166" cy="1225" r="10"/><circle cx="1163" cy="1255" r="10"/><circle cx="1179" cy="1205" r="10"/><circle cx="1175" cy="1165" r="10"/><circle cx="1183" cy="1261" r="10"/><circle cx="1196" cy="1172" r="10"/><circle cx="1171" cy="1183" r="10"/><circle cx="1162" cy="1221" r="10"/><circle cx="1189" cy="1185" r="10"/></g>
<g fill="#ffed6f"><circle cx="1165" cy="1265" r="10"/><circle cx="1218" cy="1244" r="10"/><circle cx="1176" cy="1266" r="10"/><circle cx="1190" cy="1234" r="10"/><circle cx="1184" cy="1258" r="10"/><circle cx="1190" cy="1260" r="10"/><circle cx="1185" cy="1259" r="10"/><circle cx="1161" cy="1276" r="10"/><circle cx="1156" cy="1264" r="10"/><circle cx="1206" cy="1268" r="10"/><circle cx="1204" cy="1266" r="10"/><circle cx="1161" cy="1270" r="10"/><circle cx="1180" cy="1264" r="10"/><circle cx="1168" cy="1267" r="10"/><circle cx="1176" cy="1260" r="10"/><circle cx="1198" cy="1258" r="10"/><circle cx="1193" cy="1261" r="10"/><circle cx="1171" cy="1271" r="10"/><circle cx="1178" cy="1272" r="10"/><circle cx="1175" cy="1260" r="10"/><circle cx="1175" cy="1263" r="10"/><circle cx="1212" cy="1256" r="10"/><circle cx="1177" cy="1270" r="10"/><circle cx="1179" cy="1258" r="10"/><circle cx="1216" cy="1258" r="10"/><circle cx="1182" cy="1267" r="10"/><circle cx="1184" cy="1255" r="10"/><circle cx="1179" cy="1260" r="10"/><circle cx="1198" cy="1273" r="10"/><circle cx="1119" cy="1265" r="10"/><circle cx="1179" cy="1271" r="10"/><circle cx="1161" cy="1247" r="10"/><circle cx="1166" cy="1254" r="10"/><circle cx="1170" cy="1287" r="10"/><circle cx="1214" cy="1255" r="10"/><circle cx="1156" cy="1264" r="10"/><circle cx="1179" cy="1259" r="10"/><circle cx="1178" cy="1276" r="10"/><circle cx="1192" cy="1248" r="10"/><circle cx="1178" cy="1256" r="10"/><circle cx="1221" cy="1269" r="10"/><circle cx="1216" cy="1249" r="10"/><circle cx="1190" cy="1236" r="10"/><circle cx="1190" cy="1266" r="10"/><circle cx="1158" cy="1258" r="10"/><circle cx="1158" cy="1264" r="10"/><circle cx="1170" cy="1267" r="10"/><circle cx="1190" cy="1272" r="10"/><circle cx="1202" cy="1269" r="10"/><circle cx="1213" cy="1250" r="10"/><circle cx="1141" cy="1265" r="10"/><circle cx="1220" cy="1259" r="10"/><circle cx="1205" cy="1251" r="10"/><circle cx="1184" cy="1265" r="10"/><circle cx="1189" cy="1273" r="10"/><circle cx="1158" cy="1274" r="10"/><circle cx="1188" cy="1262" r="10"/><circle cx="1182" cy="1254" r="10"/><circle cx="1198" cy="1270" r="10"/><circle cx="1177" cy="1264" r="10"/><circle cx="1194" cy="1272" r="10"/><circle cx="1213" cy="1259" r="10"/><circle cx="1158" cy="1268" r="10"/><circle cx="1168" cy="1267" r="10"/><circle cx="1216" cy="1263" r="10"/><circle cx="1166" cy="1274" r="10"/><circle cx="1138" cy="1265" r="10"/><circle cx="1219" cy="1266" r="10"/><circle cx="1181" cy="1253" r="10"/><circle cx="1192" cy="1258" r="10"/><circle cx="1168" cy="1264" r="10"/><circle cx="1176" cy="1264" r="10"/><circle cx="1185" cy="1260" r="10"/><circle cx="1181" cy="1255" r="10"/><circle cx="1196" cy="1289" r="10"/></g>
<g fill="#ffed6f"><circle cx="1146" cy="1308" r="10"/><circle cx="1147" cy="1359" r="10"/><circle cx="1140" cy="1302" r="10"/><circle cx="1135" cy="1356" r="10"/><circle cx="1136" cy="1342" r="10"/><circle cx="1147" cy="1384" r="10"/><circle cx="1143" cy="1375" r="10"/><circle cx="1135" cy="1317" r="10"/><circle cx="1142" cy="1408" r="10"/><circle cx="1131" cy="1384" r="10"/><circle cx="1136" cy="1383" r="10"/><circle cx="1141" cy="1326" r="10"/><circle cx="1142" cy="1358" r="10"/><circle cx="1132" cy="1387" r="10"/><circle cx="1142" cy="1305" r="10"/><circle cx="1137" cy="1302" r="10"/><circle cx="1148" cy="1398" r="10"/><circle cx="1152" cy="1326" r="10"/><circle cx="1153" cy="1358" r="10"/><circle cx="1140" cy="1342" r="10"/><circle cx="1131" cy="1371" r="10"/><circle cx="1147" cy="1299" r="10"/><circle cx="1139" cy="1381" r="10"/><circle cx="1124" cy="1418" r="10"/><circle cx="1133" cy="1407" r="10"/><circle cx="1132" cy="1410" r="10"/><circle cx="1143" cy="1334" r="10"/><circle cx="1135" cy="1322" r="10"/><circle cx="1137" cy="1365" r="10"/><circle cx="1123" cy="1405" r="10"/><circle cx="1131" cy="1397" r="10"/><circle cx="1144" cy="1334" r="10"/><circle cx="1133" cy="1343" r="10"/><circle cx="1140" cy="1308" r="10"/><circle cx="1133" cy="1401" r="10"/><circle cx="1139" cy="1314" r="10"/><circle cx="1143" cy="1383" r="10"/><circle cx="1140" cy="1363" r="10"/><circle cx="1136" cy="1364" r="10"/><circle cx="1142" cy="1360" r="10"/><circle cx="1135" cy="1321" r="10"/><circle cx="1142" cy="1318" r="10"/><circle cx="1148" cy="1312" r="10"/><circle cx="1129" cy="1322" r="10"/><circle cx="1142" cy="1385" r="10"/><circle cx="1135" cy="1325" r="10"/><circle cx="1151" cy="1308" r="10"/><circle cx="1147" cy="1410" r="10"/><circle cx="1138" cy="1288" r="10"/><circle cx="1135" cy="1411" r="10"/><circle cx="1152" cy="1291" r="10"/><circle cx="1130" cy="1409" r="10"/><circle cx="1132" cy="1380" r="10"/><circle cx="1130" cy="1419" r="10"/><circle cx="1142" cy="1384" r="10"/><circle cx="1133" cy="1410" r="10"/><circle cx="1151" cy="1307" r="10"/><circle cx="1134" cy="1367" r="10"/><circle cx="1136" cy="1399" r="10"/><circle cx="1146" cy="1395" r="10"/><circle cx="1138" cy="1387" r="10"/><circle cx="1132" cy="1409" r="10"/><circle cx="1135" cy="1384" r="10"/><circle cx="1132" cy="1343" r="10"/><circle cx="1134" cy="1329" r="10"/><circle cx="1135" cy="1322" r="10"/><circle cx="1150" cy="1298" r="10"/><circle cx="1132" cy="1402" r="10"/><circle cx="1136" cy="1352" r="10"/><circle cx="1139" cy="1324" r="10"/><circle cx="1148" cy="1340" r="10"/><circle cx="1140" cy="1353" r="10"/><circle cx="1135" cy="1416" r="10"/><circle cx="1151" cy="1349" r="10"/><circle cx="1146" cy="1374" r="10"/><circle cx="1148" cy="1291" r="10"/><circle cx="1146" cy="1357" r="10"/><circle cx="1134" cy="1391" r="10"/><circle cx="1141" cy="1316" r="10"/><circle cx="1142" cy="1419" r="10"/><circle cx="1141" cy="1389" r="10"/><circle cx="1130" cy="1412" r="10"/><circle cx="1134" cy="1420" r="10"/><circle cx="1135" cy="1419" r="10"/><circle cx="1137" cy="1381" r="10"/><circle cx="1136" cy="1314" r="10"/><circle cx="1133" cy="1407" r="10"/><circle cx="1158" cy="1301" r="10"/><circle cx="1143" cy="1360" r="10"/><circle cx="1132" cy="1411" r="10"/><circle cx="1145" cy="1320" r="10"/><circle cx="1133" cy="1383" r="10"/><circle cx="1131" cy="1370" r="10"/><circle cx="1154" cy="1300" r="10"/><circle cx="1124" cy="1418" r="10"/><circle cx="1137" cy="1353" r="10"/><circle cx="1143" cy="1296" r="10"/><circle cx="1138" cy="1377" r="10"/><circle cx="1146" cy="1371" r="10"/><circle cx="1136" cy="1420" r="10"/><circle cx="1131" cy="1360" r="10"/><circle cx="1139" cy="1318" r="10"/><circle cx="1128" cy="1354" r="10"/><circle cx="1138" cy="1412" r="10"/><circle cx="1132" cy="1382" r="10"/><circle cx="1149" cy="1380" r="10"/><circle cx="1150" cy="1350" r="10"/><circle cx="1129" cy="1378" r="10"/><circle cx="1140" cy="1354" r="10"/><circle cx="1136" cy="1403" r="10"/><circle cx="1128" cy="1376" r="10"/><circle cx="1139" cy="1390" r="10"/><circle cx="1151" cy="1315" r="10"/><circle cx="1144" cy="1316" r="10"/><circle cx="1139" cy="1372" r="10"/><circle cx="1134" cy="1396" r="10"/><circle cx="1134" cy="1313" r="10"/><circle cx="1141" cy="1416" r="10"/><circle cx="1152" cy="1294" r="10"/><circle cx="1149" cy="1401" r="10"/></g>
<g fill="#ffed6f"><circle cx="1112" cy="1194" r="10"/><circle cx="1102" cy="1247" r="10"/><circle cx="1099" cy="1254" r="10"/><circle cx="1137" cy="1251" r="10"/><circle cx="1226" cy="951" r="10"/><circle cx="1131" cy="1056" r="10"/><circle cx="1319" cy="1046" r="10"/><circle cx="1303" cy="1077" r="10"/><circle cx="1332" cy="1033" r="10"/></g>
<g fill="#ffed6f"><circle cx="1098" cy="1443" r="10"/><circle cx="1083" cy="1462" r="10"/><circle cx="1081" cy="1403" r="10"/><circle cx="1094" cy="1399" r="10"/><circle cx="1086" cy="1425" r="10"/><circle cx="1084" cy="1451" r="10"/><circle cx="1078" cy="1465" r="10"/><circle cx="1074" cy="1494" r="10"/><circle cx="1104" cy="1463" r="10"/><circle cx="1082" cy="1471" r="10"/><circle cx="1082" cy="1414" r="10"/><circle cx="1109" cy="1416" r="10"/><circle cx="1109" cy="1435" r="10"/><circle cx="1090" cy="1472" r="10"/><circle cx="1075" cy="1419" r="10"/><circle cx="1088" cy="1448" r="10"/><circle cx="1087" cy="1492" r="10"/><circle cx="1086" cy="1490" r="10"/><circle cx="1093" cy="1451" r="10"/><circle cx="1085" cy="1505" r="10"/></g>
<g fill="#ffed6f"><circle cx="1081" cy="1363" r="10"/><circle cx="1096" cy="1369" r="10"/><circle cx="1099" cy="1392" r="10"/><circle cx="1110" cy="1387" r="10"/></g>
<g fill="#ffed6f"><circle cx="1101" cy="1494" r="10"/><circle cx="1116" cy="1473" r="10"/><circle cx="1098" cy="1486" r="10"/><circle cx="1104" cy="1490" r="10"/><circle cx="1107" cy="1489" r="10"/><circle cx="1098" cy="1489" r="10"/><circle cx="1121" cy="1489" r="10"/><circle cx="1098" cy="1496" r="10"/><circle cx="1099" cy="1496" r="10"/><circle cx="1107" cy="1494" r="10"/><circle cx="1101" cy="1487" r="10"/><circle cx="1122" cy="1476" r="10"/><circle cx="1105" cy="1498" r="10"/><circle cx="1095" cy="1499" r="10"/><circle cx="1108" cy="1490" r="10"/><circle cx="1112" cy="1498" r="10"/><circle cx="1108" cy="1478" r="10"/><circle cx="1115" cy="1483" r="10"/><circle cx="1097" cy="1487" r="10"/><circle cx="1114" cy="1479" r="10"/><circle cx="1099" cy="1490" r="10"/><circle cx="1118" cy="1486" r="10"/><circle cx="1124" cy="1487" r="10"/><circle cx="1099" cy="1497" r="10"/><circle cx="1112" cy="1491" r="10"/><circle cx="1104" cy="1493" r="10"/><circle cx="1092" cy="1488" r="10"/><circle cx="1099" cy="1484" r="10"/><circle cx="1113" cy="1482" r="10"/><circle cx="1118" cy="1502" r="10"/></g>
<g fill="#ffed6f"><circle cx="1153" cy="1516" r="10"/><circle cx="1141" cy="1527" r="10"/><circle cx="1122" cy="1512" r="10"/><circle cx="1202" cy="1524" r="10"/><circle cx="1240" cy="1548" r="10"/><circle cx="1133" cy="1473" r="10"/></g>
<g fill="#80b1d3"><circle cx="1201" cy="1195" r="10"/><circle cx="1147" cy="1227" r="10"/><circle cx="1153" cy="1239" r="10"/><circle cx="1183" cy="1247" r="10"/><circle cx="1155" cy="1197" r="10"/></g>
<g fill="#ccebc5"><circle cx="1290" cy="1180" r="10"/><circle cx="1300" cy="1192" r="10"/><circle cx="1282" cy="1195" r="10"/><circle cx="1296" cy="1170" r="10"/></g>
<g fill="#8dd3c7"><circle cx="1241" cy="1209" r="10"/><circle cx="1266" cy="1218" r="10"/><circle cx="1228" cy="1199" r="10"/><circle cx="1257" cy="1206" r="10"/><circle cx="1255" cy="1222" r="10"/><circle cx="1263" cy="1206" r="10"/><circle cx="1252" cy="1221" r="10"/><circle cx="1255" cy="1203" r="10"/><circle cx="1250" cy="1214" r="10"/><circle cx="1240" cy="1214" r="10"/><circle cx="1245" cy="1222" r="10"/><circle cx="1260" cy="1206" r="10"/><circle cx="1248" cy="1192" r="10"/><circle cx="1255" cy="1222" r="10"/><circle cx="1267" cy="1209" r="10"/><circle cx="1222" cy="1211" r="10"/><circle cx="1257" cy="1202" r="10"/><circle cx="1242" cy="1205" r="10"/><circle cx="1234" cy="1205" r="10"/><circle cx="1260" cy="1230" r="10"/><circle cx="1257" cy="1196" r="10"/><circle cx="1236" cy="1213" r="10"/><circle cx="1250" cy="1234" r="10"/><circle cx="1256" cy="1234" r="10"/><circle cx="1227" cy="1204" r="10"/><circle cx="1238" cy="1196" r="10"/><circle cx="1233" cy="1187" r="10"/><circle cx="1262" cy="1208" r="10"/><circle cx="1256" cy="1190" r="10"/><circle cx="1239" cy="1210" r="10"/><circle cx="1244" cy="1189" r="10"/><circle cx="1256" cy="1221" r="10"/><circle cx="1230" cy="1219" r="10"/><circle cx="1247" cy="1202" r="10"/><circle cx="1239" cy="1199" r="10"/><circle cx="1263" cy="1208" r="10"/><circle cx="1248" cy="1232" r="10"/><circle cx="1235" cy="1220" r="10"/><circle cx="1254" cy="1217" r="10"/><circle cx="1244" cy="1212" r="10"/><circle cx="1251" cy="1204" r="10"/><circle cx="1240" cy="1188" r="10"/><circle cx="1238" cy="1217" r="10"/><circle cx="1245" cy="1195" r="10"/><circle cx="1237" cy="1201" r="10"/><circle cx="1232" cy="1200" r="10"/><circle cx="1280" cy="1228" r="10"/><circle cx="1245" cy="1213" r="10"/><circle cx="1235" cy="1191" r="10"/><circle cx="1239" cy="1207" r="10"/><circle cx="1259" cy="1200" r="10"/><circle cx="1238" cy="1180" r="10"/><circle cx="1260" cy="1198" r="10"/><circle cx="1234" cy="1209" r="10"/><circle cx="1245" cy="1212" r="10"/><circle cx="1251" cy="1203" r="10"/><circle cx="1264" cy="1225" r="10"/><circle cx="1248" cy="1227" r="10"/></g>
<g fill="#8dd3c7"><circle cx="1260" cy="1244" r="10"/><circle cx="1286" cy="1226" r="10"/><circle cx="1235" cy="1263" r="10"/><circle cx="1281" cy="1263" r="10"/><circle cx="1263" cy="1276" r="10"/><circle cx="1232" cy="1272" r="10"/><circle cx="1310" cy="1212" r="10"/><circle cx="1330" cy="1219" r="10"/><circle cx="1259" cy="1268" r="10"/><circle cx="1247" cy="1290" r="10"/><circle cx="1262" cy="1259" r="10"/><circle cx="1320" cy="1226" r="10"/><circle cx="1294" cy="1220" r="10"/><circle cx="1314" cy="1246" r="10"/><circle cx="1249" cy="1265" r="10"/><circle cx="1253" cy="1261" r="10"/><circle cx="1253" cy="1250" r="10"/><circle cx="1239" cy="1252" r="10"/><circle cx="1275" cy="1254" r="10"/><circle cx="1310" cy="1242" r="10"/><circle cx="1230" cy="1273" r="10"/><circle cx="1249" cy="1288" r="10"/><circle cx="1288" cy="1249" r="10"/><circle cx="1257" cy="1255" r="10"/><circle cx="1308" cy="1196" r="10"/><circle cx="1256" cy="1275" r="10"/><circle cx="1276" cy="1244" r="10"/><circle cx="1291" cy="1215" r="10"/><circle cx="1231" cy="1275" r="10"/><circle cx="1300" cy="1225" r="10"/><circle cx="1286" cy="1256" r="10"/><circle cx="1328" cy="1210" r="10"/><circle cx="1247" cy="1286" r="10"/><circle cx="1277" cy="1231" r="10"/><circle cx="1301" cy="1226" r="10"/><circle cx="1242" cy="1274" r="10"/><circle cx="1276" cy="1279" r="10"/><circle cx="1308" cy="1196" r="10"/><circle cx="1264" cy="1256" r="10"/><circle cx="1317" cy="1218" r="10"/><circle cx="1297" cy="1245" r="10"/><circle cx="1266" cy="1269" r="10"/><circle cx="1316" cy="1227" r="10"/><circle cx="1256" cy="1284" r="10"/><circle cx="1288" cy="1240" r="10"/><circle cx="1270" cy="1259" r="10"/><circle cx="1254" cy="1253" r="10"/><circle cx="1282" cy="1269" r="10"/><circle cx="1298" cy="1233" r="10"/><circle cx="1226" cy="1266" r="10"/><circle cx="1267" cy="1260" r="10"/><circle cx="1322" cy="1212" r="10"/><circle cx="1240" cy="1274" r="10"/><circle cx="1276" cy="1261" r="10"/><circle cx="1250" cy="1295" r="10"/><circle cx="1277" cy="1243" r="10"/><circle cx="1267" cy="1273" r="10"/><circle cx="1238" cy="1281" r="10"/><circle cx="1324" cy="1226" r="10"/><circle cx="1315" cy="1222" r="10"/><circle cx="1302" cy="1211" r="10"/><circle cx="1261" cy="1247" r="10"/><circle cx="1267" cy="1272" r="10"/><circle cx="1301" cy="1243" r="10"/><circle cx="1302" cy="1207" r="10"/><circle cx="1266" cy="1265" r="10"/><circle cx="1253" cy="1287" r="10"/><circle cx="1258" cy="1271" r="10"/><circle cx="1286" cy="1259" r="10"/><circle cx="1258" cy="1242" r="10"/><circle cx="1302" cy="1225" r="10"/><circle cx="1260" cy="1280" r="10"/><circle cx="1278" cy="1259" r="10"/><circle cx="1292" cy="1251" r="10"/><circle cx="1245" cy="1266" r="10"/><circle cx="1237" cy="1264" r="10"/><circle cx="1327" cy="1209" r="10"/><circle cx="1287" cy="1234" r="10"/><circle cx="1295" cy="1252" r="10"/><circle cx="1244" cy="1260" r="10"/><circle cx="1256" cy="1288" r="10"/><circle cx="1282" cy="1252" r="10"/><circle cx="1281" cy="1250" r="10"/><circle cx="1298" cy="1226" r="10"/><circle cx="1271" cy="1250" r="10"/><circle cx="1320" cy="1211" r="10"/><circle cx="1275" cy="1275" r="10"/><circle cx="1286" cy="1219" r="10"/><circle cx="1282" cy="1274" r="10"/><circle cx="1294" cy="1216" r="10"/><circle cx="1305" cy="1234" r="10"/><circle cx="1303" cy="1235" r="10"/><circle cx="1245" cy="1264" r="10"/><circle cx="1309" cy="1226" r="10"/><circle cx="1310" cy="1215" r="10"/><circle cx="1291" cy="1246" r="10"/><circle cx="1249" cy="1267" r="10"/><circle cx="1318" cy="1201" r="10"/><circle cx="1321" cy="1203" r="10"/><circle cx="1296" cy="1231" r="10"/><circle cx="1280" cy="1216" r="10"/><circle cx="1280" cy="1246" r="10"/><circle cx="1308" cy="1215" r="10"/><circle cx="1305" cy="1228" r="10"/><circle cx="1263" cy="1266" r="10"/><circle cx="1299" cy="1247" r="10"/><circle cx="1326" cy="1219" r="10"/><circle cx="1310" cy="1216" r="10"/><circle cx="1262" cy="1262" r="10"/><circle cx="1290" cy="1222" r="10"/><circle cx="1291" cy="1263" r="10"/><circle cx="1291" cy="1238" r="10"/><circle cx="1288" cy="1239" r="10"/><circle cx="1248" cy="1276" r="10"/><circle cx="1297" cy="1226" r="10"/><circle cx="1268" cy="1287" r="10"/><circle cx="1259" cy="1256" r="10"/><circle cx="1271" cy="1264" r="10"/><circle cx="1288" cy="1238" r="10"/><circle cx="1274" cy="1251" r="10"/><circle cx="1258" cy="1243" r="10"/><circle cx="1301" cy="1191" r="10"/><circle cx="1312" cy="1197" r="10"/><circle cx="1288" cy="1240" r="10"/><circle cx="1305" cy="1234" r="10"/><circle cx="1262" cy="1270" r="10"/><circle cx="1275" cy="1245" r="10"/><circle cx="1300" cy="1229" r="10"/><circle cx="1259" cy="1271" r="10"/><circle cx="1304" cy="1212" r="10"/><circle cx="1309" cy="1225" r="10"/><circle cx="1249" cy="1271" r="10"/><circle cx="1248" cy="1279" r="10"/><circle cx="1285" cy="1243" r="10"/><circle cx="1248" cy="1277" r="10"/><circle cx="1312" cy="1209" r="10"/><circle cx="1312" cy="1232" r="10"/><circle cx="1237" cy="1271" r="10"/><circle cx="1324" cy="1228" r="10"/><circle cx="1270" cy="1241" r="10"/><circle cx="1239" cy="1269" r="10"/><circle cx="1270" cy="1246" r="10"/><circle cx="1286" cy="1252" r="10"/><circle cx="1300" cy="1244" r="10"/><circle cx="1307" cy="1238" r="10"/><circle cx="1283" cy="1242" r="10"/><circle cx="1306" cy="1234" r="10"/><circle cx="1260" cy="1256" r="10"/><circle cx="1270" cy="1262" r="10"/><circle cx="1302" cy="1217" r="10"/><circle cx="1310" cy="1216" r="10"/><circle cx="1235" cy="1279" r="10"/><circle cx="1288" cy="1240" r="10"/><circle cx="1251" cy="1263" r="10"/><circle cx="1298" cy="1240" r="10"/><circle cx="1307" cy="1231" r="10"/><circle cx="1303" cy="1246" r="10"/><circle cx="1248" cy="1246" r="10"/><circle cx="1301" cy="1240" r="10"/><circle cx="1273" cy="1257" r="10"/><circle cx="1260" cy="1275" r="10"/><circle cx="1262" cy="1252" r="10"/><circle cx="1323" cy="1208" r="10"/><circle cx="1276" cy="1238" r="10"/><circle cx="1288" cy="1236" r="10"/><circle cx="1263" cy="1251" r="10"/><circle cx="1259" cy="1232" r="10"/><circle cx="1310" cy="1199" r="10"/><circle cx="1293" cy="1224" r="10"/><circle cx="1302" cy="1203" r="10"/><circle cx="1306" cy="1200" r="10"/><circle cx="1314" cy="1205" r="10"/><circle cx="1284" cy="1261" r="10"/><circle cx="1286" cy="1257" r="10"/><circle cx="1300" cy="1205" r="10"/></g>
<g fill="#8dd3c7"><circle cx="1210" cy="1338" r="10"/><circle cx="1221" cy="1326" r="10"/><circle cx="1223" cy="1282" r="10"/><circle cx="1227" cy="1289" r="10"/><circle cx="1188" cy="1304" r="10"/><circle cx="1246" cy="1311" r="10"/><circle cx="1236" cy="1338" r="10"/><circle cx="1240" cy="1302" r="10"/><circle cx="1183" cy="1299" r="10"/><circle cx="1236" cy="1314" r="10"/><circle cx="1181" cy="1326" r="10"/><circle cx="1222" cy="1330" r="10"/><circle cx="1187" cy="1328" r="10"/><circle cx="1212" cy="1328" r="10"/><circle cx="1233" cy="1293" r="10"/><circle cx="1226" cy="1338" r="10"/><circle cx="1197" cy="1299" r="10"/><circle cx="1243" cy="1305" r="10"/><circle cx="1196" cy="1283" r="10"/><circle cx="1209" cy="1320" r="10"/><circle cx="1234" cy="1296" r="10"/><circle cx="1241" cy="1310" r="10"/><circle cx="1216" cy="1310" r="10"/><circle cx="1204" cy="1316" r="10"/><circle cx="1221" cy="1335" r="10"/><circle cx="1219" cy="1290" r="10"/><circle cx="1220" cy="1295" r="10"/><circle cx="1261" cy="1309" r="10"/><circle cx="1203" cy="1318" r="10"/><circle cx="1238" cy="1317" r="10"/><circle cx="1202" cy="1322" r="10"/><circle cx="1225" cy="1283" r="10"/><circle cx="1236" cy="1314" r="10"/><circle cx="1250" cy="1291" r="10"/><circle cx="1232" cy="1300" r="10"/><circle cx="1218" cy="1300" r="10"/><circle cx="1225" cy="1305" r="10"/><circle cx="1219" cy="1291" r="10"/><circle cx="1197" cy="1319" r="10"/><circle cx="1214" cy="1290" r="10"/><circle cx="1213" cy="1312" r="10"/><circle cx="1212" cy="1332" r="10"/></g>
<g fill="#8dd3c7"><circle cx="1173" cy="1168" r="10"/><circle cx="1217" cy="1167" r="10"/><circle cx="1237" cy="1179" r="10"/><circle cx="1198" cy="1206" r="10"/><circle cx="1283" cy="1305" r="10"/><circle cx="1167" cy="1344" r="10"/><circle cx="1173" cy="1359" r="10"/><circle cx="1194" cy="1338" r="10"/><circle cx="1146" cy="1370" r="10"/><circle cx="1193" cy="1375" r="10"/><circle cx="1177" cy="1385" r="10"/><circle cx="1198" cy="1388" r="10"/><circle cx="1160" cy="1400" r="10"/><circle cx="1176" cy="1400" r="10"/><circle cx="1156" cy="1432" r="10"/><circle cx="1156" cy="1432" r="10"/></g>
<g fill="#80b1d3"><circle cx="1079" cy="1295" r="10"/><circle cx="1104" cy="1300" r="10"/><circle cx="1070" cy="1309" r="10"/><circle cx="1096" cy="1312" r="10"/><circle cx="1079" cy="1322" r="10"/><circle cx="1090" cy="1323" r="10"/><circle cx="1099" cy="1320" r="10"/><circle cx="1094" cy="1343" r="10"/><circle cx="1101" cy="1343" r="10"/><circle cx="1097" cy="1070" r="10"/><circle cx="1106" cy="1071" r="10"/><circle cx="1096" cy="1074" r="10"/><circle cx="1110" cy="1095" r="10"/><circle cx="1102" cy="1124" r="10"/><circle cx="1115" cy="1117" r="10"/><circle cx="1102" cy="1126" r="10"/><circle cx="1116" cy="1120" r="10"/></g>
<g fill="#ffed6f"><circle cx="1111" cy="1193" r="10"/><circle cx="1101" cy="1247" r="10"/><circle cx="1099" cy="1254" r="10"/></g>
<g fill="#fccde5"><circle cx="1275" cy="1369" r="10"/><circle cx="1248" cy="1349" r="10"/><circle cx="1288" cy="1355" r="10"/><circle cx="1246" cy="1346" r="10"/><circle cx="1289" cy="1345" r="10"/><circle cx="1272" cy="1348" r="10"/><circle cx="1298" cy="1377" r="10"/><circle cx="1255" cy="1358" r="10"/><circle cx="1301" cy="1345" r="10"/><circle cx="1298" cy="1345" r="10"/><circle cx="1248" cy="1350" r="10"/><circle cx="1302" cy="1356" r="10"/><circle cx="1271" cy="1353" r="10"/><circle cx="1267" cy="1342" r="10"/><circle cx="1280" cy="1354" r="10"/><circle cx="1304" cy="1352" r="10"/><circle cx="1286" cy="1341" r="10"/><circle cx="1247" cy="1351" r="10"/><circle cx="1252" cy="1360" r="10"/><circle cx="1281" cy="1357" r="10"/><circle cx="1268" cy="1352" r="10"/><circle cx="1301" cy="1375" r="10"/><circle cx="1305" cy="1371" r="10"/><circle cx="1297" cy="1372" r="10"/><circle cx="1286" cy="1341" r="10"/><circle cx="1310" cy="1366" r="10"/><circle cx="1293" cy="1361" r="10"/><circle cx="1308" cy="1361" r="10"/><circle cx="1276" cy="1344" r="10"/><circle cx="1300" cy="1369" r="10"/><circle cx="1280" cy="1345" r="10"/><circle cx="1293" cy="1374" r="10"/><circle cx="1280" cy="1337" r="10"/><circle cx="1286" cy="1366" r="10"/><circle cx="1254" cy="1360" r="10"/><circle cx="1261" cy="1339" r="10"/><circle cx="1301" cy="1346" r="10"/><circle cx="1285" cy="1344" r="10"/><circle cx="1247" cy="1347" r="10"/><circle cx="1270" cy="1362" r="10"/><circle cx="1276" cy="1343" r="10"/><circle cx="1247" cy="1356" r="10"/><circle cx="1291" cy="1353" r="10"/><circle cx="1249" cy="1344" r="10"/><circle cx="1270" cy="1354" r="10"/><circle cx="1285" cy="1347" r="10"/><circle cx="1252" cy="1344" r="10"/><circle cx="1246" cy="1357" r="10"/><circle cx="1310" cy="1384" r="10"/><circle cx="1257" cy="1360" r="10"/><circle cx="1255" cy="1343" r="10"/><circle cx="1310" cy="1377" r="10"/><circle cx="1296" cy="1354" r="10"/><circle cx="1302" cy="1364" r="10"/><circle cx="1296" cy="1375" r="10"/><circle cx="1273" cy="1339" r="10"/><circle cx="1240" cy="1351" r="10"/><circle cx="1257" cy="1351" r="10"/><circle cx="1306" cy="1370" r="10"/><circle cx="1260" cy="1356" r="10"/><circle cx="1290" cy="1358" r="10"/><circle cx="1278" cy="1363" r="10"/><circle cx="1287" cy="1365" r="10"/><circle cx="1293" cy="1352" r="10"/><circle cx="1258" cy="1348" r="10"/><circle cx="1295" cy="1341" r="10"/><circle cx="1264" cy="1367" r="10"/><circle cx="1300" cy="1382" r="10"/><circle cx="1316" cy="1387" r="10"/><circle cx="1284" cy="1369" r="10"/><circle cx="1236" cy="1355" r="10"/><circle cx="1285" cy="1348" r="10"/><circle cx="1267" cy="1355" r="10"/><circle cx="1281" cy="1362" r="10"/><circle cx="1250" cy="1355" r="10"/><circle cx="1290" cy="1368" r="10"/><circle cx="1298" cy="1338" r="10"/><circle cx="1240" cy="1353" r="10"/><circle cx="1304" cy="1381" r="10"/><circle cx="1295" cy="1368" r="10"/><circle cx="1271" cy="1354" r="10"/><circle cx="1233" cy="1355" r="10"/><circle cx="1287" cy="1373" r="10"/><circle cx="1289" cy="1350" r="10"/><circle cx="1304" cy="1362" r="10"/><circle cx="1296" cy="1372" r="10"/><circle cx="1316" cy="1382" r="10"/><circle cx="1308" cy="1381" r="10"/><circle cx="1266" cy="1344" r="10"/><circle cx="1277" cy="1338" r="10"/><circle cx="1286" cy="1349" r="10"/><circle cx="1299" cy="1345" r="10"/><circle cx="1238" cy="1350" r="10"/><circle cx="1290" cy="1333" r="10"/><circle cx="1267" cy="1343" r="10"/><circle cx="1270" cy="1361" r="10"/><circle cx="1298" cy="1377" r="10"/><circle cx="1276" cy="1362" r="10"/><circle cx="1312" cy="1378" r="10"/><circle cx="1295" cy="1352" r="10"/><circle cx="1242" cy="1348" r="10"/><circle cx="1252" cy="1343" r="10"/><circle cx="1305" cy="1365" r="10"/><circle cx="1317" cy="1387" r="10"/><circle cx="1308" cy="1374" r="10"/><circle cx="1271" cy="1348" r="10"/><circle cx="1304" cy="1362" r="10"/><circle cx="1270" cy="1352" r="10"/><circle cx="1290" cy="1335" r="10"/><circle cx="1274" cy="1347" r="10"/><circle cx="1291" cy="1360" r="10"/><circle cx="1316" cy="1387" r="10"/><circle cx="1301" cy="1367" r="10"/><circle cx="1287" cy="1367" r="10"/><circle cx="1295" cy="1352" r="10"/></g>
<g fill="#fccde5"><circle cx="1294" cy="1335" r="10"/><circle cx="1280" cy="1330" r="10"/><circle cx="1304" cy="1333" r="10"/><circle cx="1290" cy="1337" r="10"/><circle cx="1295" cy="1333" r="10"/><circle cx="1294" cy="1333" r="10"/><circle cx="1290" cy="1337" r="10"/><circle cx="1276" cy="1338" r="10"/><circle cx="1286" cy="1334" r="10"/><circle cx="1285" cy="1334" r="10"/><circle cx="1295" cy="1338" r="10"/><circle cx="1284" cy="1338" r="10"/></g>
<g fill="#fccde5"><circle cx="1322" cy="1327" r="10"/></g>
<g fill="#fccde5"><circle cx="1401" cy="1311" r="10"/><circle cx="1393" cy="1316" r="10"/><circle cx="1378" cy="1326" r="10"/><circle cx="1402" cy="1290" r="10"/><circle cx="1386" cy="1333" r="10"/><circle cx="1407" cy="1287" r="10"/><circle cx="1392" cy="1308" r="10"/><circle cx="1402" cy="1296" r="10"/><circle cx="1390" cy="1292" r="10"/><circle cx="1392" cy="1279" r="10"/><circle cx="1395" cy="1279" r="10"/><circle cx="1411" cy="1296" r="10"/><circle cx="1399" cy="1326" r="10"/><circle cx="1387" cy="1314" r="10"/><circle cx="1401" cy="1305" r="10"/><circle cx="1399" cy="1299" r="10"/><circle cx="1391" cy="1276" r="10"/><circle cx="1396" cy="1312" r="10"/><circle cx="1401" cy="1289" r="10"/><circle cx="1394" cy="1321" r="10"/><circle cx="1394" cy="1300" r="10"/><circle cx="1391" cy="1312" r="10"/><circle cx="1413" cy="1306" r="10"/><circle cx="1395" cy="1307" r="10"/><circle cx="1401" cy="1287" r="10"/><circle cx="1394" cy="1288" r="10"/><circle cx="1404" cy="1307" r="10"/><circle cx="1393" cy="1290" r="10"/><circle cx="1400" cy="1309" r="10"/><circle cx="1391" cy="1320" r="10"/><circle cx="1392" cy="1319" r="10"/><circle cx="1399" cy="1319" r="10"/><circle cx="1397" cy="1320" r="10"/><circle cx="1396" cy="1287" r="10"/><circle cx="1402" cy="1323" r="10"/><circle cx="1387" cy="1311" r="10"/><circle cx="1388" cy="1320" r="10"/><circle cx="1410" cy="1311" r="10"/><circle cx="1384" cy="1307" r="10"/><circle cx="1391" cy="1313" r="10"/><circle cx="1388" cy="1300" r="10"/><circle cx="1395" cy="1326" r="10"/><circle cx="1380" cy="1326" r="10"/><circle cx="1400" cy="1309" r="10"/><circle cx="1386" cy="1298" r="10"/><circle cx="1395" cy="1287" r="10"/><circle cx="1395" cy="1309" r="10"/><circle cx="1382" cy="1303" r="10"/><circle cx="1403" cy="1280" r="10"/><circle cx="1410" cy="1313" r="10"/><circle cx="1411" cy="1313" r="10"/><circle cx="1388" cy="1337" r="10"/><circle cx="1388" cy="1286" r="10"/><circle cx="1377" cy="1298" r="10"/><circle cx="1395" cy="1296" r="10"/><circle cx="1400" cy="1325" r="10"/><circle cx="1390" cy="1302" r="10"/><circle cx="1390" cy="1284" r="10"/></g>
<g fill="#fccde5"><circle cx="1396" cy="1273" r="10"/><circle cx="1430" cy="1274" r="10"/></g>
<g fill="#fccde5"><circle cx="1960" cy="1228" r="10"/><circle cx="1932" cy="1216" r="10"/><circle cx="1919" cy="1227" r="10"/><circle cx="1893" cy="1206" r="10"/><circle cx="1931" cy="1194" r="10"/><circle cx="1921" cy="1227" r="10"/><circle cx="1908" cy="1235" r="10"/><circle cx="1951" cy="1225" r="10"/><circle cx="1935" cy="1217" r="10"/><circle cx="1924" cy="1213" r="10"/><circle cx="1919" cy="1221" r="10"/><circle cx="1905" cy="1221" r="10"/><circle cx="1963" cy="1216" r="10"/><circle cx="1948" cy="1225" r="10"/><circle cx="1917" cy="1229" r="10"/><circle cx="1905" cy="1231" r="10"/><circle cx="1918" cy="1226" r="10"/><circle cx="1942" cy="1224" r="10"/><circle cx="1942" cy="1197" r="10"/><circle cx="1916" cy="1233" r="10"/><circle cx="1949" cy="1239" r="10"/><circle cx="1914" cy="1244" r="10"/><circle cx="1908" cy="1236" r="10"/><circle cx="1929" cy="1233" r="10"/><circle cx="1911" cy="1233" r="10"/><circle cx="1903" cy="1233" r="10"/><circle cx="1932" cy="1234" r="10"/><circle cx="1946" cy="1230" r="10"/><circle cx="1930" cy="1214" r="10"/><circle cx="1909" cy="1216" r="10"/><circle cx="1943" cy="1209" r="10"/><circle cx="1945" cy="1234" r="10"/><circle cx="1926" cy="1238" r="10"/><circle cx="1895" cy="1234" r="10"/><circle cx="1944" cy="1221" r="10"/><circle cx="1959" cy="1211" r="10"/><circle cx="1930" cy="1205" r="10"/><circle cx="1928" cy="1243" r="10"/><circle cx="1947" cy="1203" r="10"/><circle cx="1912" cy="1223" r="10"/><circle cx="1910" cy="1214" r="10"/><circle cx="1920" cy="1221" r="10"/><circle cx="1923" cy="1228" r="10"/><circle cx="1935" cy="1237" r="10"/><circle cx="1910" cy="1218" r="10"/><circle cx="1934" cy="1215" r="10"/><circle cx="1912" cy="1225" r="10"/><circle cx="1936" cy="1243" r="10"/><circle cx="1906" cy="1216" r="10"/><circle cx="1920" cy="1208" r="10"/><circle cx="1921" cy="1232" r="10"/><circle cx="1901" cy="1201" r="10"/><circle cx="1920" cy="1252" r="10"/><circle cx="1924" cy="1213" r="10"/><circle cx="1967" cy="1227" r="10"/><circle cx="1941" cy="1223" r="10"/><circle cx="1948" cy="1209" r="10"/><circle cx="1967" cy="1221" r="10"/><circle cx="1925" cy="1227" r="10"/><circle cx="1916" cy="1225" r="10"/><circle cx="1911" cy="1244" r="10"/><circle cx="1919" cy="1214" r="10"/><circle cx="1916" cy="1227" r="10"/><circle cx="1921" cy="1232" r="10"/><circle cx="1902" cy="1210" r="10"/><circle cx="1941" cy="1240" r="10"/><circle cx="1932" cy="1209" r="10"/><circle cx="1931" cy="1229" r="10"/><circle cx="1957" cy="1213" r="10"/><circle cx="1933" cy="1224" r="10"/><circle cx="1942" cy="1246" r="10"/><circle cx="1933" cy="1232" r="10"/><circle cx="1960" cy="1218" r="10"/><circle cx="1936" cy="1228" r="10"/><circle cx="1964" cy="1214" r="10"/><circle cx="1939" cy="1229" r="10"/><circle cx="1963" cy="1240" r="10"/><circle cx="1908" cy="1246" r="10"/><circle cx="1957" cy="1228" r="10"/><circle cx="1894" cy="1219" r="10"/><circle cx="1923" cy="1219" r="10"/><circle cx="1948" cy="1226" r="10"/><circle cx="1969" cy="1231" r="10"/><circle cx="1941" cy="1227" r="10"/><circle cx="1941" cy="1226" r="10"/><circle cx="1924" cy="1248" r="10"/><circle cx="1939" cy="1219" r="10"/><circle cx="1946" cy="1234" r="10"/><circle cx="1955" cy="1235" r="10"/><circle cx="1944" cy="1223" r="10"/><circle cx="1927" cy="1216" r="10"/><circle cx="1933" cy="1249" r="10"/><circle cx="1938" cy="1232" r="10"/><circle cx="1930" cy="1228" r="10"/><circle cx="1926" cy="1201" r="10"/><circle cx="1949" cy="1222" r="10"/><circle cx="1951" cy="1239" r="10"/><circle cx="1927" cy="1200" r="10"/><circle cx="1901" cy="1247" r="10"/><circle cx="1892" cy="1237" r="10"/><circle cx="1931" cy="1236" r="10"/><circle cx="1920" cy="1224" r="10"/><circle cx="1945" cy="1234" r="10"/><circle cx="1903" cy="1216" r="10"/><circle cx="1938" cy="1222" r="10"/><circle cx="1945" cy="1218" r="10"/><circle cx="1928" cy="1203" r="10"/><circle cx="1921" cy="1223" r="10"/><circle cx="1899" cy="1224" r="10"/><circle cx="1914" cy="1228" r="10"/><circle cx="1914" cy="1212" r="10"/><circle cx="1954" cy="1245" r="10"/><circle cx="1954" cy="1232" r="10"/><circle cx="1894" cy="1218" r="10"/><circle cx="1941" cy="1227" r="10"/><circle cx="1943" cy="1216" r="10"/><circle cx="1916" cy="1199" r="10"/><circle cx="1912" cy="1242" r="10"/><circle cx="1903" cy="1212" r="10"/><circle cx="1961" cy="1244" r="10"/><circle cx="1918" cy="1239" r="10"/><circle cx="1942" cy="1220" r="10"/><circle cx="1929" cy="1216" r="10"/><circle cx="1937" cy="1233" r="10"/><circle cx="1907" cy="1214" r="10"/><circle cx="1925" cy="1218" r="10"/><circle cx="1917" cy="1206" r="10"/><circle cx="1922" cy="1215" r="10"/><circle cx="1905" cy="1228" r="10"/><circle cx="1917" cy="1201" r="10"/><circle cx="1940" cy="1222" r="10"/><circle cx="1928" cy="1217" r="10"/><circle cx="1922" cy="1232" r="10"/><circle cx="1930" cy="1224" r="10"/><circle cx="1944" cy="1202" r="10"/><circle cx="1949" cy="1211" r="10"/><circle cx="1914" cy="1211" r="10"/><circle cx="1946" cy="1205" r="10"/><circle cx="1951" cy="1208" r="10"/><circle cx="1920" cy="1201" r="10"/><circle cx="1906" cy="1201" r="10"/><circle cx="1934" cy="1218" r="10"/><circle cx="1962" cy="1225" r="10"/><circle cx="1947" cy="1244" r="10"/><circle cx="1914" cy="1215" r="10"/><circle cx="1913" cy="1212" r="10"/><circle cx="1919" cy="1227" r="10"/><circle cx="1960" cy="1226" r="10"/><circle cx="1932" cy="1216" r="10"/><circle cx="1910" cy="1212" r="10"/><circle cx="1955" cy="1239" r="10"/><circle cx="1905" cy="1241" r="10"/><circle cx="1913" cy="1234" r="10"/><circle cx="1941" cy="1234" r="10"/><circle cx="1938" cy="1207" r="10"/><circle cx="1934" cy="1209" r="10"/><circle cx="1959" cy="1241" r="10"/><circle cx="1916" cy="1197" r="10"/><circle cx="1938" cy="1207" r="10"/><circle cx="1907" cy="1223" r="10"/><circle cx="1957" cy="1220" r="10"/><circle cx="1917" cy="1206" r="10"/><circle cx="1912" cy="1202" r="10"/><circle cx="1904" cy="1249" r="10"/><circle cx="1911" cy="1236" r="10"/><circle cx="1959" cy="1219" r="10"/><circle cx="1900" cy="1209" r="10"/><circle cx="1935" cy="1212" r="10"/><circle cx="1944" cy="1231" r="10"/><circle cx="1923" cy="1230" r="10"/><circle cx="1925" cy="1202" r="10"/><circle cx="1922" cy="1236" r="10"/><circle cx="1916" cy="1224" r="10"/><circle cx="1910" cy="1214" r="10"/><circle cx="1946" cy="1213" r="10"/><circle cx="1918" cy="1225" r="10"/><circle cx="1933" cy="1238" r="10"/><circle cx="1968" cy="1231" r="10"/><circle cx="1912" cy="1208" r="10"/><circle cx="1935" cy="1213" r="10"/><circle cx="1922" cy="1242" r="10"/><circle cx="1936" cy="1250" r="10"/><circle cx="1918" cy="1217" r="10"/><circle cx="1920" cy="1208" r="10"/><circle cx="1941" cy="1244" r="10"/><circle cx="1925" cy="1219" r="10"/><circle cx="1903" cy="1223" r="10"/><circle cx="1921" cy="1216" r="10"/><circle cx="1907" cy="1224" r="10"/><circle cx="1925" cy="1224" r="10"/><circle cx="1960" cy="1228" r="10"/><circle cx="1911" cy="1212" r="10"/><circle cx="1881" cy="1228" r="10"/><circle cx="1902" cy="1232" r="10"/><circle cx="1883" cy="1212" r="10"/><circle cx="1932" cy="1215" r="10"/><circle cx="1947" cy="1225" r="10"/><circle cx="1927" cy="1216" r="10"/><circle cx="1918" cy="1230" r="10"/><circle cx="1948" cy="1200" r="10"/><circle cx="1945" cy="1221" r="10"/><circle cx="1963" cy="1236" r="10"/><circle cx="1934" cy="1220" r="10"/><circle cx="1940" cy="1209" r="10"/><circle cx="1925" cy="1220" r="10"/><circle cx="1946" cy="1225" r="10"/><circle cx="1906" cy="1214" r="10"/><circle cx="1895" cy="1234" r="10"/><circle cx="1889" cy="1216" r="10"/><circle cx="1903" cy="1204" r="10"/></g>
<g fill="#fccde5"><circle cx="1779" cy="1198" r="10"/><circle cx="1800" cy="1197" r="10"/><circle cx="1814" cy="1198" r="10"/><circle cx="1818" cy="1183" r="10"/><circle cx="1826" cy="1183" r="10"/><circle cx="1797" cy="1217" r="10"/></g>
<g fill="#ffffb3"><circle cx="1346" cy="1388" r="10"/><circle cx="1360" cy="1399" r="10"/><circle cx="1339" cy="1420" r="10"/><circle cx="1338" cy="1420" r="10"/><circle cx="1346" cy="1409" r="10"/><circle cx="1343" cy="1439" r="10"/><circle cx="1346" cy="1382" r="10"/><circle cx="1363" cy="1404" r="10"/><circle cx="1345" cy="1412" r="10"/><circle cx="1326" cy="1422" r="10"/><circle cx="1350" cy="1383" r="10"/><circle cx="1360" cy="1396" r="10"/><circle cx="1355" cy="1420" r="10"/><circle cx="1355" cy="1436" r="10"/><circle cx="1335" cy="1401" r="10"/><circle cx="1369" cy="1387" r="10"/><circle cx="1360" cy="1421" r="10"/><circle cx="1348" cy="1422" r="10"/><circle cx="1355" cy="1390" r="10"/><circle cx="1347" cy="1419" r="10"/><circle cx="1335" cy="1399" r="10"/><circle cx="1326" cy="1410" r="10"/><circle cx="1342" cy="1397" r="10"/><circle cx="1357" cy="1403" r="10"/><circle cx="1338" cy="1422" r="10"/><circle cx="1340" cy="1442" r="10"/><circle cx="1355" cy="1399" r="10"/><circle cx="1341" cy="1390" r="10"/><circle cx="1321" cy="1430" r="10"/><circle cx="1349" cy="1423" r="10"/><circle cx="1309" cy="1424" r="10"/><circle cx="1348" cy="1432" r="10"/><circle cx="1329" cy="1425" r="10"/><circle cx="1353" cy="1403" r="10"/><circle cx="1353" cy="1407" r="10"/><circle cx="1334" cy="1402" r="10"/><circle cx="1345" cy="1427" r="10"/><circle cx="1356" cy="1415" r="10"/><circle cx="1332" cy="1395" r="10"/><circle cx="1352" cy="1390" r="10"/><circle cx="1350" cy="1418" r="10"/><circle cx="1344" cy="1415" r="10"/><circle cx="1320" cy="1403" r="10"/><circle cx="1369" cy="1445" r="10"/><circle cx="1355" cy="1397" r="10"/><circle cx="1341" cy="1427" r="10"/><circle cx="1325" cy="1391" r="10"/><circle cx="1348" cy="1412" r="10"/><circle cx="1358" cy="1428" r="10"/><circle cx="1337" cy="1425" r="10"/><circle cx="1333" cy="1429" r="10"/><circle cx="1348" cy="1391" r="10"/><circle cx="1336" cy="1410" r="10"/><circle cx="1353" cy="1395" r="10"/><circle cx="1320" cy="1422" r="10"/><circle cx="1340" cy="1413" r="10"/><circle cx="1336" cy="1419" r="10"/><circle cx="1354" cy="1405" r="10"/><circle cx="1342" cy="1405" r="10"/><circle cx="1336" cy="1409" r="10"/><circle cx="1344" cy="1396" r="10"/><circle cx="1352" cy="1424" r="10"/><circle cx="1327" cy="1407" r="10"/><circle cx="1364" cy="1406" r="10"/><circle cx="1324" cy="1410" r="10"/><circle cx="1357" cy="1393" r="10"/><circle cx="1331" cy="1402" r="10"/><circle cx="1322" cy="1408" r="10"/><circle cx="1315" cy="1404" r="10"/><circle cx="1336" cy="1424" r="10"/><circle cx="1327" cy="1417" r="10"/><circle cx="1339" cy="1423" r="10"/><circle cx="1337" cy="1396" r="10"/><circle cx="1325" cy="1424" r="10"/><circle cx="1334" cy="1423" r="10"/></g>
<g fill="#ffffb3"><circle cx="1300" cy="1447" r="10"/><circle cx="1332" cy="1453" r="10"/><circle cx="1333" cy="1477" r="10"/><circle cx="1303" cy="1482" r="10"/><circle cx="1292" cy="1498" r="10"/><circle cx="1288" cy="1514" r="10"/></g>
<g fill="#ffffb3"><circle cx="1297" cy="1523" r="10"/><circle cx="1310" cy="1519" r="10"/><circle cx="1301" cy="1533" r="10"/><circle cx="1296" cy="1522" r="10"/><circle cx="1297" cy="1524" r="10"/><circle cx="1292" cy="1526" r="10"/><circle cx="1300" cy="1524" r="10"/><circle cx="1281" cy="1528" r="10"/><circle cx="1297" cy="1526" r="10"/><circle cx="1280" cy="1524" r="10"/><circle cx="1292" cy="1530" r="10"/><circle cx="1282" cy="1523" r="10"/></g>
<g fill="#fccde5"><circle cx="1339" cy="1420" r="10"/><circle cx="1364" cy="1430" r="10"/><circle cx="1323" cy="1398" r="10"/></g>
<g fill="#ffed6f"><circle cx="1538" cy="1283" r="10"/><circle cx="1552" cy="1342" r="10"/><circle cx="1541" cy="1270" r="10"/><circle cx="1521" cy="1274" r="10"/><circle cx="1528" cy="1280" r="10"/><circle cx="1540" cy="1317" r="10"/><circle cx="1531" cy="1271" r="10"/><circle cx="1513" cy="1331" r="10"/><circle cx="1526" cy="1276" r="10"/><circle cx="1525" cy="1329" r="10"/><circle cx="1528" cy="1314" r="10"/><circle cx="1510" cy="1318" r="10"/><circle cx="1524" cy="1266" r="10"/><circle cx="1531" cy="1255" r="10"/><circle cx="1534" cy="1270" r="10"/><circle cx="1516" cy="1304" r="10"/><circle cx="1534" cy="1289" r="10"/><circle cx="1490" cy="1301" r="10"/><circle cx="1545" cy="1265" r="10"/><circle cx="1502" cy="1266" r="10"/><circle cx="1501" cy="1309" r="10"/><circle cx="1544" cy="1288" r="10"/><circle cx="1522" cy="1317" r="10"/><circle cx="1549" cy="1270" r="10"/><circle cx="1526" cy="1353" r="10"/><circle cx="1502" cy="1264" r="10"/><circle cx="1510" cy="1320" r="10"/><circle cx="1504" cy="1340" r="10"/></g>
<g fill="#8dd3c7"><circle cx="1449" cy="1398" r="10"/><circle cx="1441" cy="1398" r="10"/><circle cx="1460" cy="1385" r="10"/><circle cx="1427" cy="1398" r="10"/><circle cx="1439" cy="1396" r="10"/><circle cx="1435" cy="1387" r="10"/><circle cx="1445" cy="1395" r="10"/><circle cx="1443" cy="1392" r="10"/><circle cx="1425" cy="1389" r="10"/><circle cx="1443" cy="1393" r="10"/><circle cx="1439" cy="1391" r="10"/><circle cx="1441" cy="1398" r="10"/><circle cx="1429" cy="1402" r="10"/><circle cx="1452" cy="1391" r="10"/><circle cx="1423" cy="1402" r="10"/><circle cx="1451" cy="1397" r="10"/><circle cx="1436" cy="1391" r="10"/><circle cx="1432" cy="1390" r="10"/><circle cx="1434" cy="1384" r="10"/><circle cx="1437" cy="1393" r="10"/><circle cx="1438" cy="1386" r="10"/><circle cx="1429" cy="1384" r="10"/><circle cx="1447" cy="1392" r="10"/><circle cx="1430" cy="1386" r="10"/><circle cx="1425" cy="1400" r="10"/><circle cx="1446" cy="1384" r="10"/><circle cx="1431" cy="1394" r="10"/><circle cx="1450" cy="1388" r="10"/><circle cx="1456" cy="1393" r="10"/><circle cx="1444" cy="1392" r="10"/><circle cx="1454" cy="1395" r="10"/><circle cx="1439" cy="1388" r="10"/><circle cx="1446" cy="1398" r="10"/><circle cx="1422" cy="1384" r="10"/><circle cx="1431" cy="1394" r="10"/><circle cx="1431" cy="1379" r="10"/><circle cx="1431" cy="1380" r="10"/><circle cx="1432" cy="1408" r="10"/><circle cx="1442" cy="1404" r="10"/><circle cx="1430" cy="1397" r="10"/><circle cx="1424" cy="1396" r="10"/><circle cx="1445" cy="1384" r="10"/></g>
<g fill="#8dd3c7"><circle cx="1425" cy="1423" r="10"/><circle cx="1434" cy="1408" r="10"/><circle cx="1434" cy="1422" r="10"/><circle cx="1435" cy="1431" r="10"/><circle cx="1433" cy="1434" r="10"/><circle cx="1425" cy="1444" r="10"/><circle cx="1440" cy="1410" r="10"/><circle cx="1430" cy="1435" r="10"/><circle cx="1431" cy="1422" r="10"/><circle cx="1429" cy="1433" r="10"/><circle cx="1426" cy="1442" r="10"/><circle cx="1427" cy="1416" r="10"/><circle cx="1431" cy="1417" r="10"/><circle cx="1429" cy="1431" r="10"/><circle cx="1430" cy="1437" r="10"/><circle cx="1422" cy="1417" r="10"/><circle cx="1430" cy="1434" r="10"/><circle cx="1428" cy="1412" r="10"/></g>
<g fill="#8dd3c7"><circle cx="1405" cy="1414" r="10"/><circle cx="1406" cy="1432" r="10"/><circle cx="1418" cy="1428" r="10"/></g>
<g fill="#80b1d3"><circle cx="1460" cy="1368" r="10"/><circle cx="1557" cy="1343" r="10"/><circle cx="1482" cy="1338" r="10"/><circle cx="1487" cy="1330" r="10"/><circle cx="1431" cy="1366" r="10"/><circle cx="1469" cy="1344" r="10"/><circle cx="1440" cy="1360" r="10"/><circle cx="1477" cy="1336" r="10"/><circle cx="1539" cy="1340" r="10"/><circle cx="1496" cy="1338" r="10"/><circle cx="1429" cy="1352" r="10"/><circle cx="1474" cy="1341" r="10"/><circle cx="1497" cy="1365" r="10"/><circle cx="1491" cy="1355" r="10"/><circle cx="1455" cy="1350" r="10"/><circle cx="1508" cy="1310" r="10"/><circle cx="1462" cy="1348" r="10"/><circle cx="1451" cy="1352" r="10"/><circle cx="1464" cy="1368" r="10"/><circle cx="1412" cy="1367" r="10"/><circle cx="1487" cy="1347" r="10"/><circle cx="1432" cy="1356" r="10"/><circle cx="1437" cy="1331" r="10"/><circle cx="1479" cy="1357" r="10"/><circle cx="1452" cy="1356" r="10"/><circle cx="1402" cy="1363" r="10"/><circle cx="1446" cy="1332" r="10"/><circle cx="1470" cy="1338" r="10"/><circle cx="1484" cy="1351" r="10"/><circle cx="1410" cy="1347" r="10"/><circle cx="1397" cy="1339" r="10"/><circle cx="1454" cy="1381" r="10"/><circle cx="1478" cy="1336" r="10"/><circle cx="1413" cy="1367" r="10"/><circle cx="1424" cy="1362" r="10"/><circle cx="1401" cy="1361" r="10"/><circle cx="1492" cy="1340" r="10"/><circle cx="1453" cy="1337" r="10"/><circle cx="1476" cy="1348" r="10"/><circle cx="1462" cy="1358" r="10"/><circle cx="1454" cy="1357" r="10"/><circle cx="1462" cy="1360" r="10"/><circle cx="1501" cy="1350" r="10"/><circle cx="1418" cy="1335" r="10"/><circle cx="1436" cy="1352" r="10"/><circle cx="1447" cy="1341" r="10"/><circle cx="1414" cy="1337" r="10"/><circle cx="1500" cy="1352" r="10"/><circle cx="1454" cy="1359" r="10"/><circle cx="1450" cy="1355" r="10"/><circle cx="1453" cy="1356" r="10"/><circle cx="1502" cy="1343" r="10"/><circle cx="1444" cy="1335" r="10"/><circle cx="1486" cy="1330" r="10"/><circle cx="1474" cy="1360" r="10"/><circle cx="1430" cy="1351" r="10"/><circle cx="1413" cy="1349" r="10"/><circle cx="1502" cy="1347" r="10"/><circle cx="1468" cy="1350" r="10"/><circle cx="1482" cy="1343" r="10"/><circle cx="1428" cy="1366" r="10"/><circle cx="1454" cy="1351" r="10"/><circle cx="1496" cy="1330" r="10"/><circle cx="1442" cy="1362" r="10"/><circle cx="1468" cy="1340" r="10"/><circle cx="1466" cy="1357" r="10"/><circle cx="1428" cy="1345" r="10"/><circle cx="1405" cy="1390" r="10"/><circle cx="1507" cy="1348" r="10"/><circle cx="1469" cy="1363" r="10"/><circle cx="1450" cy="1341" r="10"/><circle cx="1428" cy="1349" r="10"/><circle cx="1428" cy="1368" r="10"/><circle cx="1448" cy="1352" r="10"/><circle cx="1442" cy="1366" r="10"/><circle cx="1478" cy="1348" r="10"/><circle cx="1455" cy="1352" r="10"/><circle cx="1454" cy="1354" r="10"/><circle cx="1433" cy="1364" r="10"/><circle cx="1422" cy="1344" r="10"/><circle cx="1467" cy="1371" r="10"/><circle cx="1523" cy="1365" r="10"/><circle cx="1470" cy="1332" r="10"/><circle cx="1444" cy="1357" r="10"/><circle cx="1497" cy="1347" r="10"/><circle cx="1478" cy="1352" r="10"/><circle cx="1446" cy="1333" r="10"/><circle cx="1442" cy="1346" r="10"/><circle cx="1436" cy="1349" r="10"/><circle cx="1466" cy="1350" r="10"/><circle cx="1493" cy="1329" r="10"/><circle cx="1452" cy="1351" r="10"/><circle cx="1469" cy="1342" r="10"/><circle cx="1534" cy="1345" r="10"/><circle cx="1487" cy="1355" r="10"/><circle cx="1507" cy="1317" r="10"/><circle cx="1480" cy="1345" r="10"/><circle cx="1434" cy="1353" r="10"/><circle cx="1462" cy="1342" r="10"/><circle cx="1483" cy="1343" r="10"/><circle cx="1502" cy="1326" r="10"/><circle cx="1447" cy="1349" r="10"/><circle cx="1485" cy="1358" r="10"/><circle cx="1442" cy="1363" r="10"/><circle cx="1464" cy="1363" r="10"/><circle cx="1517" cy="1366" r="10"/><circle cx="1490" cy="1336" r="10"/><circle cx="1408" cy="1360" r="10"/><circle cx="1423" cy="1353" r="10"/><circle cx="1496" cy="1367" r="10"/><circle cx="1459" cy="1355" r="10"/><circle cx="1473" cy="1358" r="10"/><circle cx="1430" cy="1354" r="10"/><circle cx="1490" cy="1332" r="10"/><circle cx="1409" cy="1348" r="10"/><circle cx="1467" cy="1351" r="10"/><circle cx="1480" cy="1360" r="10"/><circle cx="1467" cy="1331" r="10"/><circle cx="1457" cy="1365" r="10"/><circle cx="1460" cy="1360" r="10"/><circle cx="1484" cy="1362" r="10"/><circle cx="1431" cy="1351" r="10"/><circle cx="1466" cy="1343" r="10"/><circle cx="1439" cy="1371" r="10"/><circle cx="1466" cy="1353" r="10"/><circle cx="1406" cy="1354" r="10"/><circle cx="1500" cy="1350" r="10"/><circle cx="1464" cy="1337" r="10"/><circle cx="1489" cy="1333" r="10"/><circle cx="1476" cy="1362" r="10"/><circle cx="1444" cy="1363" r="10"/><circle cx="1446" cy="1350" r="10"/><circle cx="1445" cy="1358" r="10"/><circle cx="1461" cy="1351" r="10"/><circle cx="1453" cy="1354" r="10"/><circle cx="1463" cy="1346" r="10"/><circle cx="1436" cy="1344" r="10"/><circle cx="1454" cy="1344" r="10"/><circle cx="1489" cy="1343" r="10"/><circle cx="1448" cy="1353" r="10"/><circle cx="1464" cy="1369" r="10"/><circle cx="1440" cy="1357" r="10"/><circle cx="1444" cy="1370" r="10"/><circle cx="1467" cy="1339" r="10"/><circle cx="1465" cy="1381" r="10"/><circle cx="1460" cy="1336" r="10"/><circle cx="1442" cy="1350" r="10"/><circle cx="1401" cy="1359" r="10"/><circle cx="1442" cy="1350" r="10"/><circle cx="1452" cy="1352" r="10"/><circle cx="1468" cy="1337" r="10"/><circle cx="1381" cy="1356" r="10"/><circle cx="1488" cy="1363" r="10"/><circle cx="1452" cy="1357" r="10"/><circle cx="1442" cy="1354" r="10"/><circle cx="1416" cy="1356" r="10"/><circle cx="1466" cy="1346" r="10"/><circle cx="1471" cy="1338" r="10"/><circle cx="1511" cy="1355" r="10"/><circle cx="1454" cy="1329" r="10"/><circle cx="1550" cy="1330" r="10"/><circle cx="1506" cy="1361" r="10"/><circle cx="1446" cy="1359" r="10"/><circle cx="1439" cy="1359" r="10"/><circle cx="1471" cy="1359" r="10"/><circle cx="1421" cy="1347" r="10"/><circle cx="1431" cy="1356" r="10"/><circle cx="1463" cy="1385" r="10"/><circle cx="1415" cy="1352" r="10"/><circle cx="1437" cy="1356" r="10"/><circle cx="1490" cy="1363" r="10"/><circle cx="1471" cy="1364" r="10"/><circle cx="1512" cy="1344" r="10"/><circle cx="1483" cy="1351" r="10"/><circle cx="1433" cy="1365" r="10"/><circle cx="1458" cy="1350" r="10"/><circle cx="1423" cy="1362" r="10"/><circle cx="1438" cy="1369" r="10"/><circle cx="1459" cy="1354" r="10"/><circle cx="1450" cy="1358" r="10"/><circle cx="1461" cy="1350" r="10"/><circle cx="1442" cy="1349" r="10"/><circle cx="1455" cy="1350" r="10"/><circle cx="1491" cy="1358" r="10"/><circle cx="1459" cy="1334" r="10"/><circle cx="1433" cy="1356" r="10"/><circle cx="1449" cy="1345" r="10"/><circle cx="1404" cy="1357" r="10"/><circle cx="1502" cy="1339" r="10"/><circle cx="1455" cy="1348" r="10"/><circle cx="1489" cy="1357" r="10"/><circle cx="1543" cy="1337" r="10"/><circle cx="1417" cy="1351" r="10"/><circle cx="1478" cy="1340" r="10"/><circle cx="1474" cy="1358" r="10"/><circle cx="1502" cy="1332" r="10"/><circle cx="1497" cy="1335" r="10"/><circle cx="1453" cy="1352" r="10"/><circle cx="1480" cy="1367" r="10"/><circle cx="1445" cy="1351" r="10"/><circle cx="1465" cy="1369" r="10"/><circle cx="1495" cy="1346" r="10"/><circle cx="1412" cy="1346" r="10"/><circle cx="1470" cy="1331" r="10"/><circle cx="1461" cy="1371" r="10"/><circle cx="1471" cy="1341" r="10"/><circle cx="1418" cy="1354" r="10"/><circle cx="1499" cy="1335" r="10"/><circle cx="1494" cy="1336" r="10"/><circle cx="1450" cy="1352" r="10"/><circle cx="1500" cy="1335" r="10"/><circle cx="1451" cy="1350" r="10"/><circle cx="1465" cy="1361" r="10"/><circle cx="1470" cy="1349" r="10"/><circle cx="1456" cy="1352" r="10"/><circle cx="1462" cy="1347" r="10"/><circle cx="1435" cy="1363" r="10"/><circle cx="1450" cy="1369" r="10"/><circle cx="1425" cy="1356" r="10"/><circle cx="1410" cy="1354" r="10"/><circle cx="1475" cy="1352" r="10"/><circle cx="1401" cy="1342" r="10"/><circle cx="1458" cy="1358" r="10"/><circle cx="1478" cy="1348" r="10"/><circle cx="1410" cy="1360" r="10"/><circle cx="1389" cy="1380" r="10"/><circle cx="1406" cy="1360" r="10"/><circle cx="1473" cy="1334" r="10"/><circle cx="1514" cy="1357" r="10"/><circle cx="1467" cy="1351" r="10"/><circle cx="1484" cy="1352" r="10"/><circle cx="1479" cy="1337" r="10"/><circle cx="1439" cy="1354" r="10"/><circle cx="1423" cy="1344" r="10"/><circle cx="1495" cy="1346" r="10"/></g>
<g fill="#80b1d3"><circle cx="1506" cy="1294" r="10"/><circle cx="1511" cy="1298" r="10"/><circle cx="1494" cy="1296" r="10"/><circle cx="1505" cy="1309" r="10"/><circle cx="1510" cy="1284" r="10"/><circle cx="1516" cy="1303" r="10"/><circle cx="1506" cy="1293" r="10"/><circle cx="1518" cy="1292" r="10"/><circle cx="1527" cy="1292" r="10"/><circle cx="1510" cy="1285" r="10"/><circle cx="1529" cy="1297" r="10"/><circle cx="1501" cy="1303" r="10"/><circle cx="1512" cy="1308" r="10"/><circle cx="1515" cy="1314" r="10"/><circle cx="1509" cy="1284" r="10"/><circle cx="1510" cy="1279" r="10"/><circle cx="1512" cy="1300" r="10"/><circle cx="1501" cy="1289" r="10"/><circle cx="1514" cy="1310" r="10"/><circle cx="1513" cy="1297" r="10"/><circle cx="1513" cy="1289" r="10"/><circle cx="1512" cy="1302" r="10"/><circle cx="1512" cy="1281" r="10"/><circle cx="1503" cy="1284" r="10"/><circle cx="1505" cy="1313" r="10"/><circle cx="1518" cy="1297" r="10"/><circle cx="1524" cy="1296" r="10"/><circle cx="1505" cy="1272" r="10"/><circle cx="1498" cy="1296" r="10"/><circle cx="1508" cy="1291" r="10"/><circle cx="1514" cy="1288" r="10"/><circle cx="1497" cy="1296" r="10"/><circle cx="1503" cy="1287" r="10"/><circle cx="1498" cy="1307" r="10"/><circle cx="1494" cy="1292" r="10"/><circle cx="1505" cy="1272" r="10"/><circle cx="1497" cy="1282" r="10"/><circle cx="1519" cy="1280" r="10"/><circle cx="1500" cy="1306" r="10"/><circle cx="1520" cy="1309" r="10"/><circle cx="1521" cy="1299" r="10"/><circle cx="1492" cy="1292" r="10"/><circle cx="1511" cy="1279" r="10"/><circle cx="1521" cy="1278" r="10"/><circle cx="1506" cy="1306" r="10"/><circle cx="1503" cy="1290" r="10"/></g>
<g fill="#80b1d3"><circle cx="1399" cy="1357" r="10"/><circle cx="1399" cy="1375" r="10"/><circle cx="1422" cy="1375" r="10"/><circle cx="1380" cy="1390" r="10"/><circle cx="1387" cy="1425" r="10"/><circle cx="1364" cy="1339" r="10"/><circle cx="1380" cy="1390" r="10"/><circle cx="1375" cy="1409" r="10"/><circle cx="1386" cy="1426" r="10"/><circle cx="1386" cy="1425" r="10"/><circle cx="1372" cy="1409" r="10"/></g>
<g fill="#b3de69"><circle cx="1426" cy="1309" r="10"/><circle cx="1437" cy="1330" r="10"/><circle cx="1445" cy="1311" r="10"/><circle cx="1454" cy="1316" r="10"/><circle cx="1469" cy="1326" r="10"/><circle cx="1485" cy="1318" r="10"/><circle cx="1505" cy="1318" r="10"/><circle cx="1538" cy="1288" r="10"/><circle cx="1458" cy="1310" r="10"/><circle cx="1433" cy="1316" r="10"/><circle cx="1353" cy="1304" r="10"/><circle cx="1312" cy="1283" r="10"/><circle cx="1327" cy="1225" r="10"/></g>
<g fill="#bc80bd"><circle cx="1455" cy="1294" r="10"/><circle cx="1477" cy="1390" r="10"/><circle cx="1516" cy="1380" r="10"/><circle cx="1520" cy="1455" r="10"/></g>
<g fill="#ccebc5"><circle cx="1595" cy="1266" r="10"/><circle cx="1564" cy="1219" r="10"/><circle cx="1570" cy="1224" r="10"/><circle cx="1600" cy="1163" r="10"/><circle cx="1590" cy="1309" r="10"/><circle cx="1516" cy="1252" r="10"/><circle cx="1590" cy="1212" r="10"/><circle cx="1479" cy="1196" r="10"/><circle cx="1548" cy="1260" r="10"/><circle cx="1575" cy="1160" r="10"/><circle cx="1587" cy="1109" r="10"/><circle cx="1673" cy="1173" r="10"/><circle cx="1569" cy="1195" r="10"/><circle cx="1530" cy="1134" r="10"/><circle cx="1606" cy="1190" r="10"/><circle cx="1596" cy="1170" r="10"/><circle cx="1616" cy="1083" r="10"/><circle cx="1580" cy="1215" r="10"/><circle cx="1652" cy="1218" r="10"/><circle cx="1623" cy="1276" r="10"/><circle cx="1674" cy="1197" r="10"/><circle cx="1670" cy="1147" r="10"/><circle cx="1591" cy="1231" r="10"/><circle cx="1538" cy="1271" r="10"/><circle cx="1626" cy="1178" r="10"/><circle cx="1535" cy="1256" r="10"/><circle cx="1600" cy="1188" r="10"/><circle cx="1528" cy="1163" r="10"/><circle cx="1557" cy="1232" r="10"/><circle cx="1516" cy="1234" r="10"/><circle cx="1648" cy="1278" r="10"/><circle cx="1533" cy="1212" r="10"/><circle cx="1547" cy="1287" r="10"/><circle cx="1604" cy="1295" r="10"/><circle cx="1567" cy="1212" r="10"/><circle cx="1584" cy="1227" r="10"/><circle cx="1618" cy="1232" r="10"/><circle cx="1618" cy="1281" r="10"/><circle cx="1580" cy="1267" r="10"/><circle cx="1584" cy="1195" r="10"/><circle cx="1586" cy="1243" r="10"/><circle cx="1582" cy="1236" r="10"/><circle cx="1531" cy="1297" r="10"/><circle cx="1610" cy="1206" r="10"/><circle cx="1549" cy="1201" r="10"/><circle cx="1521" cy="1211" r="10"/><circle cx="1588" cy="1268" r="10"/><circle cx="1583" cy="1199" r="10"/><circle cx="1602" cy="1285" r="10"/><circle cx="1635" cy="1244" r="10"/><circle cx="1611" cy="1199" r="10"/><circle cx="1566" cy="1287" r="10"/><circle cx="1558" cy="1278" r="10"/><circle cx="1647" cy="1264" r="10"/><circle cx="1604" cy="1174" r="10"/><circle cx="1608" cy="1223" r="10"/><circle cx="1596" cy="1148" r="10"/><circle cx="1590" cy="1227" r="10"/><circle cx="1536" cy="1274" r="10"/><circle cx="1632" cy="1195" r="10"/><circle cx="1557" cy="1229" r="10"/><circle cx="1626" cy="1215" r="10"/><circle cx="1600" cy="1290" r="10"/><circle cx="1544" cy="1298" r="10"/><circle cx="1518" cy="1169" r="10"/><circle cx="1556" cy="1148" r="10"/><circle cx="1574" cy="1185" r="10"/><circle cx="1527" cy="1225" r="10"/><circle cx="1496" cy="1236" r="10"/><circle cx="1571" cy="1190" r="10"/><circle cx="1486" cy="1202" r="10"/><circle cx="1626" cy="1175" r="10"/><circle cx="1628" cy="1176" r="10"/><circle cx="1628" cy="1089" r="10"/><circle cx="1592" cy="1297" r="10"/><circle cx="1497" cy="1202" r="10"/><circle cx="1616" cy="1190" r="10"/><circle cx="1597" cy="1203" r="10"/><circle cx="1654" cy="1214" r="10"/><circle cx="1606" cy="1257" r="10"/><circle cx="1517" cy="1200" r="10"/><circle cx="1581" cy="1238" r="10"/><circle cx="1641" cy="1130" r="10"/><circle cx="1628" cy="1148" r="10"/><circle cx="1542" cy="1283" r="10"/><circle cx="1616" cy="1258" r="10"/><circle cx="1557" cy="1142" r="10"/><circle cx="1625" cy="1245" r="10"/><circle cx="1659" cy="1113" r="10"/><circle cx="1581" cy="1188" r="10"/><circle cx="1525" cy="1249" r="10"/><circle cx="1569" cy="1240" r="10"/><circle cx="1591" cy="1118" r="10"/><circle cx="1623" cy="1125" r="10"/><circle cx="1530" cy="1306" r="10"/></g>
<g fill="#ccebc5"><circle cx="1550" cy="1271" r="10"/><circle cx="1571" cy="1278" r="10"/><circle cx="1568" cy="1256" r="10"/><circle cx="1577" cy="1285" r="10"/><circle cx="1553" cy="1264" r="10"/><circle cx="1554" cy="1290" r="10"/><circle cx="1569" cy="1278" r="10"/><circle cx="1579" cy="1250" r="10"/><circle cx="1586" cy="1272" r="10"/><circle cx="1583" cy="1304" r="10"/><circle cx="1600" cy="1295" r="10"/><circle cx="1580" cy="1290" r="10"/><circle cx="1615" cy="1261" r="10"/><circle cx="1524" cy="1303" r="10"/><circle cx="1558" cy="1259" r="10"/><circle cx="1554" cy="1298" r="10"/><circle cx="1579" cy="1282" r="10"/><circle cx="1566" cy="1315" r="10"/><circle cx="1591" cy="1266" r="10"/><circle cx="1581" cy="1263" r="10"/><circle cx="1590" cy="1299" r="10"/><circle cx="1556" cy="1308" r="10"/><circle cx="1575" cy="1309" r="10"/><circle cx="1574" cy="1282" r="10"/><circle cx="1584" cy="1258" r="10"/><circle cx="1593" cy="1282" r="10"/><circle cx="1567" cy="1285" r="10"/><circle cx="1567" cy="1242" r="10"/><circle cx="1577" cy="1252" r="10"/><circle cx="1546" cy="1285" r="10"/><circle cx="1597" cy="1282" r="10"/><circle cx="1559" cy="1287" r="10"/><circle cx="1558" cy="1276" r="10"/><circle cx="1586" cy="1290" r="10"/><circle cx="1573" cy="1294" r="10"/><circle cx="1564" cy="1246" r="10"/><circle cx="1563" cy="1307" r="10"/><circle cx="1591" cy="1312" r="10"/><circle cx="1597" cy="1271" r="10"/><circle cx="1543" cy="1255" r="10"/><circle cx="1593" cy="1270" r="10"/><circle cx="1574" cy="1287" r="10"/><circle cx="1592" cy="1265" r="10"/><circle cx="1536" cy="1267" r="10"/><circle cx="1551" cy="1272" r="10"/><circle cx="1586" cy="1250" r="10"/><circle cx="1548" cy="1255" r="10"/><circle cx="1542" cy="1276" r="10"/><circle cx="1550" cy="1247" r="10"/><circle cx="1583" cy="1246" r="10"/><circle cx="1546" cy="1255" r="10"/><circle cx="1556" cy="1286" r="10"/><circle cx="1569" cy="1266" r="10"/><circle cx="1576" cy="1290" r="10"/><circle cx="1562" cy="1277" r="10"/><circle cx="1572" cy="1245" r="10"/><circle cx="1561" cy="1303" r="10"/><circle cx="1559" cy="1287" r="10"/><circle cx="1579" cy="1274" r="10"/><circle cx="1585" cy="1271" r="10"/><circle cx="1546" cy="1249" r="10"/><circle cx="1551" cy="1293" r="10"/><circle cx="1574" cy="1302" r="10"/><circle cx="1590" cy="1263" r="10"/><circle cx="1592" cy="1311" r="10"/><circle cx="1588" cy="1286" r="10"/><circle cx="1572" cy="1353" r="10"/><circle cx="1587" cy="1258" r="10"/><circle cx="1591" cy="1283" r="10"/><circle cx="1570" cy="1301" r="10"/><circle cx="1605" cy="1268" r="10"/><circle cx="1576" cy="1265" r="10"/><circle cx="1597" cy="1254" r="10"/><circle cx="1606" cy="1282" r="10"/><circle cx="1580" cy="1280" r="10"/><circle cx="1571" cy="1272" r="10"/><circle cx="1580" cy="1322" r="10"/><circle cx="1569" cy="1284" r="10"/><circle cx="1586" cy="1268" r="10"/><circle cx="1567" cy="1311" r="10"/><circle cx="1574" cy="1262" r="10"/><circle cx="1597" cy="1319" r="10"/><circle cx="1573" cy="1286" r="10"/><circle cx="1551" cy="1312" r="10"/><circle cx="1565" cy="1242" r="10"/><circle cx="1559" cy="1255" r="10"/><circle cx="1583" cy="1291" r="10"/><circle cx="1569" cy="1262" r="10"/><circle cx="1575" cy="1252" r="10"/><circle cx="1584" cy="1298" r="10"/><circle cx="1577" cy="1276" r="10"/><circle cx="1583" cy="1286" r="10"/><circle cx="1552" cy="1266" r="10"/><circle cx="1573" cy="1309" r="10"/><circle cx="1546" cy="1256" r="10"/><circle cx="1579" cy="1296" r="10"/><circle cx="1583" cy="1275" r="10"/><circle cx="1560" cy="1270" r="10"/><circle cx="1572" cy="1323" r="10"/><circle cx="1535" cy="1247" r="10"/><circle cx="1568" cy="1264" r="10"/><circle cx="1608" cy="1258" r="10"/><circle cx="1571" cy="1300" r="10"/><circle cx="1560" cy="1297" r="10"/><circle cx="1570" cy="1281" r="10"/></g>
<g fill="#ccebc5"><circle cx="1399" cy="1191" r="10"/><circle cx="1396" cy="1194" r="10"/><circle cx="1396" cy="1183" r="10"/><circle cx="1417" cy="1189" r="10"/><circle cx="1422" cy="1201" r="10"/><circle cx="1414" cy="1200" r="10"/><circle cx="1414" cy="1201" r="10"/><circle cx="1397" cy="1190" r="10"/><circle cx="1417" cy="1189" r="10"/><circle cx="1430" cy="1200" r="10"/></g>
<g fill="#fb8072"><circle cx="1575" cy="906" r="10"/><circle cx="1677" cy="904" r="10"/><circle cx="1544" cy="937" r="10"/><circle cx="1536" cy="952" r="10"/><circle cx="1582" cy="965" r="10"/><circle cx="1490" cy="977" r="10"/><circle cx="1626" cy="980" r="10"/><circle cx="1659" cy="985" r="10"/><circle cx="1622" cy="1009" r="10"/><circle cx="1525" cy="1010" r="10"/><circle cx="1544" cy="1013" r="10"/><circle cx="1607" cy="1024" r="10"/><circle cx="1493" cy="1017" r="10"/><circle cx="1477" cy="1021" r="10"/><circle cx="1469" cy="1026" r="10"/><circle cx="1506" cy="1027" r="10"/><circle cx="1485" cy="1047" r="10"/><circle cx="1555" cy="1057" r="10"/><circle cx="1153" cy="968" r="10"/><circle cx="1095" cy="939" r="10"/><circle cx="1201" cy="1146" r="10"/><circle cx="1257" cy="1144" r="10"/><circle cx="1390" cy="1044" r="10"/><circle cx="1380" cy="1108" r="10"/><circle cx="1436" cy="1112" r="10"/><circle cx="1201" cy="1146" r="10"/><circle cx="1279" cy="1185" r="10"/><circle cx="1419" cy="1224" r="10"/><circle cx="1434" cy="1170" r="10"/><circle cx="1428" cy="1183" r="10"/><circle cx="1454" cy="1185" r="10"/><circle cx="1454" cy="1163" r="10"/><circle cx="1475" cy="1161" r="10"/><circle cx="1493" cy="1147" r="10"/><circle cx="1659" cy="985" r="10"/><circle cx="1428" cy="1182" r="10"/></g>
<g fill="#b3de69"><circle cx="1775" cy="899" r="10"/><circle cx="1800" cy="892" r="10"/><circle cx="1800" cy="908" r="10"/><circle cx="1766" cy="883" r="10"/><circle cx="1818" cy="869" r="10"/><circle cx="1770" cy="898" r="10"/><circle cx="1798" cy="890" r="10"/><circle cx="1752" cy="906" r="10"/><circle cx="1826" cy="904" r="10"/><circle cx="1769" cy="900" r="10"/><circle cx="1804" cy="876" r="10"/><circle cx="1764" cy="906" r="10"/><circle cx="1780" cy="845" r="10"/><circle cx="1767" cy="900" r="10"/><circle cx="1785" cy="867" r="10"/><circle cx="1789" cy="891" r="10"/><circle cx="1789" cy="885" r="10"/><circle cx="1790" cy="879" r="10"/><circle cx="1782" cy="880" r="10"/><circle cx="1782" cy="862" r="10"/><circle cx="1794" cy="908" r="10"/><circle cx="1793" cy="879" r="10"/><circle cx="1798" cy="886" r="10"/><circle cx="1854" cy="872" r="10"/><circle cx="1777" cy="900" r="10"/><circle cx="1840" cy="874" r="10"/><circle cx="1812" cy="896" r="10"/><circle cx="1821" cy="896" r="10"/><circle cx="1826" cy="886" r="10"/><circle cx="1819" cy="858" r="10"/><circle cx="1827" cy="890" r="10"/><circle cx="1788" cy="899" r="10"/><circle cx="1828" cy="888" r="10"/><circle cx="1813" cy="879" r="10"/><circle cx="1795" cy="885" r="10"/><circle cx="1801" cy="868" r="10"/><circle cx="1807" cy="884" r="10"/><circle cx="1795" cy="900" r="10"/><circle cx="1781" cy="872" r="10"/><circle cx="1814" cy="898" r="10"/><circle cx="1790" cy="908" r="10"/><circle cx="1802" cy="876" r="10"/><circle cx="1773" cy="901" r="10"/><circle cx="1796" cy="907" r="10"/><circle cx="1817" cy="890" r="10"/><circle cx="1758" cy="926" r="10"/><circle cx="1787" cy="887" r="10"/><circle cx="1817" cy="872" r="10"/><circle cx="1793" cy="872" r="10"/><circle cx="1801" cy="898" r="10"/><circle cx="1770" cy="897" r="10"/><circle cx="1777" cy="910" r="10"/><circle cx="1814" cy="898" r="10"/><circle cx="1826" cy="880" r="10"/><circle cx="1787" cy="898" r="10"/><circle cx="1806" cy="881" r="10"/><circle cx="1806" cy="878" r="10"/><circle cx="1783" cy="875" r="10"/><circle cx="1785" cy="904" r="10"/><circle cx="1805" cy="874" r="10"/><circle cx="1761" cy="903" r="10"/><circle cx="1803" cy="888" r="10"/><circle cx="1771" cy="877" r="10"/><circle cx="1803" cy="893" r="10"/><circle cx="1763" cy="885" r="10"/><circle cx="1766" cy="894" r="10"/><circle cx="1792" cy="909" r="10"/><circle cx="1785" cy="885" r="10"/><circle cx="1797" cy="879" r="10"/><circle cx="1803" cy="884" r="10"/><circle cx="1789" cy="870" r="10"/><circle cx="1799" cy="874" r="10"/><circle cx="1784" cy="894" r="10"/><circle cx="1788" cy="883" r="10"/><circle cx="1767" cy="883" r="10"/><circle cx="1829" cy="897" r="10"/><circle cx="1775" cy="873" r="10"/><circle cx="1817" cy="864" r="10"/><circle cx="1834" cy="878" r="10"/><circle cx="1816" cy="883" r="10"/><circle cx="1826" cy="869" r="10"/><circle cx="1808" cy="881" r="10"/><circle cx="1823" cy="884" r="10"/><circle cx="1795" cy="908" r="10"/><circle cx="1779" cy="870" r="10"/><circle cx="1797" cy="901" r="10"/><circle cx="1788" cy="893" r="10"/><circle cx="1773" cy="902" r="10"/><circle cx="1794" cy="888" r="10"/><circle cx="1826" cy="875" r="10"/><circle cx="1779" cy="895" r="10"/><circle cx="1799" cy="890" r="10"/><circle cx="1793" cy="883" r="10"/><circle cx="1789" cy="913" r="10"/><circle cx="1808" cy="870" r="10"/><circle cx="1787" cy="890" r="10"/><circle cx="1784" cy="891" r="10"/><circle cx="1754" cy="909" r="10"/><circle cx="1773" cy="892" r="10"/><circle cx="1816" cy="893" r="10"/><circle cx="1814" cy="908" r="10"/><circle cx="1823" cy="860" r="10"/><circle cx="1804" cy="887" r="10"/><circle cx="1835" cy="864" r="10"/><circle cx="1811" cy="859" r="10"/><circle cx="1802" cy="876" r="10"/><circle cx="1792" cy="870" r="10"/><circle cx="1785" cy="881" r="10"/><circle cx="1785" cy="869" r="10"/><circle cx="1821" cy="884" r="10"/><circle cx="1775" cy="897" r="10"/><circle cx="1806" cy="874" r="10"/><circle cx="1835" cy="868" r="10"/><circle cx="1775" cy="878" r="10"/><circle cx="1801" cy="914" r="10"/><circle cx="1788" cy="894" r="10"/><circle cx="1815" cy="862" r="10"/><circle cx="1774" cy="893" r="10"/><circle cx="1784" cy="900" r="10"/><circle cx="1785" cy="897" r="10"/><circle cx="1800" cy="905" r="10"/><circle cx="1796" cy="869" r="10"/><circle cx="1760" cy="888" r="10"/><circle cx="1819" cy="904" r="10"/><circle cx="1824" cy="860" r="10"/><circle cx="1801" cy="882" r="10"/><circle cx="1814" cy="879" r="10"/><circle cx="1760" cy="895" r="10"/><circle cx="1798" cy="876" r="10"/><circle cx="1777" cy="911" r="10"/><circle cx="1797" cy="899" r="10"/><circle cx="1810" cy="893" r="10"/><circle cx="1763" cy="880" r="10"/><circle cx="1797" cy="900" r="10"/><circle cx="1788" cy="890" r="10"/><circle cx="1792" cy="873" r="10"/><circle cx="1829" cy="851" r="10"/><circle cx="1775" cy="891" r="10"/><circle cx="1754" cy="892" r="10"/><circle cx="1799" cy="898" r="10"/><circle cx="1768" cy="895" r="10"/><circle cx="1769" cy="881" r="10"/><circle cx="1793" cy="885" r="10"/><circle cx="1806" cy="883" r="10"/><circle cx="1797" cy="902" r="10"/><circle cx="1791" cy="895" r="10"/><circle cx="1787" cy="909" r="10"/><circle cx="1819" cy="831" r="10"/><circle cx="1768" cy="901" r="10"/><circle cx="1812" cy="896" r="10"/><circle cx="1821" cy="879" r="10"/><circle cx="1750" cy="886" r="10"/><circle cx="1844" cy="885" r="10"/><circle cx="1820" cy="903" r="10"/><circle cx="1828" cy="891" r="10"/><circle cx="1826" cy="870" r="10"/><circle cx="1779" cy="902" r="10"/><circle cx="1812" cy="876" r="10"/><circle cx="1777" cy="890" r="10"/><circle cx="1773" cy="870" r="10"/><circle cx="1764" cy="896" r="10"/><circle cx="1771" cy="897" r="10"/><circle cx="1809" cy="909" r="10"/><circle cx="1752" cy="882" r="10"/><circle cx="1805" cy="872" r="10"/><circle cx="1815" cy="877" r="10"/><circle cx="1829" cy="867" r="10"/><circle cx="1786" cy="885" r="10"/><circle cx="1754" cy="900" r="10"/><circle cx="1837" cy="862" r="10"/><circle cx="1756" cy="868" r="10"/><circle cx="1762" cy="875" r="10"/><circle cx="1809" cy="890" r="10"/><circle cx="1804" cy="874" r="10"/><circle cx="1785" cy="876" r="10"/><circle cx="1804" cy="879" r="10"/><circle cx="1805" cy="882" r="10"/><circle cx="1852" cy="885" r="10"/><circle cx="1764" cy="894" r="10"/><circle cx="1787" cy="896" r="10"/><circle cx="1767" cy="880" r="10"/><circle cx="1818" cy="870" r="10"/><circle cx="1760" cy="906" r="10"/><circle cx="1778" cy="900" r="10"/><circle cx="1785" cy="903" r="10"/><circle cx="1792" cy="888" r="10"/><circle cx="1832" cy="873" r="10"/><circle cx="1808" cy="864" r="10"/><circle cx="1795" cy="867" r="10"/><circle cx="1795" cy="882" r="10"/><circle cx="1801" cy="875" r="10"/><circle cx="1768" cy="899" r="10"/><circle cx="1807" cy="898" r="10"/><circle cx="1810" cy="914" r="10"/><circle cx="1818" cy="891" r="10"/><circle cx="1777" cy="888" r="10"/><circle cx="1788" cy="881" r="10"/><circle cx="1783" cy="895" r="10"/><circle cx="1776" cy="895" r="10"/><circle cx="1814" cy="882" r="10"/><circle cx="1799" cy="889" r="10"/><circle cx="1807" cy="892" r="10"/><circle cx="1757" cy="918" r="10"/><circle cx="1794" cy="886" r="10"/><circle cx="1780" cy="886" r="10"/><circle cx="1824" cy="864" r="10"/><circle cx="1832" cy="890" r="10"/><circle cx="1818" cy="901" r="10"/><circle cx="1789" cy="883" r="10"/><circle cx="1830" cy="872" r="10"/><circle cx="1793" cy="895" r="10"/><circle cx="1779" cy="886" r="10"/><circle cx="1794" cy="891" r="10"/><circle cx="1831" cy="878" r="10"/><circle cx="1754" cy="895" r="10"/><circle cx="1808" cy="893" r="10"/><circle cx="1751" cy="894" r="10"/><circle cx="1767" cy="918" r="10"/><circle cx="1760" cy="890" r="10"/><circle cx="1781" cy="869" r="10"/><circle cx="1811" cy="860" r="10"/><circle cx="1796" cy="903" r="10"/><circle cx="1804" cy="868" r="10"/><circle cx="1806" cy="872" r="10"/><circle cx="1775" cy="897" r="10"/><circle cx="1786" cy="888" r="10"/><circle cx="1789" cy="899" r="10"/><circle cx="1808" cy="862" r="10"/><circle cx="1811" cy="896" r="10"/><circle cx="1830" cy="884" r="10"/><circle cx="1803" cy="868" r="10"/><circle cx="1804" cy="873" r="10"/><circle cx="1779" cy="871" r="10"/><circle cx="1772" cy="896" r="10"/><circle cx="1841" cy="911" r="10"/><circle cx="1784" cy="914" r="10"/><circle cx="1770" cy="900" r="10"/><circle cx="1837" cy="891" r="10"/><circle cx="1778" cy="865" r="10"/><circle cx="1794" cy="913" r="10"/><circle cx="1766" cy="893" r="10"/><circle cx="1849" cy="884" r="10"/><circle cx="1783" cy="860" r="10"/><circle cx="1771" cy="880" r="10"/><circle cx="1794" cy="900" r="10"/><circle cx="1794" cy="881" r="10"/><circle cx="1782" cy="906" r="10"/><circle cx="1818" cy="863" r="10"/><circle cx="1786" cy="898" r="10"/><circle cx="1807" cy="917" r="10"/></g>
<g fill="#b3de69"><circle cx="1870" cy="848" r="10"/><circle cx="1868" cy="831" r="10"/><circle cx="1874" cy="840" r="10"/><circle cx="1880" cy="840" r="10"/><circle cx="1865" cy="838" r="10"/><circle cx="1856" cy="840" r="10"/><circle cx="1855" cy="840" r="10"/><circle cx="1897" cy="831" r="10"/><circle cx="1851" cy="861" r="10"/><circle cx="1864" cy="840" r="10"/><circle cx="1860" cy="837" r="10"/><circle cx="1886" cy="852" r="10"/><circle cx="1850" cy="848" r="10"/><circle cx="1881" cy="830" r="10"/><circle cx="1880" cy="840" r="10"/><circle cx="1893" cy="826" r="10"/><circle cx="1892" cy="840" r="10"/><circle cx="1881" cy="837" r="10"/><circle cx="1878" cy="842" r="10"/><circle cx="1854" cy="843" r="10"/><circle cx="1854" cy="848" r="10"/><circle cx="1864" cy="861" r="10"/><circle cx="1853" cy="857" r="10"/><circle cx="1886" cy="840" r="10"/><circle cx="1869" cy="834" r="10"/><circle cx="1872" cy="839" r="10"/><circle cx="1880" cy="834" r="10"/><circle cx="1850" cy="842" r="10"/><circle cx="1894" cy="842" r="10"/><circle cx="1869" cy="840" r="10"/><circle cx="1852" cy="855" r="10"/><circle cx="1886" cy="857" r="10"/><circle cx="1874" cy="855" r="10"/><circle cx="1861" cy="846" r="10"/><circle cx="1872" cy="845" r="10"/><circle cx="1893" cy="853" r="10"/><circle cx="1852" cy="838" r="10"/><circle cx="1892" cy="830" r="10"/><circle cx="1874" cy="838" r="10"/><circle cx="1898" cy="833" r="10"/><circle cx="1852" cy="862" r="10"/><circle cx="1877" cy="861" r="10"/><circle cx="1867" cy="841" r="10"/><circle cx="1890" cy="830" r="10"/><circle cx="1842" cy="858" r="10"/><circle cx="1879" cy="844" r="10"/><circle cx="1861" cy="838" r="10"/><circle cx="1856" cy="849" r="10"/><circle cx="1842" cy="857" r="10"/><circle cx="1856" cy="855" r="10"/><circle cx="1837" cy="852" r="10"/><circle cx="1870" cy="848" r="10"/><circle cx="1873" cy="826" r="10"/><circle cx="1887" cy="838" r="10"/><circle cx="1876" cy="847" r="10"/><circle cx="1875" cy="856" r="10"/><circle cx="1866" cy="856" r="10"/><circle cx="1862" cy="838" r="10"/><circle cx="1866" cy="851" r="10"/><circle cx="1874" cy="843" r="10"/><circle cx="1850" cy="850" r="10"/><circle cx="1886" cy="836" r="10"/><circle cx="1858" cy="840" r="10"/><circle cx="1876" cy="833" r="10"/><circle cx="1893" cy="836" r="10"/><circle cx="1877" cy="845" r="10"/><circle cx="1856" cy="859" r="10"/><circle cx="1866" cy="844" r="10"/><circle cx="1849" cy="841" r="10"/><circle cx="1861" cy="836" r="10"/><circle cx="1869" cy="849" r="10"/><circle cx="1880" cy="846" r="10"/><circle cx="1846" cy="854" r="10"/><circle cx="1844" cy="849" r="10"/><circle cx="1866" cy="851" r="10"/><circle cx="1840" cy="844" r="10"/><circle cx="1866" cy="851" r="10"/><circle cx="1879" cy="841" r="10"/><circle cx="1860" cy="840" r="10"/><circle cx="1884" cy="858" r="10"/><circle cx="1900" cy="829" r="10"/><circle cx="1904" cy="835" r="10"/><circle cx="1887" cy="845" r="10"/><circle cx="1886" cy="846" r="10"/><circle cx="1854" cy="852" r="10"/><circle cx="1864" cy="836" r="10"/><circle cx="1876" cy="841" r="10"/><circle cx="1910" cy="840" r="10"/><circle cx="1836" cy="851" r="10"/><circle cx="1859" cy="838" r="10"/><circle cx="1852" cy="861" r="10"/><circle cx="1892" cy="836" r="10"/><circle cx="1876" cy="853" r="10"/><circle cx="1866" cy="863" r="10"/><circle cx="1863" cy="858" r="10"/><circle cx="1867" cy="849" r="10"/><circle cx="1894" cy="832" r="10"/><circle cx="1868" cy="838" r="10"/><circle cx="1891" cy="837" r="10"/><circle cx="1868" cy="848" r="10"/></g>
<g fill="#b3de69"><circle cx="1784" cy="839" r="10"/><circle cx="1787" cy="847" r="10"/><circle cx="1780" cy="853" r="10"/><circle cx="1792" cy="850" r="10"/><circle cx="1785" cy="849" r="10"/></g>
<g fill="#b3de69"><circle cx="1682" cy="888" r="10"/><circle cx="1714" cy="868" r="10"/><circle cx="1711" cy="882" r="10"/><circle cx="1704" cy="894" r="10"/><circle cx="1714" cy="898" r="10"/><circle cx="1669" cy="916" r="10"/><circle cx="1698" cy="914" r="10"/><circle cx="1682" cy="935" r="10"/><circle cx="1676" cy="941" r="10"/><circle cx="1692" cy="952" r="10"/><circle cx="1656" cy="960" r="10"/><circle cx="1741" cy="967" r="10"/><circle cx="1742" cy="941" r="10"/><circle cx="1768" cy="942" r="10"/><circle cx="1800" cy="934" r="10"/><circle cx="1873" cy="895" r="10"/><circle cx="1877" cy="882" r="10"/><circle cx="1920" cy="860" r="10"/><circle cx="1830" cy="822" r="10"/><circle cx="1849" cy="821" r="10"/><circle cx="1785" cy="839" r="10"/><circle cx="1616" cy="923" r="10"/><circle cx="1619" cy="931" r="10"/><circle cx="1669" cy="917" r="10"/><circle cx="1679" cy="937" r="10"/><circle cx="1677" cy="942" r="10"/><circle cx="1744" cy="983" r="10"/><circle cx="1656" cy="960" r="10"/></g>
<g fill="#bc80bd"><circle cx="1710" cy="913" r="10"/></g>
<g fill="#fb8072"><circle cx="1677" cy="904" r="10"/><circle cx="1711" cy="923" r="10"/><circle cx="1706" cy="932" r="10"/><circle cx="1726" cy="938" r="10"/><circle cx="1724" cy="951" r="10"/><circle cx="1851" cy="904" r="10"/><circle cx="1865" cy="915" r="10"/></g>
<g fill="#80b1d3"><circle cx="1664" cy="973" r="10"/><circle cx="1664" cy="972" r="10"/></g>
<g fill="#ccebc5"><circle cx="1986" cy="840" r="10"/><circle cx="1998" cy="840" r="10"/><circle cx="1993" cy="859" r="10"/><circle cx="2000" cy="861" r="10"/><circle cx="1974" cy="870" r="10"/><circle cx="1984" cy="868" r="10"/><circle cx="2013" cy="867" r="10"/></g>
<g fill="#ccebc5"><circle cx="1831" cy="1150" r="10"/><circle cx="1842" cy="1158" r="10"/><circle cx="1853" cy="1149" r="10"/><circle cx="1878" cy="1155" r="10"/><circle cx="1884" cy="1140" r="10"/><circle cx="1925" cy="1130" r="10"/><circle cx="1931" cy="1124" r="10"/><circle cx="1941" cy="1138" r="10"/><circle cx="1947" cy="1137" r="10"/><circle cx="1784" cy="1213" r="10"/><circle cx="1714" cy="1314" r="10"/><circle cx="1657" cy="1355" r="10"/><circle cx="1640" cy="1328" r="10"/><circle cx="2144" cy="1459" r="10"/><circle cx="2167" cy="1455" r="10"/><circle cx="2117" cy="1500" r="10"/></g>
<g fill="#b3de69"><circle cx="2798" cy="362" r="10"/><circle cx="2810" cy="359" r="10"/><circle cx="2793" cy="375" r="10"/><circle cx="2800" cy="356" r="10"/><circle cx="2817" cy="360" r="10"/><circle cx="2817" cy="362" r="10"/><circle cx="2825" cy="351" r="10"/><circle cx="2800" cy="362" r="10"/><circle cx="2822" cy="369" r="10"/><circle cx="2808" cy="379" r="10"/><circle cx="2797" cy="370" r="10"/><circle cx="2820" cy="364" r="10"/><circle cx="2814" cy="369" r="10"/><circle cx="2833" cy="366" r="10"/><circle cx="2839" cy="363" r="10"/><circle cx="2810" cy="373" r="10"/><circle cx="2811" cy="362" r="10"/><circle cx="2812" cy="360" r="10"/><circle cx="2826" cy="378" r="10"/><circle cx="2823" cy="368" r="10"/><circle cx="2775" cy="360" r="10"/><circle cx="2784" cy="364" r="10"/><circle cx="2794" cy="381" r="10"/><circle cx="2797" cy="352" r="10"/><circle cx="2772" cy="377" r="10"/><circle cx="2796" cy="371" r="10"/><circle cx="2800" cy="366" r="10"/><circle cx="2823" cy="363" r="10"/><circle cx="2810" cy="360" r="10"/><circle cx="2775" cy="374" r="10"/><circle cx="2774" cy="375" r="10"/><circle cx="2844" cy="368" r="10"/><circle cx="2796" cy="381" r="10"/><circle cx="2826" cy="365" r="10"/><circle cx="2781" cy="372" r="10"/><circle cx="2815" cy="359" r="10"/><circle cx="2818" cy="367" r="10"/><circle cx="2816" cy="353" r="10"/><circle cx="2771" cy="369" r="10"/><circle cx="2813" cy="375" r="10"/><circle cx="2787" cy="371" r="10"/><circle cx="2795" cy="369" r="10"/><circle cx="2777" cy="366" r="10"/><circle cx="2769" cy="368" r="10"/><circle cx="2821" cy="355" r="10"/><circle cx="2786" cy="372" r="10"/><circle cx="2816" cy="367" r="10"/><circle cx="2796" cy="372" r="10"/><circle cx="2793" cy="359" r="10"/><circle cx="2784" cy="369" r="10"/><circle cx="2772" cy="371" r="10"/><circle cx="2799" cy="373" r="10"/><circle cx="2807" cy="369" r="10"/><circle cx="2775" cy="366" r="10"/><circle cx="2817" cy="376" r="10"/><circle cx="2794" cy="369" r="10"/><circle cx="2830" cy="374" r="10"/><circle cx="2820" cy="362" r="10"/><circle cx="2786" cy="365" r="10"/><circle cx="2787" cy="368" r="10"/><circle cx="2793" cy="368" r="10"/><circle cx="2805" cy="372" r="10"/><circle cx="2776" cy="370" r="10"/><circle cx="2788" cy="366" r="10"/><circle cx="2790" cy="362" r="10"/><circle cx="2822" cy="361" r="10"/><circle cx="2820" cy="372" r="10"/><circle cx="2793" cy="384" r="10"/><circle cx="2770" cy="374" r="10"/><circle cx="2799" cy="365" r="10"/><circle cx="2824" cy="361" r="10"/><circle cx="2818" cy="367" r="10"/><circle cx="2813" cy="359" r="10"/><circle cx="2799" cy="354" r="10"/><circle cx="2803" cy="371" r="10"/><circle cx="2812" cy="372" r="10"/><circle cx="2808" cy="377" r="10"/><circle cx="2794" cy="359" r="10"/><circle cx="2842" cy="364" r="10"/><circle cx="2775" cy="378" r="10"/><circle cx="2810" cy="366" r="10"/><circle cx="2827" cy="361" r="10"/><circle cx="2798" cy="368" r="10"/><circle cx="2818" cy="360" r="10"/><circle cx="2814" cy="364" r="10"/><circle cx="2780" cy="383" r="10"/><circle cx="2840" cy="353" r="10"/><circle cx="2839" cy="368" r="10"/><circle cx="2826" cy="349" r="10"/><circle cx="2802" cy="362" r="10"/><circle cx="2793" cy="369" r="10"/><circle cx="2832" cy="365" r="10"/><circle cx="2775" cy="358" r="10"/><circle cx="2842" cy="369" r="10"/><circle cx="2771" cy="372" r="10"/><circle cx="2801" cy="377" r="10"/><circle cx="2801" cy="360" r="10"/><circle cx="2822" cy="366" r="10"/><circle cx="2801" cy="364" r="10"/><circle cx="2830" cy="363" r="10"/><circle cx="2796" cy="367" r="10"/><circle cx="2806" cy="356" r="10"/><circle cx="2777" cy="379" r="10"/><circle cx="2816" cy="370" r="10"/><circle cx="2814" cy="362" r="10"/></g>
<g fill="#bc80bd"><circle cx="1432" cy="1535" r="10"/><circle cx="1434" cy="1540" r="10"/><circle cx="1371" cy="1536" r="10"/><circle cx="1400" cy="1524" r="10"/><circle cx="1427" cy="1536" r="10"/><circle cx="1433" cy="1548" r="10"/><circle cx="1380" cy="1528" r="10"/><circle cx="1403" cy="1543" r="10"/><circle cx="1391" cy="1542" r="10"/><circle cx="1379" cy="1542" r="10"/><circle cx="1382" cy="1538" r="10"/><circle cx="1429" cy="1536" r="10"/><circle cx="1351" cy="1548" r="10"/><circle cx="1367" cy="1537" r="10"/><circle cx="1402" cy="1545" r="10"/><circle cx="1385" cy="1555" r="10"/><circle cx="1371" cy="1548" r="10"/><circle cx="1350" cy="1549" r="10"/><circle cx="1427" cy="1534" r="10"/><circle cx="1391" cy="1542" r="10"/><circle cx="1376" cy="1528" r="10"/><circle cx="1387" cy="1534" r="10"/><circle cx="1386" cy="1535" r="10"/><circle cx="1355" cy="1540" r="10"/><circle cx="1375" cy="1543" r="10"/><circle cx="1380" cy="1531" r="10"/><circle cx="1391" cy="1540" r="10"/><circle cx="1367" cy="1560" r="10"/><circle cx="1372" cy="1541" r="10"/><circle cx="1396" cy="1537" r="10"/><circle cx="1353" cy="1538" r="10"/><circle cx="1365" cy="1540" r="10"/><circle cx="1388" cy="1552" r="10"/><circle cx="1381" cy="1538" r="10"/><circle cx="1391" cy="1526" r="10"/><circle cx="1384" cy="1529" r="10"/><circle cx="1385" cy="1546" r="10"/><circle cx="1384" cy="1525" r="10"/><circle cx="1388" cy="1540" r="10"/><circle cx="1368" cy="1532" r="10"/><circle cx="1410" cy="1544" r="10"/><circle cx="1402" cy="1538" r="10"/><circle cx="1414" cy="1533" r="10"/><circle cx="1384" cy="1531" r="10"/><circle cx="1405" cy="1533" r="10"/><circle cx="1397" cy="1555" r="10"/><circle cx="1365" cy="1533" r="10"/><circle cx="1386" cy="1555" r="10"/><circle cx="1401" cy="1557" r="10"/><circle cx="1412" cy="1554" r="10"/><circle cx="1348" cy="1543" r="10"/><circle cx="1404" cy="1534" r="10"/><circle cx="1353" cy="1534" r="10"/><circle cx="1440" cy="1536" r="10"/><circle cx="1363" cy="1530" r="10"/><circle cx="1405" cy="1547" r="10"/><circle cx="1390" cy="1548" r="10"/><circle cx="1360" cy="1543" r="10"/><circle cx="1407" cy="1546" r="10"/><circle cx="1362" cy="1530" r="10"/><circle cx="1405" cy="1529" r="10"/><circle cx="1356" cy="1550" r="10"/><circle cx="1414" cy="1537" r="10"/><circle cx="1389" cy="1530" r="10"/><circle cx="1374" cy="1545" r="10"/><circle cx="1368" cy="1521" r="10"/><circle cx="1348" cy="1553" r="10"/><circle cx="1403" cy="1538" r="10"/><circle cx="1385" cy="1534" r="10"/><circle cx="1414" cy="1538" r="10"/><circle cx="1401" cy="1546" r="10"/><circle cx="1374" cy="1542" r="10"/><circle cx="1388" cy="1558" r="10"/><circle cx="1370" cy="1537" r="10"/><circle cx="1365" cy="1555" r="10"/><circle cx="1386" cy="1535" r="10"/><circle cx="1396" cy="1534" r="10"/><circle cx="1361" cy="1545" r="10"/><circle cx="1396" cy="1534" r="10"/><circle cx="1355" cy="1539" r="10"/><circle cx="1344" cy="1539" r="10"/><circle cx="1404" cy="1533" r="10"/><circle cx="1388" cy="1532" r="10"/><circle cx="1373" cy="1546" r="10"/><circle cx="1369" cy="1554" r="10"/><circle cx="1387" cy="1550" r="10"/><circle cx="1406" cy="1548" r="10"/><circle cx="1370" cy="1546" r="10"/><circle cx="1397" cy="1541" r="10"/><circle cx="1382" cy="1528" r="10"/><circle cx="1395" cy="1538" r="10"/><circle cx="1432" cy="1538" r="10"/><circle cx="1368" cy="1550" r="10"/><circle cx="1374" cy="1539" r="10"/><circle cx="1378" cy="1550" r="10"/><circle cx="1352" cy="1541" r="10"/><circle cx="1398" cy="1534" r="10"/><circle cx="1396" cy="1526" r="10"/><circle cx="1353" cy="1531" r="10"/><circle cx="1416" cy="1527" r="10"/><circle cx="1378" cy="1539" r="10"/><circle cx="1394" cy="1543" r="10"/><circle cx="1402" cy="1542" r="10"/><circle cx="1363" cy="1548" r="10"/><circle cx="1352" cy="1538" r="10"/><circle cx="1374" cy="1532" r="10"/><circle cx="1393" cy="1521" r="10"/><circle cx="1408" cy="1554" r="10"/><circle cx="1336" cy="1548" r="10"/><circle cx="1369" cy="1543" r="10"/><circle cx="1366" cy="1534" r="10"/><circle cx="1401" cy="1540" r="10"/><circle cx="1376" cy="1526" r="10"/><circle cx="1403" cy="1529" r="10"/><circle cx="1420" cy="1552" r="10"/><circle cx="1377" cy="1541" r="10"/><circle cx="1396" cy="1540" r="10"/><circle cx="1408" cy="1548" r="10"/><circle cx="1416" cy="1531" r="10"/><circle cx="1395" cy="1529" r="10"/><circle cx="1372" cy="1543" r="10"/><circle cx="1405" cy="1535" r="10"/><circle cx="1367" cy="1537" r="10"/><circle cx="1384" cy="1558" r="10"/><circle cx="1402" cy="1550" r="10"/><circle cx="1363" cy="1530" r="10"/><circle cx="1367" cy="1541" r="10"/><circle cx="1395" cy="1521" r="10"/><circle cx="1394" cy="1540" r="10"/><circle cx="1388" cy="1550" r="10"/></g>
<g fill="#bc80bd"><circle cx="1444" cy="1509" r="10"/><circle cx="1476" cy="1497" r="10"/><circle cx="1491" cy="1488" r="10"/><circle cx="1486" cy="1494" r="10"/><circle cx="1490" cy="1500" r="10"/><circle cx="1478" cy="1502" r="10"/><circle cx="1457" cy="1518" r="10"/><circle cx="1484" cy="1488" r="10"/><circle cx="1447" cy="1520" r="10"/><circle cx="1504" cy="1496" r="10"/><circle cx="1497" cy="1501" r="10"/><circle cx="1474" cy="1494" r="10"/><circle cx="1487" cy="1504" r="10"/><circle cx="1467" cy="1509" r="10"/><circle cx="1476" cy="1515" r="10"/><circle cx="1463" cy="1520" r="10"/><circle cx="1504" cy="1504" r="10"/><circle cx="1464" cy="1513" r="10"/><circle cx="1482" cy="1502" r="10"/><circle cx="1481" cy="1504" r="10"/><circle cx="1475" cy="1492" r="10"/><circle cx="1486" cy="1506" r="10"/><circle cx="1480" cy="1495" r="10"/><circle cx="1470" cy="1508" r="10"/><circle cx="1450" cy="1522" r="10"/><circle cx="1502" cy="1494" r="10"/><circle cx="1489" cy="1490" r="10"/><circle cx="1506" cy="1503" r="10"/><circle cx="1467" cy="1508" r="10"/><circle cx="1473" cy="1510" r="10"/><circle cx="1488" cy="1503" r="10"/><circle cx="1494" cy="1504" r="10"/><circle cx="1472" cy="1509" r="10"/><circle cx="1461" cy="1523" r="10"/><circle cx="1476" cy="1505" r="10"/><circle cx="1498" cy="1502" r="10"/></g>
<g fill="#bc80bd"><circle cx="1520" cy="1455" r="10"/><circle cx="1442" cy="1461" r="10"/><circle cx="1440" cy="1477" r="10"/><circle cx="1375" cy="1568" r="10"/><circle cx="1402" cy="1570" r="10"/><circle cx="1362" cy="1586" r="10"/><circle cx="1346" cy="1602" r="10"/></g>
<g fill="#8dd3c7"><circle cx="1414" cy="1496" r="10"/><circle cx="1397" cy="1495" r="10"/><circle cx="1402" cy="1505" r="10"/><circle cx="1408" cy="1504" r="10"/><circle cx="1389" cy="1503" r="10"/><circle cx="1402" cy="1512" r="10"/><circle cx="1347" cy="1498" r="10"/><circle cx="1412" cy="1494" r="10"/><circle cx="1402" cy="1508" r="10"/><circle cx="1405" cy="1509" r="10"/><circle cx="1382" cy="1518" r="10"/><circle cx="1365" cy="1515" r="10"/><circle cx="1375" cy="1500" r="10"/><circle cx="1413" cy="1499" r="10"/><circle cx="1392" cy="1505" r="10"/><circle cx="1372" cy="1503" r="10"/><circle cx="1385" cy="1511" r="10"/><circle cx="1386" cy="1487" r="10"/><circle cx="1387" cy="1522" r="10"/><circle cx="1393" cy="1508" r="10"/><circle cx="1391" cy="1502" r="10"/><circle cx="1373" cy="1503" r="10"/><circle cx="1394" cy="1492" r="10"/><circle cx="1412" cy="1505" r="10"/><circle cx="1424" cy="1504" r="10"/><circle cx="1411" cy="1488" r="10"/><circle cx="1403" cy="1501" r="10"/><circle cx="1385" cy="1490" r="10"/><circle cx="1415" cy="1505" r="10"/><circle cx="1414" cy="1515" r="10"/><circle cx="1372" cy="1482" r="10"/><circle cx="1392" cy="1499" r="10"/><circle cx="1366" cy="1500" r="10"/><circle cx="1382" cy="1493" r="10"/><circle cx="1392" cy="1496" r="10"/><circle cx="1392" cy="1517" r="10"/><circle cx="1408" cy="1507" r="10"/><circle cx="1421" cy="1504" r="10"/><circle cx="1395" cy="1503" r="10"/><circle cx="1356" cy="1503" r="10"/><circle cx="1364" cy="1521" r="10"/><circle cx="1398" cy="1494" r="10"/><circle cx="1412" cy="1504" r="10"/><circle cx="1372" cy="1515" r="10"/><circle cx="1407" cy="1510" r="10"/><circle cx="1420" cy="1487" r="10"/><circle cx="1369" cy="1499" r="10"/><circle cx="1394" cy="1492" r="10"/><circle cx="1380" cy="1509" r="10"/><circle cx="1361" cy="1515" r="10"/><circle cx="1401" cy="1507" r="10"/><circle cx="1379" cy="1491" r="10"/><circle cx="1412" cy="1491" r="10"/><circle cx="1391" cy="1489" r="10"/><circle cx="1378" cy="1505" r="10"/><circle cx="1426" cy="1513" r="10"/><circle cx="1363" cy="1493" r="10"/><circle cx="1410" cy="1506" r="10"/><circle cx="1404" cy="1495" r="10"/><circle cx="1379" cy="1492" r="10"/><circle cx="1387" cy="1498" r="10"/><circle cx="1395" cy="1498" r="10"/><circle cx="1417" cy="1489" r="10"/><circle cx="1412" cy="1505" r="10"/><circle cx="1418" cy="1502" r="10"/><circle cx="1430" cy="1498" r="10"/><circle cx="1431" cy="1492" r="10"/><circle cx="1406" cy="1506" r="10"/><circle cx="1387" cy="1506" r="10"/><circle cx="1390" cy="1507" r="10"/><circle cx="1400" cy="1488" r="10"/><circle cx="1392" cy="1511" r="10"/><circle cx="1370" cy="1508" r="10"/><circle cx="1404" cy="1514" r="10"/><circle cx="1393" cy="1492" r="10"/><circle cx="1379" cy="1496" r="10"/><circle cx="1414" cy="1516" r="10"/><circle cx="1402" cy="1497" r="10"/><circle cx="1416" cy="1489" r="10"/><circle cx="1419" cy="1499" r="10"/><circle cx="1395" cy="1491" r="10"/><circle cx="1413" cy="1509" r="10"/><circle cx="1421" cy="1498" r="10"/><circle cx="1395" cy="1508" r="10"/><circle cx="1408" cy="1495" r="10"/><circle cx="1397" cy="1496" r="10"/><circle cx="1406" cy="1505" r="10"/><circle cx="1374" cy="1513" r="10"/><circle cx="1356" cy="1499" r="10"/><circle cx="1367" cy="1523" r="10"/><circle cx="1415" cy="1490" r="10"/><circle cx="1392" cy="1506" r="10"/><circle cx="1407" cy="1506" r="10"/><circle cx="1381" cy="1502" r="10"/><circle cx="1389" cy="1500" r="10"/><circle cx="1392" cy="1495" r="10"/><circle cx="1372" cy="1505" r="10"/><circle cx="1406" cy="1522" r="10"/><circle cx="1392" cy="1507" r="10"/><circle cx="1405" cy="1497" r="10"/><circle cx="1392" cy="1484" r="10"/><circle cx="1379" cy="1509" r="10"/><circle cx="1393" cy="1492" r="10"/><circle cx="1364" cy="1516" r="10"/><circle cx="1396" cy="1518" r="10"/><circle cx="1398" cy="1514" r="10"/><circle cx="1387" cy="1499" r="10"/><circle cx="1417" cy="1491" r="10"/><circle cx="1356" cy="1510" r="10"/><circle cx="1398" cy="1497" r="10"/><circle cx="1402" cy="1503" r="10"/><circle cx="1371" cy="1500" r="10"/><circle cx="1410" cy="1492" r="10"/><circle cx="1368" cy="1518" r="10"/><circle cx="1395" cy="1507" r="10"/><circle cx="1431" cy="1503" r="10"/><circle cx="1391" cy="1525" r="10"/><circle cx="1395" cy="1496" r="10"/><circle cx="1389" cy="1510" r="10"/><circle cx="1421" cy="1496" r="10"/><circle cx="1378" cy="1507" r="10"/><circle cx="1404" cy="1500" r="10"/><circle cx="1383" cy="1486" r="10"/><circle cx="1410" cy="1501" r="10"/><circle cx="1358" cy="1514" r="10"/><circle cx="1393" cy="1490" r="10"/><circle cx="1410" cy="1516" r="10"/><circle cx="1383" cy="1492" r="10"/><circle cx="1401" cy="1507" r="10"/><circle cx="1416" cy="1502" r="10"/><circle cx="1370" cy="1493" r="10"/><circle cx="1420" cy="1503" r="10"/><circle cx="1391" cy="1514" r="10"/><circle cx="1375" cy="1511" r="10"/><circle cx="1359" cy="1504" r="10"/><circle cx="1381" cy="1513" r="10"/><circle cx="1411" cy="1503" r="10"/><circle cx="1394" cy="1484" r="10"/><circle cx="1381" cy="1509" r="10"/><circle cx="1430" cy="1502" r="10"/><circle cx="1373" cy="1489" r="10"/><circle cx="1386" cy="1489" r="10"/><circle cx="1419" cy="1498" r="10"/><circle cx="1356" cy="1491" r="10"/><circle cx="1430" cy="1512" r="10"/><circle cx="1401" cy="1493" r="10"/><circle cx="1375" cy="1519" r="10"/><circle cx="1413" cy="1509" r="10"/><circle cx="1364" cy="1511" r="10"/><circle cx="1430" cy="1496" r="10"/><circle cx="1389" cy="1486" r="10"/><circle cx="1399" cy="1500" r="10"/><circle cx="1404" cy="1498" r="10"/><circle cx="1394" cy="1510" r="10"/><circle cx="1398" cy="1493" r="10"/><circle cx="1350" cy="1497" r="10"/><circle cx="1366" cy="1506" r="10"/><circle cx="1403" cy="1516" r="10"/><circle cx="1360" cy="1511" r="10"/><circle cx="1359" cy="1504" r="10"/><circle cx="1372" cy="1496" r="10"/><circle cx="1402" cy="1511" r="10"/><circle cx="1416" cy="1488" r="10"/><circle cx="1421" cy="1501" r="10"/><circle cx="1402" cy="1516" r="10"/></g>
<g fill="#8dd3c7"><circle cx="1334" cy="1516" r="10"/><circle cx="1330" cy="1498" r="10"/><circle cx="1334" cy="1500" r="10"/><circle cx="1330" cy="1513" r="10"/><circle cx="1334" cy="1510" r="10"/><circle cx="1335" cy="1512" r="10"/><circle cx="1335" cy="1504" r="10"/><circle cx="1333" cy="1509" r="10"/><circle cx="1334" cy="1503" r="10"/></g>
<g fill="#fccde5"><circle cx="1393" cy="1499" r="10"/><circle cx="1390" cy="1522" r="10"/><circle cx="1403" cy="1520" r="10"/><circle cx="1412" cy="1521" r="10"/><circle cx="1396" cy="1456" r="10"/><circle cx="1412" cy="1470" r="10"/><circle cx="1615" cy="1540" r="10"/><circle cx="1503" cy="1565" r="10"/><circle cx="1511" cy="1592" r="10"/><circle cx="1570" cy="1594" r="10"/><circle cx="1584" cy="1586" r="10"/><circle cx="1593" cy="1605" r="10"/><circle cx="1339" cy="1419" r="10"/><circle cx="1364" cy="1429" r="10"/><circle cx="1742" cy="1477" r="10"/><circle cx="1396" cy="1456" r="10"/><circle cx="1412" cy="1470" r="10"/></g>
<g fill="#ccebc5"><circle cx="1423" cy="1532" r="10"/><circle cx="1448" cy="1452" r="10"/><circle cx="1470" cy="1451" r="10"/><circle cx="1461" cy="1418" r="10"/><circle cx="1495" cy="1415" r="10"/><circle cx="1498" cy="1420" r="10"/><circle cx="1513" cy="1403" r="10"/></g>
<g fill="#8dd3c7"><circle cx="1246" cy="1566" r="10"/><circle cx="1291" cy="1551" r="10"/><circle cx="1290" cy="1571" r="10"/><circle cx="1270" cy="1564" r="10"/><circle cx="1290" cy="1572" r="10"/><circle cx="1286" cy="1572" r="10"/><circle cx="1275" cy="1572" r="10"/><circle cx="1262" cy="1558" r="10"/><circle cx="1296" cy="1568" r="10"/><circle cx="1290" cy="1574" r="10"/><circle cx="1296" cy="1562" r="10"/><circle cx="1283" cy="1561" r="10"/><circle cx="1286" cy="1557" r="10"/><circle cx="1273" cy="1560" r="10"/><circle cx="1278" cy="1574" r="10"/><circle cx="1269" cy="1564" r="10"/><circle cx="1245" cy="1564" r="10"/><circle cx="1286" cy="1553" r="10"/><circle cx="1272" cy="1564" r="10"/><circle cx="1257" cy="1560" r="10"/><circle cx="1282" cy="1565" r="10"/><circle cx="1292" cy="1554" r="10"/><circle cx="1312" cy="1569" r="10"/><circle cx="1292" cy="1559" r="10"/><circle cx="1321" cy="1560" r="10"/><circle cx="1274" cy="1573" r="10"/><circle cx="1282" cy="1568" r="10"/><circle cx="1323" cy="1555" r="10"/><circle cx="1277" cy="1564" r="10"/><circle cx="1311" cy="1559" r="10"/><circle cx="1284" cy="1569" r="10"/><circle cx="1295" cy="1563" r="10"/><circle cx="1253" cy="1576" r="10"/><circle cx="1300" cy="1563" r="10"/><circle cx="1271" cy="1553" r="10"/><circle cx="1282" cy="1558" r="10"/><circle cx="1276" cy="1560" r="10"/><circle cx="1260" cy="1571" r="10"/><circle cx="1281" cy="1564" r="10"/><circle cx="1294" cy="1558" r="10"/><circle cx="1265" cy="1552" r="10"/><circle cx="1276" cy="1570" r="10"/><circle cx="1310" cy="1571" r="10"/><circle cx="1304" cy="1564" r="10"/><circle cx="1274" cy="1560" r="10"/><circle cx="1278" cy="1562" r="10"/><circle cx="1263" cy="1568" r="10"/><circle cx="1301" cy="1557" r="10"/><circle cx="1248" cy="1563" r="10"/><circle cx="1313" cy="1551" r="10"/><circle cx="1303" cy="1556" r="10"/><circle cx="1283" cy="1564" r="10"/><circle cx="1287" cy="1569" r="10"/><circle cx="1277" cy="1556" r="10"/><circle cx="1307" cy="1562" r="10"/><circle cx="1313" cy="1552" r="10"/><circle cx="1269" cy="1566" r="10"/><circle cx="1275" cy="1553" r="10"/><circle cx="1304" cy="1560" r="10"/><circle cx="1275" cy="1562" r="10"/><circle cx="1287" cy="1560" r="10"/><circle cx="1285" cy="1573" r="10"/><circle cx="1269" cy="1566" r="10"/><circle cx="1277" cy="1559" r="10"/><circle cx="1289" cy="1554" r="10"/><circle cx="1301" cy="1572" r="10"/><circle cx="1315" cy="1570" r="10"/><circle cx="1244" cy="1567" r="10"/><circle cx="1295" cy="1568" r="10"/><circle cx="1275" cy="1557" r="10"/><circle cx="1306" cy="1554" r="10"/><circle cx="1309" cy="1564" r="10"/><circle cx="1290" cy="1568" r="10"/><circle cx="1289" cy="1556" r="10"/><circle cx="1279" cy="1553" r="10"/><circle cx="1318" cy="1557" r="10"/><circle cx="1276" cy="1569" r="10"/><circle cx="1308" cy="1562" r="10"/><circle cx="1272" cy="1562" r="10"/><circle cx="1290" cy="1566" r="10"/><circle cx="1268" cy="1552" r="10"/><circle cx="1295" cy="1571" r="10"/><circle cx="1290" cy="1554" r="10"/><circle cx="1296" cy="1556" r="10"/><circle cx="1280" cy="1574" r="10"/><circle cx="1270" cy="1559" r="10"/><circle cx="1293" cy="1574" r="10"/><circle cx="1290" cy="1553" r="10"/><circle cx="1289" cy="1547" r="10"/><circle cx="1294" cy="1569" r="10"/><circle cx="1320" cy="1552" r="10"/><circle cx="1283" cy="1552" r="10"/><circle cx="1306" cy="1553" r="10"/><circle cx="1278" cy="1564" r="10"/><circle cx="1306" cy="1554" r="10"/><circle cx="1273" cy="1556" r="10"/><circle cx="1298" cy="1548" r="10"/><circle cx="1287" cy="1561" r="10"/><circle cx="1303" cy="1561" r="10"/><circle cx="1292" cy="1564" r="10"/><circle cx="1266" cy="1579" r="10"/><circle cx="1311" cy="1561" r="10"/><circle cx="1294" cy="1550" r="10"/><circle cx="1250" cy="1562" r="10"/><circle cx="1286" cy="1562" r="10"/><circle cx="1265" cy="1566" r="10"/><circle cx="1248" cy="1574" r="10"/><circle cx="1285" cy="1569" r="10"/><circle cx="1250" cy="1565" r="10"/><circle cx="1324" cy="1554" r="10"/><circle cx="1306" cy="1555" r="10"/><circle cx="1283" cy="1557" r="10"/><circle cx="1282" cy="1555" r="10"/><circle cx="1305" cy="1557" r="10"/><circle cx="1306" cy="1558" r="10"/><circle cx="1280" cy="1558" r="10"/><circle cx="1264" cy="1564" r="10"/><circle cx="1275" cy="1564" r="10"/><circle cx="1296" cy="1556" r="10"/><circle cx="1323" cy="1562" r="10"/><circle cx="1269" cy="1562" r="10"/><circle cx="1299" cy="1563" r="10"/><circle cx="1280" cy="1553" r="10"/><circle cx="1315" cy="1556" r="10"/><circle cx="1299" cy="1559" r="10"/></g>
<g fill="#8dd3c7"><circle cx="1156" cy="1432" r="10"/><circle cx="1087" cy="1747" r="10"/></g>
<g fill="#80b1d3"><circle cx="1595" cy="1577" r="10"/><circle cx="1632" cy="1586" r="10"/><circle cx="1678" cy="1646" r="10"/><circle cx="1386" cy="1425" r="10"/><circle cx="1684" cy="1646" r="10"/><circle cx="1757" cy="1634" r="10"/><circle cx="1780" cy="1624" r="10"/><circle cx="1754" cy="1651" r="10"/><circle cx="1640" cy="1586" r="10"/></g>
<g fill="#ffffb3"><circle cx="1398" cy="1661" r="10"/><circle cx="1395" cy="1669" r="10"/><circle cx="1386" cy="1666" r="10"/><circle cx="1392" cy="1660" r="10"/><circle cx="1405" cy="1665" r="10"/><circle cx="1391" cy="1666" r="10"/><circle cx="1386" cy="1664" r="10"/><circle cx="1391" cy="1666" r="10"/><circle cx="1392" cy="1663" r="10"/><circle cx="1395" cy="1663" r="10"/><circle cx="1401" cy="1660" r="10"/><circle cx="1398" cy="1662" r="10"/></g>
<g fill="#ffffb3"><circle cx="1435" cy="1678" r="10"/><circle cx="1415" cy="1685" r="10"/><circle cx="1413" cy="1688" r="10"/><circle cx="1431" cy="1684" r="10"/><circle cx="1433" cy="1691" r="10"/><circle cx="1432" cy="1681" r="10"/><circle cx="1434" cy="1680" r="10"/><circle cx="1414" cy="1681" r="10"/><circle cx="1423" cy="1680" r="10"/><circle cx="1413" cy="1677" r="10"/><circle cx="1429" cy="1691" r="10"/><circle cx="1431" cy="1690" r="10"/></g>
<g fill="#ffffb3"><circle cx="1398" cy="1692" r="10"/><circle cx="1401" cy="1690" r="10"/><circle cx="1412" cy="1689" r="10"/><circle cx="1396" cy="1694" r="10"/><circle cx="1404" cy="1684" r="10"/><circle cx="1411" cy="1687" r="10"/><circle cx="1409" cy="1675" r="10"/><circle cx="1409" cy="1694" r="10"/><circle cx="1392" cy="1695" r="10"/><circle cx="1400" cy="1691" r="10"/><circle cx="1392" cy="1694" r="10"/><circle cx="1410" cy="1697" r="10"/><circle cx="1417" cy="1693" r="10"/><circle cx="1404" cy="1687" r="10"/><circle cx="1404" cy="1681" r="10"/><circle cx="1405" cy="1683" r="10"/><circle cx="1398" cy="1691" r="10"/><circle cx="1411" cy="1693" r="10"/><circle cx="1400" cy="1693" r="10"/><circle cx="1401" cy="1691" r="10"/><circle cx="1404" cy="1675" r="10"/><circle cx="1417" cy="1690" r="10"/></g>
<g fill="#ffffb3"><circle cx="1409" cy="1676" r="10"/><circle cx="1404" cy="1692" r="10"/><circle cx="1391" cy="1671" r="10"/><circle cx="1397" cy="1674" r="10"/><circle cx="1397" cy="1676" r="10"/><circle cx="1410" cy="1666" r="10"/><circle cx="1418" cy="1674" r="10"/><circle cx="1406" cy="1668" r="10"/><circle cx="1419" cy="1694" r="10"/><circle cx="1407" cy="1679" r="10"/><circle cx="1407" cy="1682" r="10"/><circle cx="1407" cy="1657" r="10"/><circle cx="1397" cy="1668" r="10"/><circle cx="1415" cy="1676" r="10"/><circle cx="1397" cy="1685" r="10"/><circle cx="1400" cy="1662" r="10"/><circle cx="1410" cy="1681" r="10"/><circle cx="1408" cy="1668" r="10"/><circle cx="1409" cy="1680" r="10"/><circle cx="1412" cy="1683" r="10"/><circle cx="1402" cy="1664" r="10"/><circle cx="1410" cy="1691" r="10"/><circle cx="1406" cy="1662" r="10"/><circle cx="1412" cy="1683" r="10"/><circle cx="1410" cy="1676" r="10"/><circle cx="1418" cy="1676" r="10"/><circle cx="1427" cy="1672" r="10"/><circle cx="1386" cy="1679" r="10"/><circle cx="1392" cy="1675" r="10"/><circle cx="1413" cy="1665" r="10"/></g>
<g fill="#fb8072"><circle cx="1539" cy="1705" r="10"/><circle cx="1522" cy="1721" r="10"/><circle cx="1524" cy="1727" r="10"/><circle cx="1554" cy="1738" r="10"/><circle cx="1558" cy="1724" r="10"/><circle cx="1547" cy="1705" r="10"/><circle cx="1538" cy="1704" r="10"/><circle cx="1549" cy="1737" r="10"/><circle cx="1566" cy="1746" r="10"/><circle cx="1549" cy="1718" r="10"/><circle cx="1576" cy="1701" r="10"/><circle cx="1563" cy="1714" r="10"/><circle cx="1540" cy="1734" r="10"/><circle cx="1575" cy="1704" r="10"/><circle cx="1535" cy="1732" r="10"/><circle cx="1504" cy="1712" r="10"/><circle cx="1551" cy="1710" r="10"/><circle cx="1568" cy="1707" r="10"/><circle cx="1548" cy="1708" r="10"/><circle cx="1546" cy="1712" r="10"/><circle cx="1533" cy="1723" r="10"/><circle cx="1564" cy="1710" r="10"/><circle cx="1584" cy="1716" r="10"/><circle cx="1550" cy="1712" r="10"/><circle cx="1509" cy="1735" r="10"/><circle cx="1568" cy="1722" r="10"/><circle cx="1544" cy="1728" r="10"/><circle cx="1532" cy="1700" r="10"/><circle cx="1588" cy="1732" r="10"/><circle cx="1564" cy="1732" r="10"/><circle cx="1544" cy="1700" r="10"/><circle cx="1542" cy="1727" r="10"/><circle cx="1531" cy="1738" r="10"/><circle cx="1563" cy="1732" r="10"/><circle cx="1560" cy="1714" r="10"/><circle cx="1546" cy="1729" r="10"/><circle cx="1585" cy="1728" r="10"/><circle cx="1528" cy="1721" r="10"/><circle cx="1581" cy="1733" r="10"/><circle cx="1573" cy="1717" r="10"/><circle cx="1584" cy="1719" r="10"/><circle cx="1559" cy="1711" r="10"/><circle cx="1528" cy="1737" r="10"/><circle cx="1550" cy="1724" r="10"/><circle cx="1521" cy="1716" r="10"/><circle cx="1540" cy="1733" r="10"/><circle cx="1513" cy="1718" r="10"/><circle cx="1568" cy="1729" r="10"/><circle cx="1533" cy="1731" r="10"/><circle cx="1548" cy="1719" r="10"/><circle cx="1527" cy="1740" r="10"/><circle cx="1573" cy="1730" r="10"/><circle cx="1532" cy="1726" r="10"/><circle cx="1562" cy="1732" r="10"/><circle cx="1549" cy="1743" r="10"/><circle cx="1550" cy="1738" r="10"/><circle cx="1564" cy="1747" r="10"/><circle cx="1571" cy="1740" r="10"/><circle cx="1513" cy="1702" r="10"/><circle cx="1555" cy="1716" r="10"/><circle cx="1566" cy="1725" r="10"/><circle cx="1530" cy="1725" r="10"/><circle cx="1533" cy="1712" r="10"/><circle cx="1556" cy="1730" r="10"/><circle cx="1577" cy="1730" r="10"/><circle cx="1554" cy="1726" r="10"/><circle cx="1539" cy="1731" r="10"/><circle cx="1523" cy="1735" r="10"/><circle cx="1556" cy="1747" r="10"/><circle cx="1545" cy="1708" r="10"/><circle cx="1515" cy="1736" r="10"/><circle cx="1587" cy="1708" r="10"/><circle cx="1542" cy="1726" r="10"/><circle cx="1575" cy="1704" r="10"/><circle cx="1548" cy="1706" r="10"/><circle cx="1540" cy="1730" r="10"/><circle cx="1517" cy="1728" r="10"/><circle cx="1576" cy="1725" r="10"/><circle cx="1548" cy="1710" r="10"/><circle cx="1543" cy="1740" r="10"/><circle cx="1559" cy="1750" r="10"/><circle cx="1522" cy="1713" r="10"/><circle cx="1553" cy="1729" r="10"/><circle cx="1533" cy="1717" r="10"/><circle cx="1534" cy="1732" r="10"/><circle cx="1535" cy="1711" r="10"/><circle cx="1578" cy="1732" r="10"/><circle cx="1540" cy="1710" r="10"/><circle cx="1526" cy="1733" r="10"/><circle cx="1527" cy="1730" r="10"/><circle cx="1528" cy="1734" r="10"/><circle cx="1533" cy="1751" r="10"/><circle cx="1538" cy="1720" r="10"/><circle cx="1563" cy="1725" r="10"/><circle cx="1537" cy="1714" r="10"/><circle cx="1541" cy="1700" r="10"/><circle cx="1543" cy="1736" r="10"/><circle cx="1554" cy="1722" r="10"/><circle cx="1592" cy="1720" r="10"/><circle cx="1530" cy="1719" r="10"/><circle cx="1541" cy="1744" r="10"/><circle cx="1561" cy="1709" r="10"/><circle cx="1550" cy="1723" r="10"/><circle cx="1580" cy="1733" r="10"/><circle cx="1539" cy="1740" r="10"/><circle cx="1569" cy="1732" r="10"/><circle cx="1556" cy="1729" r="10"/><circle cx="1552" cy="1723" r="10"/><circle cx="1532" cy="1734" r="10"/><circle cx="1538" cy="1709" r="10"/><circle cx="1580" cy="1722" r="10"/><circle cx="1536" cy="1715" r="10"/><circle cx="1547" cy="1724" r="10"/><circle cx="1533" cy="1746" r="10"/><circle cx="1535" cy="1711" r="10"/><circle cx="1587" cy="1736" r="10"/><circle cx="1558" cy="1727" r="10"/><circle cx="1547" cy="1720" r="10"/><circle cx="1528" cy="1701" r="10"/><circle cx="1572" cy="1712" r="10"/><circle cx="1511" cy="1721" r="10"/><circle cx="1570" cy="1716" r="10"/><circle cx="1566" cy="1735" r="10"/><circle cx="1546" cy="1723" r="10"/><circle cx="1591" cy="1730" r="10"/><circle cx="1556" cy="1725" r="10"/><circle cx="1570" cy="1732" r="10"/><circle cx="1551" cy="1714" r="10"/><circle cx="1535" cy="1731" r="10"/><circle cx="1556" cy="1733" r="10"/><circle cx="1515" cy="1716" r="10"/><circle cx="1539" cy="1704" r="10"/><circle cx="1561" cy="1722" r="10"/><circle cx="1526" cy="1737" r="10"/><circle cx="1550" cy="1719" r="10"/><circle cx="1543" cy="1719" r="10"/><circle cx="1566" cy="1735" r="10"/><circle cx="1553" cy="1731" r="10"/><circle cx="1563" cy="1736" r="10"/><circle cx="1514" cy="1701" r="10"/><circle cx="1524" cy="1743" r="10"/><circle cx="1573" cy="1744" r="10"/><circle cx="1568" cy="1702" r="10"/><circle cx="1552" cy="1736" r="10"/><circle cx="1576" cy="1712" r="10"/><circle cx="1586" cy="1738" r="10"/><circle cx="1543" cy="1714" r="10"/><circle cx="1542" cy="1725" r="10"/><circle cx="1517" cy="1731" r="10"/><circle cx="1568" cy="1734" r="10"/><circle cx="1556" cy="1720" r="10"/><circle cx="1574" cy="1726" r="10"/><circle cx="1552" cy="1754" r="10"/><circle cx="1581" cy="1717" r="10"/><circle cx="1588" cy="1714" r="10"/><circle cx="1536" cy="1722" r="10"/><circle cx="1560" cy="1723" r="10"/><circle cx="1584" cy="1741" r="10"/><circle cx="1532" cy="1733" r="10"/><circle cx="1540" cy="1708" r="10"/><circle cx="1526" cy="1721" r="10"/><circle cx="1566" cy="1722" r="10"/><circle cx="1552" cy="1712" r="10"/><circle cx="1524" cy="1737" r="10"/><circle cx="1565" cy="1739" r="10"/><circle cx="1574" cy="1705" r="10"/><circle cx="1541" cy="1721" r="10"/><circle cx="1576" cy="1715" r="10"/><circle cx="1533" cy="1716" r="10"/><circle cx="1533" cy="1709" r="10"/><circle cx="1567" cy="1726" r="10"/><circle cx="1551" cy="1730" r="10"/><circle cx="1529" cy="1708" r="10"/><circle cx="1582" cy="1720" r="10"/><circle cx="1531" cy="1705" r="10"/><circle cx="1568" cy="1718" r="10"/><circle cx="1581" cy="1730" r="10"/><circle cx="1544" cy="1708" r="10"/><circle cx="1571" cy="1719" r="10"/><circle cx="1534" cy="1752" r="10"/><circle cx="1532" cy="1747" r="10"/><circle cx="1569" cy="1719" r="10"/><circle cx="1548" cy="1749" r="10"/><circle cx="1531" cy="1740" r="10"/><circle cx="1555" cy="1703" r="10"/><circle cx="1542" cy="1703" r="10"/><circle cx="1536" cy="1693" r="10"/><circle cx="1524" cy="1734" r="10"/><circle cx="1595" cy="1718" r="10"/><circle cx="1568" cy="1702" r="10"/><circle cx="1525" cy="1722" r="10"/><circle cx="1569" cy="1704" r="10"/><circle cx="1582" cy="1736" r="10"/><circle cx="1560" cy="1717" r="10"/><circle cx="1553" cy="1726" r="10"/><circle cx="1583" cy="1709" r="10"/><circle cx="1541" cy="1703" r="10"/><circle cx="1561" cy="1726" r="10"/><circle cx="1529" cy="1745" r="10"/><circle cx="1578" cy="1735" r="10"/><circle cx="1565" cy="1746" r="10"/><circle cx="1590" cy="1731" r="10"/><circle cx="1533" cy="1713" r="10"/><circle cx="1529" cy="1730" r="10"/><circle cx="1556" cy="1721" r="10"/><circle cx="1532" cy="1720" r="10"/><circle cx="1574" cy="1707" r="10"/><circle cx="1548" cy="1731" r="10"/><circle cx="1533" cy="1717" r="10"/><circle cx="1558" cy="1731" r="10"/><circle cx="1579" cy="1718" r="10"/><circle cx="1570" cy="1732" r="10"/><circle cx="1554" cy="1694" r="10"/><circle cx="1509" cy="1713" r="10"/><circle cx="1530" cy="1734" r="10"/><circle cx="1535" cy="1726" r="10"/><circle cx="1541" cy="1710" r="10"/><circle cx="1568" cy="1718" r="10"/><circle cx="1555" cy="1708" r="10"/><circle cx="1548" cy="1726" r="10"/><circle cx="1565" cy="1746" r="10"/><circle cx="1587" cy="1706" r="10"/><circle cx="1536" cy="1731" r="10"/><circle cx="1571" cy="1721" r="10"/><circle cx="1546" cy="1723" r="10"/><circle cx="1515" cy="1732" r="10"/><circle cx="1525" cy="1744" r="10"/><circle cx="1523" cy="1708" r="10"/><circle cx="1589" cy="1718" r="10"/><circle cx="1571" cy="1726" r="10"/><circle cx="1574" cy="1742" r="10"/><circle cx="1552" cy="1725" r="10"/><circle cx="1556" cy="1717" r="10"/><circle cx="1519" cy="1713" r="10"/><circle cx="1545" cy="1725" r="10"/><circle cx="1544" cy="1736" r="10"/><circle cx="1562" cy="1723" r="10"/><circle cx="1519" cy="1725" r="10"/><circle cx="1564" cy="1716" r="10"/><circle cx="1565" cy="1742" r="10"/><circle cx="1569" cy="1736" r="10"/><circle cx="1562" cy="1745" r="10"/><circle cx="1577" cy="1719" r="10"/><circle cx="1558" cy="1721" r="10"/><circle cx="1532" cy="1720" r="10"/><circle cx="1571" cy="1720" r="10"/><circle cx="1575" cy="1730" r="10"/><circle cx="1564" cy="1709" r="10"/><circle cx="1534" cy="1739" r="10"/><circle cx="1568" cy="1712" r="10"/><circle cx="1519" cy="1707" r="10"/><circle cx="1562" cy="1708" r="10"/><circle cx="1558" cy="1717" r="10"/><circle cx="1524" cy="1731" r="10"/><circle cx="1568" cy="1720" r="10"/></g>
<g fill="#fb8072"><circle cx="1561" cy="1688" r="10"/><circle cx="1578" cy="1694" r="10"/><circle cx="1598" cy="1713" r="10"/><circle cx="1596" cy="1732" r="10"/><circle cx="1582" cy="1749" r="10"/></g>
<g fill="#bc80bd"><circle cx="1301" cy="1781" r="10"/><circle cx="1316" cy="1769" r="10"/><circle cx="1304" cy="1775" r="10"/><circle cx="1322" cy="1772" r="10"/><circle cx="1316" cy="1791" r="10"/><circle cx="1298" cy="1767" r="10"/><circle cx="1308" cy="1769" r="10"/><circle cx="1314" cy="1768" r="10"/><circle cx="1307" cy="1782" r="10"/><circle cx="1309" cy="1767" r="10"/><circle cx="1314" cy="1772" r="10"/><circle cx="1317" cy="1764" r="10"/><circle cx="1319" cy="1776" r="10"/><circle cx="1299" cy="1775" r="10"/><circle cx="1315" cy="1770" r="10"/><circle cx="1322" cy="1785" r="10"/><circle cx="1301" cy="1756" r="10"/><circle cx="1310" cy="1787" r="10"/><circle cx="1304" cy="1769" r="10"/><circle cx="1294" cy="1783" r="10"/><circle cx="1311" cy="1775" r="10"/><circle cx="1300" cy="1766" r="10"/><circle cx="1309" cy="1780" r="10"/><circle cx="1296" cy="1782" r="10"/></g>
<g fill="#fdb462"><circle cx="1344" cy="1804" r="10"/><circle cx="1346" cy="1814" r="10"/><circle cx="1325" cy="1813" r="10"/><circle cx="1336" cy="1813" r="10"/><circle cx="1348" cy="1812" r="10"/><circle cx="1337" cy="1814" r="10"/><circle cx="1339" cy="1813" r="10"/><circle cx="1349" cy="1817" r="10"/><circle cx="1339" cy="1812" r="10"/><circle cx="1346" cy="1810" r="10"/><circle cx="1339" cy="1824" r="10"/><circle cx="1357" cy="1806" r="10"/><circle cx="1334" cy="1809" r="10"/><circle cx="1331" cy="1819" r="10"/><circle cx="1341" cy="1816" r="10"/><circle cx="1345" cy="1804" r="10"/><circle cx="1327" cy="1816" r="10"/><circle cx="1341" cy="1819" r="10"/><circle cx="1345" cy="1797" r="10"/><circle cx="1335" cy="1807" r="10"/><circle cx="1343" cy="1800" r="10"/><circle cx="1328" cy="1814" r="10"/><circle cx="1351" cy="1818" r="10"/><circle cx="1349" cy="1820" r="10"/><circle cx="1328" cy="1806" r="10"/><circle cx="1346" cy="1823" r="10"/><circle cx="1337" cy="1799" r="10"/><circle cx="1338" cy="1824" r="10"/><circle cx="1345" cy="1798" r="10"/><circle cx="1335" cy="1816" r="10"/></g>
<g fill="#8dd3c7"><circle cx="1714" cy="1966" r="10"/><circle cx="1724" cy="1960" r="10"/><circle cx="1707" cy="1962" r="10"/><circle cx="1715" cy="1958" r="10"/><circle cx="1713" cy="1966" r="10"/><circle cx="1690" cy="1964" r="10"/><circle cx="1699" cy="1959" r="10"/><circle cx="1697" cy="1961" r="10"/><circle cx="1702" cy="1943" r="10"/><circle cx="1683" cy="1959" r="10"/><circle cx="1685" cy="1940" r="10"/><circle cx="1676" cy="1968" r="10"/><circle cx="1702" cy="1963" r="10"/><circle cx="1699" cy="1954" r="10"/><circle cx="1705" cy="1942" r="10"/><circle cx="1704" cy="1969" r="10"/><circle cx="1712" cy="1966" r="10"/><circle cx="1700" cy="1971" r="10"/><circle cx="1689" cy="1942" r="10"/><circle cx="1690" cy="1978" r="10"/><circle cx="1687" cy="1968" r="10"/><circle cx="1681" cy="1940" r="10"/><circle cx="1681" cy="1956" r="10"/><circle cx="1686" cy="1958" r="10"/><circle cx="1691" cy="1944" r="10"/><circle cx="1672" cy="1950" r="10"/><circle cx="1710" cy="1970" r="10"/><circle cx="1688" cy="1946" r="10"/><circle cx="1710" cy="1952" r="10"/><circle cx="1691" cy="1943" r="10"/><circle cx="1697" cy="1965" r="10"/><circle cx="1684" cy="1962" r="10"/><circle cx="1692" cy="1964" r="10"/><circle cx="1682" cy="1950" r="10"/><circle cx="1684" cy="1958" r="10"/><circle cx="1689" cy="1943" r="10"/><circle cx="1695" cy="1968" r="10"/><circle cx="1710" cy="1958" r="10"/><circle cx="1694" cy="1972" r="10"/><circle cx="1713" cy="1962" r="10"/><circle cx="1704" cy="1977" r="10"/><circle cx="1674" cy="1948" r="10"/><circle cx="1700" cy="1955" r="10"/><circle cx="1710" cy="1962" r="10"/><circle cx="1684" cy="1944" r="10"/><circle cx="1724" cy="1948" r="10"/><circle cx="1678" cy="1948" r="10"/><circle cx="1690" cy="1964" r="10"/><circle cx="1696" cy="1941" r="10"/><circle cx="1699" cy="1939" r="10"/><circle cx="1705" cy="1963" r="10"/><circle cx="1696" cy="1969" r="10"/><circle cx="1726" cy="1956" r="10"/><circle cx="1696" cy="1960" r="10"/><circle cx="1702" cy="1956" r="10"/><circle cx="1724" cy="1970" r="10"/><circle cx="1718" cy="1943" r="10"/><circle cx="1707" cy="1954" r="10"/><circle cx="1674" cy="1945" r="10"/><circle cx="1704" cy="1974" r="10"/><circle cx="1714" cy="1962" r="10"/><circle cx="1713" cy="1954" r="10"/><circle cx="1697" cy="1956" r="10"/><circle cx="1684" cy="1973" r="10"/><circle cx="1674" cy="1960" r="10"/><circle cx="1700" cy="1940" r="10"/><circle cx="1677" cy="1962" r="10"/><circle cx="1684" cy="1960" r="10"/><circle cx="1691" cy="1958" r="10"/><circle cx="1690" cy="1956" r="10"/><circle cx="1712" cy="1940" r="10"/><circle cx="1682" cy="1963" r="10"/><circle cx="1705" cy="1966" r="10"/><circle cx="1715" cy="1950" r="10"/><circle cx="1696" cy="1943" r="10"/><circle cx="1710" cy="1960" r="10"/><circle cx="1679" cy="1964" r="10"/><circle cx="1715" cy="1965" r="10"/><circle cx="1710" cy="1978" r="10"/><circle cx="1702" cy="1938" r="10"/><circle cx="1708" cy="1960" r="10"/><circle cx="1721" cy="1957" r="10"/><circle cx="1700" cy="1962" r="10"/><circle cx="1699" cy="1952" r="10"/><circle cx="1698" cy="1963" r="10"/><circle cx="1719" cy="1958" r="10"/><circle cx="1705" cy="1964" r="10"/><circle cx="1684" cy="1947" r="10"/><circle cx="1700" cy="1954" r="10"/><circle cx="1682" cy="1952" r="10"/><circle cx="1671" cy="1970" r="10"/><circle cx="1706" cy="1972" r="10"/><circle cx="1702" cy="1950" r="10"/><circle cx="1712" cy="1958" r="10"/><circle cx="1705" cy="1958" r="10"/><circle cx="1693" cy="1953" r="10"/><circle cx="1699" cy="1973" r="10"/><circle cx="1696" cy="1950" r="10"/><circle cx="1688" cy="1968" r="10"/><circle cx="1721" cy="1965" r="10"/><circle cx="1705" cy="1966" r="10"/><circle cx="1681" cy="1953" r="10"/><circle cx="1706" cy="1962" r="10"/><circle cx="1730" cy="1953" r="10"/><circle cx="1712" cy="1976" r="10"/><circle cx="1683" cy="1957" r="10"/><circle cx="1709" cy="1963" r="10"/><circle cx="1704" cy="1975" r="10"/><circle cx="1718" cy="1947" r="10"/><circle cx="1686" cy="1948" r="10"/><circle cx="1694" cy="1966" r="10"/><circle cx="1701" cy="1969" r="10"/><circle cx="1708" cy="1952" r="10"/><circle cx="1666" cy="1952" r="10"/><circle cx="1678" cy="1943" r="10"/><circle cx="1692" cy="1980" r="10"/><circle cx="1690" cy="1967" r="10"/><circle cx="1709" cy="1959" r="10"/><circle cx="1698" cy="1980" r="10"/><circle cx="1703" cy="1957" r="10"/><circle cx="1698" cy="1953" r="10"/><circle cx="1687" cy="1965" r="10"/><circle cx="1685" cy="1966" r="10"/><circle cx="1694" cy="1970" r="10"/><circle cx="1718" cy="1957" r="10"/><circle cx="1718" cy="1955" r="10"/><circle cx="1697" cy="1963" r="10"/><circle cx="1697" cy="1972" r="10"/><circle cx="1680" cy="1946" r="10"/><circle cx="1672" cy="1955" r="10"/><circle cx="1694" cy="1946" r="10"/><circle cx="1708" cy="1942" r="10"/><circle cx="1682" cy="1975" r="10"/><circle cx="1688" cy="1961" r="10"/><circle cx="1699" cy="1956" r="10"/></g>
<g fill="#8dd3c7"><circle cx="1655" cy="1957" r="10"/><circle cx="1660" cy="1965" r="10"/><circle cx="1663" cy="1950" r="10"/><circle cx="1646" cy="1961" r="10"/><circle cx="1685" cy="2005" r="10"/><circle cx="1683" cy="2028" r="10"/><circle cx="1701" cy="2026" r="10"/><circle cx="1671" cy="2035" r="10"/><circle cx="1660" cy="2047" r="10"/><circle cx="1676" cy="2049" r="10"/><circle cx="1688" cy="2052" r="10"/><circle cx="1708" cy="2050" r="10"/><circle cx="1698" cy="2055" r="10"/><circle cx="1688" cy="2061" r="10"/><circle cx="1682" cy="2043" r="10"/><circle cx="1677" cy="2042" r="10"/><circle cx="1665" cy="2084" r="10"/><circle cx="1664" cy="2092" r="10"/><circle cx="1696" cy="2195" r="10"/><circle cx="1707" cy="2204" r="10"/><circle cx="1699" cy="2208" r="10"/><circle cx="1712" cy="2215" r="10"/><circle cx="1702" cy="2200" r="10"/></g>
<g fill="#80b1d3"><circle cx="1702" cy="1717" r="10"/><circle cx="1712" cy="1717" r="10"/><circle cx="1743" cy="1699" r="10"/><circle cx="1736" cy="1725" r="10"/><circle cx="1767" cy="1717" r="10"/><circle cx="1764" cy="1723" r="10"/><circle cx="1723" cy="1741" r="10"/><circle cx="1725" cy="1745" r="10"/><circle cx="1722" cy="1752" r="10"/><circle cx="1748" cy="1748" r="10"/><circle cx="1768" cy="1758" r="10"/><circle cx="1779" cy="1739" r="10"/><circle cx="1794" cy="1720" r="10"/><circle cx="1797" cy="1721" r="10"/><circle cx="1793" cy="1742" r="10"/><circle cx="1794" cy="1751" r="10"/><circle cx="1797" cy="1750" r="10"/><circle cx="1803" cy="1779" r="10"/><circle cx="1811" cy="1732" r="10"/><circle cx="1814" cy="1751" r="10"/><circle cx="1820" cy="1713" r="10"/><circle cx="1825" cy="1752" r="10"/><circle cx="1830" cy="1721" r="10"/><circle cx="1833" cy="1736" r="10"/><circle cx="1842" cy="1718" r="10"/><circle cx="1850" cy="1709" r="10"/><circle cx="1871" cy="1712" r="10"/><circle cx="1848" cy="1754" r="10"/><circle cx="1861" cy="1760" r="10"/><circle cx="1854" cy="1772" r="10"/><circle cx="1924" cy="1715" r="10"/><circle cx="1960" cy="1742" r="10"/></g>
<g fill="#80b1d3"><circle cx="1913" cy="1761" r="10"/><circle cx="1905" cy="1749" r="10"/><circle cx="1897" cy="1755" r="10"/><circle cx="1921" cy="1759" r="10"/><circle cx="1884" cy="1742" r="10"/><circle cx="1891" cy="1748" r="10"/><circle cx="1925" cy="1765" r="10"/><circle cx="1901" cy="1756" r="10"/><circle cx="1908" cy="1749" r="10"/><circle cx="1906" cy="1768" r="10"/><circle cx="1898" cy="1749" r="10"/><circle cx="1918" cy="1747" r="10"/><circle cx="1896" cy="1740" r="10"/><circle cx="1876" cy="1728" r="10"/><circle cx="1902" cy="1777" r="10"/><circle cx="1888" cy="1741" r="10"/><circle cx="1909" cy="1765" r="10"/><circle cx="1892" cy="1743" r="10"/><circle cx="1875" cy="1743" r="10"/><circle cx="1911" cy="1750" r="10"/><circle cx="1876" cy="1760" r="10"/><circle cx="1911" cy="1745" r="10"/><circle cx="1908" cy="1758" r="10"/><circle cx="1914" cy="1779" r="10"/><circle cx="1888" cy="1739" r="10"/><circle cx="1903" cy="1751" r="10"/><circle cx="1911" cy="1760" r="10"/><circle cx="1937" cy="1763" r="10"/><circle cx="1878" cy="1736" r="10"/><circle cx="1894" cy="1746" r="10"/><circle cx="1895" cy="1740" r="10"/><circle cx="1908" cy="1761" r="10"/><circle cx="1904" cy="1737" r="10"/><circle cx="1900" cy="1778" r="10"/><circle cx="1897" cy="1755" r="10"/><circle cx="1921" cy="1768" r="10"/><circle cx="1918" cy="1761" r="10"/><circle cx="1877" cy="1765" r="10"/><circle cx="1871" cy="1751" r="10"/><circle cx="1921" cy="1772" r="10"/><circle cx="1894" cy="1769" r="10"/><circle cx="1883" cy="1746" r="10"/><circle cx="1905" cy="1762" r="10"/><circle cx="1870" cy="1743" r="10"/><circle cx="1883" cy="1768" r="10"/><circle cx="1907" cy="1756" r="10"/><circle cx="1908" cy="1764" r="10"/><circle cx="1903" cy="1744" r="10"/><circle cx="1908" cy="1763" r="10"/><circle cx="1903" cy="1766" r="10"/><circle cx="1904" cy="1756" r="10"/><circle cx="1921" cy="1775" r="10"/><circle cx="1914" cy="1781" r="10"/><circle cx="1918" cy="1742" r="10"/><circle cx="1918" cy="1773" r="10"/><circle cx="1888" cy="1738" r="10"/><circle cx="1898" cy="1757" r="10"/><circle cx="1889" cy="1756" r="10"/><circle cx="1922" cy="1772" r="10"/><circle cx="1886" cy="1778" r="10"/><circle cx="1922" cy="1764" r="10"/><circle cx="1904" cy="1751" r="10"/><circle cx="1900" cy="1752" r="10"/><circle cx="1881" cy="1756" r="10"/><circle cx="1899" cy="1744" r="10"/><circle cx="1897" cy="1740" r="10"/><circle cx="1899" cy="1754" r="10"/><circle cx="1879" cy="1759" r="10"/><circle cx="1898" cy="1769" r="10"/><circle cx="1898" cy="1765" r="10"/><circle cx="1876" cy="1738" r="10"/><circle cx="1920" cy="1761" r="10"/><circle cx="1916" cy="1744" r="10"/><circle cx="1930" cy="1784" r="10"/><circle cx="1883" cy="1753" r="10"/><circle cx="1896" cy="1760" r="10"/><circle cx="1893" cy="1752" r="10"/><circle cx="1913" cy="1777" r="10"/><circle cx="1899" cy="1766" r="10"/><circle cx="1900" cy="1762" r="10"/><circle cx="1884" cy="1745" r="10"/><circle cx="1924" cy="1773" r="10"/><circle cx="1898" cy="1780" r="10"/><circle cx="1908" cy="1787" r="10"/><circle cx="1878" cy="1752" r="10"/><circle cx="1912" cy="1740" r="10"/><circle cx="1904" cy="1764" r="10"/><circle cx="1900" cy="1764" r="10"/><circle cx="1890" cy="1777" r="10"/><circle cx="1893" cy="1755" r="10"/><circle cx="1873" cy="1739" r="10"/><circle cx="1907" cy="1768" r="10"/><circle cx="1911" cy="1766" r="10"/><circle cx="1908" cy="1754" r="10"/><circle cx="1935" cy="1762" r="10"/><circle cx="1905" cy="1740" r="10"/><circle cx="1919" cy="1764" r="10"/><circle cx="1908" cy="1742" r="10"/><circle cx="1932" cy="1766" r="10"/><circle cx="1919" cy="1769" r="10"/><circle cx="1901" cy="1756" r="10"/><circle cx="1885" cy="1756" r="10"/><circle cx="1874" cy="1739" r="10"/><circle cx="1888" cy="1743" r="10"/><circle cx="1884" cy="1733" r="10"/><circle cx="1917" cy="1759" r="10"/><circle cx="1890" cy="1764" r="10"/><circle cx="1902" cy="1764" r="10"/><circle cx="1897" cy="1758" r="10"/><circle cx="1884" cy="1768" r="10"/><circle cx="1902" cy="1749" r="10"/><circle cx="1892" cy="1757" r="10"/><circle cx="1879" cy="1770" r="10"/><circle cx="1903" cy="1769" r="10"/><circle cx="1910" cy="1747" r="10"/><circle cx="1889" cy="1759" r="10"/><circle cx="1906" cy="1753" r="10"/><circle cx="1882" cy="1735" r="10"/><circle cx="1877" cy="1766" r="10"/><circle cx="1898" cy="1751" r="10"/><circle cx="1871" cy="1734" r="10"/><circle cx="1912" cy="1752" r="10"/><circle cx="1907" cy="1752" r="10"/><circle cx="1894" cy="1747" r="10"/><circle cx="1916" cy="1786" r="10"/><circle cx="1930" cy="1758" r="10"/><circle cx="1887" cy="1735" r="10"/><circle cx="1890" cy="1764" r="10"/><circle cx="1936" cy="1756" r="10"/><circle cx="1919" cy="1761" r="10"/><circle cx="1886" cy="1763" r="10"/><circle cx="1865" cy="1751" r="10"/><circle cx="1884" cy="1753" r="10"/><circle cx="1916" cy="1752" r="10"/><circle cx="1928" cy="1772" r="10"/><circle cx="1920" cy="1767" r="10"/><circle cx="1894" cy="1748" r="10"/><circle cx="1908" cy="1770" r="10"/><circle cx="1932" cy="1752" r="10"/><circle cx="1866" cy="1749" r="10"/><circle cx="1888" cy="1770" r="10"/><circle cx="1912" cy="1761" r="10"/><circle cx="1907" cy="1756" r="10"/><circle cx="1883" cy="1751" r="10"/><circle cx="1893" cy="1752" r="10"/><circle cx="1905" cy="1740" r="10"/><circle cx="1896" cy="1760" r="10"/><circle cx="1879" cy="1756" r="10"/><circle cx="1927" cy="1777" r="10"/><circle cx="1884" cy="1747" r="10"/><circle cx="1935" cy="1774" r="10"/><circle cx="1908" cy="1763" r="10"/><circle cx="1892" cy="1758" r="10"/><circle cx="1880" cy="1741" r="10"/><circle cx="1888" cy="1767" r="10"/><circle cx="1895" cy="1744" r="10"/><circle cx="1891" cy="1753" r="10"/><circle cx="1907" cy="1768" r="10"/><circle cx="1890" cy="1732" r="10"/><circle cx="1876" cy="1763" r="10"/><circle cx="1885" cy="1744" r="10"/><circle cx="1916" cy="1775" r="10"/><circle cx="1929" cy="1776" r="10"/><circle cx="1918" cy="1756" r="10"/><circle cx="1888" cy="1774" r="10"/><circle cx="1908" cy="1762" r="10"/><circle cx="1877" cy="1758" r="10"/><circle cx="1932" cy="1782" r="10"/><circle cx="1924" cy="1779" r="10"/><circle cx="1882" cy="1758" r="10"/></g>
<g fill="#80b1d3"><circle cx="1871" cy="1739" r="10"/><circle cx="1896" cy="1766" r="10"/><circle cx="1893" cy="1763" r="10"/><circle cx="1896" cy="1764" r="10"/><circle cx="1870" cy="1727" r="10"/><circle cx="1887" cy="1760" r="10"/><circle cx="1901" cy="1758" r="10"/><circle cx="1896" cy="1766" r="10"/><circle cx="1891" cy="1755" r="10"/><circle cx="1908" cy="1760" r="10"/><circle cx="1900" cy="1750" r="10"/><circle cx="1852" cy="1739" r="10"/><circle cx="1880" cy="1732" r="10"/><circle cx="1861" cy="1747" r="10"/><circle cx="1895" cy="1753" r="10"/><circle cx="1874" cy="1747" r="10"/><circle cx="1889" cy="1765" r="10"/><circle cx="1912" cy="1774" r="10"/><circle cx="1911" cy="1777" r="10"/><circle cx="1918" cy="1776" r="10"/><circle cx="1906" cy="1763" r="10"/><circle cx="1883" cy="1752" r="10"/><circle cx="1856" cy="1744" r="10"/><circle cx="1858" cy="1730" r="10"/><circle cx="1902" cy="1771" r="10"/><circle cx="1875" cy="1759" r="10"/><circle cx="1874" cy="1736" r="10"/><circle cx="1927" cy="1782" r="10"/><circle cx="1881" cy="1772" r="10"/><circle cx="1882" cy="1762" r="10"/><circle cx="1879" cy="1740" r="10"/><circle cx="1916" cy="1779" r="10"/><circle cx="1904" cy="1780" r="10"/><circle cx="1888" cy="1753" r="10"/><circle cx="1890" cy="1782" r="10"/><circle cx="1904" cy="1772" r="10"/><circle cx="1908" cy="1751" r="10"/><circle cx="1884" cy="1739" r="10"/><circle cx="1904" cy="1766" r="10"/><circle cx="1856" cy="1741" r="10"/><circle cx="1912" cy="1763" r="10"/><circle cx="1920" cy="1763" r="10"/><circle cx="1880" cy="1758" r="10"/><circle cx="1879" cy="1772" r="10"/><circle cx="1896" cy="1769" r="10"/><circle cx="1856" cy="1753" r="10"/><circle cx="1885" cy="1739" r="10"/><circle cx="1904" cy="1779" r="10"/><circle cx="1900" cy="1772" r="10"/><circle cx="1871" cy="1740" r="10"/><circle cx="1890" cy="1751" r="10"/><circle cx="1875" cy="1730" r="10"/><circle cx="1882" cy="1779" r="10"/><circle cx="1906" cy="1771" r="10"/><circle cx="1903" cy="1767" r="10"/><circle cx="1857" cy="1745" r="10"/><circle cx="1922" cy="1771" r="10"/><circle cx="1863" cy="1755" r="10"/><circle cx="1860" cy="1751" r="10"/><circle cx="1922" cy="1781" r="10"/><circle cx="1911" cy="1768" r="10"/><circle cx="1892" cy="1764" r="10"/><circle cx="1916" cy="1773" r="10"/><circle cx="1922" cy="1787" r="10"/><circle cx="1873" cy="1740" r="10"/><circle cx="1929" cy="1767" r="10"/><circle cx="1887" cy="1757" r="10"/><circle cx="1896" cy="1740" r="10"/><circle cx="1914" cy="1778" r="10"/><circle cx="1873" cy="1760" r="10"/><circle cx="1867" cy="1754" r="10"/><circle cx="1903" cy="1768" r="10"/><circle cx="1920" cy="1782" r="10"/><circle cx="1867" cy="1721" r="10"/><circle cx="1905" cy="1776" r="10"/><circle cx="1872" cy="1739" r="10"/><circle cx="1857" cy="1736" r="10"/><circle cx="1869" cy="1735" r="10"/><circle cx="1878" cy="1754" r="10"/><circle cx="1887" cy="1780" r="10"/><circle cx="1917" cy="1767" r="10"/><circle cx="1857" cy="1757" r="10"/><circle cx="1878" cy="1745" r="10"/><circle cx="1853" cy="1750" r="10"/><circle cx="1909" cy="1767" r="10"/><circle cx="1894" cy="1758" r="10"/><circle cx="1904" cy="1793" r="10"/><circle cx="1905" cy="1778" r="10"/><circle cx="1934" cy="1772" r="10"/><circle cx="1915" cy="1773" r="10"/></g>
<g fill="#ccebc5"><circle cx="2237" cy="1440" r="10"/><circle cx="2250" cy="1448" r="10"/><circle cx="2260" cy="1438" r="10"/><circle cx="2279" cy="1443" r="10"/><circle cx="2267" cy="1459" r="10"/><circle cx="2281" cy="1456" r="10"/><circle cx="2295" cy="1457" r="10"/><circle cx="2251" cy="1472" r="10"/><circle cx="2297" cy="1416" r="10"/><circle cx="2300" cy="1437" r="10"/><circle cx="2316" cy="1440" r="10"/><circle cx="2332" cy="1413" r="10"/><circle cx="2362" cy="1414" r="10"/><circle cx="2376" cy="1415" r="10"/><circle cx="2379" cy="1424" r="10"/><circle cx="2386" cy="1404" r="10"/><circle cx="2385" cy="1411" r="10"/><circle cx="2400" cy="1412" r="10"/><circle cx="2404" cy="1388" r="10"/><circle cx="2414" cy="1411" r="10"/><circle cx="2418" cy="1396" r="10"/><circle cx="2425" cy="1407" r="10"/><circle cx="2432" cy="1402" r="10"/><circle cx="2435" cy="1425" r="10"/><circle cx="2438" cy="1391" r="10"/><circle cx="2443" cy="1389" r="10"/><circle cx="2447" cy="1396" r="10"/><circle cx="2454" cy="1394" r="10"/><circle cx="2461" cy="1382" r="10"/><circle cx="2410" cy="1402" r="10"/><circle cx="2420" cy="1403" r="10"/><circle cx="2428" cy="1399" r="10"/><circle cx="2436" cy="1397" r="10"/><circle cx="2445" cy="1392" r="10"/><circle cx="2408" cy="1408" r="10"/><circle cx="2483" cy="1378" r="10"/><circle cx="2487" cy="1374" r="10"/><circle cx="2498" cy="1372" r="10"/><circle cx="2494" cy="1385" r="10"/><circle cx="2505" cy="1383" r="10"/><circle cx="2498" cy="1403" r="10"/><circle cx="2514" cy="1367" r="10"/><circle cx="2518" cy="1373" r="10"/><circle cx="2490" cy="1378" r="10"/><circle cx="2496" cy="1380" r="10"/><circle cx="2548" cy="1365" r="10"/><circle cx="2550" cy="1370" r="10"/><circle cx="2553" cy="1370" r="10"/><circle cx="2576" cy="1372" r="10"/><circle cx="2581" cy="1360" r="10"/></g>
<g fill="#ccebc5"><circle cx="2650" cy="1347" r="10"/><circle cx="2591" cy="1357" r="10"/><circle cx="2601" cy="1358" r="10"/><circle cx="2658" cy="1324" r="10"/><circle cx="2647" cy="1331" r="10"/><circle cx="2660" cy="1338" r="10"/><circle cx="2677" cy="1326" r="10"/><circle cx="2686" cy="1330" r="10"/><circle cx="2630" cy="1339" r="10"/><circle cx="2601" cy="1353" r="10"/><circle cx="2686" cy="1347" r="10"/><circle cx="2620" cy="1347" r="10"/><circle cx="2673" cy="1335" r="10"/><circle cx="2634" cy="1338" r="10"/><circle cx="2653" cy="1349" r="10"/><circle cx="2667" cy="1345" r="10"/><circle cx="2631" cy="1342" r="10"/><circle cx="2652" cy="1347" r="10"/><circle cx="2656" cy="1330" r="10"/><circle cx="2649" cy="1350" r="10"/><circle cx="2639" cy="1330" r="10"/><circle cx="2650" cy="1334" r="10"/><circle cx="2678" cy="1335" r="10"/><circle cx="2642" cy="1350" r="10"/><circle cx="2591" cy="1349" r="10"/><circle cx="2674" cy="1348" r="10"/><circle cx="2583" cy="1351" r="10"/><circle cx="2647" cy="1348" r="10"/><circle cx="2591" cy="1342" r="10"/><circle cx="2684" cy="1323" r="10"/><circle cx="2685" cy="1334" r="10"/><circle cx="2661" cy="1346" r="10"/><circle cx="2646" cy="1330" r="10"/><circle cx="2612" cy="1345" r="10"/><circle cx="2609" cy="1335" r="10"/><circle cx="2599" cy="1352" r="10"/><circle cx="2678" cy="1335" r="10"/><circle cx="2596" cy="1353" r="10"/><circle cx="2590" cy="1361" r="10"/><circle cx="2657" cy="1342" r="10"/><circle cx="2655" cy="1352" r="10"/><circle cx="2614" cy="1354" r="10"/><circle cx="2690" cy="1329" r="10"/><circle cx="2613" cy="1355" r="10"/><circle cx="2687" cy="1337" r="10"/><circle cx="2628" cy="1351" r="10"/><circle cx="2687" cy="1334" r="10"/><circle cx="2612" cy="1358" r="10"/><circle cx="2717" cy="1320" r="10"/><circle cx="2757" cy="1323" r="10"/><circle cx="2705" cy="1336" r="10"/><circle cx="2776" cy="1333" r="10"/><circle cx="2821" cy="1310" r="10"/><circle cx="2790" cy="1313" r="10"/><circle cx="2790" cy="1318" r="10"/><circle cx="2742" cy="1326" r="10"/><circle cx="2753" cy="1316" r="10"/><circle cx="2751" cy="1320" r="10"/><circle cx="2707" cy="1318" r="10"/><circle cx="2795" cy="1309" r="10"/><circle cx="2840" cy="1309" r="10"/><circle cx="2762" cy="1310" r="10"/><circle cx="2832" cy="1289" r="10"/><circle cx="2705" cy="1328" r="10"/><circle cx="2785" cy="1315" r="10"/><circle cx="2733" cy="1332" r="10"/><circle cx="2793" cy="1304" r="10"/><circle cx="2767" cy="1323" r="10"/><circle cx="2752" cy="1332" r="10"/><circle cx="2736" cy="1315" r="10"/><circle cx="2830" cy="1298" r="10"/><circle cx="2815" cy="1322" r="10"/><circle cx="2796" cy="1305" r="10"/><circle cx="2704" cy="1332" r="10"/><circle cx="2788" cy="1308" r="10"/><circle cx="2784" cy="1327" r="10"/><circle cx="2776" cy="1303" r="10"/><circle cx="2785" cy="1307" r="10"/><circle cx="2707" cy="1325" r="10"/><circle cx="2704" cy="1332" r="10"/><circle cx="2837" cy="1298" r="10"/><circle cx="2726" cy="1324" r="10"/><circle cx="2789" cy="1308" r="10"/><circle cx="2748" cy="1334" r="10"/><circle cx="2798" cy="1318" r="10"/><circle cx="2790" cy="1311" r="10"/><circle cx="2728" cy="1326" r="10"/><circle cx="2801" cy="1313" r="10"/><circle cx="2776" cy="1326" r="10"/><circle cx="2706" cy="1336" r="10"/><circle cx="2838" cy="1301" r="10"/><circle cx="2836" cy="1319" r="10"/><circle cx="2802" cy="1307" r="10"/><circle cx="2725" cy="1326" r="10"/><circle cx="2712" cy="1332" r="10"/><circle cx="2799" cy="1315" r="10"/><circle cx="2742" cy="1314" r="10"/><circle cx="2838" cy="1298" r="10"/><circle cx="2781" cy="1322" r="10"/><circle cx="2727" cy="1331" r="10"/><circle cx="2784" cy="1308" r="10"/><circle cx="2739" cy="1312" r="10"/><circle cx="2709" cy="1325" r="10"/><circle cx="2741" cy="1329" r="10"/><circle cx="2783" cy="1317" r="10"/><circle cx="2714" cy="1322" r="10"/><circle cx="2741" cy="1316" r="10"/><circle cx="2799" cy="1316" r="10"/></g>
</g>
<g stroke="#000" stroke-opacity="0.77" stroke-width="3.33" stroke-linecap="square" fill="none">
<path d="M526.5 45.5V2318.5"/><path d="M2955.5 45.5V2318.5"/><path d="M526.5 2318.5H2955.5"/><path d="M526.5 45.5H2955.5"/></g>
<g stroke="#000" stroke-width="3.33" fill="none">
<path d="M751.5 2318.5v14.8M1218.5 2318.5v14.8M1685.5 2318.5v14.8M2152.5 2318.5v14.8M2619.5 2318.5v14.8M526.5 120.5h-14.8M526.5 416.5h-14.8M526.5 712.5h-14.8M526.5 1009.5h-14.8M526.5 1305.5h-14.8M526.5 1601.5h-14.8M526.5 1897.5h-14.8M526.5 2193.5h-14.8"/></g>
<g font-size="100" text-anchor="end" letter-spacing="5.44" stroke="#000" stroke-width="1.2" stroke-linejoin="round">
<text transform="translate(496.14,156.90) scale(0.9960,1.0353)">3.0</text>
<text transform="translate(496.14,452.90) scale(0.9960,1.0353)">2.5</text>
<text transform="translate(496.14,748.90) scale(0.9960,1.0353)">2.0</text>
<text transform="translate(496.14,1045.90) scale(0.9960,1.0353)">1.5</text>
<text transform="translate(496.14,1341.90) scale(0.9960,1.0353)">1.0</text>
<text transform="translate(496.14,1637.90) scale(0.9960,1.0353)">0.5</text>
<text transform="translate(496.14,1933.90) scale(0.9960,1.0353)">0.0</text>
<text transform="translate(339.00,2234.40) scale(1.2362,1.0353)">−</text>
<text transform="translate(496.14,2229.90) scale(0.9960,1.0353)">0.5</text>
</g>
<g font-size="100" text-anchor="middle" stroke="#000" stroke-width="1.2" stroke-linejoin="round">
<text transform="translate(750.90,2423.40) scale(0.9960,1.0353)">0</text>
<text transform="translate(1217.90,2423.40) scale(0.9960,1.0353)">1</text>
<text transform="translate(1684.90,2423.40) scale(0.9960,1.0353)">2</text>
<text transform="translate(2151.90,2423.40) scale(0.9960,1.0353)">3</text>
<text transform="translate(2618.90,2423.40) scale(0.9960,1.0353)">4</text>
</g>
<g><text class="i" font-size="200" stroke="#000" stroke-width="2.6" stroke-linejoin="round" transform="translate(1624.00,2613.00) scale(0.9811,1.0271)">a</text><text class="i" font-size="140" stroke="#000" stroke-width="1.8" stroke-linejoin="round" transform="translate(1745.00,2644.00) scale(0.9720,1.0406)">i</text><text font-size="140" stroke="#000" stroke-width="1.8" stroke-linejoin="round" transform="translate(1784.00,2645.00) scale(1.0408,1.0603)">0</text></g>
<g transform="translate(196.00,1293.00) rotate(-90) translate(-1627,-2615)"><text class="i" font-size="200" stroke="#000" stroke-width="2.6" stroke-linejoin="round" transform="translate(1624.00,2613.00) scale(0.9811,1.0271)">a</text><text class="i" font-size="140" stroke="#000" stroke-width="1.8" stroke-linejoin="round" transform="translate(1745.00,2644.00) scale(0.9720,1.0406)">i</text><text font-size="140" stroke="#000" stroke-width="1.8" stroke-linejoin="round" transform="translate(1784.00,2645.00) scale(0.9850,1.0603)">1</text></g>
</svg>
</body></html>
